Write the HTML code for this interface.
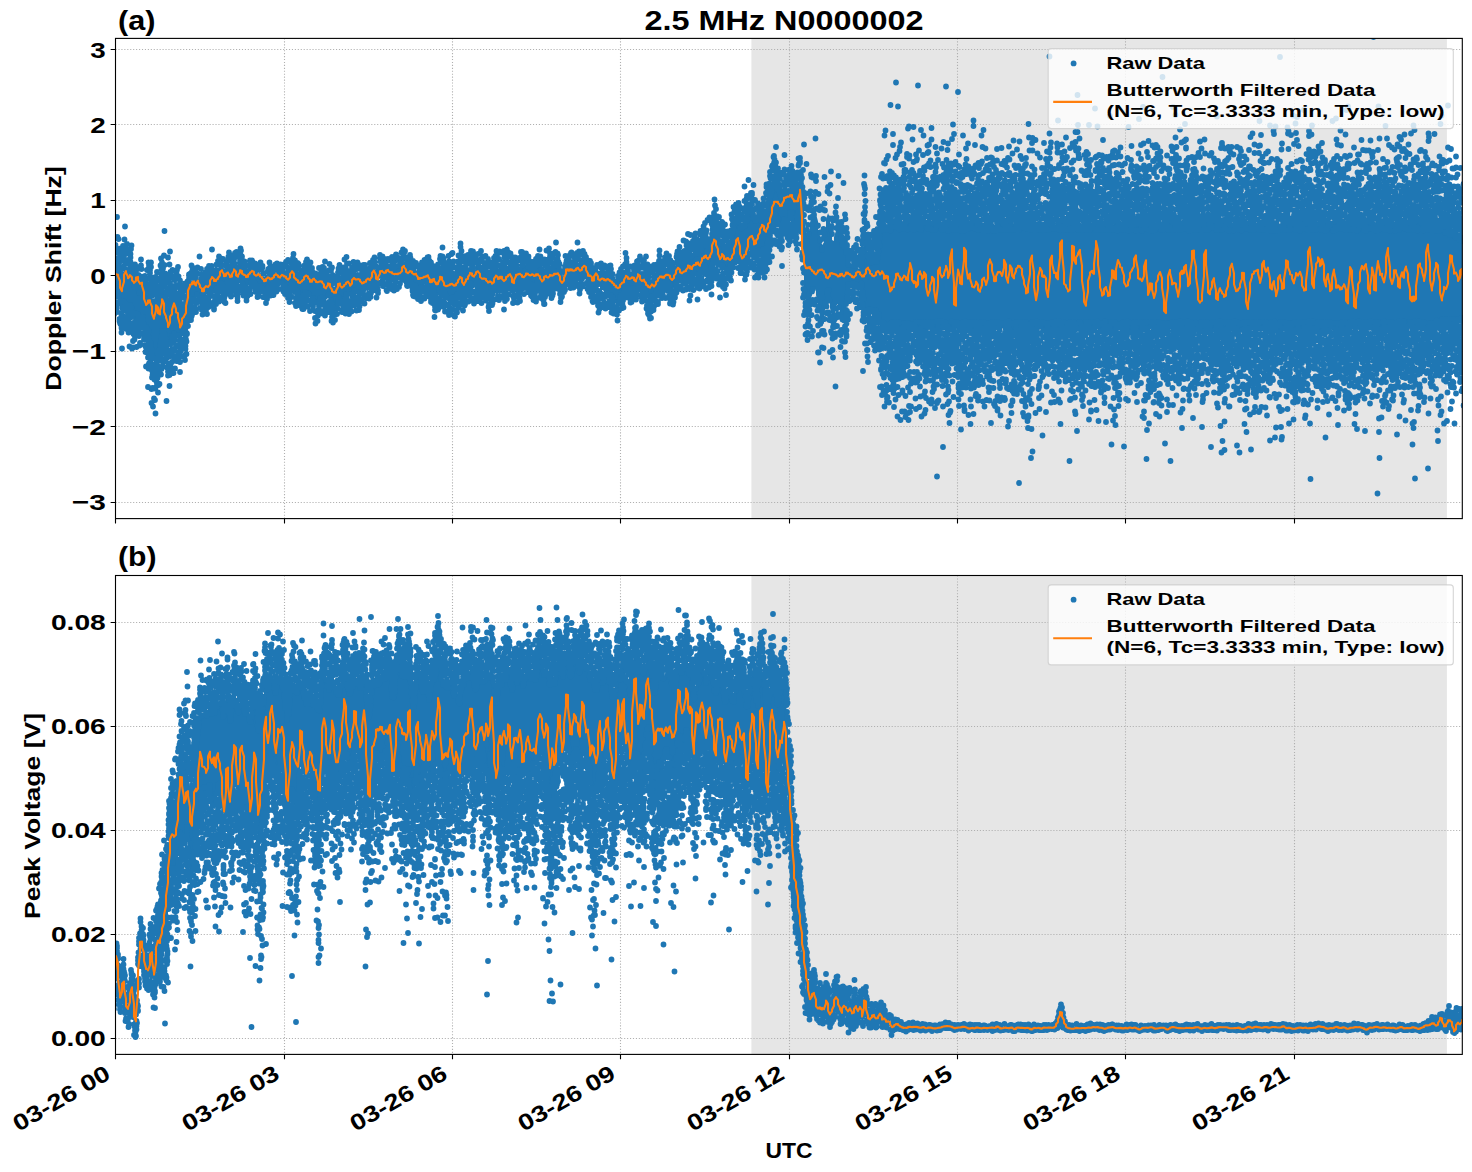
<!DOCTYPE html><html><head><meta charset="utf-8"><style>html,body{margin:0;padding:0;background:#fff;width:1472px;height:1172px;overflow:hidden}svg{display:block}text{font-family:"Liberation Sans",sans-serif;font-weight:bold;fill:#000}</style></head><body><svg width="1472" height="1172" viewBox="0 0 1472 1172"><defs><clipPath id="ca"><rect x="115.5" y="38.4" width="1346.8" height="480.20000000000005"/></clipPath><clipPath id="cb"><rect x="115.5" y="575.5" width="1346.8" height="478.9000000000001"/></clipPath></defs><rect x="751.4" y="38.4" width="695.5000000000001" height="480.20000000000005" fill="#e6e6e6"/><path d="M284.5 38.4V518.6M452.5 38.4V518.6M620.5 38.4V518.6M789.5 38.4V518.6M957.5 38.4V518.6M1125.5 38.4V518.6M1294.5 38.4V518.6M115.5 49.5H1462.3M115.5 124.5H1462.3M115.5 200.5H1462.3M115.5 275.5H1462.3M115.5 351.5H1462.3M115.5 426.5H1462.3M115.5 502.5H1462.3" stroke="#b0b0b0" stroke-width="1.11" stroke-dasharray="1.11 1.83" fill="none"/><g clip-path="url(#ca)"><path d="M112 275.8 114 269.3 114 262.1 116 258.5 116 258.1 118 258.3 118 260.7 120 268.1 120 278.0 122 282.2 122 277.4 124 270.3 124 266.0 126 264.6 126 267.8 128 272.8 128 272.5 130 268.1 130 267.1 132 272.2 132 279.2 134 285.1 134 287.5 136 285.2 136 281.7 138 282.1 138 286.9 140 291.0 140 289.8 142 286.2 142 285.7 144 288.5 144 290.3 146 290.3 146 289.4 148 288.7 148 289.1 150 291.6 150 295.5 152 299.8 152 304.9 154 308.3 154 307.6 156 304.1 156 301.1 158 301.7 158 302.7 160 300.3 160 295.3 162 289.2 162 285.4 164 286.3 164 290.7 166 294.2 166 296.3 168 301.4 168 305.5 170 303.8 170 300.9 172 299.8 172 297.4 174 294.7 174 296.1 176 299.3 176 299.1 178 296.5 178 295.9 180 298.3 180 301.3 182 302.8 182 301.9 184 302.2 184 304.1 186 304.3 186 300.5 188 293.7 188 287.2 190 283.7 190 283.2 192 283.5 192 282.0 194 280.9 194 283.1 196 284.1 196 280.5 198 277.0 198 278.4 200 282.2 200 284.1 202 286.2 202 288.6 204 287.6 204 284.1 206 281.5 206 280.1 208 279.9 208 280.9 210 280.9 210 278.8 212 277.0 212 277.9 214 279.9 214 279.9 216 277.3 216 274.3 218 271.9 218 270.4 220 269.7 220 269.1 222 269.3 222 271.3 224 273.8 224 274.5 226 272.6 226 269.4 228 267.1 228 266.8 230 268.1 230 269.4 232 268.7 232 266.4 234 264.1 234 263.8 236 266.5 236 269.8 238 270.4 238 268.2 240 265.4 240 263.8 242 264.9 242 268.7 244 272.2 244 273.7 246 275.3 246 276.6 248 276.2 248 275.2 250 274.0 250 272.4 252 270.1 252 267.8 254 267.9 254 270.0 256 273.1 256 275.1 258 275.1 258 274.9 260 275.3 260 276.0 262 276.2 262 277.1 264 279.3 264 280.7 266 280.4 266 279.6 268 279.1 268 277.9 270 276.4 270 275.8 272 275.3 272 274.3 274 273.0 274 272.5 276 272.8 276 272.5 278 272.7 278 273.8 280 274.0 280 273.6 282 273.4 282 273.8 284 273.7 284 272.8 286 272.7 286 274.5 288 276.9 288 278.0 290 276.4 290 272.7 292 269.4 292 268.6 294 270.4 294 272.9 296 273.8 296 273.7 298 275.3 298 279.4 300 282.5 300 282.3 302 280.4 302 279.3 304 277.2 304 273.8 306 273.0 306 274.3 308 274.8 308 275.5 310 277.3 310 280.6 312 283.6 312 282.6 314 280.3 314 281.5 316 284.7 316 287.5 318 289.0 318 288.4 320 286.2 320 284.3 322 282.3 322 280.6 324 281.3 324 283.6 326 285.1 326 285.0 328 282.8 328 280.3 330 279.7 330 282.0 332 286.4 332 290.4 334 293.2 334 294.4 336 293.5 336 290.0 338 285.3 338 282.4 340 282.0 340 283.2 342 284.2 342 283.5 344 281.4 344 279.9 346 278.6 346 277.6 348 277.3 348 279.5 350 283.1 350 282.7 352 279.3 352 276.6 354 276.0 354 277.7 356 279.3 356 279.9 358 279.6 358 278.1 360 277.1 360 277.8 362 279.4 362 279.1 364 277.0 364 275.0 366 274.3 366 273.7 368 273.2 368 273.9 370 274.5 370 273.3 372 270.6 372 267.4 374 265.5 374 266.4 376 270.4 376 274.4 378 275.1 378 272.3 380 268.0 380 264.6 382 263.1 382 263.6 384 265.4 384 267.3 386 268.0 386 266.6 388 265.3 388 266.2 390 267.9 390 267.9 392 267.2 392 267.7 394 268.4 394 267.5 396 266.7 396 266.9 398 266.8 398 266.9 400 268.2 400 268.3 402 265.5 402 261.6 404 259.8 404 261.0 406 262.7 406 264.2 408 265.5 408 265.7 410 266.2 410 267.4 412 268.3 412 269.7 414 271.6 414 272.6 416 272.1 416 273.6 418 277.1 418 278.6 420 277.4 420 275.9 422 275.0 422 274.7 424 273.6 424 272.0 426 272.0 426 272.0 428 271.4 428 271.7 430 273.5 430 275.4 432 275.6 432 274.5 434 274.1 434 276.8 436 280.7 436 281.9 438 280.3 438 276.8 440 271.5 440 267.6 442 266.9 442 268.2 444 270.5 444 273.7 446 276.5 446 278.1 448 279.7 448 280.3 450 279.1 450 277.0 452 276.1 452 277.4 454 279.4 454 280.0 456 278.5 456 276.4 458 274.7 458 272.2 460 268.8 460 267.0 462 268.2 462 271.3 464 274.4 464 275.3 466 273.9 466 272.6 468 272.3 468 270.6 470 267.0 470 265.0 472 266.1 472 269.5 474 272.3 474 272.0 476 269.0 476 265.3 478 262.8 478 262.6 480 265.5 480 269.8 482 272.5 482 272.5 484 271.2 484 270.5 486 271.6 486 273.6 488 275.5 488 276.7 490 276.4 490 275.4 492 274.7 492 273.8 494 272.1 494 269.3 496 266.3 496 266.0 498 268.0 498 268.5 500 267.1 500 265.8 502 265.7 502 267.7 504 270.6 504 271.4 506 269.7 506 267.1 508 265.3 508 264.1 510 262.4 510 263.0 512 267.4 512 272.9 514 275.9 514 275.0 516 272.7 516 272.0 518 271.9 518 271.1 520 269.4 520 267.2 522 266.0 522 265.6 524 265.3 524 264.8 526 263.9 526 263.0 528 263.7 528 265.2 530 267.2 530 270.2 532 272.1 532 272.1 534 271.8 534 271.3 536 268.7 536 266.0 538 265.0 538 265.3 540 267.3 540 271.3 542 275.4 542 277.2 544 276.4 544 274.6 546 273.7 546 272.3 548 270.2 548 269.1 550 268.7 550 269.4 552 270.5 552 269.7 554 267.2 554 265.3 556 264.8 556 265.4 558 266.8 558 269.6 560 273.8 560 278.8 562 280.8 562 278.6 564 276.1 564 274.0 566 269.0 566 264.2 568 264.4 568 265.7 570 264.9 570 263.6 572 264.1 572 265.4 574 265.5 574 264.9 576 264.1 576 261.8 578 261.0 578 263.5 580 266.0 580 266.6 582 265.8 582 263.9 584 262.2 584 261.7 586 262.5 586 264.6 588 267.2 588 268.9 590 269.2 590 269.3 592 272.2 592 277.4 594 279.6 594 277.8 596 276.4 596 277.8 598 282.4 598 287.6 600 288.5 600 284.9 602 280.4 602 277.8 604 277.6 604 278.6 606 279.3 606 278.3 608 278.1 608 279.6 610 280.3 610 279.9 612 280.6 612 282.8 614 285.5 614 287.7 616 288.6 616 288.4 618 287.7 618 287.1 620 285.6 620 282.9 622 281.0 622 280.4 624 279.4 624 276.5 626 273.0 626 271.8 628 274.2 628 277.2 630 279.4 630 280.0 632 278.6 632 276.7 634 275.9 634 277.4 636 278.5 636 276.6 638 272.6 638 269.6 640 268.9 640 270.5 642 273.2 642 274.6 644 273.6 644 273.4 646 276.1 646 279.6 648 283.4 648 286.0 650 286.8 650 285.4 652 281.9 652 280.4 654 281.7 654 280.6 656 276.7 656 274.5 658 273.7 658 271.1 660 268.5 660 267.4 662 267.0 662 267.4 664 267.5 664 266.0 666 265.6 666 267.2 668 268.4 668 268.5 670 269.7 670 273.0 672 276.0 672 276.5 674 276.1 674 275.3 676 273.4 676 269.3 678 263.5 678 259.5 680 259.4 680 261.6 682 263.1 682 263.2 684 261.7 684 259.1 686 257.6 686 257.4 688 256.9 688 256.2 690 256.3 690 256.7 692 256.6 692 254.9 694 253.3 694 254.2 696 256.0 696 255.5 698 253.6 698 253.5 700 253.1 700 249.2 702 244.8 702 243.3 704 243.7 704 243.4 706 243.7 706 247.1 708 250.6 708 250.5 710 248.6 710 246.1 712 241.2 712 235.3 714 231.9 714 230.9 716 231.8 716 234.4 718 237.4 718 239.8 720 242.2 720 243.8 722 243.1 722 243.3 724 247.0 724 250.3 726 251.0 726 250.9 728 250.2 728 249.0 730 246.7 730 242.2 732 236.5 732 230.9 734 225.8 734 221.3 736 218.0 736 216.2 738 215.8 738 217.7 740 222.2 740 227.2 742 229.8 742 228.6 744 225.3 744 224.5 746 225.6 746 223.7 748 217.8 748 211.7 750 209.1 750 209.6 752 210.5 752 212.1 754 216.8 754 221.4 756 221.6 756 220.1 758 219.9 758 219.8 760 218.9 760 217.6 762 216.3 762 214.5 764 213.4 764 213.7 766 213.8 766 212.1 768 208.2 768 204.1 770 200.7 770 196.5 772 190.4 772 185.3 774 182.6 774 181.3 776 182.3 776 185.1 778 187.9 778 191.2 780 193.6 780 194.8 782 196.2 782 196.3 784 194.0 784 192.1 786 192.1 786 191.6 788 190.2 788 189.4 790 187.9 790 185.5 792 184.6 792 187.5 794 192.4 794 195.3 796 195.7 796 194.3 798 191.2 798 185.6 800 179.5 800 177.0 802 188.1 802 199.9 804 208.0 804 219.7 806 230.6 806 234.9 808 236.3 808 234.0 810 228.6 810 222.6 812 216.5 812 211.8 814 209.9 814 209.6 816 210.3 816 213.9 818 221.2 818 229.5 820 236.1 820 240.5 822 244.0 822 245.2 824 242.2 824 235.6 826 227.1 826 218.7 828 213.2 828 213.1 830 217.9 830 225.5 832 233.9 832 240.1 834 241.1 834 236.9 836 230.4 836 226.2 838 225.3 838 226.7 840 230.3 840 236.7 842 243.2 842 245.7 844 244.8 844 244.1 846 247.4 846 253.8 848 260.3 848 263.9 850 264.0 850 264.4 852 264.2 852 263.0 854 262.8 854 264.2 856 265.7 856 266.6 858 267.4 858 268.4 860 267.9 860 266.4 862 265.7 862 257.0 864 239.8 864 224.0 866 224.9 866 239.6 868 253.2 868 260.0 870 260.0 870 259.7 872 259.9 872 260.3 874 259.6 874 259.3 876 259.7 876 259.8 878 259.3 878 253.7 880 242.7 880 231.4 882 225.1 882 223.7 884 222.0 884 221.5 886 222.8 886 224.4 888 224.3 888 222.9 890 222.5 890 223.0 892 222.7 892 221.9 894 221.4 894 220.6 896 219.7 896 219.5 898 220.7 898 222.0 900 221.5 900 220.1 902 219.1 902 220.3 904 222.7 904 223.5 906 223.1 906 222.8 908 222.9 908 222.5 910 221.3 910 221.0 912 221.2 912 221.2 914 221.3 914 221.5 916 221.3 916 221.7 918 221.9 918 222.0 920 221.9 920 221.2 922 221.0 922 222.0 924 223.1 924 223.0 926 221.8 926 221.4 928 221.9 928 221.9 930 222.6 930 223.0 932 221.6 932 220.5 934 221.0 934 221.8 936 222.1 936 222.5 938 223.1 938 222.9 940 222.1 940 222.1 942 222.1 942 221.4 944 221.1 944 221.4 946 222.0 946 222.3 948 222.4 948 221.9 950 221.5 950 221.8 952 222.1 952 222.0 954 222.0 954 222.1 956 222.0 956 221.8 958 222.5 958 223.1 960 222.7 960 222.3 962 222.1 962 222.6 964 223.2 964 222.3 966 221.2 966 221.9 968 223.0 968 222.7 970 222.0 970 222.1 972 222.2 972 221.3 974 221.1 974 221.4 976 221.6 976 221.4 978 221.0 978 220.8 980 221.3 980 222.3 982 222.7 982 222.5 984 223.0 984 223.8 986 223.6 986 222.6 988 221.8 988 221.7 990 222.0 990 222.3 992 222.2 992 223.0 994 224.3 994 225.0 996 224.8 996 224.5 998 224.2 998 222.7 1000 221.9 1000 223.0 1002 223.4 1002 222.4 1004 221.5 1004 221.8 1006 222.8 1006 222.9 1008 222.7 1008 222.9 1010 223.0 1010 222.9 1012 222.9 1012 223.2 1014 223.5 1014 222.7 1016 222.8 1016 223.5 1018 223.4 1018 222.6 1020 221.8 1020 221.4 1022 221.7 1022 222.0 1024 221.8 1024 221.6 1026 222.5 1026 223.5 1028 223.9 1028 223.5 1030 222.0 1030 220.7 1032 220.9 1032 221.9 1034 222.3 1034 221.7 1036 221.3 1036 221.7 1038 222.4 1038 222.6 1040 222.5 1040 223.0 1042 223.0 1042 222.3 1044 221.5 1044 221.2 1046 220.9 1046 220.3 1048 220.5 1048 222.1 1050 223.2 1050 222.2 1052 221.4 1052 221.8 1054 222.4 1054 223.6 1056 224.4 1056 223.9 1058 222.8 1058 222.2 1060 222.7 1060 222.6 1062 221.2 1062 220.6 1064 221.8 1064 222.6 1066 222.5 1066 222.3 1068 222.6 1068 222.8 1070 222.1 1070 221.6 1072 221.5 1072 222.0 1074 222.0 1074 221.0 1076 219.7 1076 219.7 1078 220.3 1078 220.5 1080 221.2 1080 222.7 1082 223.7 1082 223.4 1084 222.5 1084 222.1 1086 222.1 1086 221.3 1088 221.1 1088 222.5 1090 223.7 1090 223.5 1092 222.2 1092 221.3 1094 221.0 1094 221.7 1096 222.6 1096 222.2 1098 221.3 1098 220.9 1100 221.5 1100 222.1 1102 221.8 1102 221.2 1104 221.4 1104 222.2 1106 222.4 1106 222.8 1108 223.6 1108 223.4 1110 222.5 1110 222.6 1112 222.8 1112 223.3 1114 224.2 1114 223.8 1116 222.8 1116 222.4 1118 223.1 1118 223.7 1120 223.1 1120 222.3 1122 222.0 1122 221.8 1124 222.4 1124 222.9 1126 222.9 1126 222.7 1128 223.6 1128 224.6 1130 224.4 1130 223.5 1132 223.0 1132 223.1 1134 222.8 1134 222.6 1136 222.3 1136 222.1 1138 222.6 1138 222.7 1140 222.4 1140 222.0 1142 222.0 1142 222.6 1144 222.9 1144 222.1 1146 221.9 1146 221.8 1148 221.3 1148 221.7 1150 222.8 1150 223.5 1152 224.2 1152 225.0 1154 224.5 1154 222.8 1156 221.7 1156 221.7 1158 222.1 1158 221.8 1160 221.0 1160 220.9 1162 221.6 1162 221.8 1164 222.0 1164 223.0 1166 223.5 1166 223.0 1168 222.7 1168 222.5 1170 222.3 1170 222.7 1172 222.8 1172 222.0 1174 221.5 1174 221.4 1176 221.8 1176 221.8 1178 221.0 1178 220.9 1180 222.0 1180 222.5 1182 222.8 1182 222.9 1184 222.8 1184 222.9 1186 223.4 1186 223.4 1188 222.6 1188 221.1 1190 220.3 1190 221.5 1192 222.9 1192 222.5 1194 222.2 1194 222.6 1196 222.5 1196 222.2 1198 222.0 1198 222.5 1200 222.6 1200 222.1 1202 221.9 1202 222.4 1204 223.0 1204 222.9 1206 222.3 1206 221.5 1208 221.2 1208 221.4 1210 221.8 1210 222.2 1212 222.1 1212 222.0 1214 221.8 1214 222.1 1216 223.2 1216 223.6 1218 223.2 1218 223.5 1220 224.1 1220 223.6 1222 223.0 1222 223.0 1224 222.7 1224 221.8 1226 221.4 1226 221.5 1228 222.3 1228 223.4 1230 224.6 1230 224.7 1232 223.6 1232 223.4 1234 224.9 1234 225.8 1236 224.2 1236 223.0 1238 222.9 1238 222.5 1240 222.0 1240 221.7 1242 221.7 1242 221.6 1244 221.5 1244 222.0 1246 222.6 1246 222.8 1248 222.1 1248 221.2 1250 220.9 1250 221.1 1252 221.8 1252 222.5 1254 222.7 1254 222.0 1256 222.0 1256 222.9 1258 222.9 1258 221.9 1260 221.3 1260 221.6 1262 221.4 1262 220.7 1264 220.9 1264 221.7 1266 221.9 1266 221.4 1268 221.7 1268 222.8 1270 223.3 1270 222.3 1272 221.4 1272 221.6 1274 222.6 1274 223.6 1276 224.0 1276 223.4 1278 222.9 1278 223.6 1280 224.3 1280 223.8 1282 223.0 1282 222.3 1284 222.4 1284 222.8 1286 222.7 1286 222.7 1288 223.5 1288 224.5 1290 224.0 1290 222.9 1292 223.2 1292 223.7 1294 223.1 1294 222.5 1296 221.9 1296 221.4 1298 222.3 1298 223.1 1300 222.5 1300 221.8 1302 221.0 1302 220.3 1304 220.0 1304 220.4 1306 221.2 1306 221.6 1308 221.4 1308 221.3 1310 221.9 1310 223.0 1312 223.9 1312 223.3 1314 222.3 1314 222.2 1316 222.1 1316 221.6 1318 221.8 1318 222.2 1320 223.1 1320 224.1 1322 223.7 1322 222.6 1324 222.3 1324 222.9 1326 222.7 1326 221.4 1328 220.5 1328 220.4 1330 220.8 1330 221.7 1332 222.6 1332 223.3 1334 223.7 1334 223.1 1336 222.0 1336 221.7 1338 222.0 1338 222.4 1340 222.7 1340 223.5 1342 224.2 1342 224.3 1344 223.8 1344 222.8 1346 222.8 1346 223.2 1348 223.2 1348 222.4 1350 221.6 1350 221.6 1352 221.8 1352 222.3 1354 222.4 1354 221.4 1356 220.9 1356 221.8 1358 222.7 1358 223.4 1360 223.9 1360 224.3 1362 224.3 1362 223.7 1364 223.4 1364 223.4 1366 222.8 1366 222.3 1368 222.5 1368 222.4 1370 222.0 1370 222.0 1372 222.5 1372 222.6 1374 223.0 1374 223.1 1376 222.3 1376 222.3 1378 222.7 1378 221.7 1380 220.9 1380 221.6 1382 222.6 1382 222.4 1384 221.7 1384 222.2 1386 223.7 1386 224.4 1388 224.5 1388 224.7 1390 224.1 1390 222.9 1392 223.0 1392 222.9 1394 223.5 1394 224.7 1396 224.6 1396 223.3 1398 221.7 1398 221.1 1400 221.8 1400 222.1 1402 222.0 1402 221.7 1404 221.8 1404 221.9 1406 221.4 1406 221.4 1408 221.6 1408 222.3 1410 222.7 1410 222.6 1412 222.3 1412 222.5 1414 223.0 1414 223.2 1416 222.9 1416 222.8 1418 223.0 1418 222.9 1420 223.0 1420 223.4 1422 223.1 1422 222.6 1424 222.5 1424 222.7 1426 222.6 1426 222.4 1428 222.4 1428 223.2 1430 224.2 1430 224.5 1432 224.3 1432 224.2 1434 223.9 1434 224.1 1436 224.3 1436 223.8 1438 223.3 1438 224.0 1440 225.7 1440 226.7 1442 226.5 1442 226.0 1444 225.8 1444 225.5 1446 225.1 1446 224.9 1448 224.9 1448 225.3 1450 226.2 1450 227.6 1452 228.4 1452 228.6 1454 229.0 1454 229.9 1456 230.6 1456 230.8 1458 231.2 1458 232.7 1460 234.1 1460 234.3 1462 234.2 1462 235.0 1464 235.7 1464 235.5 1464 325.7 1464 325.0 1462 323.9 1462 323.4 1460 323.1 1460 323.3 1458 323.4 1458 324.0 1456 324.8 1456 324.3 1454 324.0 1454 324.4 1452 324.5 1452 324.5 1450 325.5 1450 326.2 1448 325.8 1448 326.0 1446 326.2 1446 325.7 1444 325.5 1444 326.0 1442 327.1 1442 328.0 1440 328.1 1440 328.2 1438 329.0 1438 329.7 1436 329.9 1436 329.2 1434 329.1 1434 329.9 1432 330.1 1432 329.7 1430 329.0 1430 328.1 1428 328.0 1428 328.2 1426 328.9 1426 330.1 1424 330.8 1424 331.2 1422 330.9 1422 329.8 1420 329.4 1420 330.2 1418 330.9 1418 331.2 1416 330.4 1416 328.8 1414 329.1 1414 329.7 1412 329.9 1412 330.7 1410 330.4 1410 328.6 1408 327.3 1408 327.2 1406 328.4 1406 329.7 1404 330.8 1404 331.2 1402 331.0 1402 330.7 1400 330.4 1400 330.5 1398 330.0 1398 329.7 1396 330.1 1396 330.3 1394 330.5 1394 330.6 1392 330.7 1392 330.8 1390 331.2 1390 331.1 1388 331.0 1388 331.0 1386 330.7 1386 331.1 1384 331.3 1384 330.5 1382 329.4 1382 329.0 1380 329.8 1380 330.5 1378 330.0 1378 329.9 1376 330.3 1376 330.4 1374 330.0 1374 329.3 1372 328.4 1372 328.8 1370 329.7 1370 330.2 1368 330.1 1368 329.5 1366 329.1 1366 329.4 1364 330.0 1364 330.4 1362 331.0 1362 331.8 1360 331.7 1360 330.4 1358 329.7 1358 329.8 1356 330.3 1356 330.4 1354 330.1 1354 329.4 1352 328.8 1352 328.8 1350 328.8 1350 327.9 1348 327.7 1348 328.3 1346 329.2 1346 329.5 1344 329.0 1344 329.2 1342 329.6 1342 329.2 1340 328.6 1340 328.8 1338 329.6 1338 329.5 1336 328.4 1336 328.6 1334 330.2 1334 330.6 1332 330.2 1332 329.7 1330 329.7 1330 330.5 1328 330.8 1328 329.9 1326 329.4 1326 329.0 1324 329.1 1324 330.3 1322 331.4 1322 330.8 1320 330.6 1320 331.5 1318 331.3 1318 331.0 1316 331.3 1316 331.4 1314 331.1 1314 330.8 1312 330.2 1312 329.4 1310 329.2 1310 330.0 1308 331.0 1308 330.8 1306 329.7 1306 329.8 1304 331.2 1304 331.8 1302 330.9 1302 329.8 1300 329.1 1300 328.6 1298 329.1 1298 329.7 1296 330.2 1296 330.4 1294 329.8 1294 329.4 1292 329.4 1292 329.5 1290 329.9 1290 330.3 1288 329.7 1288 329.0 1286 328.6 1286 329.1 1284 330.0 1284 330.1 1282 329.3 1282 328.9 1280 329.4 1280 330.8 1278 332.0 1278 331.7 1276 330.7 1276 330.3 1274 329.4 1274 327.9 1272 327.5 1272 328.5 1270 329.9 1270 331.0 1268 331.3 1268 331.3 1266 331.3 1266 330.8 1264 330.3 1264 330.7 1262 331.0 1262 331.5 1260 331.7 1260 331.2 1258 331.0 1258 330.6 1256 330.9 1256 331.3 1254 330.8 1254 330.3 1252 330.4 1252 330.4 1250 330.1 1250 330.3 1248 330.3 1248 330.4 1246 331.2 1246 331.4 1244 330.5 1244 330.0 1242 330.4 1242 330.9 1240 331.2 1240 331.2 1238 331.1 1238 331.2 1236 331.0 1236 330.0 1234 329.2 1234 329.2 1232 330.2 1232 331.2 1230 332.0 1230 332.3 1228 331.1 1228 330.1 1226 329.8 1226 329.4 1224 330.2 1224 331.9 1222 332.2 1222 331.2 1220 330.9 1220 331.7 1218 331.6 1218 330.8 1216 331.0 1216 331.3 1214 330.8 1214 330.4 1212 330.1 1212 330.1 1210 330.5 1210 330.4 1208 330.6 1208 330.4 1206 330.0 1206 330.0 1204 330.1 1204 330.0 1202 330.4 1202 331.2 1200 331.3 1200 330.5 1198 330.1 1198 329.9 1196 329.0 1196 327.8 1194 327.3 1194 328.0 1192 328.6 1192 329.2 1190 329.8 1190 329.4 1188 328.5 1188 328.2 1186 328.9 1186 330.9 1184 332.3 1184 331.4 1182 329.8 1182 329.2 1180 329.5 1180 329.9 1178 329.9 1178 330.2 1176 331.3 1176 331.5 1174 330.6 1174 329.9 1172 329.4 1172 329.3 1170 329.2 1170 329.3 1168 329.6 1168 329.9 1166 330.3 1166 330.0 1164 329.1 1164 329.2 1162 329.7 1162 329.6 1160 329.4 1160 328.9 1158 328.5 1158 328.4 1156 329.1 1156 330.3 1154 331.0 1154 330.9 1152 329.7 1152 328.8 1150 329.0 1150 329.2 1148 330.0 1148 332.0 1146 333.3 1146 333.3 1144 332.1 1144 329.9 1142 329.8 1142 331.8 1140 332.2 1140 331.3 1138 330.7 1138 330.0 1136 330.0 1136 330.8 1134 331.2 1134 331.3 1132 331.2 1132 331.1 1130 330.9 1130 330.4 1128 329.6 1128 328.8 1126 329.2 1126 330.0 1124 329.8 1124 328.8 1122 328.2 1122 328.2 1120 328.8 1120 329.9 1118 330.0 1118 329.8 1116 330.6 1116 330.9 1114 330.9 1114 331.6 1112 332.0 1112 331.8 1110 330.7 1110 329.5 1108 329.1 1108 329.0 1106 329.5 1106 330.3 1104 330.5 1104 329.9 1102 329.2 1102 329.3 1100 330.1 1100 330.5 1098 330.1 1098 329.5 1096 329.2 1096 329.9 1094 330.7 1094 330.4 1092 329.8 1092 329.9 1090 329.9 1090 329.4 1088 329.5 1088 329.7 1086 329.4 1086 329.4 1084 329.3 1084 329.4 1082 329.3 1082 329.0 1080 328.9 1080 329.9 1078 331.1 1078 330.7 1076 330.0 1076 329.7 1074 329.1 1074 329.1 1072 329.7 1072 329.9 1070 329.9 1070 330.5 1068 331.3 1068 331.8 1066 331.4 1066 331.0 1064 331.4 1064 330.6 1062 329.4 1062 329.9 1060 331.0 1060 331.3 1058 331.2 1058 331.2 1056 330.3 1056 328.8 1054 328.9 1054 330.5 1052 331.1 1052 330.6 1050 330.4 1050 329.9 1048 329.1 1048 328.2 1046 328.2 1046 329.6 1044 330.5 1044 329.8 1042 329.2 1042 329.0 1040 328.5 1040 328.7 1038 329.1 1038 329.0 1036 329.5 1036 330.8 1034 330.8 1034 330.2 1032 330.3 1032 329.8 1030 329.0 1030 328.8 1028 328.6 1028 328.8 1026 328.8 1026 328.9 1024 329.3 1024 329.7 1022 329.6 1022 329.1 1020 328.8 1020 329.8 1018 330.9 1018 330.8 1016 329.8 1016 329.4 1014 330.4 1014 331.7 1012 332.1 1012 331.5 1010 331.0 1010 331.2 1008 331.1 1008 330.2 1006 329.2 1006 328.5 1004 328.1 1004 327.9 1002 328.5 1002 329.2 1000 329.8 1000 329.5 998 328.7 998 329.2 996 330.0 996 329.5 994 329.4 994 330.5 992 331.3 992 330.4 990 329.5 990 329.9 988 330.2 988 330.6 986 330.7 986 330.1 984 329.8 984 329.9 982 329.7 982 329.9 980 331.1 980 331.9 978 331.6 978 330.4 976 329.3 976 328.7 974 328.4 974 329.5 972 330.5 972 330.6 970 330.1 970 329.5 968 329.8 968 330.0 966 329.6 966 329.8 964 329.5 964 328.1 962 328.1 962 329.3 960 330.7 960 331.0 958 330.6 958 329.7 956 328.7 956 327.9 954 328.9 954 330.1 952 329.8 952 328.9 950 329.0 950 330.1 948 331.1 948 331.0 946 330.3 946 329.9 944 330.2 944 329.7 942 328.8 942 329.2 940 330.4 940 330.9 938 330.0 938 328.5 936 328.3 936 329.3 934 329.9 934 329.9 932 329.8 932 329.8 930 329.7 930 329.7 928 330.1 928 331.1 926 331.5 926 330.7 924 329.9 924 329.9 922 330.6 922 330.5 920 329.8 920 329.7 918 330.0 918 330.3 916 330.3 916 330.8 914 330.5 914 329.2 912 328.9 912 329.3 910 330.2 910 330.5 908 329.8 908 330.3 906 330.6 906 329.7 904 329.9 904 331.0 902 331.9 902 332.3 900 332.1 900 331.9 898 331.4 898 331.6 896 332.3 896 332.6 894 332.1 894 330.7 892 329.9 892 330.5 890 330.5 890 330.5 888 331.2 888 331.2 886 329.9 886 328.6 884 328.3 884 328.8 882 329.1 882 329.4 880 327.5 880 323.4 878 318.6 878 315.7 876 314.9 876 313.9 874 313.7 874 313.8 872 313.7 872 314.1 870 314.1 870 313.5 868 313.3 868 314.0 866 316.0 866 317.6 864 312.3 864 300.9 862 290.1 862 284.9 860 284.7 860 283.9 858 283.4 858 283.6 856 283.8 856 283.8 854 283.9 854 283.4 852 282.3 852 282.7 850 284.2 850 284.7 848 284.4 848 289.6 846 301.6 846 314.8 844 322.0 844 322.9 842 322.8 842 320.0 840 315.2 840 309.7 838 305.2 838 304.0 836 305.8 836 310.0 834 315.9 834 320.9 832 321.8 832 317.0 830 308.1 830 299.6 828 295.4 828 295.2 826 298.5 826 305.3 824 314.7 824 322.9 822 326.4 822 325.1 820 321.3 820 315.5 818 308.9 818 302.1 816 295.2 816 289.9 814 287.6 814 288.9 812 292.3 812 295.6 810 300.3 810 306.8 808 311.8 808 312.8 806 310.4 806 305.7 804 290.9 804 270.3 802 251.6 802 224.0 800 202.4 800 205.4 798 212.7 798 218.3 796 221.3 796 223.9 794 225.0 794 222.3 792 216.8 792 212.6 790 212.4 790 215.3 788 217.8 788 219.2 786 221.0 786 221.2 784 219.2 784 219.3 782 222.2 782 224.9 780 225.7 780 224.2 778 221.2 778 218.7 776 217.7 776 216.0 774 214.5 774 215.5 772 219.7 772 226.0 770 231.2 770 234.6 768 238.6 768 243.9 766 248.4 766 250.3 764 250.4 764 250.3 762 251.4 762 253.1 760 254.1 760 253.5 758 253.2 758 252.5 756 250.7 756 250.9 754 251.7 754 247.9 752 242.7 752 242.1 750 242.3 750 240.5 748 242.2 748 249.0 746 254.3 746 254.2 744 252.6 744 253.2 742 255.2 742 256.4 740 255.0 740 250.3 738 245.0 738 242.6 736 242.3 736 242.9 734 246.1 734 250.9 732 255.0 732 258.9 730 263.7 730 268.2 728 270.7 728 271.6 726 272.4 726 272.5 724 270.6 724 267.7 722 265.8 722 267.2 720 269.1 720 267.5 718 264.1 718 261.5 716 258.5 716 255.5 714 254.4 714 256.6 712 262.0 712 269.2 710 272.9 710 273.0 708 274.0 708 274.0 706 269.9 706 265.2 704 263.9 704 264.3 702 264.7 702 267.1 700 271.5 700 274.5 698 274.7 698 274.1 696 274.5 696 275.0 694 274.5 694 273.7 692 274.7 692 276.5 690 276.9 690 276.0 688 276.0 688 277.8 686 279.0 686 279.3 684 279.6 684 280.0 682 280.1 682 279.5 680 277.9 680 275.9 678 275.9 678 278.4 676 281.4 676 283.9 674 285.7 674 287.6 672 290.0 672 290.4 670 287.8 670 285.0 668 283.7 668 282.7 666 281.2 666 280.6 664 281.9 664 283.8 662 284.0 662 283.0 660 282.4 660 283.9 658 286.8 658 289.1 656 291.0 656 294.0 654 297.6 654 298.1 652 296.9 652 298.3 650 301.7 650 303.3 648 301.8 648 298.5 646 294.5 646 290.8 644 288.4 644 288.9 642 291.2 642 291.0 640 287.0 640 282.4 638 280.5 638 282.1 636 286.1 636 288.7 634 288.1 634 286.8 632 288.0 632 290.1 630 291.2 630 291.2 628 289.3 628 285.7 626 282.8 626 283.9 624 288.6 624 292.6 622 294.3 622 295.7 620 297.1 620 298.0 618 299.1 618 300.3 616 301.3 616 302.1 614 301.0 614 298.0 612 295.5 612 294.4 610 293.9 610 293.4 608 292.8 608 292.7 606 293.9 606 294.9 604 293.5 604 291.0 602 290.0 602 291.7 600 295.4 600 298.1 598 297.0 598 293.1 596 289.7 596 289.1 594 291.6 594 293.7 592 291.6 592 285.7 590 281.7 590 281.6 588 281.5 588 279.9 586 277.9 586 276.1 584 275.1 584 275.4 582 276.8 582 278.5 580 279.6 580 278.6 578 276.1 578 275.9 576 277.4 576 277.6 574 276.7 574 276.2 572 276.5 572 277.0 570 277.2 570 277.0 568 275.3 568 273.4 566 274.6 566 279.0 564 283.8 564 286.9 562 288.2 562 288.8 560 287.1 560 283.5 558 280.1 558 277.9 556 277.7 556 278.2 554 278.7 554 279.6 552 280.5 552 281.4 550 282.2 550 283.1 548 283.4 548 283.8 546 285.4 546 288.1 544 290.6 544 291.3 542 290.2 542 288.0 540 285.5 540 283.5 538 281.6 538 280.4 536 281.1 536 282.9 534 284.6 534 284.8 532 284.2 532 284.5 530 284.9 530 283.3 528 279.6 528 275.6 526 272.7 526 273.1 524 276.1 524 278.7 522 280.3 522 281.2 520 282.3 520 283.7 518 285.4 518 286.2 516 285.8 516 286.1 514 288.0 514 289.1 512 286.8 512 282.6 510 279.5 510 279.0 508 280.3 508 281.4 506 282.7 506 286.1 504 289.2 504 288.6 502 285.1 502 283.0 500 284.3 500 286.1 498 285.9 498 283.4 496 281.3 496 281.9 494 285.0 494 289.0 492 291.2 492 291.4 490 291.7 490 293.2 488 294.2 488 292.1 486 288.4 486 286.0 484 285.5 484 286.8 482 287.6 482 286.7 480 284.2 480 280.5 478 278.8 478 280.0 476 282.7 476 285.1 474 287.2 474 288.4 472 287.3 472 285.3 470 284.2 470 284.6 468 287.0 468 289.2 466 290.0 466 291.2 464 293.6 464 293.7 462 290.7 462 287.3 460 285.8 460 287.2 458 291.6 458 294.9 456 297.1 456 300.0 454 301.4 454 300.0 452 298.1 452 297.3 450 298.1 450 299.7 448 301.0 448 301.1 446 299.4 446 297.0 444 294.3 444 290.1 442 285.5 442 283.2 440 285.0 440 289.5 438 294.3 438 297.1 436 297.4 436 296.1 434 293.2 434 290.7 432 290.5 432 291.1 430 290.5 430 287.9 428 284.7 428 283.3 426 284.1 426 284.7 424 284.6 424 284.8 422 285.8 422 287.1 420 287.4 420 287.6 418 288.4 418 287.4 416 285.3 416 284.7 414 285.5 414 284.9 412 282.0 412 278.9 410 277.4 410 277.3 408 277.5 408 277.0 406 275.3 406 272.7 404 270.3 404 269.0 402 270.1 402 272.9 400 274.9 400 275.5 398 275.5 398 276.0 396 276.0 396 275.5 394 275.7 394 277.1 392 277.6 392 277.5 390 278.2 390 278.4 388 277.7 388 276.6 386 276.5 386 277.4 384 276.9 384 274.8 382 272.8 382 272.1 380 273.8 380 277.2 378 281.5 378 284.4 376 283.7 376 279.1 374 274.6 374 274.3 372 277.1 372 281.3 370 285.2 370 286.3 368 285.0 368 284.4 366 285.4 366 286.4 364 287.4 364 288.8 362 290.4 362 291.5 360 291.8 360 292.1 358 293.4 358 294.1 356 294.0 356 292.2 354 289.1 354 289.1 352 292.7 352 297.3 350 299.2 350 296.7 348 293.8 348 293.8 346 294.9 346 296.3 344 297.5 344 298.8 342 300.2 342 300.4 340 299.0 340 297.8 338 299.8 338 304.3 336 308.7 336 311.5 334 312.0 334 310.8 332 309.5 332 305.9 330 300.9 330 297.4 328 296.1 328 297.3 326 300.3 326 302.1 324 301.8 324 300.4 322 299.5 322 299.3 320 299.8 320 301.1 318 302.2 318 303.0 316 302.8 316 301.7 314 299.4 314 297.8 312 298.4 312 299.5 310 299.2 310 297.5 308 295.5 308 294.3 306 294.0 306 293.9 304 294.4 304 295.6 302 296.2 302 296.9 300 297.3 300 296.5 298 295.2 298 292.3 296 289.3 296 287.8 294 285.6 294 282.2 292 280.5 292 281.4 290 284.0 290 287.0 288 288.6 288 287.9 286 285.3 286 284.0 284 285.1 284 285.8 282 284.2 282 282.7 280 282.7 280 282.1 278 280.8 278 280.3 276 280.2 276 280.2 274 281.3 274 282.6 272 284.0 272 285.2 270 285.8 270 286.7 268 287.9 268 288.7 266 289.9 266 290.8 264 289.6 264 287.4 262 286.5 262 287.4 260 288.4 260 287.9 258 286.7 258 286.5 256 286.6 256 285.5 254 283.2 254 280.6 252 279.2 252 280.3 250 282.4 250 284.2 248 286.1 248 288.5 246 289.7 246 288.3 244 286.4 244 284.9 242 281.5 242 277.8 240 277.1 240 279.8 238 283.6 238 285.5 236 284.0 236 279.6 234 277.4 234 278.6 232 280.5 232 282.7 230 283.7 230 282.1 228 279.7 228 279.9 226 282.5 226 285.8 224 288.1 224 287.3 222 284.6 222 282.4 220 282.9 220 284.3 218 284.6 218 285.5 216 288.4 216 292.2 214 294.2 214 293.9 212 291.7 212 289.9 210 291.1 210 294.1 208 295.7 208 295.1 206 294.7 206 295.7 204 298.3 204 302.0 202 303.1 202 301.6 200 300.8 200 299.7 198 296.3 198 295.0 196 298.6 196 301.7 194 299.6 194 297.5 192 300.1 192 303.5 190 304.2 190 304.5 188 308.1 188 315.3 186 323.3 186 329.6 184 332.7 184 332.9 182 334.2 182 337.2 180 338.3 180 337.2 178 336.1 178 337.3 176 339.9 176 339.3 174 335.2 174 333.9 172 337.6 172 341.4 170 343.5 170 346.3 168 348.8 168 346.5 166 342.2 166 339.4 164 336.0 164 332.9 162 333.0 162 337.8 160 346.1 160 353.0 158 355.5 158 355.2 156 356.4 156 359.4 154 361.5 154 361.0 152 356.9 152 351.1 150 345.2 150 338.8 148 334.6 148 333.2 146 332.0 146 329.3 144 324.7 144 319.0 142 314.5 142 316.0 140 321.6 140 323.4 138 319.7 138 315.4 136 315.7 136 319.7 134 322.5 134 320.7 132 314.7 132 307.6 130 304.0 130 307.6 128 313.3 128 313.5 126 308.8 126 303.7 124 302.6 124 306.5 122 311.3 122 313.3 120 309.8 120 301.1 118 293.3 118 289.3 116 287.1 116 286.9 114 291.0 114 296.9 112 301.6Z" fill="#1f77b4"/><path d="M0 0m112 327.5h0m0-60.5h0m0 4h0m0 3h0m0-21h0m0 15h0m0.5 46h0m0-11.5h0m0 4.5h0m0-47.5h0m0 13.5h0m0.5 52.5h0m0-64h0m0 7h0m0-17.5h0m0.5 4h0m0 61.5h0m0.5-3.5h0m0-43h0m0 29h0m0-3.5h0m0.5-4.5h0m0 22.5h0m0.5-49h0m0 23h0m0.5-42.5h0m0 1h0m0.5 3h0m1 54h0m0-86h0m0 95h0m0-4h0m0.5-71h0m0.5 51.5h0m0-30.5h0m0.5 36h0m0-41.5h0m0-13.5h0m0.5 58h0m0-31.5h0m0.5-3.5h0m0 57h0m0-15.5h0m0 17.5h0m0.5-66h0m0 46h0m0-32.5h0m0 54.5h0m0.5 1h0m0-75.5h0m0.5 28h0m0-4h0m0 40.5h0m0.5 2.5h0m0 17h0m0-52.5h0m0 48h0m0.5 20.5h0m0.5-88.5h0m0 8.5h0m0 8.5h0m0-2.5h0m0.5-28.5h0m0 70.5h0m0.5 9h0m0-18h0m0-56h0m0 59.5h0m0.5-54.5h0m0 10h0m0 35h0m0.5-62h0m0 83.5h0m0-4h0m0.5-56.5h0m0-36h0m0.5 77h0m0-43.5h0m0.5-14.5h0m0.5 83.5h0m0-80h0m0.5 4h0m0 55h0m0-64h0m0.5 26h0m0 3.5h0m0.5 40h0m0 10h0m0.5-49.5h0m0 52.5h0m0-7.5h0m0-3h0m0 16.5h0m0.5-2.5h0m0.5-65.5h0m0 82h0m0.5-88.5h0m0 47h0m0.5-47.5h0m0-3.5h0m0 8h0m0.5-13h0m0.5 17.5h0m0 41h0m0-62h0m0 71.5h0m0-5h0m0.5 36.5h0m0.5-75.5h0m0.5 55h0m0-5h0m0-52.5h0m0 10h0m0 67h0m0-6.5h0m0.5-7h0m0-56h0m0 54.5h0m0.5-57.5h0m0.5 60h0m0 4.5h0m0-52.5h0m0.5 35h0m0-57.5h0m0.5 18h0m0 43h0m0.5-54.5h0m0-4.5h0m0 47h0m0.5 33.5h0m0.5-69.5h0m0.5 36.5h0m0.5 16.5h0m0-13h0m0-48.5h0m0 19h0m0.5-13h0m0.5 9h0m0 42.5h0m0 9.5h0m0.5-43h0m0 52.5h0m0-23.5h0m0 10h0m0.5 11h0m0-61.5h0m0 10.5h0m1-26.5h0m0 11h0m0-17h0m0 68h0m0.5-58.5h0m0.5 48.5h0m0.5-36.5h0m0.5 3h0m0 3.5h0m0 29.5h0m0 2.5h0m0.5 4h0m0.5-35h0m0 46h0m0 5h0m1-8h0m0-55.5h0m0 69.5h0m0.5 6.5h0m0-72h0m0 13h0m0.5 73.5h0m0-39.5h0m0 20.5h0m1-19h0m0-58.5h0m0 14.5h0m0.5 50h0m0.5 23h0m0 29.5h0m0.5-97.5h0m0 79h0m0-26h0m0-80h0m0 68.5h0m0.5 22.5h0m0-86.5h0m0 71h0m0 1.5h0m0 24h0m0-98.5h0m0.5 20.5h0m0.5-7h0m0-8h0m0 2.5h0m0 26.5h0m0-2h0m0.5 51.5h0m0 11.5h0m0-18h0m0-48h0m0-17.5h0m0 68h0m0.5-78h0m0 14h0m0-18.5h0m0 86h0m0.5-45.5h0m0 51.5h0m0 34.5h0m0 14h0m0.5-38.5h0m0 1h0m0-15.5h0m0 20.5h0m0 7h0m0-82h0m0.5 79.5h0m0-70h0m0 53h0m0 30h0m0-96.5h0m0.5-5h0m0 120h0m0.5-96h0m0.5 88h0m0-10h0m0-23h0m0.5 14h0m0-72.5h0m0.5-6h0m0-20.5h0m0 119.5h0m0-29.5h0m0.5 43h0m0-136.5h0m0 110.5h0m0.5-103h0m0 5h0m0.5 3h0m0 69h0m0 8h0m0 12h0m0.5-17.5h0m0 10h0m0-78h0m0-24h0m0 80h0m0 31.5h0m0.5-5.5h0m0-24.5h0m0 4.5h0m0.5 34.5h0m0.5-106h0m0 16.5h0m0 82h0m0-12h0m0.5-92.5h0m0.5 69.5h0m0 34h0m0-83.5h0m0-3.5h0m0.5 70.5h0m0-23h0m0-50h0m0 65.5h0m0.5-94.5h0m0 89h0m0.5-80.5h0m0 100.5h0m0-97h0m0-19h0m0.5 23.5h0m0 87h0m0-27.5h0m0-73h0m0 21.5h0m0 48h0m0-1.5h0m0.5 12.5h0m0-86.5h0m0 68.5h0m0.5-44.5h0m0 72.5h0m0 7.5h0m0-22h0m0-3.5h0m0.5-59.5h0m0 81h0m0-94h0m1-13h0m0 18h0m0 57.5h0m0.5-46.5h0m0-53.5h0m0 34h0m0.5 8.5h0m0 61h0m0 18.5h0m0.5 1h0m0 7.5h0m0-69h0m0 4h0m0.5 42.5h0m0-43h0m0 51.5h0m0.5 5h0m0-74.5h0m0 123h0m0.5-113h0m0 70h0m0 9.5h0m0-64h0m0 40.5h0m1-86.5h0m0 43.5h0m0 70.5h0m0-65.5h0m0 69.5h0m0-94.5h0m0.5 9h0m0 74h0m0.5-57h0m0-3h0m0 52.5h0m0.5-56h0m0-26.5h0m0 76.5h0m0-72h0m0 107.5h0m0-11h0m0-81h0m0-29.5h0m0.5 104.5h0m0-117.5h0m0 32h0m0.5 81h0m0-92.5h0m0 72h0m1-2.5h0m0 10.5h0m0-54h0m0-3.5h0m0.5 67.5h0m0-74.5h0m0 61.5h0m0-13h0m0.5 1h0m0-67h0m0 85h0m0.5-79h0m0.5 16.5h0m0 80.5h0m0.5-39.5h0m0 24.5h0m0.5-72h0m0-6h0m0.5 88.5h0m0-28.5h0m0-51.5h0m0 61.5h0m0-49.5h0m1-5h0m0 50h0m0.5 15.5h0m0-59h0m0-29h0m0.5 84.5h0m0-87.5h0m0.5 15h0m0 50h0m0.5-68h0m0 26.5h0m0 52.5h0m0 7.5h0m0.5-77h0m0.5 20h0m0.5 44h0m0-39.5h0m0.5 61h0m0-81.5h0m0 91.5h0m0.5-33h0m0 17.5h0m0-68h0m0 62.5h0m1-47h0m0 36.5h0m0 4.5h0m0.5-59h0m0 47h0m0 15.5h0m0.5-56h0m0.5 5h0m0 34h0m0-44h0m1.5 17.5h0m0.5-21.5h0m0 76.5h0m0-5h0m0.5-9h0m0 3h0m0-11.5h0m0-6.5h0m0.5-28h0m0-1h0m0 23.5h0m0 14h0m0-12.5h0m0.5-3h0m0 17.5h0m0-51h0m0 63.5h0m0.5-20.5h0m0 0.5h0m0-37.5h0m0 25.5h0m0.5-40.5h0m0.5 36.5h0m0-31.5h0m0 39.5h0m0-36h0m0 2h0m0.5 24h0m0-6h0m0 1.5h0m0.5-33h0m0-3h0m0-1h0m0.5 33h0m1-34h0m0.5 37h0m0-5.5h0m0 15h0m0.5-37h0m0 33.5h0m0-51h0m0.5 49.5h0m0-43.5h0m0 27.5h0m0-22h0m0 24.5h0m0.5-34h0m1 31.5h0m1 8.5h0m0.5-37h0m0 14h0m0.5-4.5h0m0.5-4.5h0m0 36.5h0m0.5-9h0m0.5-8.5h0m0-21h0m0.5-6h0m1.5 31.5h0m0.5-42.5h0m0.5 41.5h0m0 10h0m0.5-25h0m0.5-14h0m0 10h0m0.5-4.5h0m0 35h0m0.5-24.5h0m0 18.5h0m0.5 11h0m0-27h0m0.5 22.5h0m1-22.5h0m0 17h0m0.5-3.5h0m0-16h0m1-8h0m0-4.5h0m0 8.5h0m0 17h0m0-15h0m0.5 27h0m1-41h0m0 45h0m0.5-42.5h0m0.5 30.5h0m0.5 5h0m0-10h0m0-15.5h0m0 17.5h0m0.5-33h0m0 39.5h0m0.5-26.5h0m0.5-4.5h0m0 18h0m1-1h0m0.5-1h0m0-21h0m0-3.5h0m0.5-16.5h0m1 46.5h0m0-21.5h0m0.5 28h0m0.5 6h0m0-4h0m0 5h0m0.5-30h0m0.5 19.5h0m0.5-22h0m0.5-5h0m0-2h0m0 34h0m0.5-15.5h0m0-24h0m0 8.5h0m0.5 16.5h0m0.5 4.5h0m0-23.5h0m0.5-9.5h0m1-4.5h0m0 29.5h0m0 15.5h0m1-43.5h0m0 33h0m0 6h0m1-28.5h0m0-4h0m0.5-4h0m0 23h0m1.5 3h0m0-27.5h0m0.5 33.5h0m0-2.5h0m0.5 9.5h0m0-27h0m0.5 29.5h0m0-5h0m0.5-23.5h0m0.5 29.5h0m0-32h0m0.5-5.5h0m0 21.5h0m0.5-26h0m0 3h0m0 30h0m0.5-12.5h0m1.5-0.5h0m0-24.5h0m0 35h0m0.5-39h0m0.5 32.5h0m0.5-16.5h0m1 28h0m0-5h0m0-3.5h0m0-21.5h0m0-6h0m1 8h0m0-4h0m0.5 18.5h0m0.5-27.5h0m0 23.5h0m1 4h0m0 4h0m0-27.5h0m0.5 4h0m0.5-10.5h0m0 25.5h0m0.5 12.5h0m0.5 3.5h0m0.5 0h0m0-42.5h0m0.5 33.5h0m0-29h0m0 14.5h0m0.5 18h0m0 8.5h0m0 3.5h0m0.5-33.5h0m0 26h0m1-13.5h0m1-17h0m0-2h0m0.5-12.5h0m0 6h0m0 23.5h0m0.5-27.5h0m0 35.5h0m1-29.5h0m0 23h0m0 10h0m0.5-6h0m0-23h0m0.5 24h0m0.5 7.5h0m0 3.5h0m0-26.5h0m0 3h0m1-5.5h0m0-5h0m0.5 13h0m1 13.5h0m0.5 12.5h0m1-24h0m0 19.5h0m0-5.5h0m1.5-15.5h0m0-10h0m0 5.5h0m1 17.5h0m0-27.5h0m0 28.5h0m0-22h0m0.5 27h0m0-23h0m0.5 12h0m0.5-14.5h0m0.5-8h0m0 20h0m0.5-1h0m0.5-13.5h0m0.5 20.5h0m1-3.5h0m0.5-19.5h0m0 9.5h0m0.5 18.5h0m0.5-6h0m0 6.5h0m0-24h0m1 23h0m0.5 6h0m0.5-0.5h0m0.5-31h0m0 29.5h0m1-25h0m0.5 16h0m0-10h0m0.5-13.5h0m0.5 14h0m0.5 14.5h0m0.5-2.5h0m0.5-21h0m0-1.5h0m0.5 31h0m1-17h0m0-7h0m1.5 21h0m0.5-13.5h0m0 22.5h0m1-4h0m0-21.5h0m0 12.5h0m1-19.5h0m0 17h0m0.5-18.5h0m0 18h0m0.5 3.5h0m0.5-28h0m0 10.5h0m0.5-5.5h0m0 7.5h0m0.5 20.5h0m0.5-10h0m1 5h0m0-16.5h0m0-7.5h0m0.5 5h0m0.5 1.5h0m0 10h0m0.5 12h0m1-25.5h0m0 16.5h0m1-5h0m0-16.5h0m1 27h0m0.5-28h0m0 2.5h0m0.5 16.5h0m0.5 1h0m1-14h0m0 19.5h0m0-16.5h0m0.5 0.5h0m1-8.5h0m1 18.5h0m1-14.5h0m0.5 4.5h0m0.5 13h0m0 5.5h0m0-3h0m0.5-24h0m1 29.5h0m0-8.5h0m0.5-12.5h0m0.5-11h0m0.5 5h0m1.5-7h0m0 29.5h0m0-21h0m0 8h0m0 21.5h0m1-21.5h0m0.5 25.5h0m0-29h0m0.5 18.5h0m0 4h0m1-32.5h0m0 19.5h0m0 4h0m0.5-18.5h0m0 29h0m1.5-15.5h0m0-23.5h0m0 27h0m0.5-31h0m0.5 34.5h0m1-28h0m0 26.5h0m0 5h0m0-28.5h0m0 39.5h0m0.5-33.5h0m0.5 4h0m0-7h0m0 32h0m0 7.5h0m0.5-31.5h0m0 15.5h0m0.5 4.5h0m0.5-31.5h0m0 29h0m0.5-14h0m0.5-14h0m0 41h0m0-39h0m0.5 15h0m0.5 21h0m0.5-3.5h0m1-17.5h0m0-10.5h0m0 5h0m1 25h0m0 7.5h0m0.5 1h0m0.5-31h0m0 17.5h0m0.5-22h0m0 35.5h0m0.5-5h0m0-38h0m0.5-0.5h0m0.5 5h0m0 21.5h0m1 8.5h0m0-38.5h0m0.5 34.5h0m0.5-37h0m0.5 12.5h0m0 34.5h0m0.5-38h0m0 25h0m0.5 7h0m0.5-6h0m0.5-18h0m0-11h0m0.5 14.5h0m0 31h0m0-36h0m0.5-12.5h0m0.5 38.5h0m0.5 4h0m0-23h0m0.5-11.5h0m0-2.5h0m1 38.5h0m0-8.5h0m0.5-22.5h0m1.5 35.5h0m0 7h0m0-33h0m0-3.5h0m0.5 42h0m0-50h0m0.5 29h0m0.5-23.5h0m1 7.5h0m0 34.5h0m0.5-5.5h0m0-5h0m1-4h0m0-21h0m0-9h0m0-8.5h0m0.5 14.5h0m0.5 16h0m0.5 6.5h0m0-3.5h0m0.5-21.5h0m0-7.5h0m0.5 25h0m0 13.5h0m1-44h0m0 46.5h0m0-33h0m0-7h0m0 24.5h0m0.5 2.5h0m1-32.5h0m0 10.5h0m0 24h0m0.5-31h0m0.5 34.5h0m0 7h0m0-51.5h0m0 54h0m0.5-31h0m1 25h0m0-27.5h0m0.5-7h0m1 3.5h0m0 17h0m0.5-1h0m0.5 7.5h0m0 10h0m0.5-48h0m0 6h0m0 25.5h0m1 10h0m0.5-5h0m0-30h0m0 17h0m0.5 33.5h0m0-13h0m0.5-4h0m0-25h0m0-11.5h0m0 22.5h0m0-6.5h0m0 28.5h0m0 5h0m0.5-42h0m0.5 47.5h0m1.5-28.5h0m0.5-4.5h0m0 30.5h0m0.5-6h0m0.5-6h0m0.5-17.5h0m0.5 0.5h0m0-6.5h0m0 29.5h0m0-36h0m0 2.5h0m0.5 6h0m0-10.5h0m0 32.5h0m0.5-5.5h0m0-30.5h0m0 28.5h0m0.5-1.5h0m0-31h0m0.5 29h0m0.5-32.5h0m0.5 13h0m1 5h0m0 20.5h0m0.5-2.5h0m0.5 9.5h0m0 1.5h0m0-39.5h0m1 33.5h0m0.5-38.5h0m0.5 13.5h0m0-5.5h0m0.5 4h0m0-20h0m0.5 39.5h0m0.5 14.5h0m0.5-19h0m0-25.5h0m0 34.5h0m0.5-46.5h0m0 17h0m0.5-10.5h0m0 35h0m0.5 10.5h0m0-15h0m0.5 14.5h0m0.5-32.5h0m0 18h0m0.5-30.5h0m0 50.5h0m0.5-33h0m1-10h0m0 35.5h0m0-23.5h0m0.5 18.5h0m0-20.5h0m0.5 30.5h0m0.5-43.5h0m0.5 8h0m0.5 22.5h0m0.5-36.5h0m0 9.5h0m0 22.5h0m0.5-27h0m0 38.5h0m0-15h0m1 14.5h0m1-4.5h0m0.5 10h0m0-33.5h0m0.5-8h0m0.5-6.5h0m0 12.5h0m0.5 1h0m0 26h0m0-4.5h0m0.5-5.5h0m0.5 18h0m0-45h0m0.5 41.5h0m0.5-38h0m0.5 32.5h0m0.5-7.5h0m0-14.5h0m0.5 20.5h0m0.5-26.5h0m1 5h0m0 13.5h0m0.5-26.5h0m0.5 5h0m0 17.5h0m0 1.5h0m0.5 14.5h0m0 0h0m0-8.5h0m0.5-30h0m1.5 9h0m0 13.5h0m0 10.5h0m0.5-29h0m0 16.5h0m2 13h0m0-5.5h0m1-18.5h0m0-11.5h0m0.5 34h0m0.5-4h0m0-5h0m0-14.5h0m0 8.5h0m0-12h0m0-4h0m1 20h0m0.5-8h0m0.5-18h0m1.5-2.5h0m0 4h0m0.5 15.5h0m0-14.5h0m0 18h0m0.5-14.5h0m0 18h0m0.5 6.5h0m0-1h0m0.5 8h0m1-24h0m0 14.5h0m0.5 5h0m0-2.5h0m0-20.5h0m1 0h0m0.5-3h0m0.5 15.5h0m0 0.5h0m0-24.5h0m0-3.5h0m0.5 6.5h0m0.5 14.5h0m0.5-1.5h0m1-18h0m0.5 23h0m0-3.5h0m0 10h0m0.5-21.5h0m1.5-5.5h0m0.5 25h0m0-16.5h0m0.5-2h0m0.5 24.5h0m0-28.5h0m0.5 29.5h0m0.5-13.5h0m0.5-18.5h0m0.5 23h0m0.5 5.5h0m0.5-7h0m0.5-13.5h0m0.5-6.5h0m0.5 5.5h0m1-9h0m0 28.5h0m0.5-6h0m0-1.5h0m0 11.5h0m0.5-24.5h0m1 25.5h0m0-22.5h0m1-7.5h0m0 26.5h0m0.5-9h0m0.5-23.5h0m0 27h0m0.5-15.5h0m0.5 23h0m0.5-31.5h0m1 19.5h0m0.5 10h0m0.5-21h0m0.5 17.5h0m0-21.5h0m0.5-3.5h0m1-6h0m0.5 11.5h0m0 16h0m0-20h0m0 14h0m1-16.5h0m0-8h0m1 20.5h0m0-16.5h0m1-2.5h0m0.5 26h0m0-3.5h0m1 8.5h0m0.5 3.5h0m0-27.5h0m0.5 7h0m0-3h0m0 24h0m0.5-9.5h0m1.5 1h0m0.5-22.5h0m0.5 10h0m0-7h0m0.5 21h0m0 2h0m0 3h0m0.5-16.5h0m1 21.5h0m0 2h0m0.5-30h0m0 34h0m0-22.5h0m0.5 23.5h0m0-26h0m0.5 15h0m0.5-12h0m0-6.5h0m0.5 30h0m0-6h0m0.5 3h0m0-8h0m0.5-22.5h0m1.5 12.5h0m0.5 23.5h0m1-3h0m0-6.5h0m0.5-19h0m0-2h0m0 6h0m0.5 19.5h0m0-28.5h0m0.5 22h0m0.5 13.5h0m1-38.5h0m1 4h0m0 24h0m0.5-3.5h0m0-14h0m0.5-3h0m0 27.5h0m0 1h0m0.5-38.5h0m0 38.5h0m1-6h0m0.5-22.5h0m0.5-5.5h0m0 24h0m1-31h0m0 26h0m1-26.5h0m0 39h0m1-35h0m0 26h0m0.5-15h0m0-5.5h0m0.5 26h0m0-18h0m0.5 25.5h0m0-37.5h0m0 39.5h0m0.5-5.5h0m0-21h0m0.5 15.5h0m0.5 12h0m0.5-37h0m0 7h0m0.5 19h0m0.5-24h0m0 31h0m0.5 18h0m0-39.5h0m0 17h0m0.5 15.5h0m0-3.5h0m0.5 4h0m0.5-29h0m1-10h0m0 9h0m1-16h0m0 11.5h0m0 33.5h0m0-7h0m1 5h0m0-9.5h0m0-24h0m0 3.5h0m0-1.5h0m0.5 24h0m0-31.5h0m0 36.5h0m0-15h0m0.5 2.5h0m0-6h0m0-27.5h0m0.5 3h0m0-5h0m0-1h0m0.5 37.5h0m0-9.5h0m1.5-36.5h0m0 9h0m0.5 30.5h0m0.5-20h0m0 28.5h0m0-37h0m0.5 30.5h0m0-18h0m0 36h0m0-5h0m0.5-29.5h0m0 20h0m0 10.5h0m0.5 8.5h0m0-13.5h0m0.5-35h0m0.5 13.5h0m0 19.5h0m0.5-30.5h0m1 10h0m0 5.5h0m0.5 23.5h0m0.5-48.5h0m0 14.5h0m0.5-9h0m0 53.5h0m0-9h0m0.5-26.5h0m0 30.5h0m0-32h0m0.5 21.5h0m0.5 14.5h0m0-43h0m0.5-5.5h0m0.5-11.5h0m0 44h0m0.5-25h0m0.5 36h0m0-7h0m0-49h0m0.5 44.5h0m0-31.5h0m0.5 10h0m0-14.5h0m0.5 54h0m0.5-36.5h0m0 25h0m0.5-25.5h0m0-11h0m0 49h0m0.5-6h0m0-34.5h0m0.5 24.5h0m1-27.5h0m0 39.5h0m0-15h0m0.5-28h0m0 24.5h0m0-20.5h0m0.5 34.5h0m0-46.5h0m0.5-6h0m0.5 9h0m0 25h0m0.5-2h0m0 18h0m0.5-2.5h0m0-40h0m0.5-19.5h0m0 3.5h0m0 12h0m0 26h0m0.5-30h0m0.5 43h0m0-47h0m0 36h0m0-19.5h0m0.5 27h0m0-33.5h0m0.5 30.5h0m0.5 19h0m0-38.5h0m0.5 2h0m1-14.5h0m0 46h0m0-32h0m0.5 28h0m0 3h0m0.5-38h0m0.5 29.5h0m0-32h0m0-8h0m1 36.5h0m0.5 3h0m0-7h0m0-18h0m0-0.5h0m0.5-15h0m0.5 46.5h0m0-38h0m0.5-5h0m1 24.5h0m0 2.5h0m0 2h0m1-36.5h0m0 6h0m0 29h0m0 12h0m1-5.5h0m0-26h0m1-2h0m0-4h0m0 31h0m0-20h0m0-20h0m0.5 16.5h0m0 31.5h0m0.5 4h0m1-46.5h0m0.5 28h0m0.5 11.5h0m0-34h0m0.5 20.5h0m0.5 8h0m0-11h0m0.5 21h0m0-12.5h0m0.5-34.5h0m0.5 28h0m0.5-2.5h0m0-13.5h0m0-6h0m1 9.5h0m0.5 16.5h0m0 9h0m0 3h0m0.5-47h0m0 10h0m0.5 42h0m0-31.5h0m0.5-12h0m0 30.5h0m0.5-33.5h0m1 11h0m0 19h0m1 6h0m0-29.5h0m0.5 34.5h0m0.5-41.5h0m0 31h0m0.5-16.5h0m0 19.5h0m0 10.5h0m0.5-33h0m1 5h0m0.5-9h0m0 29.5h0m0-17h0m0-17h0m0.5 48h0m0-10.5h0m0-20h0m0.5 28.5h0m0 6h0m0.5-38h0m1 19h0m0.5-25.5h0m0 33h0m0.5-37h0m0 13h0m0.5 29.5h0m0-36h0m0.5 34.5h0m0-9.5h0m0.5-19.5h0m0 16h0m0.5-19h0m0.5-13.5h0m0 29h0m0.5 12.5h0m0.5-30.5h0m0 14.5h0m0.5-18.5h0m0-9h0m0.5 5h0m0.5 29.5h0m0-39.5h0m0.5 31.5h0m0-27h0m0.5 29.5h0m0.5 11h0m0.5-31h0m0.5 35h0m0-41h0m0.5-7.5h0m0.5 14.5h0m0 24.5h0m0.5-5.5h0m0-2h0m0.5-30.5h0m1 30h0m0.5 13.5h0m0.5-26h0m0-8h0m0.5 35.5h0m0.5-10h0m0 22h0m0-58.5h0m0 19h0m0.5-13h0m0 34.5h0m0-26h0m0.5 35.5h0m0.5-45h0m0 12.5h0m1 20.5h0m0-28h0m0 32.5h0m0.5-7.5h0m0-29h0m0-7.5h0m0 49.5h0m0.5-15.5h0m1 11h0m0-42h0m0.5 10h0m0.5 17.5h0m1-26.5h0m0.5 26.5h0m0 9h0m0-33h0m0.5 27.5h0m0.5-23.5h0m0 3.5h0m0 23.5h0m0-20h0m0 5h0m0-2.5h0m1 33.5h0m0-12.5h0m0 5.5h0m0.5-27h0m0.5 29.5h0m0-23.5h0m1-17.5h0m0 37.5h0m1-6h0m0-29.5h0m0.5 27.5h0m0-22.5h0m0.5 8h0m0.5 30h0m0.5-42h0m0 9h0m1-11.5h0m0 35.5h0m0-8.5h0m0.5 13h0m0.5-29h0m0 32h0m0-19h0m0.5 7.5h0m0.5-37.5h0m0.5 4.5h0m0.5 9h0m0-13.5h0m0.5 12.5h0m0 14.5h0m0 3h0m0.5 4.5h0m0-26h0m1 27.5h0m0 6h0m0.5-35h0m1 17.5h0m0.5-23h0m0 8h0m0.5 14h0m1 4.5h0m0 4h0m0-6.5h0m0.5 14.5h0m0-25.5h0m0 22h0m0.5-32h0m0.5 4h0m0 3.5h0m1 20h0m0-13.5h0m1 25h0m0.5-5.5h0m0-18.5h0m0.5 25h0m0.5-34.5h0m0.5 6h0m0 19.5h0m0.5-15.5h0m0 28h0m0.5-36h0m1 29.5h0m0-8.5h0m0.5 6.5h0m0-21h0m0.5 16.5h0m0-21h0m0-7h0m0 42.5h0m1-3.5h0m0-16.5h0m1-25.5h0m0.5 7.5h0m1-14h0m0 33h0m0-18h0m1 26.5h0m0-34.5h0m0 28h0m0 3h0m0.5-26.5h0m0 34.5h0m0-2.5h0m0 5h0m0.5-28h0m0.5 4h0m0 2.5h0m0-7.5h0m1.5 8h0m0 23.5h0m0.5 3.5h0m0-14.5h0m0.5-30h0m0 44.5h0m0.5-30h0m0-9h0m0 32h0m0.5-9h0m1 6h0m0-43.5h0m0 35.5h0m0.5-15.5h0m0-10.5h0m0.5 30.5h0m0.5-7.5h0m0.5-15h0m0.5-7.5h0m0-12h0m0 14.5h0m0.5 30.5h0m0.5-40h0m0 29h0m0-26h0m0 29.5h0m1.5-23.5h0m0 35.5h0m0.5-29.5h0m0.5 27h0m0-7h0m0-31.5h0m0 27.5h0m0.5 9h0m0.5-27h0m0.5 12.5h0m0.5-26h0m0 28h0m1 7.5h0m0-36.5h0m0 12.5h0m0.5-22h0m0.5 36.5h0m0-19h0m1-6.5h0m0 5.5h0m0.5-4h0m0 29.5h0m0.5-22.5h0m0 19.5h0m0.5-13h0m0.5-4.5h0m0 20.5h0m0-13h0m0-7h0m0 25h0m0.5 4.5h0m0-23h0m0 4.5h0m0.5 26.5h0m0.5-4h0m1-1.5h0m0.5-17.5h0m1.5 13h0m0-7.5h0m0.5 3h0m0.5 2.5h0m0-17.5h0m0 7.5h0m0-13.5h0m0 2.5h0m0.5-13h0m0.5 20h0m0-12.5h0m0.5-2.5h0m1-2.5h0m0 25.5h0m0.5-4h0m0.5-16h0m0-4h0m1.5-5h0m0.5 20h0m0 13h0m0-26h0m0.5-9h0m0.5 26h0m0-26.5h0m0 22.5h0m0.5 8.5h0m0.5-27.5h0m0.5 8h0m0.5 23.5h0m1.5-28h0m0.5 22.5h0m0-18h0m1 14h0m0.5-25h0m0 22.5h0m0.5-33h0m0 43.5h0m0.5-29h0m0.5-2h0m0 4.5h0m0.5-8h0m0 26.5h0m0-2h0m0.5 17.5h0m0.5-4h0m1-24h0m0 17.5h0m0-18.5h0m1 14.5h0m0.5 7.5h0m0.5-35.5h0m0 11h0m0-7h0m0.5 21.5h0m0.5-17.5h0m0.5-5h0m1 22h0m0.5-19h0m0.5 4.5h0m0 22h0m0.5-23.5h0m0.5 7h0m0 22h0m0.5-23.5h0m0 15.5h0m1-12.5h0m0 23.5h0m1-24.5h0m0-6.5h0m0.5 24h0m0.5-20h0m0 18.5h0m0 4h0m0 9.5h0m0-34h0m0.5 8.5h0m1 5h0m0 1.5h0m0 14h0m0 9h0m0.5 1h0m1-22h0m0-5.5h0m1 22h0m0.5-28.5h0m0 2.5h0m0.5 18.5h0m1 1.5h0m0-25.5h0m0 36h0m0.5-22.5h0m0-12h0m0.5 39h0m0-11h0m0-11.5h0m0.5 29.5h0m0-13h0m0.5-15.5h0m0.5 20.5h0m0 4.5h0m0.5-35.5h0m0 4h0m0.5 4.5h0m0.5-18.5h0m0.5 4.5h0m0 26h0m0.5 4h0m0.5-25.5h0m0.5 22h0m0.5 12.5h0m0.5-4.5h0m0.5-37h0m0 10h0m0.5-8h0m0 29.5h0m0-17h0m0.5 28.5h0m1.5-3h0m0-12.5h0m1-21.5h0m0 7h0m0-12h0m0.5 28.5h0m0.5-20.5h0m0 32.5h0m0.5-6h0m1-35.5h0m0 14.5h0m0 15h0m0.5-26h0m0 38.5h0m0.5-4.5h0m0 9.5h0m1-34h0m0-4.5h0m0 23h0m0.5 2h0m0.5-14.5h0m0 17h0m0 12h0m1.5-2.5h0m0-26h0m1 22h0m0-25.5h0m1 33h0m0-6.5h0m0.5 12.5h0m0.5-44.5h0m0 12h0m0.5 14h0m0.5 8.5h0m0.5-7h0m0-31h0m0 13h0m0.5-4.5h0m0 16.5h0m0-0.5h0m1-2h0m0-26h0m1 7h0m0.5 3h0m0 25.5h0m0 3.5h0m0.5-41.5h0m0 34h0m0.5-5h0m0 12h0m0.5-29h0m0 12h0m1-26h0m0 8h0m0 15.5h0m0.5-35h0m1 32.5h0m0-23.5h0m0 2h0m0-6h0m0.5 9.5h0m0 25h0m0.5 5h0m0.5-24.5h0m0 14.5h0m0-16.5h0m0 4.5h0m1 2h0m1.5-11h0m0 36h0m0-5.5h0m0.5-4.5h0m0.5 9.5h0m0.5-24.5h0m1 11h0m0.5-15h0m0.5-3.5h0m0.5 24h0m0-28.5h0m0.5 33.5h0m0.5-23h0m0 1h0m0.5 22.5h0m0.5-7.5h0m0.5 3h0m0-33.5h0m0.5 9h0m0.5 16.5h0m0-22h0m0 18.5h0m0.5 1h0m0-1.5h0m0-22.5h0m1 24h0m0.5-16.5h0m0-11.5h0m0.5 33h0m1 8h0m0-23h0m0.5 20h0m0-20.5h0m0 27.5h0m0.5-4.5h0m1-33.5h0m0.5 25.5h0m0-29h0m0 8h0m1.5 23.5h0m0.5-19.5h0m0 6.5h0m0-22h0m0 44h0m0.5 8h0m0-31.5h0m0.5 18.5h0m0 10h0m0.5-41h0m0 18h0m0.5 28.5h0m0 2.5h0m0.5-28h0m0-17h0m0 8.5h0m0.5 27.5h0m0 10.5h0m0.5-28.5h0m0-14h0m0.5 36.5h0m0 9.5h0m0.5-16h0m0.5 9h0m0-26h0m0 32.5h0m0.5-51.5h0m0 15.5h0m0 16.5h0m0.5-2h0m1-23.5h0m0-4.5h0m0.5 41.5h0m0.5-3.5h0m0-29h0m0 3h0m0-15.5h0m1 3.5h0m0 29h0m0 3.5h0m0.5-6.5h0m0-16.5h0m0.5 13.5h0m1-16h0m0 16h0m0-27h0m1 39.5h0m0-2h0m0-12.5h0m0.5-20.5h0m0 17.5h0m0-15.5h0m0.5-10h0m0.5-10.5h0m0 10h0m0-5h0m0.5 27h0m0 13.5h0m1-34.5h0m1 5.5h0m0 31h0m0-14h0m0.5 9h0m0.5 2.5h0m0-6.5h0m0.5-20h0m0.5-4h0m1 20.5h0m0-28h0m0.5 23.5h0m0 17h0m0.5-37.5h0m0.5-7h0m1 29h0m0.5 4.5h0m0 4h0m0.5-26.5h0m0.5-8.5h0m0 40h0m0-26.5h0m0.5 20h0m0.5 14h0m0-19h0m0.5-11.5h0m0-12.5h0m0 40h0m1-5h0m0-25h0m0 20.5h0m0-15h0m0.5-9.5h0m0 10h0m1 28h0m0.5-29.5h0m0-12h0m0 39h0m1.5-4.5h0m0.5-25.5h0m0 21.5h0m0.5-5h0m0-2h0m0-18h0m0.5 16h0m0-1.5h0m0-26h0m0 35.5h0m0.5-38.5h0m0.5 4.5h0m0-7h0m0 27.5h0m0.5-14.5h0m0-2.5h0m0.5 15h0m0.5 12h0m0-38h0m0.5 9h0m0-13h0m0.5 33.5h0m0.5-25h0m0.5 31h0m1.5-23.5h0m0.5 18.5h0m0 9h0m0.5-37.5h0m0-12.5h0m0.5 21h0m0.5-3.5h0m0-7h0m0.5 32h0m0-5.5h0m1-18h0m0-18h0m0 48h0m0.5-44h0m0.5 41.5h0m0.5-5.5h0m0.5-23h0m0-24.5h0m0.5 42h0m0-26.5h0m0 5h0m0.5-9.5h0m0-1.5h0m0.5 57h0m0-11.5h0m0.5-38.5h0m0.5-15.5h0m0 60.5h0m0.5-40h0m0 24.5h0m0.5 5.5h0m0-29h0m1 17h0m0.5-32.5h0m0 34h0m0-31.5h0m0.5 4.5h0m0 42h0m0.5-7.5h0m0-10h0m1 7h0m0-41.5h0m0.5 14h0m0-18.5h0m0.5 20.5h0m0-6.5h0m0.5-8.5h0m0.5 46.5h0m0.5-42h0m0 30.5h0m0 13.5h0m0 12h0m1.5-45.5h0m0 30h0m0.5-4h0m0 8.5h0m0-45.5h0m0 34.5h0m0.5-4h0m0.5-39h0m0-3.5h0m0 17.5h0m0.5-2h0m0 4h0m0-0.5h0m0 22h0m0.5-5.5h0m0-26.5h0m0 38h0m1-40h0m0 27h0m0.5-24h0m0-11h0m0.5 39h0m0-42.5h0m0.5 60h0m0-3.5h0m1-17.5h0m0-42.5h0m0.5 51h0m0-7.5h0m0-31h0m0 46h0m0.5-36h0m0 43.5h0m0-56h0m0 12.5h0m0.5-15h0m0 40h0m0-31h0m1-19.5h0m0 31h0m0-9h0m0 38h0m1-3h0m0.5-26.5h0m0 37h0m0.5-70h0m0.5 68h0m0-46.5h0m0 35.5h0m0.5-26.5h0m0-1h0m1 47.5h0m0-13h0m0-3h0m0-55h0m0-1.5h0m0 49h0m0-4h0m0 19h0m0.5-52h0m0 9.5h0m0-4h0m0.5 24h0m0-30h0m0-4h0m0-4h0m0.5 48h0m0.5-13.5h0m0-31h0m0 34.5h0m0.5-50.5h0m0 64h0m0-59h0m0-2.5h0m0.5-16h0m0 55.5h0m0.5 2h0m0-51.5h0m1 63.5h0m0-60h0m0.5 13h0m0 56.5h0m0.5-44.5h0m0 42h0m0.5-51h0m0 36h0m0-31h0m0-13.5h0m0 55h0m0.5-33h0m0.5 26h0m0.5-47.5h0m0 67.5h0m0.5-5h0m0-37h0m0.5 55h0m1-54h0m0-14h0m0.5 4h0m0.5 42.5h0m0-8h0m0-46h0m0 43h0m0.5 1h0m0.5 7.5h0m0-47h0m0 41h0m0-32h0m0 51.5h0m0.5-46.5h0m0.5 42h0m0-34.5h0m0-1.5h0m0.5 42h0m0-1h0m0-9.5h0m0.5-53.5h0m0 26h0m0-19h0m0.5 14.5h0m0-6.5h0m0.5 45h0m0 10.5h0m1-54.5h0m0 31.5h0m0 6.5h0m1-29.5h0m0-14h0m0-3.5h0m0 37.5h0m0.5 6.5h0m0.5-29.5h0m1 30.5h0m0-11.5h0m0-23h0m1 38.5h0m0-50h0m0 41.5h0m0.5-57.5h0m0 58h0m0-36h0m0.5 24.5h0m0-5.5h0m0-36.5h0m0.5 40h0m0-27h0m0-7h0m0.5-3.5h0m0 46h0m0-39h0m0.5-5.5h0m0 4.5h0m0-20.5h0m0 43h0m0 13.5h0m0-10.5h0m1-41.5h0m0.5 51h0m0-4.5h0m0.5-13.5h0m0 11h0m0.5-48.5h0m0 6h0m0 29.5h0m0 5h0m0-29h0m0-14h0m2 39h0m0 24.5h0m0-57h0m0.5-8h0m0 50.5h0m0-2h0m0.5-6h0m0 16h0m0-12.5h0m0-27h0m0.5-15.5h0m0.5 9h0m0 12.5h0m0.5 30.5h0m0 14.5h0m0.5-7h0m0-48.5h0m0.5 38h0m0 17.5h0m0-47.5h0m0 3h0m0 40h0m0-54.5h0m1.5 39h0m0-44.5h0m0.5 54h0m1-45h0m0 3h0m0-19.5h0m0-14.5h0m0.5 73h0m0 20h0m0-53.5h0m0.5 49h0m0.5-63.5h0m0 45h0m0 12h0m0-4h0m0.5 10h0m0-75.5h0m0 7h0m0.5 15h0m0 28h0m0-53h0m0 8h0m0 12h0m0 55.5h0m0.5-52h0m0 39h0m1-62.5h0m0 50h0m0-66h0m0.5 31h0m0 51h0m0.5-20.5h0m0 12h0m0.5-13.5h0m0.5 7.5h0m0-40h0m0.5-14.5h0m0 68.5h0m0 6h0m0.5-27h0m0.5 2h0m0 12.5h0m0-60.5h0m0 6h0m0 3.5h0m0-11h0m0.5 6.5h0m0.5 51h0m0-37h0m0 34.5h0m0-30.5h0m0.5-32.5h0m0.5 79.5h0m0-7.5h0m0-47.5h0m0.5 60h0m0.5-69.5h0m0 51.5h0m0 26h0m0.5-56.5h0m1 48h0m0-61h0m0.5 48.5h0m0 19h0m0-15h0m0.5-9h0m0-34.5h0m0.5-13.5h0m0 71h0m0.5 3h0m0-27h0m0.5-38h0m0.5 53h0m1 5.5h0m0-56h0m0-7.5h0m0 56h0m0.5-43h0m0 34.5h0m0.5-36.5h0m0 42h0m1-54h0m0 62.5h0m0.5-16.5h0m0 20.5h0m0.5-61.5h0m0-8h0m0 45.5h0m0-50.5h0m1 79h0m0-21h0m1 15h0m0-55.5h0m0 49.5h0m0.5-72.5h0m0 68.5h0m0.5-77h0m0 2.5h0m0.5 26.5h0m0 56h0m0-22h0m0-42h0m0-11h0m0.5 48.5h0m0.5-34.5h0m0 49.5h0m0-68h0m0 51h0m0-2h0m0 14h0m0.5-51h0m0.5-2.5h0m0.5 50.5h0m0-50.5h0m0-16h0m0 78.5h0m0-28.5h0m0.5-61.5h0m0 57.5h0m0 6h0m0-3.5h0m0-56h0m0.5 2h0m0.5 17.5h0m0 49.5h0m0.5-5h0m0-14.5h0m0-2h0m0-35.5h0m0.5 41h0m0-37h0m0-25.5h0m0 90h0m0-38h0m0 2h0m0-35.5h0m0.5 35.5h0m0-55h0m1-8.5h0m0.5 74.5h0m0-15h0m0-46h0m0-14.5h0m0 7h0m0 62.5h0m0-49h0m0.5 64h0m0-60h0m0-21h0m0 54.5h0m1 0.5h0m0.5-42.5h0m0 7.5h0m0-12h0m0-20.5h0m0 15.5h0m0 81.5h0m0.5-59.5h0m0 46h0m0.5-10h0m0 13.5h0m0-45.5h0m0.5 29.5h0m0.5-49.5h0m0 67h0m0.5-51.5h0m0 40.5h0m0.5-49h0m0.5 16.5h0m0 54.5h0m0.5-15.5h0m0 7h0m0-52h0m0-7h0m0 15.5h0m0 45.5h0m0.5-49.5h0m0 52h0m0.5-69.5h0m0 65h0m0.5-40h0m0 51.5h0m0-23h0m0.5 14.5h0m0 6.5h0m0 18.5h0m0-37.5h0m1 5.5h0m0.5-40.5h0m0 28.5h0m0.5-39h0m0 36.5h0m0-45h0m0.5-19.5h0m0 14.5h0m0.5 12.5h0m0 8h0m0-4h0m0.5 7.5h0m0.5 39h0m0-5.5h0m0-49h0m1 49h0m0-50.5h0m0.5 61h0m0.5-17.5h0m0 3h0m0.5-53h0m0 21h0m0 54h0m0.5-63.5h0m0 58h0m1-54.5h0m0 56.5h0m0-26h0m0-2.5h0m0-39.5h0m0.5 57h0m0.5 5h0m0.5-69.5h0m0 46h0m0.5 0.5h0m0-34.5h0m0 49h0m0-9h0m0.5-47h0m0.5 14.5h0m0 45h0m0-41h0m0.5 4h0m0 29.5h0m0-41h0m0.5 55h0m0-41.5h0m0.5 0.5h0m0.5-20.5h0m0.5 19.5h0m0 30h0m0-45h0m0 61.5h0m0.5-7h0m0.5 9.5h0m0-15h0m0 9h0m0-45h0m0.5 38h0m0-40.5h0m0 26h0m0 33h0m0.5-77h0m0 48.5h0m0-32h0m0.5-12.5h0m0 36h0m0-28h0m0.5-19h0m0-7h0m0.5 5.5h0m0 41.5h0m0.5 6.5h0m0 13h0m0.5-62h0m0-5h0m0 50.5h0m0 12h0m0-59h0m0.5 56h0m0-14h0m0.5-28.5h0m0-3h0m0 8.5h0m0 3h0m0.5 48.5h0m0 12h0m0-17h0m0.5-49h0m0 78h0m0-31h0m0 6.5h0m0-35h0m0.5 56h0m0-65.5h0m0 72.5h0m0.5 9h0m0-77h0m0-21.5h0m0 113h0m0 14.5h0m0.5-98.5h0m0 90h0m0-21h0m0-64.5h0m0.5 69h0m0 42.5h0m0-100h0m0 79.5h0m0-150h0m0 77h0m0.5 69h0m0-93h0m0.5 114h0m0.5 15h0m0-20h0m0 28h0m0-126h0m0 94.5h0m0.5-96h0m0-13.5h0m0.5-29.5h0m0 169.5h0m0.5-103.5h0m0 84.5h0m0-73.5h0m0.5 99h0m0-7h0m0.5 1h0m0-10.5h0m0-98.5h0m0.5-15h0m0 24h0m0 86h0m1-18h0m0 8h0m0.5 16.5h0m0.5-109h0m0-26h0m0 113h0m0.5-130h0m0 22h0m0 8.5h0m0.5-3h0m0 113h0m0-138h0m0.5 114.5h0m0-90.5h0m0 9.5h0m0 126h0m0.5-120h0m0-39h0m0 122.5h0m0.5-11h0m0 42h0m0.5-134h0m0.5 5h0m0 12.5h0m1 90h0m0.5-112.5h0m0-53.5h0m0 70.5h0m0.5-28h0m0-5h0m0.5 123.5h0m0.5-91h0m0 92h0m0 16.5h0m0.5-91h0m0 84.5h0m0.5 15h0m0-100h0m0 93h0m0 34h0m0.5-17h0m0 17h0m0-45.5h0m0-113h0m0.5 141h0m0.5-125h0m0.5 114h0m0 38.5h0m0-130h0m0 8h0m0.5 82h0m0-116h0m1.5 124.5h0m0-82.5h0m0 99h0m0-108.5h0m0 10.5h0m1.5-20.5h0m0-10h0m0 129h0m0-17h0m0.5-121h0m0 21h0m0.5 4h0m0 99.5h0m0-15.5h0m0-142h0m0 26.5h0m0.5 31h0m0 68.5h0m0-92.5h0m1 102.5h0m0.5-6.5h0m1-115h0m0 102.5h0m0-3.5h0m0 10.5h0m0.5-114h0m0.5 103h0m0 8.5h0m0 14h0m1 7.5h0m0-19.5h0m0-82h0m0-25h0m0.5 158.5h0m0-36h0m0.5-131h0m0.5 44.5h0m0-58h0m0 160h0m0.5-105.5h0m0 107h0m0.5-99h0m0.5-15.5h0m0 120h0m0 11.5h0m0.5-129.5h0m0 106.5h0m0 8h0m0 22.5h0m0.5-34.5h0m0.5 4h0m0.5-7.5h0m0.5 17.5h0m0.5-21.5h0m0-103h0m0 121h0m0 53h0m0.5-180h0m0.5 10.5h0m0 11h0m0 89.5h0m0-9h0m0.5 17.5h0m1-128h0m0 24h0m0 92h0m0.5-88.5h0m0-49.5h0m0.5 131.5h0m1 24.5h0m0.5 3h0m0-18h0m0 30h0m0.5-108h0m0.5 91h0m0-93h0m0-6.5h0m0-8.5h0m0 10h0m0.5-5h0m0 16.5h0m0 88.5h0m0 9h0m0-96.5h0m0.5 75h0m1-136.5h0m0 158.5h0m0-110h0m0.5 15h0m1 80h0m0 26h0m0-111.5h0m0-26.5h0m0 127h0m0.5 15.5h0m0-138h0m0.5 97h0m0-78h0m0 83.5h0m0-11.5h0m0-6h0m0-51.5h0m0 59h0m0.5-83.5h0m0 102.5h0m0-7h0m0 13h0m0-1.5h0m0.5-35.5h0m0 11.5h0m0-66h0m0-12h0m0 13h0m0.5 51h0m0-59.5h0m0 55h0m0-42.5h0m0.5 11h0m0 58.5h0m0-30h0m0-26h0m0-8.5h0m0 2.5h0m0 27h0m0 2.5h0m0.5-22h0m0.5 19h0m0.5 8.5h0m0 8.5h0m0.5 13h0m0.5-63h0m0.5 7.5h0m0.5-4.5h0m1 45h0m0-13.5h0m0.5 5.5h0m0-7.5h0m0 11.5h0m0.5-29.5h0m0.5-12h0m0 8.5h0m0-14.5h0m0.5 7.5h0m1 29h0m0 18h0m0-36.5h0m0.5 34h0m0 1.5h0m0-56h0m0 16h0m0-1.5h0m0.5 25h0m0.5 2.5h0m0 21.5h0m0.5-15.5h0m0-44h0m0-10h0m1.5 55h0m0-43h0m0 36.5h0m0.5 16.5h0m0-39h0m0.5-8.5h0m0.5 50.5h0m0.5-8.5h0m0.5-15h0m0-22.5h0m0 25.5h0m0.5-21h0m0-24.5h0m0 8.5h0m0 52h0m0.5 19h0m0-63.5h0m0-13h0m0 48h0m0 15h0m0-77h0m0 22.5h0m0.5 43h0m0 9h0m0-68.5h0m0 135h0m0.5-55.5h0m0-82.5h0m0-19h0m0 85h0m0 13.5h0m0 5.5h0m0.5-89h0m0 92.5h0m0-137.5h0m0 126h0m0.5-124h0m0 8h0m0 28h0m0-2h0m0-44.5h0m0 39h0m0.5-7.5h0m0 136.5h0m0-131.5h0m0 16.5h0m0-40h0m0.5 12.5h0m0.5 36h0m0.5 93.5h0m0.5 13h0m0-120h0m0 107.5h0m0 19h0m0-22.5h0m0.5 22.5h0m0-108h0m0 13.5h0m0 64.5h0m0 16.5h0m0-110.5h0m0 130.5h0m0.5 5.5h0m0-114.5h0m0-13h0m0 10h0m0.5-6.5h0m0 76h0m0-4.5h0m0.5-50h0m0-5h0m0 7.5h0m0 56h0m0.5-68.5h0m0 73h0m0.5-13h0m0.5-63h0m0 85h0m0 10.5h0m1-3.5h0m0-8h0m0-11.5h0m0-66.5h0m0 10h0m0.5-28h0m0 91h0m0.5-83.5h0m0.5-6h0m0 19h0m0.5-7h0m0 62h0m0 18h0m0 11h0m0.5-14.5h0m0-12.5h0m0 10h0m0-63h0m0-28h0m0 104.5h0m0 10h0m0.5-30.5h0m0-76.5h0m0.5 112h0m0-4h0m0.5-92.5h0m0.5 78h0m0-21.5h0m0-93.5h0m0 28h0m0-10.5h0m0.5 103.5h0m0-20h0m0-56h0m0.5-20h0m0.5-13h0m0 20h0m0.5 94h0m0-85.5h0m0 71h0m0-73.5h0m0 80.5h0m0.5-94h0m0 10h0m0 67h0m0.5 42h0m0-117h0m0 71h0m0 8.5h0m0-99.5h0m0 8h0m0.5-43h0m0 161h0m0.5-112h0m0 8h0m0-31h0m0 5h0m0-19.5h0m0 36h0m0-35h0m0 186h0m0-175.5h0m0.5 130h0m0-147h0m0 10h0m0 131.5h0m0 10h0m0.5-140h0m0 163h0m0-38h0m0 39h0m0-193h0m0.5 209.5h0m0-178h0m0 147.5h0m0-129h0m0 121.5h0m0-138.5h0m0.5-36h0m0 221h0m0-29.5h0m0-166h0m0.5 162.5h0m0 12h0m0.5-152.5h0m0 8.5h0m0-16.5h0m0-35h0m0 149h0m0 15h0m0-20h0m0.5-132.5h0m0 200.5h0m0-68h0m0.5 15h0m0-112h0m0-62.5h0m0 52.5h0m0 162h0m0.5-242h0m0 60.5h0m0 144.5h0m0 6.5h0m0 59.5h0m0.5-16h0m0-227h0m0 28h0m0 202.5h0m0-35h0m0-140.5h0m0.5-16h0m0-72h0m0 84h0m0 133.5h0m0-170h0m0 189.5h0m0.5-179.5h0m0 20h0m0 124h0m0.5 58.5h0m0-192.5h0m0 175h0m0 12h0m0-225.5h0m0 201.5h0m0-31.5h0m0 36h0m0.5-40h0m0 12h0m0-107.5h0m0 172h0m0-46h0m0 42.5h0m0.5-1.5h0m0-221h0m0 182h0m0-141.5h0m0 181h0m0.5-241.5h0m0.5 175.5h0m0 12h0m0-132h0m0 9.5h0m0.5 133h0m0-164.5h0m0 37.5h0m0 175.5h0m0.5-208.5h0m0 181h0m0-25.5h0m0-168h0m0 18h0m0 5h0m0.5 18.5h0m0-51.5h0m0 216.5h0m0 1h0m0-50.5h0m0-7.5h0m0.5 16.5h0m0-24h0m0 45.5h0m0 9h0m0-147.5h0m0-125.5h0m0 86.5h0m0.5 20h0m0-25.5h0m0 165.5h0m0.5-135.5h0m0-39h0m0 31h0m0 19.5h0m0.5 116.5h0m0-16h0m0 25h0m0 12.5h0m0-192.5h0m0 28.5h0m0 121h0m0 13h0m0.5 27h0m0-4.5h0m0 22h0m0-159h0m0-25h0m0.5-51h0m0 39h0m0-50h0m0 251.5h0m0.5 7.5h0m0-37.5h0m0 28.5h0m0-37.5h0m0-142.5h0m0.5 169.5h0m0 33.5h0m0-231.5h0m0 193.5h0m0.5-180h0m0 137.5h0m0 4h0m0 58h0m0-8.5h0m0.5-17.5h0m0-184h0m0 13h0m0 11h0m0.5 138h0m0 35h0m0-53h0m0-164.5h0m0 241.5h0m0-202.5h0m0 14.5h0m0.5 3h0m0-6.5h0m0 17h0m0-3.5h0m0 5.5h0m0 117.5h0m0 0.5h0m0-262.5h0m0 95h0m0.5 194.5h0m0-45h0m0.5 31h0m0-20.5h0m0-149h0m0 162h0m0 15.5h0m0-211.5h0m0 224.5h0m0-47h0m0-114.5h0m0-36h0m0 11.5h0m0.5 223.5h0m0-29.5h0m0.5-280.5h0m0.5 79h0m0 167.5h0m0-171h0m0 213h0m0-196.5h0m0 13.5h0m0.5 166.5h0m0-8.5h0m0-154h0m0 5h0m0 101.5h0m0.5 17.5h0m0 17.5h0m0-206.5h0m0 78.5h0m0 132.5h0m0-16.5h0m0.5-141h0m0-3.5h0m0-54h0m0.5 187.5h0m0 39h0m0 46.5h0m0-225h0m0 12.5h0m0.5 143h0m0-171h0m0 149.5h0m0-186.5h0m0 223.5h0m0.5-141h0m0-60.5h0m0.5 188h0m0-162.5h0m0 221.5h0m0.5-21h0m0-31h0m0 17.5h0m0 15.5h0m0.5-175h0m0-6.5h0m0 145h0m0-19h0m0.5-6.5h0m0-153.5h0m0 166.5h0m0-159.5h0m0 156h0m0-176h0m0 208.5h0m0.5-184.5h0m0 188h0m0-178h0m0 159.5h0m0-34h0m0-138.5h0m0 182.5h0m0-138.5h0m0.5-14h0m0 110.5h0m0-118.5h0m0-34.5h0m0 163h0m0-155.5h0m0-10h0m0 241.5h0m0-48.5h0m0.5-136.5h0m0 121h0m0.5 14.5h0m0 34h0m0-173.5h0m0 194.5h0m0-247h0m0.5 32.5h0m0 149.5h0m0-159h0m0.5 144.5h0m0 38h0m0.5-156h0m0-62.5h0m0-3h0m0 58h0m0.5-4.5h0m0 158.5h0m0-26.5h0m0-110h0m0 119h0m0.5-21.5h0m0 5.5h0m0-9.5h0m0 22h0m0 42.5h0m0-259h0m0 284.5h0m0.5-217h0m0 224h0m0-63h0m0.5-5.5h0m0-174.5h0m0-50.5h0m0 279.5h0m0-247.5h0m0 40h0m0.5-43h0m0 61.5h0m0-32h0m0 35.5h0m0.5-38.5h0m0 210h0m0-219.5h0m0 162.5h0m0 22h0m0-33h0m0 54h0m0 34h0m0-40h0m0-11.5h0m0.5-156.5h0m0 125.5h0m0.5-142h0m0 219h0m0-180h0m0 157h0m0-154.5h0m0.5-20h0m0.5 8h0m0-24.5h0m0-22.5h0m0 156h0m0 26.5h0m0-13.5h0m0.5-199.5h0m0 72h0m0 135.5h0m0-167h0m0 42h0m0 159.5h0m0.5-192h0m0.5 153h0m0-180.5h0m0 189.5h0m0-178.5h0m0 28.5h0m0-27.5h0m0-47h0m0 71h0m0.5 31.5h0m0 142.5h0m0.5-170h0m0-3.5h0m0 22h0m0 158h0m0-197h0m0 153.5h0m0.5-117h0m0 106.5h0m0 17h0m0-163.5h0m0.5 154h0m0 66.5h0m0-68.5h0m0-124h0m0 176.5h0m0.5-21h0m0-149h0m0-58h0m0 167.5h0m0 87h0m0-184h0m0.5 130h0m0-143.5h0m0 110.5h0m0-161.5h0m0 217.5h0m0-193h0m0.5 144.5h0m0-134h0m0 176.5h0m0-213h0m0.5 200.5h0m0 21.5h0m0-34.5h0m0-12h0m0 29h0m0.5-13.5h0m0-264.5h0m0.5 253h0m0 4h0m0-121h0m0-32.5h0m0 185.5h0m0.5-159.5h0m0-64.5h0m0 24.5h0m0.5 7h0m0 196.5h0m0-176.5h0m0 8.5h0m0-25.5h0m0 222h0m0-178h0m0.5 157.5h0m0-187.5h0m0 155.5h0m0 7.5h0m0-191h0m0 34h0m0-11.5h0m0 24h0m0.5 139h0m0 40h0m0-187.5h0m0 113h0m0.5-192h0m0 198h0m0 14h0m0 5.5h0m0-121h0m0 3.5h0m0.5 102h0m0-151h0m0 12h0m0 141h0m0 82.5h0m0.5-71.5h0m0-156.5h0m0.5 34h0m0.5-67.5h0m0 47.5h0m0 17h0m0 103h0m0-110h0m0 154h0m0-184h0m0 169h0m0-153h0m0-22.5h0m0 163h0m0.5 18.5h0m0-222h0m0 196h0m0.5 42.5h0m0 21h0m0-227.5h0m0.5 246h0m0-243h0m0 35.5h0m0.5 119h0m0 35.5h0m0 6h0m0-153.5h0m0 178.5h0m0-20h0m0.5-16.5h0m0-4.5h0m0 31h0m0-187.5h0m0 22h0m0-10h0m0 204h0m0.5-33.5h0m0-154h0m0-12h0m0 135.5h0m0-10.5h0m0 62.5h0m0-35h0m0.5-20.5h0m0-10h0m0-152.5h0m0.5-14h0m0 18h0m0 12.5h0m0.5 32h0m0 93.5h0m0 4.5h0m0-181h0m0 7.5h0m0.5 73.5h0m0 144.5h0m0-170h0m0 121h0m0.5-170h0m0.5 214h0m0 35.5h0m0-207.5h0m0 144.5h0m0 3h0m0 18h0m0-215h0m0 19h0m0 200.5h0m0.5-175.5h0m0 28h0m0 1.5h0m0.5 133h0m0 29.5h0m0-184.5h0m0 159.5h0m0-132.5h0m0.5-17h0m0-45.5h0m0 68.5h0m0 116.5h0m0-162h0m0-16.5h0m0 207h0m0.5-41h0m0-134h0m0 204.5h0m0-195h0m0-7h0m0 11h0m0.5-73h0m0-11.5h0m0 271.5h0m0-194h0m0.5 120.5h0m0 2h0m0 7.5h0m0-118.5h0m0 185h0m0-80h0m0.5-109h0m0 17h0m0 162h0m0-210h0m0.5-5h0m0 203h0m0-27h0m0.5 5.5h0m0-18h0m0-140h0m0 169.5h0m0 16.5h0m0-195h0m0-2h0m0 155h0m0.5-168h0m0 185.5h0m0-139.5h0m0 146.5h0m0 20h0m0-201.5h0m0.5 160h0m0 37h0m0-9h0m0-10.5h0m0-148h0m0.5-9h0m0 200h0m0-70.5h0m0 26.5h0m0-134.5h0m0 102h0m0.5-159.5h0m0-25h0m0 17.5h0m0.5 31.5h0m0-28.5h0m0 49.5h0m0 113h0m0-103.5h0m0-18.5h0m0 150.5h0m0.5-37h0m0 49.5h0m0 5.5h0m0-191h0m0 28.5h0m0.5-34.5h0m0 205h0m0-181.5h0m0 273.5h0m0-294h0m0 187h0m0 33.5h0m0-249.5h0m0 31h0m0.5 158.5h0m0 58.5h0m0-79h0m0-129.5h0m0.5-33h0m0 39.5h0m0 127h0m0.5-149h0m0 223h0m0-180h0m0 134h0m0-33h0m0.5 38.5h0m0-21.5h0m0-3h0m0-143h0m0.5 152.5h0m0-133h0m0.5-32.5h0m0 15.5h0m0 5h0m0 147h0m0 16.5h0m0-139h0m0 107h0m0.5 40h0m0-166h0m0.5 171h0m0-200h0m0.5-28h0m0 202.5h0m0-29.5h0m0 45.5h0m0-137.5h0m0-22h0m0 9h0m0.5 10h0m0 153.5h0m0.5-17.5h0m0-198.5h0m0 66h0m0 110h0m0 46h0m0-174.5h0m0 121.5h0m0.5 114h0m0-102h0m0-11h0m0-135.5h0m0 208h0m0-32.5h0m0-155h0m0.5 108h0m0 30h0m0-35h0m0-180h0m0 56.5h0m0-23.5h0m0 181h0m0-151h0m0-23.5h0m0 7.5h0m0.5-21.5h0m0 20.5h0m0-9h0m0.5 48h0m0-13.5h0m0 132.5h0m0.5-123.5h0m0-38h0m0 174h0m0 18.5h0m0.5-54.5h0m0 45h0m0-152h0m0-7h0m0.5 186h0m0-44h0m0-264h0m0 295h0m0-46h0m0-162.5h0m0 21h0m0.5 179h0m0-213h0m0 42.5h0m0-26h0m0.5 165.5h0m0 25.5h0m0-14h0m0-169h0m0 178h0m0-182.5h0m0.5-10h0m0 156.5h0m0-176.5h0m0 254h0m0-206.5h0m0 134h0m0 42h0m0-35h0m0-116h0m0-22h0m0.5 24h0m0 162h0m0 6h0m0-162h0m0 103h0m0-190h0m0.5 225.5h0m0 46h0m0-250.5h0m0 191.5h0m0 34h0m0-183.5h0m0.5 12.5h0m0 182.5h0m0-53.5h0m0-158.5h0m0 18h0m0.5 168h0m0-162.5h0m0 210h0m0-93.5h0m0.5-157.5h0m0 172.5h0m0-170h0m0 238h0m0.5-1.5h0m0-242.5h0m0 190h0m0.5-6.5h0m0-158.5h0m0-30h0m0 177h0m0.5 13.5h0m0-167h0m0 16.5h0m0 118h0m0.5 42h0m0-182.5h0m0 46.5h0m0-10h0m0-41h0m0-37.5h0m0.5 84.5h0m0 111.5h0m0-138.5h0m0 33h0m0 152h0m0.5-172.5h0m0-10h0m0-74.5h0m0 213h0m0 10h0m0.5-171h0m0 220.5h0m0-34h0m0.5-229h0m0 72h0m0 153h0m0-28.5h0m0-5h0m0-161h0m0.5 210.5h0m0-185.5h0m0.5 23.5h0m0-10.5h0m0 27.5h0m0 112.5h0m0-148.5h0m0.5 27.5h0m0-50h0m0 54.5h0m0-64h0m0 193h0m0.5-21.5h0m0-151.5h0m0 16.5h0m0.5 18h0m0 135h0m0 17h0m0-46.5h0m0-139h0m0 164h0m0.5-164.5h0m0.5 180h0m0-23h0m0-128.5h0m0.5-119h0m0 285h0m0-40.5h0m0-140h0m0.5 203h0m0-233.5h0m0 200h0m0 19h0m0-12.5h0m0-196.5h0m0 212h0m0.5-233.5h0m0 171h0m0 80.5h0m0-13.5h0m0-186h0m0 23.5h0m0 121.5h0m0-8h0m0.5-20.5h0m0 7.5h0m0-112.5h0m0-51h0m0 191.5h0m0-166.5h0m0 191.5h0m0.5-29.5h0m0-130.5h0m0-8.5h0m0-12h0m0.5 157.5h0m0-176.5h0m0.5 46.5h0m0 199h0m0-59.5h0m0-192h0m0 216h0m0-193.5h0m0-14h0m0-13.5h0m0 35.5h0m0.5 17.5h0m0 140h0m0.5-167.5h0m0 189h0m0-13h0m0-161.5h0m0 154.5h0m0.5-33.5h0m0 14h0m0 30.5h0m0-22h0m0-179.5h0m0 147h0m0 15.5h0m0.5-154h0m0 143h0m0-121h0m0 13.5h0m0-85.5h0m0 187h0m0.5-107h0m0-23.5h0m0.5 173.5h0m0-175h0m0 215h0m0-72.5h0m0-135h0m0 181.5h0m0.5-149h0m0 152h0m0 27h0m0 1.5h0m0-241.5h0m0.5 173.5h0m0-133h0m0 148h0m0-6h0m0-147.5h0m0.5 157.5h0m0 12h0m0-209.5h0m0 49h0m0 108h0m0.5 24h0m0-120h0m0 162h0m0-239h0m0.5 25.5h0m0 13.5h0m0-28.5h0m0 177h0m0 9h0m0-126h0m0 3.5h0m0.5 147h0m0-45h0m0-124h0m0.5-15.5h0m0 12h0m0 153h0m0-20h0m0-122.5h0m0.5-64h0m0 85.5h0m0.5-62.5h0m0 211.5h0m0 37h0m0-56h0m0-6h0m0-160h0m0 148.5h0m0.5 41.5h0m0-183.5h0m0.5 130h0m0-117h0m0 113.5h0m0-140h0m0 9h0m0-25h0m0.5 152.5h0m0.5 35.5h0m0 66h0m0-57h0m0 32.5h0m0-26.5h0m0.5-157.5h0m0-12.5h0m0 136.5h0m0 67h0m0-231h0m0 168h0m0-119h0m0 164h0m0-55.5h0m0-126.5h0m0.5 21h0m0-38.5h0m0 195.5h0m0.5-37.5h0m0-128.5h0m0-40h0m0 176h0m0-133.5h0m0 142.5h0m0-153.5h0m0.5 142h0m0.5-164.5h0m0 175.5h0m0 12.5h0m0.5 38.5h0m0-92h0m0-125h0m0-71h0m0 42.5h0m0-48h0m0 93h0m0-11.5h0m0 132h0m0.5 53.5h0m0-214.5h0m0 172.5h0m0 22h0m0-36.5h0m0.5-137h0m0 34.5h0m0-54.5h0m0 207.5h0m0-56.5h0m0.5-180h0m0 194.5h0m0 30.5h0m0 7.5h0m0-27h0m0.5 45.5h0m0-230.5h0m0.5 34h0m0-6.5h0m0 9.5h0m0 158h0m0-38h0m0 33h0m0-149h0m0 187.5h0m0.5-176.5h0m0-7h0m0 8.5h0m0.5 165h0m0-200.5h0m0 145.5h0m0 15.5h0m0-120.5h0m0.5 148h0m0.5-193h0m0 221.5h0m0-64h0m0 41.5h0m0-11.5h0m0-177.5h0m0.5 41h0m0-35.5h0m0 140h0m0 24.5h0m0 26h0m0 11.5h0m0-233.5h0m0 189.5h0m0 9.5h0m0.5-194h0m0 202.5h0m0 12h0m0-35.5h0m0.5-172h0m0 164.5h0m0-130.5h0m0.5 120h0m0-108h0m0-21.5h0m0-15h0m0 30h0m0 110.5h0m0.5 52h0m0-150.5h0m0.5 129.5h0m0 7h0m0-159.5h0m0-39.5h0m0.5 48.5h0m0-18h0m0 35.5h0m0 92h0m0-133.5h0m0-53h0m0.5 46h0m0 157.5h0m0-177.5h0m0.5 203.5h0m0-172.5h0m0 166h0m0 22h0m0-233.5h0m0.5 196h0m0 41h0m0 17.5h0m0-55.5h0m0-14.5h0m0-158.5h0m0.5 192h0m0-43h0m0 48h0m0-240h0m0 89h0m0 0.5h0m0 131.5h0m0.5-121h0m0 104.5h0m0-127.5h0m0 142.5h0m0.5 57h0m0-78h0m0-125.5h0m0-6h0m0 158h0m0.5-143.5h0m0-1.5h0m0 161.5h0m0-12.5h0m0-133h0m0.5-55.5h0m0-22h0m0 186h0m0-165h0m0 14.5h0m0 31.5h0m0.5-28h0m0 136.5h0m0 41h0m0.5 6h0m0-31.5h0m0-109.5h0m0-38h0m0 25h0m0 6.5h0m0 176.5h0m0-56h0m0.5-178h0m0-8h0m0 218.5h0m0-194h0m0 33h0m0.5-30.5h0m0 36.5h0m0 108h0m0 22h0m0.5 7h0m0-157.5h0m0 29.5h0m0-22h0m0.5 179h0m0-62.5h0m0.5 29h0m0-6h0m0-24.5h0m0-128.5h0m0 197h0m0-57.5h0m0-164h0m0 203.5h0m0 18h0m0-52h0m0-162h0m0.5 183h0m0 16.5h0m0-186.5h0m0 34h0m0-19h0m0 194.5h0m0-21h0m0.5-33.5h0m0-181.5h0m0 35.5h0m0.5-12h0m0 200h0m0-208h0m0.5 187h0m0-37h0m0-112.5h0m0 7h0m0-67h0m0 200h0m0 65.5h0m0-220h0m0.5 9h0m0 168.5h0m0.5-10.5h0m0-212h0m0.5 70.5h0m0 93.5h0m0 4h0m0-95.5h0m0-22.5h0m0 12h0m0-45.5h0m0 22h0m0.5 155h0m0-15h0m0 7h0m0-152.5h0m0-28.5h0m0.5 21h0m0 197.5h0m0 7h0m0-208.5h0m0.5 224.5h0m0-190h0m0 135h0m0-16.5h0m0-4.5h0m0-161h0m0.5 189h0m0-144h0m0 6h0m0.5 145h0m0 43h0m0-205.5h0m0.5 30h0m0 138h0m0-7h0m0-168.5h0m0 208h0m0.5-58h0m0 9.5h0m0-148.5h0m0-34h0m0 152h0m0-134.5h0m0 154h0m0.5-159.5h0m0 172.5h0m0-17.5h0m0-146.5h0m0.5 33h0m0-74.5h0m0 24h0m0-12.5h0m0 46.5h0m0-20h0m0.5 40h0m0 95h0m0-124.5h0m0 199h0m0 14h0m0-209h0m0 28.5h0m0 179h0m0-61.5h0m0.5-5.5h0m0 22.5h0m0-31h0m0.5 40h0m0-152.5h0m0 116h0m0-160h0m0.5 1.5h0m0 34h0m0-28.5h0m0 142.5h0m0-110.5h0m0.5 130.5h0m0 2.5h0m0 33h0m0-13h0m0-39h0m0.5 71h0m0-13h0m0-3.5h0m0-207h0m0 157.5h0m0-105.5h0m0 143.5h0m0-18h0m0.5-147h0m0 207.5h0m0.5-55.5h0m0 0.5h0m0.5-165.5h0m0 15.5h0m0 9h0m0-55.5h0m0 233.5h0m0-249.5h0m0.5 218.5h0m0-193.5h0m0 150h0m0-123h0m0.5 4.5h0m0 158.5h0m0-175.5h0m0 28.5h0m0 126h0m0 37h0m0-40.5h0m0-108.5h0m0.5-6h0m0-32.5h0m0.5 157.5h0m0 8h0m0.5-174.5h0m0.5 217.5h0m0-48h0m0 18h0m0 28h0m0-237h0m0 4h0m0.5 15.5h0m0 26.5h0m0 125.5h0m0-111.5h0m0 124.5h0m0 54h0m0.5-224.5h0m0 147.5h0m0-160h0m0 165.5h0m0 6.5h0m0 37h0m0-149h0m0 161h0m0.5-4h0m0-39.5h0m0 21h0m0-166.5h0m0 32h0m0 136.5h0m0 18.5h0m0-169h0m0.5-10.5h0m0-11.5h0m0 39.5h0m0.5 128h0m0-161.5h0m0 191.5h0m0-220.5h0m0 169h0m0-150.5h0m1 14.5h0m0-42.5h0m0 58h0m0 133.5h0m0 77h0m0.5-253h0m0 215.5h0m0-214h0m0 179h0m0.5 67h0m0-87h0m0-130h0m0 15.5h0m0 123h0m0-196h0m0 63h0m0 112h0m0 25h0m0-135h0m0.5 118h0m0 34.5h0m0-191h0m0-13.5h0m0 70h0m0 95h0m0.5-98.5h0m0-44.5h0m0 206h0m0-21h0m0.5-9h0m0-173.5h0m0.5 221.5h0m0-184h0m0 149.5h0m0-183h0m0 149.5h0m0 22.5h0m0.5 13h0m0 40h0m0-237h0m0 54h0m0-12h0m0-20h0m0 134.5h0m0 52h0m0.5-192h0m0 2.5h0m0 11h0m0-3.5h0m0 7h0m0.5 192h0m0-10.5h0m0 9.5h0m0-77.5h0m0 45h0m0-214.5h0m0 61h0m0.5 126.5h0m0 2h0m0 8h0m0.5-210.5h0m0 89h0m0.5 133h0m0-147h0m0 155h0m0-22.5h0m0 33h0m0 12.5h0m0-35h0m0-154.5h0m0.5-38.5h0m0 188h0m0-18.5h0m0 40h0m0 10.5h0m0-207.5h0m0.5 23.5h0m0 181.5h0m0-51h0m0-150.5h0m0 171h0m0.5-177.5h0m0 190h0m0.5-140h0m0-32h0m0 134h0m0-159h0m0.5 18.5h0m0 43.5h0m0 92h0m0-125.5h0m0 147.5h0m0-125h0m0-9.5h0m0 12h0m0 153h0m0.5 14.5h0m0-178.5h0m0-61h0m0 244.5h0m0.5-205h0m0 149.5h0m0.5 33.5h0m0 15.5h0m0-202.5h0m0 177h0m0-26.5h0m0.5-121.5h0m0-48h0m0 164.5h0m0-136h0m0 145.5h0m0.5-112.5h0m0 255.5h0m0-253h0m0 116.5h0m0 9h0m0.5-149.5h0m0 144.5h0m0-146.5h0m0-62.5h0m0 236.5h0m0-176.5h0m0 143h0m0 32h0m0.5-165h0m0 148h0m0-139h0m0.5-41h0m0-23.5h0m0 45h0m0 137.5h0m0-163.5h0m0.5 209h0m0-168h0m0 143.5h0m0-173h0m0-15.5h0m0 21.5h0m0 129.5h0m0.5-124h0m0 192h0m0-166.5h0m0 102.5h0m0 38.5h0m0.5-205.5h0m0 242h0m0-31.5h0m0.5 13h0m0-33h0m0-17h0m0-148h0m0.5-16h0m0 244.5h0m0-69h0m0-165h0m0 18.5h0m0 137.5h0m0 18h0m0.5-144h0m0 118.5h0m0-132h0m0 10h0m0 188.5h0m0.5-220.5h0m0 46.5h0m0-29.5h0m0 226h0m0-39h0m0-163.5h0m0 125.5h0m0-112.5h0m0.5-24h0m0 169h0m0-144h0m0 116.5h0m0 11.5h0m0 46h0m0.5-236h0m0-1h0m0 166h0m0.5 19h0m0-28h0m0 36.5h0m0-175.5h0m0 223.5h0m0.5-248.5h0m0 240h0m0-31h0m0-203h0m0 39h0m0.5 19.5h0m0-14.5h0m0-17h0m0 27h0m0-31h0m0.5 186h0m0 26h0m0-37h0m0-21.5h0m0-147.5h0m0.5 142h0m0-134.5h0m0 156.5h0m0-183.5h0m0 150.5h0m0-95h0m0 192h0m0.5-207h0m0 129h0m0-118.5h0m0 203.5h0m0-44h0m0.5 33h0m0-1.5h0m0-63.5h0m0-228h0m0 245.5h0m0.5-184h0m0-48h0m0 58h0m0 132.5h0m0 19.5h0m0.5-15.5h0m0 68h0m0-249.5h0m0 68.5h0m0 146h0m0 14.5h0m0-6h0m0 2h0m0.5 16.5h0m0-211.5h0m0 213.5h0m0-59.5h0m0-120.5h0m0-39h0m0.5 174h0m0 12h0m0-174h0m0 40h0m0.5-21h0m0 16.5h0m0 104.5h0m0-117.5h0m0-31h0m0 51h0m0 228.5h0m0.5-29h0m0-70h0m0 45h0m0-219h0m0 153.5h0m0.5-160.5h0m0 198.5h0m0-233.5h0m0 23.5h0m0 222.5h0m0.5-35h0m0-150.5h0m0 118.5h0m0-184h0m0 313.5h0m0-301h0m0 49h0m0.5 143.5h0m0.5-149.5h0m0 141h0m0-104.5h0m0-16.5h0m0.5 5h0m0 150.5h0m0-30h0m0-142.5h0m0 133h0m0 16.5h0m0-125.5h0m0-38h0m0 8h0m0 132.5h0m0.5-153.5h0m0 206.5h0m0-16.5h0m0-157h0m0-8h0m0-20h0m0.5 175h0m0 16h0m0-140h0m0-36h0m0 167h0m0.5 12.5h0m0-229h0m0 273h0m0.5-194.5h0m0 11.5h0m0-22h0m0.5 113.5h0m0.5-92.5h0m0 135.5h0m0-179.5h0m0 140h0m0-113h0m0 148h0m0-31h0m0 9h0m0.5 28h0m0-23h0m0 9h0m0-19.5h0m0-117.5h0m0-61.5h0m0.5 45.5h0m0-17.5h0m0.5 207.5h0m0-194h0m0 161h0m0-13h0m0.5 55h0m0-11h0m0-1.5h0m0.5 23.5h0m0-223.5h0m0 38h0m0 98.5h0m0 26h0m0.5-167.5h0m0-23h0m0 46.5h0m0 177.5h0m0.5-151.5h0m0-52h0m0 155.5h0m0 7.5h0m0.5 22h0m0-144h0m0-30h0m0 163.5h0m0-161.5h0m0 135h0m0.5-133h0m0 202.5h0m0-24.5h0m0-146h0m0-17.5h0m0.5-39.5h0m0 45.5h0m0-3h0m0 111.5h0m0.5 55h0m0-18.5h0m0 77h0m0.5-105h0m0 6.5h0m0 10h0m0.5-131h0m0 106.5h0m0 52.5h0m0.5-201h0m0 175.5h0m0-166h0m0-40.5h0m0 223.5h0m0-136.5h0m0.5-54h0m0.5 180.5h0m0-12.5h0m0-155h0m0-9.5h0m0 180h0m0-191.5h0m0.5 26h0m0 24.5h0m0-15.5h0m0-20h0m0 171.5h0m0-146h0m0 156h0m0.5-139.5h0m0 187h0m0-253h0m0.5 227.5h0m0-164.5h0m0 121.5h0m0-8.5h0m0-147.5h0m0 151h0m0-145.5h0m0-33.5h0m0 12h0m0.5 196.5h0m0-216.5h0m0.5 194.5h0m0-130.5h0m0-52h0m0 207h0m0-45h0m0 3h0m0.5-116.5h0m0 121.5h0m0.5-10.5h0m0 27h0m0 18h0m0-13.5h0m0-124.5h0m0-23h0m0 14h0m0.5 145.5h0m0 7.5h0m0-177.5h0m0.5-44h0m0 206h0m0-225h0m0-77h0m0.5 127h0m0-9h0m0-16h0m0 52.5h0m0.5-44h0m0 49h0m0 126.5h0m0-195h0m0 205.5h0m0.5 49.5h0m0-260h0m0 195h0m0-158.5h0m0 24h0m0-30h0m0.5 156h0m0 4.5h0m0 24.5h0m0-133.5h0m0 120.5h0m0.5-153.5h0m0 174.5h0m0 25.5h0m0-69h0m0.5-133h0m0 18.5h0m0-23h0m0 44h0m0-27h0m0 158.5h0m0-162.5h0m0.5 125.5h0m0-99h0m0-5h0m0.5 147h0m0-187h0m0 27.5h0m0.5 165.5h0m0-30.5h0m0 36h0m0-182.5h0m0 199.5h0m0-45.5h0m0.5-180.5h0m0 183.5h0m0 49.5h0m0-188.5h0m0 120.5h0m0.5 21h0m0-126.5h0m0-45h0m0 183.5h0m0-39h0m0.5 30.5h0m0-170h0m0 133h0m0 10h0m1 5h0m0-120h0m0-18.5h0m0.5-54.5h0m0 202.5h0m0 31h0m0-4h0m0-153h0m0-17h0m0 119h0m0 2h0m0.5-139h0m0 25h0m0 164.5h0m0-227h0m0 192.5h0m0-135.5h0m0-12h0m0-40h0m0.5 27.5h0m0-59.5h0m0.5 47.5h0m0 199.5h0m0 32h0m0-177h0m0 138h0m0.5-131h0m0 126h0m0-190.5h0m0 169.5h0m0-145.5h0m0 192.5h0m0.5-39h0m0 9.5h0m0-30.5h0m0-120.5h0m0 25.5h0m0.5-13h0m0 136.5h0m0-20h0m0 34h0m0 38.5h0m0-182h0m0.5 203.5h0m0-225.5h0m0.5 123.5h0m0-169h0m0 42.5h0m0 12.5h0m0 129h0m0.5 53.5h0m0-65.5h0m0-99h0m0-63.5h0m0.5 28h0m0 181h0m0-38h0m0-154.5h0m0 189h0m0-152.5h0m0-71h0m0 85h0m0.5 119h0m0-191h0m0 217.5h0m0-171h0m0 4.5h0m0.5 165h0m0-15h0m0-138.5h0m0 124.5h0m0-159h0m0 167.5h0m0.5-31h0m0-146h0m0-7h0m0.5 23.5h0m0 171.5h0m0-35.5h0m0.5 32h0m0-209h0m0 55.5h0m0-35h0m0.5 17.5h0m0 14h0m0 8.5h0m0 13.5h0m0 116h0m0 25.5h0m0-167h0m0.5 151h0m0-191h0m0 69.5h0m0-47.5h0m0 176h0m0 22h0m0 1.5h0m0.5-163h0m0-20h0m0-61h0m0 202h0m0 6h0m0 30.5h0m0.5-39.5h0m0-5h0m0-4h0m0-132.5h0m0.5 5h0m0-43h0m0 11.5h0m0.5 54h0m0 112h0m0 16.5h0m0-9.5h0m0-18.5h0m0.5-135.5h0m0.5 167.5h0m0 17.5h0m0-201.5h0m0 58.5h0m0 132h0m0.5 18.5h0m0-165.5h0m0 8.5h0m0-38.5h0m0 180h0m0.5-156h0m0 9h0m0 243.5h0m0.5-313h0m0 209h0m0-128.5h0m0 116.5h0m0 55h0m0-225h0m0 17h0m0.5 139.5h0m0 17.5h0m0-27h0m0-123.5h0m0.5 126.5h0m0-122h0m0 187h0m0 9h0m0.5-187.5h0m0 9.5h0m0-58.5h0m0 202h0m0.5-170h0m0 35.5h0m0 109h0m0-131h0m0 167.5h0m0-39h0m0-8.5h0m0.5-138.5h0m0-3.5h0m0-16.5h0m0-26h0m0 241h0m0.5-32h0m0 25.5h0m0-9.5h0m0 23h0m0.5-231h0m0 161.5h0m0-98.5h0m0-45h0m0 2h0m0 180h0m0.5-30h0m0 16.5h0m0.5-3h0m0-119h0m0-26h0m0 30h0m0-11.5h0m0-70.5h0m0 68h0m0 138.5h0m0-162h0m0.5 206h0m0-61h0m0-154h0m0 229h0m0-40h0m0.5-229.5h0m0-10h0m0 45h0m0 237h0m0-79h0m0-10.5h0m0 42h0m0-159.5h0m0.5 5.5h0m0 149h0m0 21h0m0-232h0m0 59h0m0 140.5h0m0-146.5h0m0.5 125.5h0m0-127.5h0m0 19.5h0m0 154.5h0m0-183h0m0.5 238.5h0m0-89.5h0m0-144h0m0.5-65.5h0m0-37h0m0.5 240h0m0 25h0m0 17.5h0m0-252.5h0m0 90.5h0m0.5-57.5h0m0 72h0m0-76h0m0-5.5h0m0 34.5h0m0 206.5h0m0-164.5h0m0.5 139.5h0m0-11h0m0.5-142h0m0-73h0m0 235.5h0m0-52h0m0 20h0m0-184h0m0.5 188h0m0-7.5h0m0-143.5h0m0 189h0m0-196.5h0m0.5-3.5h0m0 185h0m0-39.5h0m0 23h0m0.5-133h0m0-6h0m0 134h0m0 9.5h0m0-153.5h0m0.5-33h0m0 155.5h0m0-127h0m0 135h0m0.5 27h0m0 33.5h0m0-8h0m0-180.5h0m0 194h0m0-209.5h0m0-19.5h0m0.5 169.5h0m0.5-11h0m0 67h0m0 9.5h0m0-206.5h0m0 26.5h0m0 138h0m0 11.5h0m0-145.5h0m0.5-33h0m0 24h0m0 159h0m0-44h0m0.5-111.5h0m0 101.5h0m0-110h0m0 165.5h0m0-27.5h0m0-9h0m0.5-141h0m0-49h0m0 38.5h0m0 172.5h0m0-180.5h0m0 185h0m0-195.5h0m0.5 34h0m0.5 181.5h0m0-39.5h0m0-18h0m0 2.5h0m0-151h0m0.5 137.5h0m0-163h0m0 198.5h0m0-127.5h0m0-17h0m0.5 4h0m0 3.5h0m0 155.5h0m0-224h0m0 19h0m0.5 4h0m0 19.5h0m0-30h0m0.5 37.5h0m0-12.5h0m0 172.5h0m0-12.5h0m0-144.5h0m0 162h0m0.5-26h0m0-114h0m0 102h0m0-175h0m0.5 170.5h0m0-126h0m0 154.5h0m0-130h0m0 117h0m0 8h0m0-177.5h0m0.5 249h0m0-294.5h0m0 259h0m0-20h0m0.5-153.5h0m0 192h0m0-59.5h0m0-176.5h0m0-5h0m0.5 57h0m0 11.5h0m0 92h0m0.5-114.5h0m0 162.5h0m0 12.5h0m0-187.5h0m0-20h0m0 12h0m0 171.5h0m0.5-25h0m0-143h0m0-30.5h0m0 25.5h0m0 226h0m0-83.5h0m0 82.5h0m0-32h0m0.5-197.5h0m0 163.5h0m0-130.5h0m0-5.5h0m0 129.5h0m0 48h0m0-10.5h0m0-173.5h0m0 165h0m0.5-25.5h0m0.5 15h0m0.5-129.5h0m0-30h0m0 157.5h0m0-4.5h0m0.5-135h0m0-3.5h0m0 125.5h0m0-15h0m0.5-118.5h0m0-11.5h0m0 29h0m0 141h0m0.5-138.5h0m0 107h0m0 69.5h0m0-72.5h0m0 38h0m0 18h0m0.5-164.5h0m0 154h0m0 4h0m0-37h0m0-231.5h0m0 278.5h0m0.5-216h0m0 30.5h0m0 20.5h0m0-64.5h0m0 12.5h0m0.5 60h0m0-49h0m0 178.5h0m0 12.5h0m0-179h0m0 16h0m0.5 201h0m0-64h0m0-189.5h0m0.5 49h0m0-41.5h0m0 194h0m0.5-128.5h0m0-51.5h0m0 143.5h0m0 22h0m0-217h0m0 57.5h0m0 4h0m0 144.5h0m0 19h0m0-135.5h0m0.5 142.5h0m0-22.5h0m0-10h0m0-159.5h0m0 32.5h0m0 155h0m0-175h0m0 196h0m0.5 46h0m0-196h0m0 111.5h0m0-124h0m0 169.5h0m0-185h0m0.5 3.5h0m0 165h0m0-159.5h0m0-51h0m0.5 185h0m0-164.5h0m0 210.5h0m0.5-23h0m0-172h0m0-19h0m0 176.5h0m0.5-118.5h0m0 93.5h0m0-134.5h0m0 176h0m0-143h0m0.5-4h0m0-36h0m0 149h0m0 61.5h0m0-7.5h0m0-223.5h0m0 230h0m0.5-37.5h0m0-191.5h0m0 185.5h0m0.5-123h0m0-51.5h0m0 38h0m0 131h0m0-187h0m0 183.5h0m0.5 41.5h0m0-25h0m0-150h0m0-6h0m0.5-59.5h0m0 28h0m0 203h0m0.5-157h0m0-37.5h0m0 18h0m0-4h0m0 184h0m0.5-47h0m0 62h0m0-186h0m0 131h0m0 30.5h0m0-158h0m0-48.5h0m0 65.5h0m0.5 134h0m0-6.5h0m0-4h0m0 55.5h0m0-232.5h0m0 59.5h0m0 167.5h0m0.5-76h0m0 64.5h0m0-57h0m0-144h0m0 176h0m0-145.5h0m0.5-4h0m0 133.5h0m0-165.5h0m0.5 242.5h0m0-96h0m0-105h0m0-22h0m0.5-11.5h0m0 23h0m0-53.5h0m0 48h0m0 134h0m0.5-162.5h0m0 156.5h0m0.5 20h0m0-12.5h0m0 18h0m0-163.5h0m0 174h0m0.5 9.5h0m0-23.5h0m0 6.5h0m0-14.5h0m0 41h0m0-16.5h0m0-25.5h0m0.5-116h0m0-69.5h0m0 61h0m0 5h0m0.5-57h0m0 195h0m0-196.5h0m0 7h0m0 164h0m0-145h0m0 185h0m0-163h0m0-9h0m0.5 119.5h0m0-154h0m0 23.5h0m0-13.5h0m0.5 5h0m0-31h0m0-40.5h0m0.5 62h0m0 152.5h0m0 76h0m0.5-55h0m0-143h0m0 5.5h0m0 12h0m0 96h0m0-121h0m0 141h0m0.5 102.5h0m0-110.5h0m0 41.5h0m0-158.5h0m0.5-28h0m0 170.5h0m0-165h0m0-37h0m0.5 8h0m0 41.5h0m0-52.5h0m0 32h0m0.5 181h0m0-6h0m0-14h0m0-196h0m0 171.5h0m0 97.5h0m0-80.5h0m0-118.5h0m0.5 176.5h0m0-20h0m0-171h0m0 23h0m0-18.5h0m0 142.5h0m0-172.5h0m0.5 228h0m0-26.5h0m0.5-61h0m0-171.5h0m0 193.5h0m0-179h0m0.5 34.5h0m0-10h0m0 226.5h0m0-188h0m0 160h0m0-35h0m0-149.5h0m0.5 163h0m0-26h0m0-122.5h0m0 207h0m0.5-70h0m0-24h0m0 6h0m0-179.5h0m0 37.5h0m0 139h0m0-147.5h0m0-8h0m0 204.5h0m0-55.5h0m0.5 50h0m0-176h0m0-28.5h0m0 41.5h0m0.5-33h0m0 166.5h0m0.5-117.5h0m0-37h0m0 10h0m0.5 10h0m0 7.5h0m0 171.5h0m0-168h0m0-5.5h0m0 119h0m0 57.5h0m0-243.5h0m0 199.5h0m0-142.5h0m0.5-34.5h0m0 231.5h0m0.5-44h0m0 24h0m0-221.5h0m0 43h0m0 116.5h0m0-146.5h0m0 48.5h0m0.5 173.5h0m0-215h0m0 192h0m0-17.5h0m0-12.5h0m0 46.5h0m0.5-163.5h0m0 138h0m0-171.5h0m0 16h0m0 129.5h0m0 11.5h0m0.5 20h0m0-157h0m0-59.5h0m0-9h0m0.5 42h0m0 144h0m0-9h0m0 3.5h0m0 21h0m0.5-148h0m0 157h0m0-153.5h0m0.5-6.5h0m0 169h0m0-29.5h0m0 2.5h0m0-174.5h0m0.5 6.5h0m0.5 35h0m0 16.5h0m0 99h0m0 40.5h0m0-19h0m0-163h0m0 190.5h0m0-157h0m0-23.5h0m0 167h0m0.5-162.5h0m0 23.5h0m0.5 10.5h0m0-1h0m0 218h0m0.5-73.5h0m0.5-42.5h0m0-144.5h0m0 167.5h0m0-190h0m0.5 206h0m0-36h0m0 4h0m0-126h0m0 166.5h0m0-176.5h0m0 142h0m0.5 36h0m0-31.5h0m0-130.5h0m0-27.5h0m0 209h0m0.5-72.5h0m0-121h0m0 19.5h0m0-43h0m0.5 154h0m0 46.5h0m0.5-185.5h0m0 124.5h0m0-163.5h0m0 50h0m0 118.5h0m0 5h0m0-138.5h0m0-13.5h0m0.5 194.5h0m0-12.5h0m0-140.5h0m0 179.5h0m0-59.5h0m0.5-130.5h0m0 148.5h0m0-128.5h0m0-103.5h0m0 61h0m0.5 134.5h0m0 33h0m0 15h0m0-183.5h0m0 156.5h0m0-129h0m0-21.5h0m1 9h0m0-6.5h0m0 183.5h0m0-27h0m0-153h0m0 26h0m0 157.5h0m0.5-165.5h0m0 115.5h0m0 15h0m0.5-142.5h0m0 25h0m0-70h0m0 8h0m0 198h0m0-196.5h0m0.5 191.5h0m0-195.5h0m0-19.5h0m0 83h0m0 113.5h0m0.5-171.5h0m0 40h0m0.5-27h0m0 139h0m0-101h0m0 150.5h0m0-155h0m0-3.5h0m0-2.5h0m0.5 116.5h0m0 48.5h0m0-39.5h0m0-132.5h0m0.5 150h0m0.5-32h0m0-131.5h0m0 154h0m0-169h0m0 155.5h0m0.5 32h0m0-169.5h0m0 199h0m0-186h0m0-29h0m0.5 189.5h0m0-143h0m0 132h0m0-158h0m0.5 124h0m0 14.5h0m0 12h0m0-118.5h0m0.5 97.5h0m0 12.5h0m0-116.5h0m0 137.5h0m0 17.5h0m0-194.5h0m0.5 17.5h0m0-35.5h0m0 7h0m0 46h0m0.5 157h0m0-19h0m0 44.5h0m0-214h0m0.5 158h0m0 18.5h0m0 21h0m0-192h0m0-23.5h0m0 40h0m0 112h0m0 51h0m0.5-41h0m0-102h0m0-14h0m0 136h0m0 18.5h0m0.5-217h0m0 192h0m0-175.5h0m0.5-2h0m0 40h0m0-25.5h0m0-63.5h0m0.5 57h0m0 22h0m0 6h0m0 144.5h0m0-169.5h0m0 155h0m0-142.5h0m0.5 150h0m0-19.5h0m0.5 40.5h0m0-138h0m0 111.5h0m0-115h0m0-4h0m0.5 142.5h0m0-214.5h0m0 14h0m0 224h0m0.5-44h0m0 12.5h0m0.5-121h0m0-19.5h0m0 130.5h0m0-15.5h0m0-146h0m0 175.5h0m0-26h0m0 40h0m0.5 47h0m0-220h0m0 17h0m0-25h0m0.5-81.5h0m0 118h0m0-32h0m0.5 142h0m0-133.5h0m0 4h0m0-62h0m0 221.5h0m0-18h0m0.5 64.5h0m0-38.5h0m0 27.5h0m0-38h0m0-197h0m0 4.5h0m0 197h0m0 51h0m0.5-76h0m0 31.5h0m0-145h0m0.5 109.5h0m0-156.5h0m0 146.5h0m0-152.5h0m0 225h0m0-187h0m0 14.5h0m0-9h0m0.5 133h0m0-137h0m0 130h0m0-23h0m0 33h0m0 40h0m0.5-193.5h0m0 156.5h0m0-186.5h0m0 50.5h0m0.5 150h0m0-183h0m0-12.5h0m0 19h0m0 263.5h0m0.5-277.5h0m0-13h0m0 55h0m0-15.5h0m0-56h0m0 208h0m0 70h0m0.5-81h0m0-27h0m0 10h0m0 3.5h0m0-120h0m0.5 150.5h0m0 31h0m0-199h0m0 130h0m0-171h0m0 33.5h0m0.5 195.5h0m0-245h0m0 247.5h0m0.5-167.5h0m0 159.5h0m0-177.5h0m0 135.5h0m0-108.5h0m0 113h0m0-166h0m0 246.5h0m0.5-213.5h0m0 158.5h0m0-202.5h0m0 50.5h0m0 141.5h0m0 15.5h0m0.5-19.5h0m0-9h0m0.5-12h0m0-11h0m0 70h0m0-192.5h0m0-30.5h0m0.5 198h0m0-139.5h0m0 133.5h0m0-10h0m0.5-13.5h0m0 39h0m0.5-146h0m0-37.5h0m0 132.5h0m0-113.5h0m0.5-5h0m0-19h0m0 197h0m0-168h0m0-34h0m0-37.5h0m0 237.5h0m0-158.5h0m0.5 121h0m0-23h0m0-127h0m0 147h0m0-181.5h0m0 60h0m0.5 131.5h0m0 50h0m0-71.5h0m0.5-8.5h0m0-152.5h0m0 219h0m0-228h0m0 45h0m0 150h0m0 46h0m0-229h0m0.5 203h0m0-2.5h0m0-226h0m0 218.5h0m0.5-164.5h0m0 178h0m0-149.5h0m0 105.5h0m0.5-145h0m0 7.5h0m0 27.5h0m0.5-67h0m0 28h0m0-19.5h0m0 27h0m0 133.5h0m0 86.5h0m0-269h0m0 203h0m0 13h0m0-27.5h0m0.5 2.5h0m0 32.5h0m0 27h0m0.5-181h0m0-5h0m0-32.5h0m0 163h0m0.5-156h0m0 144h0m0-108.5h0m0-66h0m0 231.5h0m0-238h0m0.5 79h0m0 116.5h0m0.5 17h0m0-194.5h0m0 185.5h0m0-28.5h0m0-101h0m0-31.5h0m0 14.5h0m0.5-10h0m0 209h0m0-57.5h0m0 48h0m0-40.5h0m0-140.5h0m0.5 186.5h0m0-65.5h0m0-132h0m0 140h0m0-14h0m0 28h0m0 11h0m0 50h0m0-52.5h0m0.5-212h0m0 243.5h0m0-234h0m0 222.5h0m0-32h0m0-144h0m0-24h0m0.5-26.5h0m0 60h0m0-66h0m0.5 46h0m0 32h0m0 140.5h0m0.5-199h0m0 234.5h0m0-70h0m0 62.5h0m0.5-39.5h0m0-35.5h0m0-123.5h0m0 130.5h0m0.5-253h0m0 136.5h0m0-22h0m0.5 184h0m0-36.5h0m0-114.5h0m0 121h0m0.5 10h0m0-147.5h0m0 21.5h0m0-61.5h0m0 209.5h0m0-12.5h0m0-199.5h0m0 29.5h0m0.5 153.5h0m0-21h0m0-138h0m0 27h0m0-29.5h0m0 152.5h0m0.5 2h0m0-137h0m0 15.5h0m0-41.5h0m0.5 155h0m0-9.5h0m0-141h0m0 260.5h0m0.5-241h0m0 168h0m0 3h0m0.5-8h0m0-14h0m0-150h0m0.5-14h0m0 9.5h0m0 128.5h0m0 54.5h0m0-170h0m0.5-17h0m0 153.5h0m0-123h0m0 176h0m0-185h0m0 197.5h0m0-256.5h0m0.5 23.5h0m0 197.5h0m0-160h0m0 114h0m0-102.5h0m0.5-58.5h0m0 214.5h0m0-24h0m0-36.5h0m0-155h0m0 189.5h0m0-17.5h0m0 26.5h0m0.5-137h0m0 149h0m0.5-158.5h0m0 124h0m0-7.5h0m0-152h0m0 220h0m0.5-236h0m0 5h0m0 53h0m0.5 98h0m0 10h0m0-129.5h0m0-15.5h0m0 11.5h0m0 160h0m0.5-10h0m0 109.5h0m0.5-114.5h0m0-150h0m0 17.5h0m0-5h0m0 162.5h0m0.5-212.5h0m0-12.5h0m0 191.5h0m0 40h0m0.5-6h0m0-155h0m0 105.5h0m0-114.5h0m0.5-19.5h0m0-37.5h0m0 237h0m0.5-158h0m0-67h0m0 168h0m0-182h0m0 73.5h0m0-38.5h0m0 18h0m0 140h0m0-235h0m0 298h0m0-45.5h0m0 8h0m0.5 9h0m0-49h0m0.5 21.5h0m0-134.5h0m0.5 155h0m0-13h0m0-1.5h0m0-8h0m0-188.5h0m0 71h0m0 107h0m0-141.5h0m0.5-16.5h0m0 43h0m0 141.5h0m0-165h0m0 162.5h0m0.5-184.5h0m0 49.5h0m0-110.5h0m0 223h0m0-200.5h0m0 25.5h0m0 46.5h0m0.5 171h0m0-25h0m0 23h0m0-223.5h0m0 12.5h0m0.5 154.5h0m0 73.5h0m0-248.5h0m0 187h0m0-145h0m0 153.5h0m0-125h0m0-38.5h0m0.5-8.5h0m0 197h0m0-164h0m0 134h0m0-7h0m0-5h0m0.5-140.5h0m0.5 13h0m0.5 8h0m0-34.5h0m0 202h0m0-17h0m0-127h0m0.5-36h0m0 28h0m0-3h0m0 165h0m0-225h0m0.5 189.5h0m0 15.5h0m0-19.5h0m0-136.5h0m0-20.5h0m0 192.5h0m0-153.5h0m0.5-13h0m0-35.5h0m0-48h0m0 69h0m0 134.5h0m0-167.5h0m0 204h0m0-48h0m0.5 30.5h0m0-122h0m0-47.5h0m0-10h0m0 180.5h0m0 59.5h0m0-211h0m0.5-27.5h0m0 166.5h0m0 18.5h0m0 10h0m0 8h0m0-31.5h0m0-134h0m0.5 116.5h0m0 43.5h0m0-46.5h0m0-182.5h0m0.5 39.5h0m0 9h0m0 237h0m0.5-90.5h0m0 71.5h0m0-180h0m0.5-12h0m0-11.5h0m0 195h0m0-190.5h0m0.5 179h0m0-192h0m0-12.5h0m0.5 137.5h0m0-156.5h0m0 167h0m0 46.5h0m0-156.5h0m0 166h0m0-27.5h0m0-147.5h0m0.5 136.5h0m0 8h0m0-176h0m0 172.5h0m0-213.5h0m0 225h0m0-189.5h0m0 158h0m0 10h0m0.5-142.5h0m0-10h0m0 36.5h0m0-1h0m0-103.5h0m0.5 75h0m0 172h0m0-206.5h0m0 47h0m0-27h0m0 4.5h0m0.5 32h0m0 130h0m0-202.5h0m0-9h0m0 8h0m0 192h0m0.5-16.5h0m0-162.5h0m0 168h0m0-158h0m0.5 19h0m0-21h0m0 163.5h0m0-126h0m0.5-40.5h0m0 31h0m0 140h0m0-114h0m0 124.5h0m0 31.5h0m0.5-57h0m0-105h0m0.5-58.5h0m0 198.5h0m0 18h0m0-147.5h0m0 162.5h0m0-45h0m0.5-114h0m0 94h0m0 70.5h0m0.5 5.5h0m0-37h0m0-153.5h0m0 138.5h0m0 3h0m0.5-159.5h0m0-7.5h0m0 186h0m0-6h0m0 3h0m0-146h0m0 138.5h0m0.5-158.5h0m0 4.5h0m0 133.5h0m0 47.5h0m0-207h0m0.5 32.5h0m0 117h0m0-7.5h0m0 63.5h0m0-34h0m0.5-135h0m0 13.5h0m0 104h0m0.5-146.5h0m0 9h0m0-39.5h0m0 23h0m0 44h0m0-13.5h0m0 141.5h0m0-176.5h0m0.5 168.5h0m0-19h0m0 58.5h0m0.5-190.5h0m0 225h0m0-248.5h0m0 180.5h0m0 24.5h0m0.5-36h0m0-166.5h0m0.5 12.5h0m0 37h0m0-59.5h0m0 171.5h0m0 22.5h0m0.5 25.5h0m0-23.5h0m0-145.5h0m0-8.5h0m0-35h0m0 59h0m0 160.5h0m0.5-172.5h0m0-16h0m0 170.5h0m0.5-29h0m0-152h0m0 174.5h0m0-41.5h0m0 44h0m0-43.5h0m0-114h0m0-15.5h0m0.5 183h0m0-201h0m0 54.5h0m0 99h0m0-157h0m0 173.5h0m0-163.5h0m0 213h0m0.5-208.5h0m0 176h0m0-205.5h0m0 47h0m0.5 15h0m0 163h0m0-158.5h0m0.5-45.5h0m0 205.5h0m0-28.5h0m0-4.5h0m0-138h0m0.5 166h0m0-37.5h0m0.5-188h0m0 49h0m0 172.5h0m0-148h0m0.5 110.5h0m0-138h0m0 136.5h0m0-5h0m0.5-4.5h0m0 40.5h0m0-8.5h0m0-167.5h0m0.5 17.5h0m0-66.5h0m0 74.5h0m0-59h0m0.5 21.5h0m0 51.5h0m0 118h0m0 18h0m0.5-9h0m0 14h0m0-176.5h0m0 28h0m0.5-36.5h0m0 14h0m0 122h0m0-173.5h0m0 42h0m0.5 154.5h0m0-14h0m0 96h0m0-87.5h0m0-134h0m0 167.5h0m0 11h0m0.5-163.5h0m0-23.5h0m0 205h0m0-225.5h0m0.5 223h0m0-3.5h0m0-71h0m0-95h0m0-14.5h0m0-5h0m0 142h0m0.5 12.5h0m0-196.5h0m0 153.5h0m0.5-113h0m0 16h0m0 143.5h0m0.5-229h0m0 219h0m0-178.5h0m0 156h0m0-134h0m0.5-48.5h0m0 195.5h0m0.5-171.5h0m0 7h0m0 170.5h0m0-10.5h0m0.5-157.5h0m0 32.5h0m0 108h0m0.5 53.5h0m0-48.5h0m0 13.5h0m0-6h0m0-144h0m0 197h0m0-200.5h0m0 37.5h0m0.5-11h0m0 103h0m0-143.5h0m0 160h0m0.5-109.5h0m0.5 115h0m0 29h0m0-1h0m0-165h0m0-6h0m0 183.5h0m0-170.5h0m0 145.5h0m0-151h0m0 131.5h0m0.5-110.5h0m0-46h0m0 23.5h0m0-15.5h0m0.5 16.5h0m0 161h0m0-18h0m0.5-25h0m0-102h0m0-68.5h0m0.5 20.5h0m0.5 186.5h0m0-192h0m0 160h0m0 3.5h0m0-145.5h0m0.5 166.5h0m0-159.5h0m0 28h0m0-47.5h0m0 271h0m0-266.5h0m0.5 35h0m0 123h0m0 26.5h0m0-212h0m0 66h0m0-20.5h0m0.5 123.5h0m0-94.5h0m0 131.5h0m0-12h0m0.5-1.5h0m0-144h0m0-28.5h0m0 206.5h0m0-169.5h0m0.5 166.5h0m0-172h0m0 118h0m0 19h0m0.5 40h0m0-11h0m0-188.5h0m0 170h0m0.5-193.5h0m0 234h0m0.5-172h0m0 136h0m0-158.5h0m0-8.5h0m0.5 140.5h0m0 44.5h0m0-172.5h0m0-40h0m0.5 57.5h0m0 115.5h0m0 36h0m0-10.5h0m0-38.5h0m0.5-107.5h0m0 112.5h0m0-117.5h0m0.5 20.5h0m0-44.5h0m0 162.5h0m0 26h0m0 6h0m0-180.5h0m0 165h0m0.5-189.5h0m0 228.5h0m0-65.5h0m0-159h0m0-9.5h0m0 23.5h0m0-76.5h0m0 65.5h0m0 167.5h0m0-180.5h0m0 175h0m0.5 8.5h0m0-145h0m0 131.5h0m0-113.5h0m0-5h0m0.5-50.5h0m0 237.5h0m0-246.5h0m0 161h0m0 40h0m0.5-144.5h0m0.5 119.5h0m0-153h0m0 19.5h0m0 140.5h0m0-118.5h0m0-51.5h0m0 219h0m0-200.5h0m0.5 164.5h0m0-25.5h0m0.5-120h0m0 171h0m0-187.5h0m0 176h0m0-49.5h0m0 66.5h0m0-223.5h0m0.5 227h0m0-211.5h0m0 246h0m0-79.5h0m0-145.5h0m0.5-53h0m0 189h0m0-10.5h0m0-105h0m0.5 8.5h0m0 137h0m0 6h0m0-160h0m0 239.5h0m0-72h0m0-17.5h0m0.5-220h0m0 210h0m0-186.5h0m0-22h0m0 39.5h0m0 164.5h0m0.5 92.5h0m0-262.5h0m0 23h0m0 182.5h0m0-41.5h0m0-135.5h0m0 167.5h0m0.5-202h0m0 186.5h0m0-24.5h0m0-120.5h0m0.5 143h0m0-26.5h0m0-110.5h0m0 150h0m0-176.5h0m0.5 14h0m0 166.5h0m0-52h0m0 30h0m0 37.5h0m0.5 60.5h0m0-224h0m0 176.5h0m0 19h0m0-227.5h0m0 168.5h0m0-175h0m0.5 10h0m0 201.5h0m0-61.5h0m0-154h0m0-35h0m0 13h0m0 216h0m0-212h0m0.5 177.5h0m0 37h0m0-151h0m0-48h0m0 167.5h0m0.5 18.5h0m0-193.5h0m0 37h0m0.5 13h0m0 108.5h0m0-171.5h0m0.5-0.5h0m0 226h0m0-57.5h0m0-6.5h0m0-104h0m0.5-17h0m0.5-31h0m0 45.5h0m0-29.5h0m0 192h0m0-52.5h0m0 17h0m0 18h0m0 10h0m0.5-33.5h0m0 18.5h0m0-151.5h0m0-57h0m0 11h0m0 207h0m0.5-197h0m0 238.5h0m0-176h0m0 101.5h0m0 14h0m0-130.5h0m0.5-64.5h0m0 226h0m0-162.5h0m0 192h0m0-185.5h0m0-47h0m0 32.5h0m0.5 115.5h0m0 30.5h0m0-165h0m0 37.5h0m0-30.5h0m0.5 30h0m0-72h0m0 46.5h0m0.5 9.5h0m0 141h0m0-14h0m0 20.5h0m0-172.5h0m0 185h0m0.5-154.5h0m0-23h0m0 179.5h0m0-223.5h0m0.5 191h0m0-10h0m0.5-136h0m0-25h0m0 228h0m0.5-20.5h0m0-15.5h0m0-15h0m0-2.5h0m0-122.5h0m0.5 144h0m0-11h0m0-25.5h0m0-96h0m0-76h0m0.5 168.5h0m0-120.5h0m0 184h0m0-185.5h0m0-19.5h0m0.5 213h0m0-61.5h0m0-125.5h0m0-10h0m0.5-9.5h0m0 37.5h0m0 96h0m0-111h0m0.5-26.5h0m0 37.5h0m0.5 112.5h0m0 13.5h0m0-151.5h0m0.5 170h0m0-8.5h0m0 20h0m0-191h0m0 204.5h0m0-30.5h0m0.5 6h0m0-12.5h0m0-160.5h0m0 152h0m0-129h0m0-3h0m0 232h0m0-298.5h0m0 58.5h0m0-33h0m0 156.5h0m0.5 52.5h0m0 7h0m0-213h0m0.5 164.5h0m0-115.5h0m0 108.5h0m0-10.5h0m0 28h0m0-148h0m0-28.5h0m0 162h0m0.5-106.5h0m0.5 147h0m0-217.5h0m0 214h0m0.5-164h0m0 184h0m0 59.5h0m0.5-232.5h0m0-41.5h0m0 145.5h0m0 76h0m0-37h0m0-180.5h0m0-26.5h0m0 6.5h0m0 28h0m0-42h0m0 224h0m0.5-18h0m0-158.5h0m0 5h0m0.5-50h0m0 39.5h0m0 167.5h0m0-169.5h0m0-23.5h0m0 181h0m0-9.5h0m0.5-112.5h0m0 120h0m0-130h0m0 16.5h0m0.5 156h0m0-46h0m0 35.5h0m0.5-46h0m0.5 21h0m0-28h0m0-127h0m0 170h0m0-167.5h0m0 18.5h0m0-12.5h0m0 180h0m0.5-212.5h0m0-9h0m0 206.5h0m0-161.5h0m0.5 181h0m0-185h0m0-19h0m0 174.5h0m0.5-35h0m0 33h0m0 66.5h0m0-202.5h0m0 113h0m0 18.5h0m0-31h0m0-165.5h0m0 23.5h0m0.5 229.5h0m0-239.5h0m0 160.5h0m0-134.5h0m0 143.5h0m0-131.5h0m0.5 18.5h0m0 136.5h0m0 13.5h0m0 24.5h0m0-188.5h0m0.5 177h0m0.5-218h0m0 175h0m0-187h0m0 272.5h0m0-23.5h0m0-65.5h0m0.5-114.5h0m0 121.5h0m0-162h0m0 5.5h0m0.5 196.5h0m0-212h0m0 150.5h0m0 65.5h0m0.5-26.5h0m0 17.5h0m0-63h0m0.5-117h0m0-4h0m0 16.5h0m0-5.5h0m0-37h0m0 8h0m0 151.5h0m0 18.5h0m0 25.5h0m0 7.5h0m0.5-55h0m0 7h0m0-137h0m0 160h0m0-211h0m0 16.5h0m0.5 2h0m0 54h0m0 134h0m0-163.5h0m0 169h0m0-40h0m0.5 6h0m0 86.5h0m0-72h0m0-176h0m0 9.5h0m0 207h0m0-187h0m0.5 9h0m0 25h0m0-93h0m0.5 234.5h0m0-173h0m0 14h0m0-29.5h0m0 266.5h0m0.5-258h0m0 160.5h0m0-126.5h0m0.5 120.5h0m0-24h0m0 44h0m0.5-32h0m0-6.5h0m0 46h0m0-155h0m0-11h0m0-74h0m0.5 53.5h0m0 175.5h0m0-140.5h0m0 122.5h0m0.5-174.5h0m0 185.5h0m0 37.5h0m0-9.5h0m0-3.5h0m0-164.5h0m0 173h0m0.5-24h0m0-168h0m0-6h0m0 12.5h0m0 209h0m0-71.5h0m0-110.5h0m0.5-85.5h0m0 81.5h0m0 149.5h0m0-222.5h0m0.5 196.5h0m0-167.5h0m0 175.5h0m0-21h0m0-121.5h0m0 192h0m0-35h0m0-177.5h0m0.5-20.5h0m0 35.5h0m0 121.5h0m0 15h0m0-23.5h0m0-122h0m0 1.5h0m0 4h0m0.5 191h0m0-4h0m0-52h0m0-157h0m0 183h0m0.5 23.5h0m0-214.5h0m0.5 149.5h0m0-129h0m0.5-24h0m0 47.5h0m0.5 161.5h0m0-9.5h0m0-11.5h0m0-135h0m0 126h0m0-17.5h0m0.5-188h0m0 239.5h0m0-30.5h0m0-184h0m0 179h0m0 27.5h0m0.5-191h0m0 43.5h0m0 110h0m0-127h0m0-60h0m0 36.5h0m0 222.5h0m0.5-291h0m0 250h0m0-4.5h0m0-175.5h0m0 220h0m0-204.5h0m0-26h0m0.5 162h0m0-197h0m0 56h0m0 126.5h0m0.5 61.5h0m0-55.5h0m0-122.5h0m0 110.5h0m0-139.5h0m0-21.5h0m0.5-26h0m0 81h0m0 174.5h0m0-179h0m0.5-42.5h0m0 56.5h0m0 181.5h0m0-210h0m0 165.5h0m0-185h0m0 189.5h0m0-32h0m0.5 11h0m0-136.5h0m0 12.5h0m0.5 158.5h0m0-27.5h0m0-196h0m0.5 191.5h0m0 8h0m0 23h0m0-203.5h0m0.5 21h0m0 176h0m0-187h0m0 142.5h0m0-98.5h0m0-67h0m0.5 26.5h0m0 198.5h0m0-31h0m0-166h0m0 15h0m0.5-97h0m0 54h0m0 214.5h0m0.5-38h0m0-17.5h0m0-102.5h0m0 104.5h0m0 19.5h0m0 19.5h0m0-147h0m0.5-34.5h0m0 226h0m0-74.5h0m0 35h0m0-18h0m0.5 8h0m0-156.5h0m0 147h0m0-10.5h0m0-184.5h0m0 168.5h0m0-124.5h0m0.5 193h0m0-213.5h0m0 8.5h0m0 38h0m0-28.5h0m0 144h0m0.5 76.5h0m0-186.5h0m0 131.5h0m0.5-30h0m0-122h0m0.5 167.5h0m0-165h0m0 158.5h0m0-16h0m0-202h0m0 213.5h0m0.5 16.5h0m0-55h0m0.5 18h0m0-7.5h0m0-174.5h0m0 211h0m0.5-153h0m0-4.5h0m0 181h0m0-203.5h0m0-4h0m0 10.5h0m0-19.5h0m0.5 45.5h0m0-100.5h0m0 257.5h0m0 57.5h0m0-235.5h0m0 168h0m0 24.5h0m0-66h0m0 31h0m0.5-132h0m0-47.5h0m0.5 16h0m0-21.5h0m0 163.5h0m0-19h0m0-109.5h0m0.5 138.5h0m0-138h0m0-54h0m0 31h0m0 167h0m0-150.5h0m0.5 12h0m0 129.5h0m0 4.5h0m0.5 26h0m0-44.5h0m0 35h0m0-39.5h0m0-153h0m0.5 3.5h0m0 200h0m0-20h0m0.5-21h0m0-208h0m0 194.5h0m0-114h0m0.5-77.5h0m0 53h0m0 178.5h0m0 4h0m0-139h0m0-28h0m0-25.5h0m0 46h0m0.5 3h0m0 95.5h0m0 72.5h0m0.5-49.5h0m0-149h0m0 242h0m0-97.5h0m0-132h0m0.5 121.5h0m0-158h0m0-45h0m0.5 210.5h0m0 27h0m0-148h0m0-24h0m0 235.5h0m0-78.5h0m0 49h0m0-39h0m0-5.5h0m0.5-29.5h0m0-164h0m0 39.5h0m0 31h0m0-7.5h0m0.5-40.5h0m0-23.5h0m0 58h0m0-3.5h0m0-33.5h0m0 191.5h0m0.5-12h0m0.5-27.5h0m0-144.5h0m0-21h0m0-2h0m0 12h0m0 14.5h0m0.5-6.5h0m0 19.5h0m0 15h0m0 122h0m0.5 53.5h0m0-49h0m0-134.5h0m0 196h0m0.5-81.5h0m0-95.5h0m0 143.5h0m0.5-198.5h0m0-118h0m0 137.5h0m0 188h0m0-221h0m0.5 31h0m0 25h0m0 9h0m0 136h0m0-192h0m0 240.5h0m0-71.5h0m0-17.5h0m0 28h0m0.5-141.5h0m0 218.5h0m0-72.5h0m0-19h0m0.5 104h0m0-224h0m0-15.5h0m0 176.5h0m0 8.5h0m0-175.5h0m0-60h0m0.5 37.5h0m0 141.5h0m0 81.5h0m0-266.5h0m0 198.5h0m0 95h0m0-228.5h0m0.5 160h0m0-34.5h0m0-128.5h0m0 169h0m0.5-15.5h0m0-137.5h0m0.5 106.5h0m0 19.5h0m0.5-155h0m0 178h0m0-145h0m0 109.5h0m0-152.5h0m0.5 12.5h0m0 8.5h0m0 146h0m0.5-27h0m0 36h0m0 18h0m0-146.5h0m0 155.5h0m0-185.5h0m0.5 19h0m0 119.5h0m0.5-160.5h0m0 205h0m0-170.5h0m0 152.5h0m0-10h0m0 25h0m0.5-192h0m0 27.5h0m0 181h0m0-73.5h0m0.5 9.5h0m0-126.5h0m0 16.5h0m0 120.5h0m0 20.5h0m0.5-19h0m0-159.5h0m0 168h0m0-143.5h0m0 199.5h0m0-195h0m0 157.5h0m0-244h0m0.5 6h0m0 34.5h0m0 216h0m0-154h0m0.5-81h0m0-18h0m0 211.5h0m0-168h0m0 153.5h0m0-134h0m0.5-6.5h0m0 202.5h0m0-14h0m0-12.5h0m0 60h0m0-35h0m0.5-207h0m0 153.5h0m0 18h0m0-151.5h0m0 146.5h0m0.5-122.5h0m0 144h0m0 3.5h0m0.5-154.5h0m0 147.5h0m0-28.5h0m0 41h0m0-149h0m0 157.5h0m0-55.5h0m0-133.5h0m0.5-2.5h0m0 163h0m0 4h0m0-39h0m0-100.5h0m0-88h0m0 74.5h0m0-22.5h0m0.5 160.5h0m0-156h0m0-19.5h0m0-8h0m0 15h0m0.5 175.5h0m0 3h0m0-21h0m0-12h0m0-120h0m0.5 187.5h0m0-218h0m0.5 208.5h0m0-267h0m0 214.5h0m0 13h0m0 59h0m0-61h0m0.5-141h0m0 164h0m0 55.5h0m0-233h0m0.5-42.5h0m0 71h0m0-4.5h0m0 192h0m0.5-178.5h0m0 163.5h0m0-168.5h0m0 129h0m0.5 29.5h0m0-55.5h0m0 72.5h0m0-42h0m0-14h0m0.5-163h0m0 221.5h0m0-273.5h0m0 209h0m0-152h0m0-9h0m0 220.5h0m0-198.5h0m0 167.5h0m0.5-156.5h0m0 165h0m0-141h0m0 1.5h0m0-97h0m0.5 189.5h0m0-131h0m0 174h0m0-155.5h0m0 14h0m0-35.5h0m0.5 7h0m0-34h0m0 21.5h0m0-66h0m0 23h0m0 75h0m0.5-12.5h0m0 199h0m0-17h0m0-61h0m0 32.5h0m0-144.5h0m0.5 116h0m0 45h0m0 7.5h0m0-36h0m0 55h0m0-66h0m0 67.5h0m0.5-254.5h0m0 33h0m0.5 194h0m0-153h0m0 145.5h0m0-159.5h0m0 171h0m0 9.5h0m0.5-38h0m0 3.5h0m0-12h0m0 22h0m0-140.5h0m0.5 9h0m0-57h0m0 183h0m0-13.5h0m0 41h0m0.5 5h0m0-52.5h0m0-139h0m0 125h0m0 17h0m0-179.5h0m0 66.5h0m0.5-39.5h0m0 174.5h0m0.5-177.5h0m0-11.5h0m0 218h0m0-11h0m0.5-163.5h0m0-35.5h0m0 150.5h0m0-170h0m0 202h0m0 6h0m0-157h0m0.5 142.5h0m0-2.5h0m0-143h0m0-5h0m0 181h0m0-194h0m0.5-23.5h0m0 61h0m0-51h0m0 23.5h0m0.5 189h0m0 14h0m0-209h0m0.5 205.5h0m0-73.5h0m0 55h0m0-163.5h0m0 103.5h0m0-212h0m0 67h0m0 3h0m0 166h0m0.5 28.5h0m0-15h0m0-25h0m0 36.5h0m0-147h0m0.5-55.5h0m0 175h0m0 33.5h0m0 41h0m0-79.5h0m0 11h0m0.5 53.5h0m0 12.5h0m0.5-194h0m0 107.5h0m0-114h0m0 139h0m0-166h0m0.5-34h0m0 50.5h0m0-25h0m0 6h0m0 14.5h0m0 183.5h0m0-49.5h0m0-141.5h0m0.5 19h0m0.5-57.5h0m0 39.5h0m0 191h0m0-155h0m0 132h0m0-174.5h0m0 31.5h0m0.5 171.5h0m0-50h0m0 35.5h0m0-20h0m0 49h0m0-174.5h0m0-21.5h0m0.5-38h0m0 197h0m0-46h0m0 29h0m0-191h0m0 204h0m0-19h0m0 26h0m0-11h0m0.5-34h0m0-189.5h0m0 59.5h0m0-46h0m0 33.5h0m0-52h0m0.5 99h0m0 106.5h0m0-6.5h0m0-150h0m0 40h0m0-4.5h0m0-12.5h0m0.5 145.5h0m0-143h0m0 20h0m0-57h0m0 255h0m0.5-253.5h0m0 309h0m0-145h0m0 8h0m0-144h0m0.5-13h0m0 27.5h0m0 187h0m0-236.5h0m0 181h0m0.5-187h0m0 32h0m0-54.5h0m0.5 75.5h0m0 156.5h0m0-241h0m0.5 211.5h0m0 42h0m0-186.5h0m0 136h0m0-176.5h0m0 241h0m0.5-71.5h0m0 13h0m0 18h0m0-165.5h0m0 135.5h0m0.5 33h0m0-135h0m0 140h0m0-131h0m0-66.5h0m0.5 205.5h0m0-169.5h0m0 17.5h0m0-65h0m0.5 217h0m0-144h0m0 116.5h0m0.5-115h0m0-31h0m0 11.5h0m0 143h0m0 15.5h0m0-34.5h0m0.5-139h0m0 185h0m0-175h0m0-45h0m0 5.5h0m0 220.5h0m0-163h0m0.5-40h0m0 167h0m0-117h0m0-17h0m0 167h0m0.5-186.5h0m0 162.5h0m0 30.5h0m0.5-61h0m0 3.5h0m0 9.5h0m0-186h0m0 46h0m0 163h0m0.5 8h0m0-189h0m0 220.5h0m0-49.5h0m0-145.5h0m0 180.5h0m0 22h0m0.5-49.5h0m0-205.5h0m0 33h0m0-19.5h0m0 173.5h0m0-131.5h0m0-37h0m0 151h0m0.5-176h0m0 230h0m0-202.5h0m0 158.5h0m0-115h0m0.5 152.5h0m0.5 12.5h0m0-197h0m0 150.5h0m0-147.5h0m0 30.5h0m0.5 5h0m0-10.5h0m0 133h0m0-164.5h0m0 140h0m0-124.5h0m0.5 145.5h0m0-9.5h0m0-182h0m0 202h0m0.5-182h0m0 34.5h0m0-4h0m0 162h0m0-134.5h0m0 157.5h0m0-224h0m0 31h0m0 18h0m0 162.5h0m0-25h0m0-175h0m0.5 151h0m0.5 63.5h0m0-200h0m0-46h0m0.5 199.5h0m0-138.5h0m0-22h0m0 140h0m0 56.5h0m0-24h0m0-15h0m0-182h0m0 174h0m0-107.5h0m0.5-2h0m0 137h0m0-163.5h0m0 164.5h0m0-147.5h0m0 189.5h0m0.5-185h0m0-36.5h0m0 190.5h0m0 20.5h0m0-8h0m0-19.5h0m0.5-189h0m0 192h0m0.5-155h0m0 173h0m0.5-35.5h0m0-187.5h0m0-2h0m0 174h0m0-103.5h0m0 98h0m0.5-129.5h0m0 8h0m0 230.5h0m0-115.5h0m0.5-153.5h0m0 156h0m0 21h0m0-117h0m0 156.5h0m0-5.5h0m0-212.5h0m0 47h0m0 182h0m0.5-195h0m0 172.5h0m0.5-198.5h0m0 178.5h0m0-123.5h0m0.5-10h0m0 119.5h0m0 61.5h0m0-79h0m0-136.5h0m0-1.5h0m0 189.5h0m0.5-31.5h0m0 45h0m0-192.5h0m0-2h0m0 14.5h0m0 150h0m0.5 14h0m0-147.5h0m0 128.5h0m0-168.5h0m0 163.5h0m0-8h0m0 21h0m0.5 4h0m0-34h0m0 84.5h0m0.5-35.5h0m0-189h0m0 194h0m0-166.5h0m0 128h0m0-120h0m0 96.5h0m0 9.5h0m0.5-119.5h0m0 150h0m0 6.5h0m0-166.5h0m0-4h0m0.5-21.5h0m0-11.5h0m0 193h0m0-165h0m0.5 142.5h0m0 35.5h0m0-44.5h0m0-149.5h0m0-3.5h0m0 50h0m0.5-38.5h0m0 169.5h0m0.5-192h0m0 180h0m0-134h0m0 189.5h0m0-49.5h0m0-180h0m0.5 209.5h0m0-8.5h0m0 28h0m0-74.5h0m0-158h0m0 17.5h0m0-61.5h0m0 232h0m0.5-137.5h0m0 148.5h0m0-174h0m0 40.5h0m0-54h0m0.5-14h0m0 34h0m0 189h0m0-44.5h0m0.5-182h0m0 21.5h0m0 8.5h0m0 16h0m0.5 13h0m0 114.5h0m0-131.5h0m0 169.5h0m0.5-9.5h0m0-12.5h0m0-127.5h0m0.5 138h0m0-18.5h0m0 60.5h0m0-188.5h0m0 161.5h0m0-147h0m0 3h0m0-24h0m0 138h0m0.5-7h0m0-218.5h0m0 210.5h0m0 35.5h0m0.5-41.5h0m0 54.5h0m0-193.5h0m0-44.5h0m0 246.5h0m0-16.5h0m0-201.5h0m0.5 188h0m0-180.5h0m0-19.5h0m0 196h0m0 34.5h0m0.5-188.5h0m0 210h0m0-243.5h0m0-20h0m0 230.5h0m0-172.5h0m0.5 222.5h0m0-101.5h0m0-131.5h0m0.5 166.5h0m0 37h0m0-182h0m0-34.5h0m0 214h0m0-183.5h0m0 7h0m0-28.5h0m0-20h0m0.5 165.5h0m0 14.5h0m0-6h0m0-147.5h0m0.5-23h0m0 51h0m0 145.5h0m0.5-149.5h0m0 119h0m0-108.5h0m0 160h0m0.5-12.5h0m0-217.5h0m0 67.5h0m0-96h0m0 208h0m0-128h0m0.5 120h0m0 22h0m0-153h0m0 171.5h0m0-8h0m0-217.5h0m0 215.5h0m0.5-15.5h0m0-18.5h0m0-124.5h0m0.5-11h0m0 165.5h0m0-151h0m0-11h0m0 184h0m0.5-57h0m0-146.5h0m0 46h0m0.5 128.5h0m0-180.5h0m0 56.5h0m0.5-48h0m0-4.5h0m0 15h0m0.5 26.5h0m0 195.5h0m0-226h0m0 149h0m0 49.5h0m0.5-176h0m0 161.5h0m0 9h0m0-36.5h0m0 12.5h0m0.5-139.5h0m0 108h0m0 22h0m0-175h0m0 60.5h0m0-73.5h0m0 235h0m0.5 8.5h0m0-3.5h0m0-14.5h0m0-193.5h0m0-53.5h0m0 236.5h0m0.5-6.5h0m0-141.5h0m0-6h0m0 156.5h0m0-36.5h0m0 24h0m0-32h0m0-159.5h0m0 27h0m0-4h0m0 13h0m0.5-95.5h0m0 257.5h0m0-157.5h0m0-53h0m0.5 205h0m0-14h0m0-5h0m0.5-165h0m0 180h0m0-23h0m0 68h0m0-199h0m0-18.5h0m0-20.5h0m0 165.5h0m0.5 62.5h0m0-54.5h0m0-232h0m0 220h0m0-163h0m0 160h0m0-96.5h0m0.5-58.5h0m0 34h0m0 151.5h0m0-124.5h0m0.5 178.5h0m0-42h0m0-160h0m0 188h0m0 10h0m0.5-25.5h0m0-214.5h0m0 56h0m0 165.5h0m0.5-230h0m0 240h0m0-197h0m0 129.5h0m0 19h0m0 51.5h0m0-72h0m0.5-138h0m0 23h0m0 110.5h0m0-106h0m0-22.5h0m0.5 172h0m0 8.5h0m0-171.5h0m0 169h0m0-12h0m0-136h0m0 128.5h0m0.5-122.5h0m0 154h0m0-40h0m0-4.5h0m0.5-6h0m0 21h0m0-138h0m0.5 105.5h0m0-141.5h0m0 29h0m0-15.5h0m0.5 182.5h0m0-38h0m0-152.5h0m0 18h0m0 20.5h0m0-44.5h0m0.5 49.5h0m0 129.5h0m0-170.5h0m0 31.5h0m0.5 135h0m0 17.5h0m0-224.5h0m0 203.5h0m0.5 17h0m0-25.5h0m0 81.5h0m0-261h0m0 223.5h0m0-47h0m0.5 40.5h0m0-48.5h0m0-8h0m0-105.5h0m0-20h0m0 199.5h0m0.5-193.5h0m0 210h0m0-66h0m0 54.5h0m0-215h0m0 175.5h0m0-180.5h0m0 31.5h0m0-2.5h0m0 116h0m0.5-133.5h0m0 138.5h0m0.5 9.5h0m0 22h0m0-42h0m0 37h0m0.5-139.5h0m0 209.5h0m0-198.5h0m0.5-6h0m0 110h0m0-174h0m0 186.5h0m0 53.5h0m0-228h0m0.5 57.5h0m0 153h0m0-182h0m0-46.5h0m0 54.5h0m0 187.5h0m0.5-43.5h0m0-174h0m0 12.5h0m0-15.5h0m0-83h0m0.5 228.5h0m0-96h0m0 130.5h0m0 40h0m0-211.5h0m0 194.5h0m0-224.5h0m0.5 40.5h0m0 192.5h0m0-48h0m0 29h0m0.5-33h0m0-156.5h0m0 180h0m0-144.5h0m0-11h0m0.5 14.5h0m0 126h0m0 5h0m0-185.5h0m0 162h0m0.5-135h0m0 179.5h0m0-170.5h0m0-27h0m0.5-32.5h0m0 190.5h0m0-166h0m0 14h0m0 43.5h0m0 100h0m0-125.5h0m0.5 148h0m0-136h0m0.5 17.5h0m0 136.5h0m0.5-30.5h0m0 61h0m0-243h0m0 41h0m0 184.5h0m0.5 6.5h0m0-42.5h0m0 7h0m0-131.5h0m0 174.5h0m0-53h0m0.5-106.5h0m0-29h0m0 121h0m0 6h0m0 25.5h0m0.5-133.5h0m0 178.5h0m0-32h0m0 32h0m0-40.5h0m0.5-153.5h0m0 226.5h0m0-242h0m0 37h0m0 124.5h0m0 27.5h0m0.5 6h0m0-14h0m0.5-197h0m0-3h0m0-4h0m0 64.5h0m0-80h0m0 61h0m0.5 121.5h0m0-146h0m0 195.5h0m0-162h0m0-21h0m0 10.5h0m0-15.5h0m0 183.5h0m0-5.5h0m0.5-19h0m0-131.5h0m0 117.5h0m0-175.5h0m0.5 158h0m0 21h0m0-17h0m0 65.5h0m0-33h0m0.5-10h0m0 13.5h0m0-133.5h0m0 99.5h0m0-163h0m0.5 19h0m0 182.5h0m0.5-164.5h0m0-33h0m0 38h0m0 136h0m0-192.5h0m0 65h0m0.5-38h0m0 146h0m0-104.5h0m0-6.5h0m0.5 123.5h0m0 40.5h0m0-184h0m0-9.5h0m0 220.5h0m0-181.5h0m0 118h0m0 29h0m0-12h0m0.5-3h0m0 13h0m0-204.5h0m0 34.5h0m0 137h0m0-145.5h0m0-6h0m0 139h0m0-181h0m0.5 234h0m0-146.5h0m0 114.5h0m0.5-137.5h0m0 146h0m0-151h0m0.5 197h0m0-69h0m0-174h0m0.5 75h0m0-72h0m0 35.5h0m0 204h0m0-1h0m0-216.5h0m0 199h0m0.5-172h0m0 140h0m0-122h0m0-72h0m0.5 34.5h0m0 174.5h0m0-155h0m0 8.5h0m0-177.5h0m0 174.5h0m0 2.5h0m0.5 113.5h0m0 57.5h0m0-166h0m0-21.5h0m0.5 182.5h0m0-48h0m0-10h0m0 16h0m0 28h0m0.5-157.5h0m0-8.5h0m0 170h0m0-192.5h0m0.5 53h0m0-12.5h0m0 142h0m0-4h0m0.5-3.5h0m0-190h0m0 185.5h0m0.5 26h0m0-191.5h0m0 159.5h0m0-155.5h0m0.5 193.5h0m0-187.5h0m0 34h0m0 169.5h0m0.5-191h0m0 119.5h0m0 169h0m0.5-296h0m0 13.5h0m0-61h0m0 172.5h0m0.5-216h0m0 123.5h0m0 104h0m0-112.5h0m0 147.5h0m0-30.5h0m0 25h0m0.5 55h0m0 13.5h0m0-242h0m0 139.5h0m0-103.5h0m0-23.5h0m0.5 5h0m0 148h0m0-171h0m0 205.5h0m0-174h0m0 13.5h0m0 228.5h0m0-264h0m0-55.5h0m0 30.5h0m0 10h0m0.5 172h0m0-176.5h0m0 184h0m0-14h0m0-132.5h0m0-40.5h0m0.5 209.5h0m0.5-24.5h0m0-154h0m0 141.5h0m0.5-147.5h0m0 164.5h0m0-13.5h0m0 70h0m0-35h0m0-161.5h0m0.5 180h0m0-174h0m0.5 139h0m0-179.5h0m0 147h0m0 5h0m0.5-16.5h0m0 48.5h0m0-163.5h0m0 199.5h0m0-247.5h0m0 219.5h0m0.5-178h0m0.5-8.5h0m0 133.5h0m0 3h0m0-147.5h0m0 152h0m0.5-117.5h0m0 185.5h0m0-189h0m0-17.5h0m0 27.5h0m0 130h0m0-30.5h0m0-153.5h0m0 208.5h0m0.5 19.5h0m0-38.5h0m0-181h0m0 53.5h0m0-55.5h0m0 186h0m0.5-161h0m0-73.5h0m0 268.5h0m0-176h0m0.5-31.5h0m0 195h0m0-41.5h0m0-173h0m0.5 235h0m0-37.5h0m0-159.5h0m0.5 142h0m0-143.5h0m0 141h0m0-161.5h0m0-45h0m0.5 197.5h0m0 24.5h0m0-149.5h0m0 116.5h0m0-100h0m0-65.5h0m0 179h0m0.5 15h0m0 34.5h0m0-16.5h0m0-154h0m0-23h0m0.5 27.5h0m0 184.5h0m0-221h0m0 164h0m0-159h0m0.5-48h0m0 177h0m0-132.5h0m0 141h0m0 75.5h0m0-203.5h0m0.5-22.5h0m0 184.5h0m0-192h0m0.5 58h0m0-16h0m0.5 176h0m0-185h0m0 6h0m0.5 137h0m0 23h0m0-27h0m0 23h0m0-41.5h0m0-155h0m0 9h0m0 206.5h0m0.5-47.5h0m0 17.5h0m0 20.5h0m0-55h0m0-105h0m0.5 143h0m0-212.5h0m0 187h0m0 65h0m0-177h0m0.5-55.5h0m0 30.5h0m0 2.5h0m0-8.5h0m0-6h0m0 40h0m0-18.5h0m0 173h0m0.5-26h0m0 46.5h0m0-70.5h0m0.5 65.5h0m0-177h0m0 146.5h0m0.5-17.5h0m0-8h0m0-133.5h0m0.5 129h0m0-185.5h0m0 23.5h0m0 38.5h0m0 3h0m0-33.5h0m0 188h0m0.5 17.5h0m0-48.5h0m0 50h0m0-157.5h0m0 130h0m0 14h0m0.5-196h0m0 144.5h0m0-125h0m0-5.5h0m0 134.5h0m0.5-99.5h0m0 114.5h0m0.5-133.5h0m0 149.5h0m0-199h0m0 218.5h0m0.5-189.5h0m0-26.5h0m0 57.5h0m0-16.5h0m0 21h0m0 128.5h0m0 20h0m0 62.5h0m0-79.5h0m0.5-210.5h0m0 13.5h0m0 9h0m0 47h0m0-51h0m0.5 168h0m0 51h0m0-53h0m0 39h0m0-3.5h0m0.5-18h0m0-25h0m0.5-110h0m0-26h0m0-28.5h0m0 45.5h0m0 27.5h0m0-34h0m0 140.5h0m0.5-199.5h0m0 87.5h0m0-78h0m0 270h0m0-209h0m0 12.5h0m0.5-20.5h0m0-28.5h0m0-6h0m0 208h0m0 14h0m0-52h0m0-119.5h0m0.5 123h0m0 25h0m0-38.5h0m0 27.5h0m0.5 5.5h0m0-130.5h0m0-53h0m0-35h0m0 57.5h0m0 15.5h0m0 148h0m0.5-169h0m0 150.5h0m0.5-191h0m0 199.5h0m0 44h0m0-26h0m0-182.5h0m0 180.5h0m0-18.5h0m0-18h0m0-154h0m0.5 201h0m0-55h0m0-115h0m0.5-16h0m0 9.5h0m0-29h0m0.5 231h0m0.5-197h0m0 116h0m0-172.5h0m0 251h0m0.5-180h0m0 8.5h0m0-6h0m0-88h0m0 226.5h0m0-181h0m0 161.5h0m0-113.5h0m0 157.5h0m0 2h0m0.5-54h0m0-7h0m0 19h0m0-178h0m0 170h0m0-170h0m0.5 210.5h0m0-4.5h0m0-157.5h0m0 204.5h0m0-242h0m0 173h0m0-156h0m0 26h0m0 132h0m0-202h0m0 6.5h0m0 13h0m0.5 29.5h0m0-14.5h0m0 25h0m0 163h0m0-8h0m0.5-150.5h0m0 144h0m0-207h0m0 70h0m0.5 149.5h0m0-203h0m0 35h0m0 124.5h0m0 9h0m0.5-144.5h0m0 175.5h0m0.5-17.5h0m0 2.5h0m0-164.5h0m0 171h0m0.5-26.5h0m0-189h0m0 83.5h0m0 2h0m0 157h0m0.5-191.5h0m0-12.5h0m0 157h0m0-131.5h0m0 13.5h0m0.5-5.5h0m0 108.5h0m0-171h0m0 56.5h0m0 131.5h0m0.5-142.5h0m0 122.5h0m0 41h0m0-16.5h0m0-144h0m0.5-38h0m0 213h0m0-186.5h0m0 190h0m0.5 29h0m0-67.5h0m0 28h0m0-237h0m0 32h0m0.5 48h0m0 141h0m0-165h0m0.5 184.5h0m0-204h0m0.5 36.5h0m0-21h0m0 141.5h0m0-108h0m0 147.5h0m0 78h0m0-113h0m0 92h0m0-200h0m0.5 163.5h0m0-27h0m0-24.5h0m0.5 1.5h0m0 24h0m0 67h0m0-231.5h0m0-37h0m0-34h0m0.5 67h0m0 37.5h0m0-50.5h0m0 214h0m0-167h0m0-43.5h0m0 167.5h0m0-139.5h0m0 211h0m0.5-217h0m0-7.5h0m0 179h0m0-200.5h0m0 203.5h0m0-58h0m0-191.5h0m0.5 224h0m0 14.5h0m0 110h0m0-316.5h0m0.5 221h0m0-167h0m0 123.5h0m0-118h0m0 109h0m0-146h0m0 159h0m0.5 27h0m0-23.5h0m0 10h0m0-156h0m0.5-11.5h0m0 28.5h0m0-10.5h0m0-50h0m0.5 1.5h0m0 34h0m0 191.5h0m0.5-171.5h0m0 121.5h0m0 28h0m0 31h0m0-166h0m0 3h0m0.5-54.5h0m0 151h0m0 9h0m0 74.5h0m0-86h0m0 50h0m0.5-24h0m0-176.5h0m0 232h0m0-241h0m0.5 156.5h0m0 41.5h0m0.5 28.5h0m0-3h0m0-192h0m0 200.5h0m0-191h0m0-18h0m0 165h0m0-143h0m0 174.5h0m0-200.5h0m0.5-33h0m0 189h0m0 33.5h0m0-194h0m0 18.5h0m0 159.5h0m0 30h0m0.5 7h0m0-222h0m0 196h0m0-197.5h0m0 174h0m0 4.5h0m0-16h0m0-140h0m0.5-43.5h0m0 71.5h0m0 1h0m0-38.5h0m0.5 144h0m0-125.5h0m0 12h0m0.5 3h0m0 104.5h0m0-143h0m0.5 49.5h0m0 115h0m0.5-120.5h0m0 104h0m0-163.5h0m0 197.5h0m0.5-130.5h0m0-63h0m0 167.5h0m0-155h0m0 186h0m0-194h0m0.5 29h0m0 201h0m0-49.5h0m0-141h0m0 144h0m0.5 42h0m0-17h0m0-32h0m0-142h0m0 132h0m0-150h0m0 134h0m0-130h0m0.5 24h0m0-64.5h0m0 45h0m0 174.5h0m0-144.5h0m0.5 117.5h0m0-160.5h0m0-7h0m0 41h0m0.5-61h0m0 198.5h0m0-25.5h0m0-125.5h0m0.5 168.5h0m0-171.5h0m0 135h0m0 27h0m0.5-191h0m0 57.5h0m0-21.5h0m0-14.5h0m0.5-34.5h0m0 62.5h0m0 149h0m0.5 97.5h0m0-127.5h0m0 8h0m0-163h0m0 12.5h0m0.5-57.5h0m0 71h0m0 122h0m0-200.5h0m0 35h0m0 13.5h0m0 176.5h0m0 55h0m0.5-70.5h0m0-151h0m0 172.5h0m0-147.5h0m0-6.5h0m0-73.5h0m0.5 189.5h0m0-100h0m0 105h0m0 21h0m0.5 6h0m0-140h0m0 126.5h0m0-21.5h0m0.5 75h0m0-21h0m0-147.5h0m0 142.5h0m0 11h0m0.5-186h0m0-13h0m0-5h0m0.5 207h0m0-212.5h0m0 163h0m0-132h0m0 152h0m0.5-133h0m0-44h0m0 169.5h0m0-147h0m0-27.5h0m0 205.5h0m0-20h0m0-195.5h0m0.5 203h0m0-138h0m0-14h0m0-52.5h0m0 55h0m0.5 108h0m0 3h0m0 56.5h0m0.5-196h0m0 2h0m0 153h0m0-134h0m0-25.5h0m0.5 184h0m0-169.5h0m0 7h0m0 127.5h0m0.5 31h0m0-42.5h0m0 17h0m0-206h0m0.5 198.5h0m0-153h0m0-14h0m0 26h0m0 25.5h0m0 136h0m0.5 22.5h0m0.5-148.5h0m0 162h0m0-65.5h0m0-101.5h0m0 8.5h0m0-55.5h0m0.5 145.5h0m0-136h0m0 13h0m0 177h0m0-11h0m0-35.5h0m0.5-115.5h0m0-7h0m0 4h0m0 134.5h0m0 15.5h0m0.5-11.5h0m0-159.5h0m0 242h0m0-230h0m0 134.5h0m0.5 30h0m0-187h0m0 263h0m0-41.5h0m0-45h0m0.5 15.5h0m0 35.5h0m0-66h0m0-157.5h0m0 9.5h0m0.5-24.5h0m0 64h0m0-7.5h0m0-3h0m0 134.5h0m0-33h0m0-152h0m0.5 15.5h0m0 157.5h0m0-186.5h0m0.5 42h0m0 128h0m0 22.5h0m0-145h0m0 171.5h0m0.5-251.5h0m0 234.5h0m0 56.5h0m0.5-52.5h0m0 34h0m0-66.5h0m0-114.5h0m0-7.5h0m0 21h0m0 145h0m0-162.5h0m0.5 157.5h0m0 42.5h0m0-249.5h0m0-46.5h0m0 69h0m0 38h0m0-32h0m0-12h0m0 152.5h0m0.5 5.5h0m0-17h0m0.5 4h0m0-105.5h0m0 125h0m0-170h0m0-9.5h0m0.5-3.5h0m0 66h0m0-22h0m0.5 149h0m0 18.5h0m0-200h0m0.5 176h0m0 76h0m0-58h0m0-166h0m0 180.5h0m0-219h0m0 178.5h0m0-161h0m0.5 142.5h0m0-107.5h0m0 155.5h0m0-40.5h0m0.5-157h0m0 61h0m0 125h0m0-140h0m0 142h0m0-136h0m0-37.5h0m0.5 177h0m0-174h0m0 19h0m0 18.5h0m0.5 155h0m0-47.5h0m0-134.5h0m0 144h0m0-152.5h0m0.5 13h0m0 115h0m0-124h0m0 25.5h0m0 130h0m0-188.5h0m0.5 164h0m0-93h0m0-53.5h0m0 241.5h0m0-81.5h0m0.5 36.5h0m0-48.5h0m0 65h0m0.5-216.5h0m0-28.5h0m0 38h0m0 193h0m0-273h0m0 247.5h0m0-7h0m0.5-122.5h0m0-7.5h0m0.5 161h0m0-54h0m0 43h0m0-40h0m0 16.5h0m0-6.5h0m0.5 34h0m0-159h0m0-26.5h0m0 45h0m0-69h0m0 158.5h0m0-123.5h0m0 11.5h0m0.5-17h0m0 45h0m0-16.5h0m0.5 154h0m0-32.5h0m0-142.5h0m0 5h0m0 206.5h0m0-78.5h0m0 54h0m0-17h0m0-8h0m0-133h0m0.5-77.5h0m0 238h0m0.5-209.5h0m0 172h0m0-158.5h0m0 40.5h0m0.5 170h0m0-35.5h0m0.5-161.5h0m0-3.5h0m0 180.5h0m0-213h0m0.5 186.5h0m0-36h0m0 27h0m0.5-21.5h0m0-90h0m0 91.5h0m0-124.5h0m0 14h0m0 167h0m0-162.5h0m0 113.5h0m0.5-147h0m0 201h0m0-46.5h0m0-5h0m0-167.5h0m0 54.5h0m0.5-14h0m0 214.5h0m0-212h0m0.5-16h0m0 164h0m0-16.5h0m0 12.5h0m0.5-139h0m0 155h0m0-134h0m0-10.5h0m0.5-70.5h0m0 36.5h0m0-15.5h0m0-10h0m0 162.5h0m0 63.5h0m0.5-163.5h0m0 120h0m0-132h0m0-21h0m0.5 128.5h0m0 43h0m0-46h0m0 52h0m0.5-200h0m0 192h0m0-36h0m0 43.5h0m0-171h0m0.5 134.5h0m0 24h0m0-175h0m0.5 2h0m0 38.5h0m0 132h0m0-25h0m0-15h0m0-111.5h0m0.5 113h0m0 25h0m0-4h0m0-119.5h0m0.5 129.5h0m0-138.5h0m0 27h0m0.5-5h0m0-32h0m0 26h0m0-35.5h0m0 154h0m0 34.5h0m0.5-214h0m0 210.5h0m0-17h0m0-35h0m0 29h0m0.5-157h0m0 170h0m0 12h0m0-39.5h0m0-123h0m0.5-27.5h0m0-1.5h0m0 129h0m0 73h0m0-18.5h0m0.5-21h0m0.5-110.5h0m0 147.5h0m0-57.5h0m0-106h0m0 141h0m0-166.5h0m0.5 143.5h0m0 13.5h0m0-32h0m0 42h0m0-48.5h0m0-85h0m0.5-49h0m0 25.5h0m0 127.5h0m0-3.5h0m0 37.5h0m0 1h0m0 33.5h0m0-165h0m0.5 104.5h0m0-125h0m0 8h0m0 8.5h0m0-8h0m0.5 125.5h0m0-24h0m0-10.5h0m0 17h0m0-103.5h0m0 116h0m0-26.5h0m0.5-110h0m0 107.5h0m0 7.5h0m0-124h0m0 11.5h0" stroke="#1f77b4" stroke-width="5.8" stroke-linecap="round" fill="none"/><path d="M112 283.2 114 280.4 114 276.9 116 274.5 116 274.2 118 274.7 118 276.2 120 281.0 120 287.8 122 291.1 122 288.3 124 281.7 124 274.8 126 271.1 126 272.6 128 276.8 128 278.3 130 276.2 130 275.1 132 277.2 132 280.3 134 282.4 134 282.9 136 280.7 136 277.4 138 276.9 138 280.2 140 283.5 140 283.7 142 282.7 142 285.7 144 292.3 144 298.9 146 303.8 146 304.9 148 302.9 148 300.6 150 300.3 150 302.3 152 306.5 152 313.5 154 318.8 154 317.4 156 310.7 156 305.3 158 307.5 158 313.2 160 314.4 160 310.2 162 302.9 162 299.2 164 303.6 164 312.0 166 316.2 166 317.6 168 323.0 168 327.0 170 322.6 170 316.6 172 314.0 172 309.6 174 303.6 174 303.4 176 308.9 176 312.2 178 313.2 178 317.4 180 324.4 180 327.4 182 323.8 182 318.7 184 316.8 184 316.3 186 312.9 186 305.7 188 297.5 188 290.5 190 286.2 190 284.8 192 284.3 192 282.4 194 281.3 194 283.8 196 285.6 196 283.0 198 280.6 198 282.4 200 285.4 200 286.9 202 288.7 202 291.2 204 291.1 204 288.2 206 286.2 206 286.1 208 287.0 208 286.9 210 284.6 210 280.7 212 277.5 212 277.1 214 279.1 214 281.0 216 280.9 216 279.8 218 278.9 218 277.9 220 275.5 220 272.1 222 270.2 222 271.3 224 274.1 224 276.3 226 275.8 226 273.6 228 272.5 228 273.4 230 275.5 230 277.1 232 276.6 232 274.0 234 270.8 234 269.4 236 271.6 236 275.3 238 276.6 238 275.1 240 272.3 240 270.2 242 271.0 242 273.7 244 274.9 244 274.6 246 275.6 246 277.1 248 276.7 248 274.8 250 273.4 250 272.6 252 271.4 252 270.8 254 272.0 254 274.1 256 275.7 256 275.7 258 274.8 258 274.2 260 275.0 260 276.4 262 277.2 262 278.2 264 279.9 264 281.3 266 280.8 266 279.1 268 277.5 268 277.4 270 278.4 270 279.2 272 279.0 272 278.2 274 277.2 274 275.6 276 274.1 276 274.4 278 275.6 278 276.8 280 277.6 280 276.7 282 275.1 282 274.8 284 275.9 284 276.4 286 276.7 286 277.9 288 279.6 288 279.8 290 277.5 290 274.2 292 271.5 292 271.2 294 273.8 294 277.4 296 279.1 296 279.5 298 280.5 298 282.2 300 282.9 300 282.4 302 281.4 302 280.6 304 279.4 304 277.2 306 275.5 306 275.6 308 276.5 308 277.7 310 279.8 310 281.7 312 281.8 312 280.1 314 278.6 314 279.2 316 281.0 316 282.0 318 282.2 318 281.9 320 281.5 320 281.4 322 281.5 322 282.4 324 284.6 324 287.1 326 288.3 326 287.6 328 285.3 328 283.4 330 284.0 330 286.8 332 289.7 332 291.3 334 292.0 334 292.7 336 292.8 336 290.8 338 287.0 338 283.9 340 283.5 340 285.6 342 287.7 342 287.5 344 286.1 344 285.1 346 284.1 346 282.8 348 281.6 348 281.9 350 284.4 350 285.8 352 283.6 352 279.9 354 277.9 354 278.4 356 279.5 356 279.6 358 279.2 358 279.1 360 279.7 360 281.1 362 282.8 362 283.4 364 282.7 364 282.0 366 281.7 366 280.3 368 278.5 368 278.8 370 280.0 370 279.5 372 276.6 372 272.9 374 270.5 374 271.0 376 274.8 376 278.8 378 279.6 378 277.3 380 273.8 380 271.3 382 270.9 382 271.6 384 272.4 384 273.0 386 272.6 386 270.8 388 269.9 388 270.9 390 272.1 390 272.2 392 272.2 392 273.2 394 274.1 394 274.0 396 273.7 396 274.0 398 274.1 398 273.5 400 273.3 400 273.1 402 271.0 402 267.5 404 265.8 404 267.2 406 269.7 406 271.8 408 273.1 408 272.9 410 271.6 410 271.0 412 271.7 412 273.0 414 274.4 414 274.5 416 273.6 416 274.5 418 277.3 418 279.0 420 278.7 420 278.0 422 278.0 422 277.9 424 277.3 424 276.9 426 276.8 426 276.1 428 275.3 428 276.5 430 279.6 430 282.1 432 281.9 432 279.7 434 278.9 434 280.7 436 283.0 436 284.1 438 284.1 438 282.7 440 279.4 440 276.9 442 277.2 442 279.7 444 282.8 444 285.1 446 286.2 446 286.1 448 285.8 448 285.6 450 285.0 450 284.3 452 283.8 452 284.3 454 285.2 454 285.7 456 285.2 456 283.9 458 282.3 458 280.4 460 278.1 460 276.8 462 278.2 462 282.0 464 284.9 464 283.8 466 280.8 466 279.4 468 278.8 468 276.8 470 274.1 470 272.9 472 273.5 472 275.3 474 276.7 474 276.0 476 273.8 476 272.2 478 271.3 478 271.6 480 273.9 480 277.0 482 278.5 482 278.7 484 278.5 484 278.4 486 278.9 486 280.2 488 281.9 488 282.6 490 281.8 490 281.3 492 282.6 492 283.7 494 282.1 494 278.6 496 276.0 496 275.6 498 277.2 498 278.9 500 278.4 500 276.8 502 276.8 502 278.9 504 281.1 504 281.1 506 279.2 506 277.3 508 276.4 508 275.4 510 274.2 510 274.5 512 277.9 512 282.1 514 283.1 514 280.0 516 276.3 516 274.7 518 274.6 518 274.3 520 273.8 520 274.1 522 275.4 522 276.7 524 277.3 524 276.9 526 275.0 526 273.5 528 273.8 528 274.5 530 275.2 530 275.4 532 274.7 532 274.2 534 275.1 534 276.0 536 275.5 536 274.4 538 274.2 538 275.1 540 276.4 540 278.4 542 280.7 542 281.4 544 279.6 544 277.0 546 275.9 546 276.7 548 277.6 548 277.5 550 276.0 550 274.9 552 275.4 552 275.8 554 274.8 554 273.9 556 273.9 556 273.9 558 273.3 558 273.8 560 276.4 560 280.2 562 283.0 562 282.7 564 280.6 564 277.8 566 273.5 566 269.6 568 269.2 568 270.6 570 270.4 570 269.3 572 269.5 572 270.4 574 270.8 574 270.6 576 270.0 576 268.7 578 267.8 578 268.7 580 270.2 580 270.7 582 269.8 582 267.7 584 266.1 584 265.7 586 267.0 586 269.9 588 273.4 588 275.7 590 275.9 590 275.4 592 277.3 592 280.6 594 280.5 594 276.6 596 273.3 596 273.7 598 276.4 598 279.2 600 280.3 600 279.7 602 278.8 602 278.6 604 279.1 604 279.9 606 280.4 606 279.8 608 279.0 608 279.3 610 280.4 610 281.1 612 281.8 612 282.6 614 283.9 614 285.1 616 285.8 616 286.9 618 288.1 618 288.2 620 287.0 620 285.1 622 283.3 622 282.7 624 282.2 624 279.7 626 276.5 626 275.7 628 277.3 628 278.8 630 279.0 630 278.6 632 278.0 632 277.3 634 277.7 634 279.8 636 281.3 636 279.7 638 276.2 638 274.4 640 275.8 640 279.0 642 281.1 642 280.6 644 279.7 644 280.8 646 283.0 646 284.8 648 285.8 648 286.7 650 287.6 650 286.9 652 284.7 652 284.4 654 286.3 654 286.6 656 284.1 656 281.9 658 280.6 658 278.8 660 277.2 660 276.5 662 276.6 662 277.4 664 277.8 664 276.7 666 275.2 666 274.7 668 274.9 668 275.1 670 275.8 670 277.8 672 279.9 672 279.8 674 278.0 674 275.7 676 273.3 676 270.6 678 268.3 678 267.8 680 269.8 680 272.3 682 273.2 682 272.7 684 271.9 684 271.5 686 271.1 686 269.9 688 267.5 688 265.6 690 266.3 690 268.6 692 269.1 692 266.9 694 264.9 694 265.0 696 264.7 696 263.1 698 262.4 698 263.9 700 265.7 700 264.4 702 260.5 702 258.3 704 258.0 704 256.7 706 255.5 706 257.3 708 259.1 708 258.2 710 257.0 710 255.8 712 251.7 712 245.4 714 240.9 714 239.5 716 241.2 716 245.0 718 249.1 718 253.8 720 258.3 720 259.3 722 256.1 722 254.0 724 256.1 724 258.9 726 259.5 726 258.5 728 258.0 728 258.7 730 259.9 730 259.7 732 258.0 732 256.0 734 253.2 734 248.6 736 244.0 736 240.5 738 238.1 738 239.9 740 246.4 740 253.6 742 257.9 742 258.5 744 256.7 744 255.1 746 254.3 746 251.9 748 246.3 748 239.7 750 237.0 750 236.9 752 235.9 752 236.4 754 240.8 754 244.4 756 243.4 756 240.5 758 238.1 758 235.5 760 232.7 760 229.3 762 226.1 762 224.7 764 226.4 764 229.8 766 231.8 766 230.3 768 226.9 768 224.1 770 222.2 770 219.0 772 213.2 772 207.5 774 203.6 774 201.7 776 201.8 776 202.0 778 201.8 778 203.0 780 205.0 780 205.9 782 205.8 782 204.0 784 200.4 784 197.9 786 197.7 786 197.3 788 196.6 788 196.8 790 196.5 790 195.2 792 195.1 792 197.5 794 200.3 794 201.4 796 200.9 796 200.9 798 201.2 798 198.6 800 192.8 800 189.9 802 216.9 802 248.6 804 256.4 804 263.4 806 267.8 806 268.2 808 268.2 808 267.5 810 267.1 810 268.4 812 270.2 812 271.0 814 271.7 814 273.0 816 274.5 816 274.0 818 271.9 818 270.6 820 270.3 820 269.8 822 269.5 822 270.1 824 271.2 824 272.9 826 275.2 826 277.2 828 278.2 828 277.8 830 275.8 830 273.6 832 273.0 832 273.6 834 273.7 834 273.9 836 274.6 836 275.0 838 275.7 838 276.6 840 276.0 840 274.2 842 273.7 842 275.1 844 276.4 844 276.1 846 274.0 846 272.5 848 272.8 848 273.7 850 274.2 850 274.8 852 275.9 852 276.9 854 277.4 854 276.9 856 275.3 856 273.2 858 271.7 858 271.6 860 272.5 860 274.1 862 275.6 862 276.4 864 276.4 864 275.3 866 273.0 866 269.7 868 267.6 868 268.5 870 271.2 870 273.3 872 274.4 872 275.5 874 276.4 874 276.2 876 274.8 876 272.6 878 271.0 878 271.3 880 273.5 880 274.5 882 272.2 882 271.3 884 275.1 884 278.9 886 278.1 886 275.7 888 276.4 888 281.5 890 288.5 890 291.5 892 289.4 892 287.5 894 286.9 894 283.4 896 277.8 896 274.0 898 273.5 898 275.1 900 277.2 900 279.3 902 280.3 902 278.9 904 276.3 904 275.6 906 277.3 906 279.6 908 280.4 908 275.6 910 266.3 910 263.1 912 270.6 912 280.0 914 283.1 914 281.1 916 282.4 916 287.1 918 284.5 918 275.8 920 271.3 920 272.6 922 275.9 922 279.0 924 277.1 924 272.0 926 274.8 926 286.6 928 295.7 928 294.9 930 289.9 930 285.6 932 280.5 932 276.7 934 279.2 934 290.2 936 302.6 936 301.1 938 285.6 938 270.8 940 267.4 940 273.2 942 277.4 942 276.5 944 275.3 944 273.4 946 267.9 946 265.8 948 272.2 948 277.9 950 272.6 950 258.3 952 249.2 952 258.6 954 283.1 954 304.4 956 305.6 956 288.1 958 271.4 958 269.6 960 277.1 960 283.2 962 284.2 962 276.6 964 260.3 964 247.8 966 251.1 966 266.6 968 278.6 968 277.1 970 273.5 970 278.7 972 285.2 972 286.6 974 287.2 974 287.5 976 284.1 976 281.5 978 284.8 978 289.8 980 291.7 980 290.2 982 285.4 982 279.7 984 277.6 984 279.2 986 282.9 986 285.0 988 278.1 988 265.6 990 259.4 990 260.3 992 264.7 992 270.8 994 277.0 994 281.1 996 281.0 996 276.4 998 272.2 998 272.1 1000 272.0 1000 271.8 1002 275.5 1002 276.0 1004 267.8 1004 259.8 1006 264.4 1006 276.5 1008 282.8 1008 279.0 1010 270.1 1010 265.2 1012 268.7 1012 275.7 1014 278.4 1014 275.3 1016 271.3 1016 269.0 1018 267.1 1018 265.7 1020 266.2 1020 267.1 1022 268.9 1022 274.4 1024 280.4 1024 283.8 1026 288.5 1026 293.4 1028 292.3 1028 285.4 1030 274.1 1030 261.2 1032 255.6 1032 260.6 1034 272.0 1034 287.0 1036 299.7 1036 300.3 1038 289.3 1038 276.8 1040 269.4 1040 267.8 1042 271.2 1042 276.2 1044 277.1 1044 275.2 1046 278.3 1046 288.5 1048 297.1 1048 293.8 1050 277.4 1050 260.2 1052 255.6 1052 263.5 1054 272.0 1054 272.9 1056 272.7 1056 277.0 1058 279.3 1058 272.7 1060 257.8 1060 243.4 1062 240.4 1062 253.0 1064 272.5 1064 283.7 1066 285.4 1066 287.0 1068 290.0 1068 291.4 1070 289.7 1070 281.1 1072 262.9 1072 245.8 1074 246.8 1074 260.2 1076 263.8 1076 257.5 1078 254.6 1078 253.2 1080 249.8 1080 252.7 1082 265.7 1082 280.8 1084 292.8 1084 301.7 1086 305.7 1086 302.1 1088 291.7 1088 280.9 1090 274.9 1090 272.6 1092 270.8 1092 272.3 1094 273.9 1094 263.7 1096 246.6 1096 241.1 1098 250.2 1098 264.7 1100 278.5 1100 287.4 1102 292.6 1102 295.8 1104 294.1 1104 289.2 1106 287.0 1106 288.8 1108 292.7 1108 296.1 1110 295.2 1110 287.4 1112 277.0 1112 270.3 1114 271.3 1114 278.0 1116 279.2 1116 269.2 1118 260.0 1118 260.3 1120 264.7 1120 267.1 1122 267.8 1122 269.7 1124 275.3 1124 282.4 1126 285.8 1126 286.4 1128 285.4 1128 282.2 1130 277.8 1130 273.2 1132 270.4 1132 269.7 1134 266.2 1134 259.1 1136 255.3 1136 259.5 1138 269.7 1138 278.2 1140 279.5 1140 278.6 1142 280.5 1142 281.2 1144 276.1 1144 266.4 1146 260.3 1146 269.2 1148 287.1 1148 295.0 1150 289.5 1150 283.3 1152 283.8 1152 289.8 1154 297.2 1154 298.1 1156 290.7 1156 282.9 1158 279.4 1158 275.9 1160 272.1 1160 272.2 1162 278.0 1162 287.9 1164 299.8 1164 310.9 1166 313.1 1166 302.8 1168 288.2 1168 276.0 1170 269.9 1170 273.0 1172 280.8 1172 284.4 1174 283.3 1174 282.8 1176 283.8 1176 287.1 1178 294.4 1178 296.8 1180 286.3 1180 273.3 1182 270.5 1182 274.1 1184 272.9 1184 267.1 1186 264.9 1186 269.4 1188 278.9 1188 286.2 1190 283.5 1190 273.2 1192 260.7 1192 250.9 1194 250.5 1194 258.1 1196 266.9 1196 277.4 1198 290.2 1198 299.5 1200 302.7 1200 302.0 1202 300.6 1202 294.7 1204 276.0 1204 254.4 1206 250.1 1206 264.7 1208 282.3 1208 292.2 1210 294.3 1210 291.1 1212 286.9 1212 281.9 1214 278.2 1214 281.5 1216 290.5 1216 298.7 1218 300.0 1218 293.9 1220 288.2 1220 289.2 1222 292.2 1222 293.1 1224 294.7 1224 296.9 1226 295.7 1226 291.1 1228 286.2 1228 281.3 1230 274.9 1230 268.1 1232 263.7 1232 265.0 1234 273.5 1234 284.2 1236 290.4 1236 291.3 1238 290.6 1238 289.5 1240 287.3 1240 284.4 1242 278.8 1242 272.7 1244 273.0 1244 279.9 1246 289.6 1246 301.5 1248 309.0 1248 303.8 1250 292.5 1250 283.1 1252 277.0 1252 274.5 1254 273.3 1254 271.5 1256 270.9 1256 270.6 1258 269.8 1258 273.5 1260 281.2 1260 282.9 1262 274.9 1262 264.3 1264 260.9 1264 265.9 1266 271.8 1266 271.8 1268 267.7 1268 269.0 1270 278.5 1270 287.8 1272 289.5 1272 284.9 1274 281.1 1274 284.2 1276 292.9 1276 296.2 1278 288.2 1278 278.1 1280 275.1 1280 277.9 1282 283.6 1282 289.0 1284 288.0 1284 278.9 1286 267.3 1286 260.3 1288 261.5 1288 267.4 1290 272.2 1290 274.3 1292 275.1 1292 278.5 1294 283.3 1294 281.7 1296 275.2 1296 273.0 1298 275.6 1298 275.6 1300 272.0 1300 271.8 1302 277.9 1302 285.4 1304 289.0 1304 290.6 1306 290.1 1306 280.8 1308 264.5 1308 251.7 1310 247.2 1310 252.5 1312 267.9 1312 283.9 1314 288.1 1314 278.7 1316 267.5 1316 263.8 1318 261.3 1318 257.3 1320 260.4 1320 266.2 1322 263.8 1322 259.0 1324 265.2 1324 279.6 1326 286.5 1326 280.4 1328 274.1 1328 277.2 1330 285.3 1330 291.2 1332 289.0 1332 278.1 1334 269.5 1334 272.0 1336 281.2 1336 287.8 1338 287.4 1338 285.3 1340 287.3 1340 289.6 1342 289.1 1342 287.6 1344 285.3 1344 284.2 1346 289.7 1346 300.6 1348 303.4 1348 290.1 1350 273.3 1350 267.0 1352 270.8 1352 280.5 1354 294.3 1354 306.2 1356 308.0 1356 299.2 1358 288.5 1358 284.2 1360 280.9 1360 272.2 1362 265.9 1362 267.1 1364 269.5 1364 267.1 1366 264.2 1366 266.1 1368 275.6 1368 288.5 1370 293.5 1370 286.5 1372 273.5 1372 267.6 1374 276.2 1374 289.7 1376 290.6 1376 274.9 1378 261.0 1378 262.6 1380 271.5 1380 275.0 1382 273.6 1382 276.1 1384 282.2 1384 282.4 1386 272.3 1386 257.2 1388 248.1 1388 253.6 1390 267.0 1390 277.3 1392 283.4 1392 284.0 1394 277.0 1394 270.4 1396 270.3 1396 272.6 1398 277.8 1398 286.5 1400 287.9 1400 278.7 1402 272.2 1402 275.3 1404 277.8 1404 272.4 1406 266.6 1406 267.9 1408 274.0 1408 280.7 1410 289.2 1410 298.8 1412 301.5 1412 297.1 1414 296.5 1414 300.9 1416 299.0 1416 286.0 1418 272.6 1418 265.3 1420 263.4 1420 266.4 1422 269.5 1422 272.0 1424 278.7 1424 281.0 1426 269.5 1426 252.5 1428 244.5 1428 249.2 1430 262.7 1430 280.0 1432 290.5 1432 287.7 1434 279.4 1434 273.0 1436 266.6 1436 262.7 1438 265.3 1438 272.3 1440 281.4 1440 292.8 1442 300.4 1442 298.0 1444 290.4 1444 286.9 1446 288.7 1446 289.1 1448 283.4 1448 273.1 1450 262.1 1450 255.3 1452 255.9 1452 261.8 1454 269.4 1454 273.7 1456 272.5 1456 272.8 1458 277.5 1458 281.0 1460 277.6 1460 270.7 1462 268.8 1462 274.1 1464 280.9 1464 282.2" stroke="#ff7f0e" stroke-width="2.08" fill="none" stroke-linejoin="round"/></g><rect x="1048.2" y="48.6" width="405.1" height="80" rx="3" ry="3" fill="#fff" fill-opacity="0.8" stroke="#ccc" stroke-opacity="0.8" stroke-width="1.11"/><circle cx="1073.6" cy="63.4" r="2.9" fill="#1f77b4"/><path d="M1053.2 101.9H1092" stroke="#ff7f0e" stroke-width="2.08"/><text x="1106.5" y="69.0" font-size="17.0" text-anchor="start" textLength="98.5" lengthAdjust="spacingAndGlyphs">Raw Data</text><text x="1106.5" y="95.9" font-size="17.0" text-anchor="start" textLength="269" lengthAdjust="spacingAndGlyphs">Butterworth Filtered Data</text><text x="1106.5" y="116.9" font-size="17.0" text-anchor="start" textLength="338" lengthAdjust="spacingAndGlyphs">(N=6, Tc=3.3333 min, Type: low)</text><rect x="115.5" y="38.4" width="1346.8" height="480.20000000000005" fill="none" stroke="#000" stroke-width="1.11"/><path d="M115.5 518.6v4.86M284.5 518.6v4.86M452.5 518.6v4.86M620.5 518.6v4.86M789.5 518.6v4.86M957.5 518.6v4.86M1125.5 518.6v4.86M1294.5 518.6v4.86M115.5 49.5h-4.86M115.5 124.5h-4.86M115.5 200.5h-4.86M115.5 275.5h-4.86M115.5 351.5h-4.86M115.5 426.5h-4.86M115.5 502.5h-4.86" stroke="#000" stroke-width="1.11" fill="none"/><text x="105.8" y="57.5" font-size="22.6" text-anchor="end" textLength="15.47" lengthAdjust="spacingAndGlyphs">3</text><text x="105.8" y="133.0" font-size="22.6" text-anchor="end" textLength="15.47" lengthAdjust="spacingAndGlyphs">2</text><text x="105.8" y="208.4" font-size="22.6" text-anchor="end" textLength="15.47" lengthAdjust="spacingAndGlyphs">1</text><text x="105.8" y="283.9" font-size="22.6" text-anchor="end" textLength="15.47" lengthAdjust="spacingAndGlyphs">0</text><text x="105.8" y="359.4" font-size="22.6" text-anchor="end" textLength="34.09" lengthAdjust="spacingAndGlyphs">−1</text><text x="105.8" y="434.8" font-size="22.6" text-anchor="end" textLength="34.09" lengthAdjust="spacingAndGlyphs">−2</text><text x="105.8" y="510.3" font-size="22.6" text-anchor="end" textLength="34.09" lengthAdjust="spacingAndGlyphs">−3</text><text x="118" y="29.6" font-size="27.2" text-anchor="start" textLength="37.5" lengthAdjust="spacingAndGlyphs">(a)</text><text x="784.0" y="29.9" font-size="28.3" text-anchor="middle" textLength="279" lengthAdjust="spacingAndGlyphs">2.5 MHz N0000002</text><text transform="translate(61.0 278.5) rotate(-90)" x="0" y="0" font-size="22.6" text-anchor="middle" textLength="224.5" lengthAdjust="spacingAndGlyphs">Doppler Shift [Hz]</text><rect x="751.4" y="575.5" width="695.5000000000001" height="478.9000000000001" fill="#e6e6e6"/><path d="M284.5 575.5V1054.4M452.5 575.5V1054.4M620.5 575.5V1054.4M789.5 575.5V1054.4M957.5 575.5V1054.4M1125.5 575.5V1054.4M1294.5 575.5V1054.4M115.5 622.5H1462.3M115.5 726.5H1462.3M115.5 830.5H1462.3M115.5 934.5H1462.3M115.5 1038.5H1462.3" stroke="#b0b0b0" stroke-width="1.11" stroke-dasharray="1.11 1.83" fill="none"/><g clip-path="url(#cb)"><path d="M112 999.5 114 988.4 114 974.8 116 959.5 116 950.9 118 957.9 118 975.0 120 988.6 120 992.0 122 986.4 122 978.0 124 975.5 124 982.8 126 994.7 126 1002.4 128 1004.1 128 1002.2 130 996.6 130 987.6 132 980.0 132 983.9 134 998.5 134 1011.0 136 1014.1 136 1005.8 138 986.6 138 964.2 140 944.9 140 933.6 142 933.7 142 939.7 144 945.2 144 952.8 146 960.6 146 962.3 148 961.7 148 961.5 150 954.9 150 943.0 152 939.1 152 946.1 154 957.0 154 959.8 156 947.8 156 931.9 158 924.1 158 922.1 160 918.6 160 911.1 162 903.0 162 898.1 164 893.6 164 888.0 166 882.3 166 874.4 168 862.2 168 847.5 170 831.0 170 818.3 172 815.0 172 815.4 174 816.0 174 817.5 176 815.9 176 810.7 178 801.3 178 785.3 180 769.6 180 762.2 182 760.9 182 762.0 184 763.8 184 760.1 186 750.3 186 744.7 188 750.8 188 766.4 190 788.4 190 807.9 192 808.9 192 790.2 194 768.1 194 753.2 196 746.9 196 744.3 198 737.9 198 725.4 200 714.0 200 711.0 202 713.2 202 713.9 204 712.8 204 712.0 206 712.7 206 713.5 208 710.2 208 704.6 210 703.8 210 708.8 212 712.7 212 710.9 214 708.2 214 710.3 216 710.2 216 704.2 218 700.5 218 701.7 220 702.2 220 701.5 222 703.6 222 709.8 224 715.9 224 713.5 226 702.1 226 692.1 228 694.5 228 707.8 230 718.3 230 718.5 232 711.7 232 703.0 234 695.3 234 690.2 236 690.4 236 697.6 238 706.5 238 709.4 240 703.5 240 695.5 242 694.5 242 697.4 244 701.3 244 708.0 246 713.4 246 712.6 248 708.0 248 708.6 250 716.2 250 720.8 252 715.7 252 705.4 254 696.8 254 692.8 256 696.1 256 707.8 258 722.0 258 728.4 260 725.6 260 720.8 262 718.1 262 712.6 264 698.6 264 681.2 266 673.8 266 680.0 268 687.8 268 688.1 270 681.6 270 673.9 272 670.4 272 672.7 274 678.9 274 685.9 276 690.3 276 688.1 278 680.4 278 675.8 280 678.6 280 681.4 282 680.3 282 680.6 284 686.1 284 695.7 286 706.2 286 714.3 288 716.3 288 710.7 290 701.6 290 693.5 292 687.6 292 685.2 294 686.5 294 689.2 296 690.9 296 690.3 298 691.4 298 691.4 300 684.7 300 678.5 302 681.0 302 686.9 304 690.6 304 695.1 306 700.8 306 703.6 308 702.2 308 700.1 310 699.8 310 699.9 312 700.1 312 701.2 314 702.2 314 701.2 316 699.5 316 700.7 318 705.7 318 709.7 320 708.5 320 699.5 322 685.6 322 674.4 324 668.5 324 667.6 326 672.2 326 679.1 328 684.2 328 686.6 330 687.8 330 684.8 332 676.0 332 669.7 334 673.2 334 682.1 336 688.1 336 689.5 338 691.1 338 692.5 340 690.1 340 686.6 342 683.9 342 677.6 344 668.8 344 664.5 346 668.6 346 677.5 348 684.8 348 689.2 350 690.9 350 688.9 352 687.1 352 686.5 354 682.4 354 676.1 356 676.0 356 681.5 358 683.3 358 681.1 360 683.4 360 688.0 362 686.3 362 678.2 364 669.5 364 670.6 366 683.5 366 697.9 368 708.5 368 715.7 370 714.7 370 703.3 372 690.9 372 684.5 374 683.7 374 683.6 376 681.4 376 679.5 378 680.4 378 681.9 380 681.1 380 678.0 382 675.5 382 675.1 384 676.0 384 675.9 386 674.8 386 676.3 388 677.6 388 674.2 390 671.0 390 676.6 392 688.9 392 696.8 394 696.0 394 689.9 396 679.7 396 669.0 398 663.3 398 661.9 400 663.5 400 666.2 402 669.6 402 673.4 404 674.1 404 672.1 406 672.4 406 674.7 408 671.2 408 662.6 410 663.7 410 677.4 412 691.3 412 700.0 414 705.0 414 703.2 416 693.3 416 680.6 418 674.5 418 676.2 420 678.3 420 679.7 422 684.0 422 689.4 424 691.4 424 688.8 426 685.4 426 685.6 428 691.6 428 697.9 430 697.9 430 691.1 432 682.7 432 677.9 434 677.2 434 676.0 436 671.4 436 664.0 438 654.7 438 649.3 440 654.7 440 668.2 442 678.9 442 681.9 444 682.1 444 682.1 446 683.1 446 686.2 448 687.4 448 684.6 450 679.3 450 675.3 452 677.6 452 685.2 454 692.2 454 693.8 456 691.0 456 689.7 458 694.1 458 699.6 460 700.2 460 694.7 462 688.4 462 685.9 464 682.7 464 677.6 466 675.7 466 676.9 468 677.2 468 674.8 470 670.8 470 667.6 472 665.9 472 668.5 474 676.4 474 683.3 476 686.6 476 687.6 478 685.1 478 680.6 480 677.4 480 674.8 482 672.7 482 674.8 484 680.2 484 680.3 486 673.2 486 669.1 488 672.5 488 676.0 490 671.8 490 662.4 492 658.4 492 665.9 494 679.6 494 690.0 496 696.1 496 699.7 498 694.8 498 684.4 500 680.7 500 683.0 502 683.0 502 678.8 504 675.4 504 675.7 506 677.6 506 677.1 508 671.7 508 665.8 510 669.0 510 680.3 512 687.0 512 683.6 514 677.9 514 675.9 516 676.5 516 678.2 518 680.1 518 678.6 520 673.5 520 672.2 522 678.8 522 685.5 524 684.5 524 679.4 526 675.9 526 673.2 528 670.9 528 672.3 530 676.0 530 677.5 532 678.1 532 678.4 534 676.0 534 675.2 536 677.3 536 674.3 538 665.2 538 657.5 540 654.0 540 654.2 542 657.7 542 663.9 544 670.1 544 672.1 546 668.6 546 665.1 548 666.7 548 673.7 550 680.8 550 680.7 552 674.9 552 673.2 554 678.3 554 682.6 556 680.0 556 672.1 558 662.4 558 655.4 560 655.9 560 662.7 562 671.8 562 676.2 564 672.2 564 664.7 566 658.6 566 656.0 568 658.5 568 665.7 570 672.3 570 674.4 572 671.5 572 666.0 574 661.5 574 659.1 576 659.0 576 658.9 578 659.1 578 663.9 580 669.6 580 668.1 582 661.4 582 656.9 584 657.8 584 661.7 586 664.7 586 665.1 588 663.4 588 665.5 590 673.6 590 679.1 592 677.2 592 675.5 594 678.3 594 682.4 596 687.2 596 689.3 598 683.5 598 672.8 600 666.2 600 670.1 602 680.2 602 684.4 604 679.0 604 673.3 606 671.5 606 670.3 608 671.2 608 675.4 610 680.4 610 684.8 612 689.5 612 694.6 614 697.8 614 695.8 616 686.4 616 671.3 618 659.6 618 659.9 620 670.5 620 678.8 622 674.6 622 662.9 624 658.0 624 666.0 626 675.5 626 676.8 628 673.8 628 677.1 630 687.5 630 692.4 632 683.6 632 668.4 634 656.4 634 649.2 636 647.6 636 654.8 638 665.6 638 669.9 640 665.5 640 660.1 642 661.5 642 667.9 644 672.2 644 670.7 646 664.1 646 656.9 648 652.6 648 653.3 650 660.5 650 668.8 652 673.5 652 679.1 654 687.6 654 691.9 656 686.8 656 678.3 658 674.5 658 675.4 660 676.8 660 676.7 662 676.4 662 677.5 664 678.6 664 675.7 666 672.3 666 673.5 668 675.0 668 673.6 670 672.9 670 676.2 672 681.7 672 684.6 674 684.6 674 685.1 676 683.8 676 676.1 678 665.7 678 659.4 680 660.0 680 664.6 682 668.4 682 668.4 684 665.8 684 662.6 686 657.2 686 653.7 688 658.9 688 668.8 690 673.6 690 671.6 692 674.4 692 688.8 694 700.8 694 697.7 696 688.5 696 682.9 698 682.3 698 683.1 700 678.2 700 669.3 702 663.8 702 663.6 704 667.2 704 673.6 706 681.0 706 682.6 708 677.3 708 671.9 710 670.8 710 673.7 712 676.4 712 677.6 714 681.0 714 687.6 716 692.2 716 688.7 718 681.4 718 678.6 720 678.9 720 678.4 722 679.3 722 684.0 724 690.3 724 696.6 726 701.3 726 700.3 728 693.4 728 688.5 730 688.7 730 691.8 732 696.1 732 699.9 734 699.8 734 695.6 736 688.0 736 679.6 738 675.8 738 676.7 740 679.6 740 682.6 742 685.2 742 686.8 744 687.5 744 690.6 746 697.8 746 704.3 748 704.8 748 697.6 750 687.2 750 679.6 752 673.6 752 670.5 754 673.9 754 682.1 756 692.9 756 703.8 758 706.4 758 695.5 760 678.2 760 666.3 762 664.6 762 670.3 764 678.0 764 685.6 766 695.9 766 707.4 768 712.9 768 707.4 770 693.8 770 680.7 772 675.0 772 677.7 774 683.6 774 688.5 776 693.9 776 700.0 778 702.5 778 698.4 780 690.4 780 685.4 782 685.4 782 683.8 784 678.6 784 677.3 786 682.8 786 702.2 788 728.9 788 753.9 790 774.0 790 786.8 792 801.4 792 820.5 794 839.2 794 849.7 796 853.2 796 856.8 798 864.5 798 875.0 800 884.4 800 893.1 802 904.5 802 918.5 804 931.5 804 945.9 806 959.4 806 967.2 808 973.5 808 981.5 810 989.9 810 990.8 812 988.7 812 987.4 814 985.9 814 986.6 816 991.4 816 997.7 818 1000.4 818 1001.3 820 1001.1 820 1002.8 822 1003.6 822 1001.7 824 1002.1 824 1000.4 826 994.7 826 991.6 828 995.7 828 1003.9 830 1007.8 830 1006.1 832 1003.7 832 1002.7 834 998.9 834 993.9 836 991.6 836 991.5 838 992.7 838 997.1 840 1001.8 840 1004.2 842 1007.8 842 1002.9 844 1000.5 844 1001.8 846 1002.7 846 1003.2 848 1005.5 848 1006.0 850 1003.0 850 1004.4 852 1009.4 852 1011.2 854 1009.9 854 1004.9 856 1001.8 856 1003.7 858 1007.2 858 1006.3 860 1002.1 860 1002.2 862 1006.8 862 1012.6 864 1003.2 864 996.6 866 997.1 866 1004.0 868 1011.0 868 1015.3 870 1017.2 870 1016.3 872 1014.5 872 1013.4 874 1013.7 874 1015.8 876 1017.6 876 1016.4 878 1015.0 878 1013.4 880 1010.7 880 1011.4 882 1013.9 882 1016.2 884 1015.6 884 1015.8 886 1018.0 886 1018.6 888 1017.3 888 1017.4 890 1019.8 890 1021.9 892 1023.3 892 1024.2 894 1024.0 894 1024.1 896 1024.7 896 1024.5 898 1024.2 898 1024.5 900 1025.0 900 1025.7 902 1026.8 902 1028.0 904 1028.5 904 1028.3 906 1028.7 906 1029.7 908 1029.8 908 1027.8 910 1026.0 910 1026.3 912 1027.1 912 1026.8 914 1026.3 914 1026.7 916 1027.4 916 1027.2 918 1026.8 918 1026.3 920 1025.6 920 1025.6 922 1026.4 922 1027.6 924 1027.5 924 1026.9 926 1027.3 926 1027.6 928 1027.3 928 1027.0 930 1027.2 930 1027.3 932 1028.1 932 1029.0 934 1029.7 934 1030.0 936 1030.0 936 1029.5 938 1029.0 938 1028.8 940 1028.3 940 1027.5 942 1027.0 942 1026.7 944 1026.5 944 1026.5 946 1026.0 946 1025.0 948 1024.3 948 1023.9 950 1025.0 950 1026.1 952 1025.8 952 1025.8 954 1027.8 954 1028.8 956 1027.7 956 1026.8 958 1026.7 958 1026.7 960 1026.3 960 1026.0 962 1026.5 962 1026.6 964 1026.5 964 1027.0 966 1027.9 966 1029.0 968 1029.4 968 1029.1 970 1028.5 970 1027.6 972 1027.5 972 1028.2 974 1028.1 974 1027.2 976 1027.2 976 1028.2 978 1029.0 978 1028.3 980 1027.4 980 1028.7 982 1029.9 982 1028.9 984 1027.8 984 1027.6 986 1027.8 986 1028.2 988 1029.2 988 1029.2 990 1028.0 990 1027.4 992 1027.5 992 1027.0 994 1027.0 994 1028.4 996 1028.9 996 1026.7 998 1025.1 998 1026.0 1000 1027.6 1000 1027.5 1002 1026.4 1002 1026.5 1004 1027.4 1004 1027.6 1006 1027.8 1006 1028.5 1008 1030.2 1008 1030.8 1010 1029.9 1010 1029.1 1012 1028.6 1012 1028.8 1014 1029.2 1014 1029.2 1016 1029.2 1016 1028.3 1018 1027.3 1018 1027.4 1020 1028.7 1020 1029.6 1022 1028.9 1022 1028.5 1024 1029.2 1024 1029.6 1026 1030.0 1026 1029.7 1028 1028.6 1028 1027.5 1030 1028.0 1030 1029.2 1032 1029.6 1032 1029.8 1034 1030.1 1034 1029.2 1036 1028.5 1036 1028.4 1038 1028.2 1038 1028.8 1040 1029.7 1040 1030.2 1042 1029.9 1042 1029.2 1044 1029.4 1044 1030.0 1046 1030.3 1046 1030.0 1048 1029.6 1048 1029.4 1050 1028.4 1050 1027.1 1052 1027.3 1052 1027.9 1054 1028.1 1054 1028.2 1056 1027.9 1056 1026.5 1058 1024.2 1058 1019.9 1060 1015.1 1060 1012.0 1062 1013.2 1062 1017.5 1064 1021.2 1064 1024.1 1066 1026.1 1066 1028.1 1068 1030.0 1068 1030.5 1070 1029.8 1070 1029.3 1072 1028.6 1072 1027.8 1074 1027.7 1074 1027.3 1076 1026.4 1076 1026.1 1078 1026.9 1078 1028.0 1080 1028.5 1080 1028.0 1082 1027.1 1082 1026.5 1084 1026.5 1084 1027.0 1086 1027.5 1086 1027.0 1088 1026.3 1088 1026.1 1090 1027.1 1090 1028.2 1092 1028.8 1092 1028.2 1094 1027.8 1094 1028.4 1096 1028.2 1096 1026.9 1098 1025.3 1098 1025.3 1100 1026.9 1100 1027.9 1102 1027.9 1102 1027.7 1104 1028.1 1104 1028.6 1106 1027.9 1106 1026.6 1108 1025.8 1108 1026.2 1110 1027.7 1110 1028.6 1112 1028.1 1112 1027.4 1114 1028.1 1114 1028.8 1116 1029.1 1116 1029.2 1118 1029.1 1118 1030.1 1120 1030.0 1120 1028.1 1122 1026.2 1122 1025.5 1124 1026.5 1124 1027.9 1126 1028.8 1126 1029.5 1128 1029.1 1128 1027.5 1130 1026.2 1130 1026.4 1132 1027.6 1132 1027.8 1134 1026.8 1134 1026.3 1136 1026.9 1136 1028.6 1138 1030.1 1138 1030.2 1140 1029.9 1140 1030.2 1142 1029.8 1142 1028.3 1144 1027.8 1144 1029.1 1146 1030.6 1146 1031.0 1148 1030.0 1148 1028.3 1150 1027.2 1150 1026.7 1152 1026.1 1152 1025.7 1154 1026.3 1154 1027.8 1156 1028.2 1156 1027.5 1158 1027.0 1158 1027.9 1160 1028.5 1160 1027.9 1162 1027.8 1162 1028.7 1164 1028.7 1164 1028.4 1166 1028.6 1166 1028.0 1168 1026.9 1168 1027.3 1170 1028.4 1170 1028.3 1172 1027.1 1172 1026.3 1174 1026.2 1174 1027.1 1176 1029.2 1176 1030.4 1178 1030.3 1178 1029.4 1180 1027.8 1180 1026.9 1182 1027.3 1182 1028.6 1184 1029.3 1184 1028.4 1186 1028.3 1186 1029.0 1188 1029.0 1188 1028.6 1190 1028.5 1190 1028.2 1192 1027.9 1192 1027.8 1194 1027.6 1194 1027.2 1196 1027.1 1196 1027.4 1198 1027.9 1198 1028.2 1200 1028.5 1200 1029.0 1202 1029.5 1202 1029.2 1204 1028.4 1204 1027.7 1206 1027.0 1206 1027.0 1208 1027.2 1208 1027.3 1210 1027.1 1210 1026.8 1212 1027.8 1212 1029.1 1214 1029.2 1214 1028.7 1216 1028.7 1216 1029.4 1218 1029.3 1218 1028.1 1220 1027.1 1220 1027.3 1222 1027.7 1222 1028.4 1224 1028.3 1224 1028.0 1226 1028.1 1226 1027.7 1228 1027.6 1228 1027.7 1230 1027.6 1230 1027.6 1232 1027.6 1232 1028.1 1234 1028.3 1234 1028.0 1236 1027.5 1236 1027.0 1238 1027.5 1238 1028.5 1240 1028.9 1240 1028.9 1242 1029.5 1242 1030.0 1244 1030.0 1244 1029.3 1246 1028.2 1246 1028.2 1248 1028.5 1248 1027.7 1250 1026.5 1250 1026.3 1252 1027.6 1252 1028.6 1254 1028.1 1254 1027.8 1256 1028.3 1256 1028.6 1258 1028.1 1258 1027.4 1260 1027.0 1260 1026.7 1262 1027.5 1262 1028.9 1264 1028.8 1264 1027.8 1266 1027.5 1266 1028.4 1268 1029.4 1268 1028.7 1270 1027.8 1270 1027.8 1272 1027.6 1272 1027.0 1274 1026.0 1274 1025.8 1276 1026.5 1276 1027.2 1278 1027.9 1278 1028.2 1280 1027.3 1280 1026.9 1282 1027.2 1282 1027.5 1284 1027.4 1284 1026.8 1286 1027.3 1286 1028.2 1288 1028.9 1288 1028.9 1290 1027.8 1290 1026.5 1292 1026.0 1292 1026.8 1294 1028.2 1294 1029.0 1296 1028.3 1296 1027.3 1298 1027.1 1298 1027.3 1300 1027.1 1300 1027.1 1302 1027.5 1302 1027.7 1304 1028.4 1304 1028.8 1306 1028.2 1306 1027.7 1308 1028.2 1308 1028.8 1310 1028.3 1310 1026.6 1312 1025.8 1312 1026.2 1314 1026.8 1314 1027.8 1316 1028.7 1316 1028.6 1318 1027.7 1318 1026.7 1320 1026.1 1320 1025.6 1322 1025.8 1322 1026.8 1324 1027.2 1324 1026.9 1326 1027.3 1326 1028.7 1328 1029.5 1328 1028.9 1330 1028.4 1330 1028.6 1332 1028.8 1332 1028.4 1334 1027.8 1334 1026.9 1336 1026.1 1336 1025.7 1338 1026.3 1338 1027.3 1340 1027.4 1340 1027.5 1342 1027.3 1342 1026.4 1344 1025.8 1344 1027.0 1346 1028.4 1346 1029.1 1348 1030.1 1348 1030.3 1350 1029.0 1350 1027.4 1352 1026.7 1352 1026.9 1354 1026.9 1354 1027.1 1356 1028.1 1356 1028.8 1358 1029.0 1358 1028.4 1360 1027.2 1360 1026.8 1362 1027.6 1362 1028.7 1364 1029.5 1364 1030.0 1366 1030.3 1366 1030.3 1368 1029.8 1368 1028.5 1370 1026.7 1370 1026.6 1372 1027.8 1372 1028.0 1374 1027.4 1374 1027.1 1376 1026.9 1376 1027.3 1378 1027.5 1378 1027.6 1380 1028.1 1380 1028.3 1382 1027.9 1382 1027.3 1384 1027.1 1384 1028.2 1386 1029.0 1386 1029.2 1388 1029.7 1388 1029.2 1390 1027.9 1390 1028.0 1392 1028.3 1392 1027.6 1394 1027.1 1394 1027.8 1396 1028.3 1396 1027.6 1398 1027.5 1398 1028.2 1400 1028.2 1400 1027.6 1402 1027.5 1402 1027.7 1404 1027.6 1404 1027.9 1406 1028.1 1406 1027.4 1408 1026.7 1408 1026.1 1410 1026.2 1410 1026.5 1412 1027.0 1412 1027.4 1414 1028.3 1414 1029.2 1416 1029.2 1416 1029.3 1418 1029.9 1418 1030.2 1420 1030.8 1420 1031.1 1422 1030.5 1422 1029.7 1424 1028.6 1424 1027.0 1426 1025.3 1426 1024.2 1428 1024.5 1428 1025.2 1430 1024.9 1430 1024.3 1432 1024.2 1432 1025.1 1434 1025.8 1434 1024.9 1436 1023.7 1436 1023.5 1438 1022.5 1438 1021.1 1440 1019.9 1440 1019.1 1442 1019.6 1442 1021.9 1444 1023.9 1444 1023.9 1446 1022.8 1446 1022.3 1448 1021.3 1448 1019.0 1450 1017.6 1450 1017.4 1452 1018.4 1452 1020.5 1454 1022.9 1454 1024.2 1456 1023.3 1456 1021.5 1458 1020.1 1458 1019.6 1460 1020.0 1460 1020.3 1462 1019.6 1462 1018.2 1464 1017.2 1464 1017.2 1464 1025.6 1464 1024.5 1462 1024.5 1462 1024.8 1460 1024.7 1460 1024.7 1458 1024.6 1458 1024.2 1456 1026.0 1456 1030.0 1454 1031.7 1454 1030.2 1452 1027.5 1452 1024.9 1450 1024.0 1450 1024.6 1448 1024.4 1448 1024.3 1446 1026.1 1446 1027.3 1444 1026.4 1444 1024.9 1442 1023.4 1442 1022.0 1440 1021.9 1440 1023.8 1438 1025.6 1438 1026.3 1436 1026.9 1436 1026.2 1434 1024.8 1434 1023.7 1432 1023.1 1432 1023.2 1430 1024.3 1430 1025.7 1428 1026.6 1428 1026.9 1426 1026.8 1426 1026.6 1424 1027.3 1424 1028.0 1422 1027.5 1422 1026.4 1420 1025.9 1420 1027.1 1418 1028.7 1418 1029.2 1416 1028.9 1416 1029.1 1414 1029.4 1414 1028.8 1412 1027.8 1412 1027.5 1410 1028.0 1410 1028.1 1408 1027.2 1408 1026.0 1406 1025.7 1406 1026.2 1404 1026.8 1404 1027.8 1402 1027.7 1402 1026.6 1400 1026.6 1400 1026.9 1398 1026.4 1398 1026.2 1396 1026.6 1396 1027.0 1394 1027.3 1394 1027.5 1392 1027.4 1392 1027.3 1390 1028.1 1390 1028.5 1388 1027.6 1388 1026.6 1386 1026.3 1386 1026.3 1384 1025.5 1384 1024.4 1382 1024.1 1382 1025.8 1380 1027.8 1380 1027.8 1378 1026.8 1378 1026.5 1376 1026.5 1376 1026.3 1374 1026.7 1374 1027.3 1372 1027.1 1372 1026.8 1370 1027.1 1370 1027.6 1368 1027.6 1368 1028.0 1366 1028.7 1366 1029.2 1364 1028.5 1364 1027.6 1362 1027.5 1362 1027.5 1360 1026.8 1360 1026.2 1358 1025.4 1358 1024.8 1356 1024.7 1356 1025.5 1354 1027.1 1354 1027.8 1352 1027.7 1352 1028.0 1350 1028.0 1350 1026.8 1348 1026.0 1348 1026.1 1346 1026.5 1346 1026.5 1344 1025.9 1344 1025.8 1342 1026.6 1342 1027.4 1340 1027.7 1340 1027.0 1338 1025.7 1338 1025.5 1336 1025.7 1336 1025.5 1334 1026.1 1334 1027.3 1332 1027.3 1332 1026.6 1330 1026.5 1330 1026.5 1328 1026.3 1328 1026.4 1326 1027.1 1326 1027.9 1324 1028.0 1324 1027.3 1322 1025.9 1322 1024.8 1320 1024.4 1320 1025.1 1318 1025.9 1318 1025.7 1316 1025.9 1316 1026.6 1314 1026.9 1314 1026.9 1312 1027.0 1312 1027.0 1310 1026.8 1310 1026.4 1308 1026.3 1308 1027.2 1306 1028.2 1306 1028.0 1304 1028.0 1304 1028.0 1302 1027.0 1302 1025.6 1300 1025.3 1300 1026.3 1298 1026.9 1298 1026.3 1296 1027.0 1296 1027.7 1294 1027.2 1294 1026.1 1292 1025.9 1292 1026.5 1290 1026.6 1290 1027.5 1288 1029.0 1288 1029.4 1286 1028.5 1286 1027.3 1284 1026.6 1284 1025.8 1282 1025.3 1282 1025.9 1280 1025.7 1280 1025.4 1278 1025.4 1278 1025.1 1276 1024.6 1276 1024.1 1274 1024.0 1274 1025.1 1272 1026.3 1272 1026.5 1270 1027.3 1270 1028.7 1268 1028.8 1268 1027.6 1266 1026.3 1266 1025.6 1264 1025.6 1264 1025.6 1262 1025.4 1262 1026.5 1260 1027.4 1260 1026.8 1258 1025.6 1258 1025.1 1256 1024.8 1256 1025.3 1254 1026.8 1254 1027.4 1252 1026.9 1252 1026.1 1250 1025.5 1250 1024.8 1248 1023.9 1248 1023.7 1246 1024.8 1246 1026.1 1244 1027.2 1244 1028.5 1242 1028.7 1242 1027.6 1240 1026.0 1240 1024.8 1238 1025.2 1238 1027.3 1236 1027.8 1236 1026.7 1234 1026.1 1234 1026.5 1232 1026.9 1232 1027.4 1230 1028.8 1230 1028.9 1228 1027.7 1228 1026.5 1226 1025.7 1226 1024.4 1224 1023.5 1224 1024.2 1222 1025.8 1222 1027.1 1220 1027.7 1220 1027.8 1218 1028.1 1218 1027.9 1216 1027.4 1216 1027.7 1214 1028.0 1214 1027.1 1212 1025.6 1212 1025.3 1210 1026.1 1210 1026.5 1208 1026.4 1208 1026.5 1206 1026.9 1206 1027.2 1204 1027.2 1204 1025.9 1202 1025.0 1202 1026.6 1200 1027.8 1200 1026.5 1198 1025.4 1198 1026.4 1196 1027.8 1196 1027.6 1194 1026.3 1194 1025.7 1192 1026.8 1192 1028.3 1190 1028.8 1190 1028.5 1188 1027.4 1188 1026.5 1186 1026.4 1186 1026.8 1184 1027.4 1184 1027.5 1182 1026.7 1182 1025.4 1180 1025.3 1180 1026.8 1178 1027.8 1178 1028.0 1176 1027.3 1176 1026.4 1174 1026.3 1174 1025.8 1172 1024.9 1172 1025.2 1170 1026.2 1170 1026.7 1168 1027.9 1168 1028.5 1166 1027.6 1166 1027.5 1164 1027.6 1164 1026.8 1162 1026.2 1162 1026.4 1160 1026.7 1160 1027.1 1158 1027.8 1158 1028.5 1156 1028.8 1156 1028.5 1154 1027.3 1154 1026.3 1152 1025.9 1152 1025.9 1150 1026.8 1150 1027.8 1148 1027.8 1148 1027.0 1146 1027.0 1146 1027.4 1144 1027.0 1144 1026.3 1142 1026.5 1142 1027.2 1140 1028.0 1140 1028.8 1138 1029.5 1138 1028.5 1136 1026.8 1136 1026.0 1134 1026.3 1134 1027.6 1132 1029.2 1132 1029.2 1130 1027.7 1130 1026.6 1128 1027.4 1128 1028.1 1126 1027.3 1126 1026.5 1124 1027.6 1124 1029.2 1122 1029.5 1122 1029.1 1120 1027.6 1120 1026.0 1118 1026.1 1118 1027.1 1116 1027.2 1116 1027.3 1114 1027.3 1114 1026.6 1112 1025.9 1112 1026.0 1110 1026.3 1110 1025.7 1108 1025.1 1108 1026.0 1106 1026.9 1106 1027.1 1104 1027.4 1104 1027.8 1102 1027.8 1102 1027.0 1100 1027.0 1100 1027.5 1098 1027.4 1098 1026.5 1096 1025.3 1096 1024.2 1094 1024.2 1094 1025.5 1092 1027.1 1092 1027.5 1090 1026.5 1090 1025.8 1088 1026.2 1088 1026.9 1086 1026.9 1086 1027.0 1084 1027.1 1084 1026.9 1082 1027.1 1082 1026.9 1080 1026.4 1080 1026.2 1078 1025.9 1078 1025.4 1076 1025.5 1076 1026.7 1074 1027.6 1074 1027.9 1072 1028.8 1072 1029.1 1070 1028.7 1070 1028.4 1068 1028.1 1068 1027.6 1066 1026.5 1066 1025.3 1064 1024.8 1064 1023.0 1062 1018.8 1062 1014.1 1060 1013.8 1060 1017.3 1058 1021.3 1058 1024.4 1056 1024.9 1056 1025.2 1054 1026.5 1054 1027.6 1052 1027.5 1052 1026.4 1050 1025.3 1050 1024.7 1048 1025.6 1048 1027.1 1046 1027.4 1046 1027.6 1044 1027.8 1044 1027.4 1042 1026.9 1042 1027.2 1040 1027.7 1040 1028.0 1038 1027.9 1038 1027.0 1036 1027.0 1036 1027.4 1034 1026.6 1034 1026.3 1032 1026.9 1032 1027.1 1030 1026.8 1030 1026.6 1028 1026.9 1028 1027.0 1026 1027.2 1026 1027.5 1024 1028.0 1024 1028.5 1022 1028.2 1022 1028.0 1020 1028.0 1020 1028.2 1018 1027.9 1018 1027.2 1016 1027.3 1016 1028.7 1014 1029.6 1014 1027.8 1012 1025.8 1012 1026.2 1010 1028.2 1010 1028.9 1008 1028.4 1008 1028.1 1006 1028.2 1006 1028.2 1004 1027.9 1004 1028.2 1002 1028.5 1002 1027.9 1000 1027.5 1000 1027.0 998 1026.6 998 1026.4 996 1027.1 996 1028.1 994 1028.0 994 1027.1 992 1027.3 992 1027.6 990 1026.7 990 1026.5 988 1027.4 988 1028.3 986 1028.3 986 1027.4 984 1026.7 984 1027.0 982 1027.8 982 1027.5 980 1026.6 980 1026.3 978 1025.9 978 1026.0 976 1026.8 976 1027.5 974 1027.4 974 1026.6 972 1026.2 972 1026.9 970 1027.5 970 1026.8 968 1026.3 968 1026.6 966 1027.3 966 1027.1 964 1026.4 964 1026.4 962 1026.3 962 1026.2 960 1026.4 960 1026.6 958 1027.2 958 1027.6 956 1026.7 956 1025.8 954 1025.7 954 1026.1 952 1026.1 952 1026.4 950 1026.9 950 1027.6 948 1028.1 948 1027.9 946 1026.6 946 1025.0 944 1024.9 944 1025.9 942 1027.5 942 1028.5 940 1028.5 940 1028.1 938 1027.8 938 1027.3 936 1026.7 936 1026.6 934 1027.0 934 1026.8 932 1025.9 932 1025.7 930 1026.4 930 1026.3 928 1026.5 928 1027.4 926 1027.0 926 1025.9 924 1026.4 924 1027.7 922 1027.9 922 1027.7 920 1028.2 920 1028.8 918 1028.0 918 1026.2 916 1025.5 916 1026.6 914 1027.2 914 1026.6 912 1026.5 912 1026.9 910 1026.4 910 1026.1 908 1026.3 908 1026.8 906 1027.1 906 1027.2 904 1027.5 904 1027.4 902 1026.8 902 1026.8 900 1027.3 900 1027.8 898 1027.1 898 1025.2 896 1024.0 896 1024.0 894 1024.8 894 1026.5 892 1029.1 892 1029.3 890 1026.2 890 1022.7 888 1020.6 888 1020.8 886 1022.3 886 1022.2 884 1020.5 884 1021.1 882 1021.9 882 1018.7 880 1015.8 880 1016.3 878 1019.5 878 1020.4 876 1021.3 876 1022.8 874 1021.3 874 1019.3 872 1019.8 872 1022.1 870 1023.3 870 1022.3 868 1021.3 868 1019.8 866 1013.1 866 1004.1 864 1002.1 864 1010.1 862 1020.5 862 1014.5 860 1011.2 860 1012.5 858 1016.9 858 1017.3 856 1013.6 856 1012.1 854 1015.1 854 1019.0 852 1019.7 852 1018.3 850 1014.7 850 1013.3 848 1015.4 848 1014.8 846 1012.6 846 1011.1 844 1009.6 844 1010.3 842 1014.1 842 1018.4 840 1013.6 840 1010.7 838 1007.2 838 1003.5 836 1001.5 836 1000.9 834 1004.0 834 1010.3 832 1015.3 832 1017.3 830 1019.5 830 1019.9 828 1015.2 828 1006.8 826 1001.8 826 1004.7 824 1010.8 824 1012.3 822 1011.9 822 1014.8 820 1016.0 820 1015.0 818 1014.3 818 1012.7 816 1009.9 816 1003.6 814 999.4 814 999.8 812 1002.6 812 1006.2 810 1009.8 810 1008.5 808 1000.6 808 995.5 806 992.5 806 987.5 804 976.8 804 965.4 802 955.4 802 944.6 800 934.8 800 926.5 798 918.6 798 911.2 796 905.8 796 903.4 794 900.8 794 889.3 792 869.3 792 849.9 790 835.1 790 822.0 788 808.6 788 796.4 786 781.3 786 766.8 784 760.1 784 760.2 782 764.3 782 765.4 780 764.9 780 769.9 778 778.3 778 782.7 776 781.2 776 776.5 774 770.5 774 763.1 772 754.0 772 749.4 770 754.8 770 766.2 768 777.5 768 782.2 766 778.3 766 769.7 764 760.9 764 754.9 762 750.7 762 748.8 760 753.6 760 767.2 758 783.0 758 790.3 756 785.9 756 774.5 754 761.8 754 751.2 752 745.7 752 747.6 750 753.6 750 762.0 748 773.1 748 782.2 746 783.4 746 776.7 744 767.7 744 763.3 742 764.9 742 766.1 740 763.8 740 759.2 738 754.3 738 752.9 736 755.9 736 761.1 734 766.6 734 770.2 732 769.8 732 767.2 730 766.2 730 766.6 728 768.8 728 774.8 726 781.5 726 781.8 724 774.8 724 765.0 722 755.1 722 749.2 720 749.9 720 752.6 718 753.6 718 757.8 716 767.3 716 774.1 714 772.7 714 765.9 712 759.1 712 754.3 710 748.9 710 743.6 708 741.7 708 745.2 706 751.0 706 751.2 704 744.7 704 737.9 702 733.3 702 732.3 700 736.2 700 743.6 698 750.3 698 754.5 696 759.7 696 768.3 694 779.9 694 785.1 692 773.7 692 757.3 690 752.0 690 753.3 688 749.9 688 742.0 686 739.2 686 744.2 684 749.6 684 753.4 682 757.3 682 756.1 680 749.7 680 744.0 678 743.3 678 750.3 676 762.9 676 774.2 674 779.2 674 779.2 672 776.7 672 771.6 670 765.3 670 760.5 668 759.0 668 760.5 666 759.8 666 758.7 664 763.1 664 769.1 662 770.9 662 771.1 660 772.6 660 774.5 658 774.8 658 776.0 656 783.7 656 796.2 654 802.7 654 795.0 652 778.2 652 764.4 650 754.7 650 743.3 648 735.3 648 735.3 646 742.2 646 753.9 644 765.3 644 772.4 642 773.3 642 768.9 640 766.5 640 769.4 638 771.3 638 766.0 636 755.9 636 750.7 634 753.1 634 757.9 632 764.3 632 773.7 630 779.2 630 773.0 628 762.5 628 759.3 626 760.6 626 756.3 624 744.7 624 736.7 622 742.2 622 754.8 620 759.2 620 752.7 618 745.3 618 748.4 616 763.5 616 780.8 614 793.0 614 798.0 612 795.1 612 786.0 610 774.5 610 763.3 608 753.9 608 750.8 606 756.5 606 765.1 604 772.8 604 781.3 602 785.4 602 778.7 600 767.3 600 762.9 598 769.8 598 782.1 596 792.8 596 799.9 594 804.9 594 807.7 592 805.7 592 800.2 590 791.4 590 776.3 588 761.1 588 754.4 586 754.4 586 753.6 584 750.9 584 749.5 582 752.0 582 759.3 580 768.3 580 772.6 578 768.9 578 763.8 576 762.2 576 761.8 574 763.0 574 768.2 572 775.2 572 779.5 570 777.5 570 769.2 568 756.9 568 745.0 566 739.4 566 741.2 564 748.4 564 758.6 562 767.6 562 769.2 560 764.9 560 762.3 558 763.7 558 768.9 556 777.7 556 786.2 554 790.0 554 790.6 552 795.3 552 808.0 550 820.1 550 818.5 548 802.8 548 784.4 546 772.9 546 770.3 544 769.2 544 763.1 542 752.8 542 741.7 540 733.5 540 730.8 538 733.5 538 742.2 536 755.3 536 764.8 534 767.6 534 771.1 532 775.5 532 776.1 530 775.8 530 774.7 528 772.2 528 772.6 526 775.7 526 775.8 524 773.2 524 773.1 522 772.3 522 767.1 520 765.1 520 772.3 518 781.8 518 784.6 516 781.3 516 777.5 514 774.5 514 772.6 512 773.0 512 771.9 510 762.9 510 752.5 508 753.3 508 765.4 506 777.5 506 782.7 504 782.8 504 783.8 502 788.0 502 790.3 500 784.8 500 775.7 498 772.8 498 776.2 496 775.9 496 770.1 494 764.3 494 757.1 492 748.3 492 747.2 490 760.2 490 779.0 488 789.5 488 787.4 486 780.4 486 776.9 484 774.0 484 765.0 482 753.0 482 745.5 480 742.5 480 741.4 478 744.4 478 752.3 476 760.8 476 766.9 474 769.0 474 763.5 472 756.2 472 752.9 470 751.3 470 750.1 468 749.6 468 750.7 466 753.1 466 755.9 464 762.1 464 770.8 462 775.0 462 774.7 460 776.4 460 778.2 458 774.3 458 767.2 456 764.7 456 769.8 454 776.8 454 778.5 452 773.9 452 769.7 450 770.3 450 776.2 448 784.3 448 790.0 446 791.4 446 789.6 444 787.3 444 786.4 442 786.3 442 782.4 440 772.0 440 759.4 438 754.1 438 758.7 436 767.5 436 774.4 434 778.3 434 778.4 432 777.2 432 779.1 430 784.9 430 789.9 428 786.9 428 774.6 426 763.3 426 762.1 424 768.7 424 777.6 422 785.7 422 790.8 420 792.5 420 790.4 418 782.2 418 773.7 416 775.1 416 785.6 414 797.5 414 805.7 412 809.7 412 809.6 410 802.0 410 790.1 408 785.3 408 787.1 406 784.9 406 779.9 404 779.7 404 784.2 402 787.9 402 785.7 400 777.9 400 767.7 398 757.8 398 751.7 396 752.4 396 759.2 394 766.0 394 769.7 392 769.4 392 760.5 390 748.0 390 742.7 388 745.0 388 748.6 386 751.7 386 756.1 384 761.5 384 765.0 382 764.8 382 764.7 380 766.9 380 768.5 378 766.5 378 762.6 376 761.4 376 766.0 374 772.8 374 777.2 372 780.0 372 785.1 370 794.7 370 804.5 368 807.9 368 804.8 366 797.8 366 786.3 364 774.1 364 769.1 362 770.6 362 770.8 360 766.4 360 756.9 358 750.9 358 751.4 356 751.4 356 750.3 354 754.4 354 762.1 352 767.5 352 768.8 350 769.8 350 770.9 348 770.0 348 766.9 346 760.5 346 751.7 344 747.2 344 752.1 342 761.6 342 767.8 340 771.7 340 776.7 338 779.5 338 778.2 336 778.0 336 777.5 334 770.7 334 760.6 332 756.1 332 761.5 330 769.6 330 772.1 328 770.7 328 768.9 326 764.2 326 757.2 324 754.3 324 758.7 322 769.7 322 787.6 320 808.6 320 823.8 318 828.7 318 824.7 316 815.1 316 803.9 314 793.4 314 783.5 312 773.6 312 766.0 310 763.7 310 765.4 308 769.3 308 773.8 306 776.8 306 776.8 304 773.3 304 769.2 302 765.2 302 761.8 300 766.6 300 784.0 298 801.9 298 808.2 296 808.7 296 808.5 294 805.4 294 799.9 292 796.7 292 798.8 290 804.2 290 811.2 288 818.0 288 819.5 286 812.0 286 798.5 284 784.3 284 770.8 282 761.7 282 759.6 280 759.8 280 759.0 278 760.3 278 767.6 276 778.5 276 784.2 274 779.5 274 767.7 272 754.5 272 744.7 270 742.8 270 749.1 268 758.5 268 765.4 266 768.5 266 773.7 264 790.1 264 814.6 262 833.2 262 840.8 260 844.2 260 847.6 258 847.7 258 838.6 256 821.3 256 806.5 254 801.1 254 803.0 252 808.8 252 817.8 250 824.4 250 821.1 248 814.3 248 814.0 246 816.7 246 814.7 244 807.1 244 799.6 242 794.8 242 790.0 240 788.2 240 792.9 238 795.9 238 790.5 236 781.3 236 775.8 234 777.9 234 784.7 232 793.9 232 804.6 230 812.4 230 811.7 228 800.0 228 785.7 226 783.0 226 792.5 224 802.5 224 804.6 222 799.2 222 794.0 220 793.1 220 794.8 218 795.1 218 794.3 216 799.2 216 807.2 214 809.5 214 808.6 212 809.3 212 806.5 210 797.9 210 791.0 208 791.5 208 796.7 206 799.9 206 798.3 204 795.3 204 795.3 202 797.9 202 798.1 200 796.4 200 799.4 198 810.2 198 824.1 196 832.7 196 837.8 194 846.8 194 862.9 192 885.1 192 901.7 190 897.0 190 876.0 188 853.7 188 837.3 186 830.4 186 834.5 184 842.8 184 845.7 182 841.5 182 837.1 180 836.1 180 842.4 178 856.9 178 871.3 176 878.8 176 881.9 174 881.6 174 877.9 172 873.9 172 871.0 170 875.6 170 891.5 168 910.4 168 925.9 166 939.2 166 948.8 164 952.6 164 952.6 162 951.3 162 951.6 160 955.4 160 958.3 158 956.1 158 954.2 156 960.1 156 974.5 154 986.3 154 983.6 152 971.7 152 963.2 150 964.5 150 972.8 148 977.5 148 977.4 146 977.6 146 975.0 144 967.0 144 959.6 142 954.2 142 948.1 140 947.8 140 958.2 138 976.5 138 999.6 136 1020.1 136 1028.1 134 1023.3 134 1010.9 132 998.4 132 994.8 130 1000.3 130 1008.1 128 1012.9 128 1013.7 126 1010.9 126 1003.4 124 992.5 124 985.9 122 988.0 122 996.0 120 1002.0 120 999.6 118 987.3 118 971.4 116 964.6 116 971.6 114 986.0 114 1000.1 112 1011.4Z" fill="#1f77b4"/><path d="M0 0m112 998h0m0-2.5h0m0-1.5h0m0 23h0m0.5-26h0m0 29.5h0m0-4.5h0m0-4h0m0 8.5h0m0-23h0m0 18.5h0m0.5 2.5h0m0-6h0m0-25.5h0m0 16h0m0-19h0m0.5 3.5h0m0.5 12.5h0m0 5.5h0m0 3.5h0m0-38.5h0m0.5-15.5h0m0 33.5h0m0-23h0m0 28.5h0m0.5-20.5h0m0 12h0m0-27h0m0 17.5h0m0.5 2.5h0m0.5-33h0m0 2.5h0m0.5 2h0m0-6.5h0m0 19.5h0m0.5-15h0m0-2h0m0 5h0m0.5 24.5h0m0.5-19h0m0 2h0m0-4h0m0 45.5h0m0-5.5h0m0-29h0m0.5 2h0m0 4.5h0m0.5 19.5h0m0 12.5h0m0.5-21.5h0m0 5h0m0 16.5h0m0.5 2.5h0m0 3h0m0.5 2.5h0m1-12.5h0m0.5 2h0m0-18h0m0-5.5h0m0.5 17h0m0.5-20h0m0.5-16h0m0 5.5h0m0 4.5h0m0 21.5h0m0 5.5h0m0.5-24.5h0m0.5 8h0m0-6h0m0.5 7.5h0m0-5.5h0m0 37.5h0m0.5 8h0m0-10h0m0-5.5h0m0 2h0m0.5-20.5h0m0 31.5h0m0-18h0m0.5-5.5h0m1.5 24h0m0.5 8h0m0.5-27h0m0 24h0m0.5-33h0m0 18.5h0m0.5 5h0m0-19h0m0-12.5h0m0.5 23.5h0m0-22h0m0 2.5h0m0.5-17h0m0.5 8.5h0m0-4.5h0m0-1h0m0.5 30.5h0m0-20h0m0.5 15h0m0.5-23h0m0 4h0m0 37.5h0m0.5-23h0m0.5-7.5h0m0 4h0m0 21h0m0 23.5h0m0-10.5h0m0-19h0m0.5-9h0m0 30h0m0-17h0m0.5 21h0m0.5 1.5h0m0 5h0m0.5-1h0m0-21.5h0m0 7h0m0.5 8h0m0-8.5h0m0 5h0m0.5-25.5h0m0 22.5h0m0.5-15.5h0m0-24.5h0m0 21.5h0m0.5 1.5h0m0 5h0m0-0.5h0m0-46.5h0m0-3.5h0m0-3h0m0.5-5h0m0 34h0m0-6.5h0m0 2h0m0.5 5.5h0m0-4h0m0-4.5h0m0-13.5h0m0-21h0m0-6.5h0m0 3.5h0m1 24.5h0m0-4.5h0m0-28h0m0.5 15.5h0m0-30.5h0m0 3.5h0m0.5 33.5h0m0.5-25h0m0-4h0m1 31.5h0m0.5-30h0m0 6h0m0.5 32.5h0m0-22.5h0m0 1.5h0m0-10h0m0 4.5h0m0.5 21.5h0m0 8h0m0 2h0m0 3.5h0m1-24.5h0m0 28h0m0 3h0m0.5 4h0m0.5-30.5h0m0-9.5h0m0.5 31h0m0.5 12h0m0.5-29h0m0 1.5h0m0.5 24h0m0.5-39h0m0 44h0m0-9h0m0.5-32h0m0.5-6.5h0m0-8h0m0.5 20.5h0m0 19h0m0-37.5h0m0 32h0m0.5-29.5h0m0 42.5h0m0-52.5h0m0-5h0m0.5 41.5h0m0.5 3.5h0m0.5-7h0m0 14h0m0-45h0m0 6h0m0.5 10h0m0 26h0m0.5-46h0m0 60h0m0 7.5h0m0-37.5h0m0.5-39h0m0 75h0m0 14.5h0m0-24h0m0 5.5h0m0.5-37h0m0.5 45.5h0m0-64h0m0 54h0m0.5 5h0m0-1.5h0m0 17h0m0-48h0m0-20.5h0m0.5 6h0m0.5 34.5h0m0-36.5h0m0 40.5h0m0-7h0m0-66.5h0m0 10.5h0m0.5 6.5h0m0.5 36h0m0-32.5h0m0-6.5h0m0 41h0m0 4.5h0m0-61.5h0m0.5-2h0m0 10.5h0m0.5 36.5h0m0-39h0m0-10h0m0.5 54h0m0 16.5h0m0.5-86.5h0m0 34.5h0m0-4h0m0-2.5h0m0.5 4.5h0m0 59h0m0-74h0m0 63h0m0.5 12.5h0m0-97.5h0m0.5 89h0m0-64h0m0.5-26.5h0m0 18h0m0 12.5h0m0 52h0m0-62.5h0m0-9.5h0m0.5-20h0m0 21h0m0 56.5h0m0-74h0m0 78h0m0 32h0m0.5-107.5h0m0 81h0m0-105.5h0m0 106.5h0m0-64.5h0m0.5-26.5h0m0-6h0m0.5 34h0m0 78.5h0m0-16.5h0m0.5-68h0m0-3h0m0 98h0m0.5-91.5h0m0-55h0m0.5 18.5h0m0 112h0m0-105.5h0m0 102h0m0 23.5h0m0.5-13h0m0 45.5h0m0-152h0m0 14h0m0.5-3h0m0 64.5h0m0.5 28.5h0m0-126.5h0m0.5 91h0m0 37.5h0m0-109h0m0 112h0m0-34.5h0m0-81.5h0m0 83h0m0.5-70h0m0 79.5h0m0-81.5h0m0 88.5h0m0-5.5h0m0-9.5h0m0-8h0m0-90.5h0m0 5.5h0m0-10h0m0.5 83h0m0-84h0m0 109h0m0 7h0m0-26.5h0m0-70h0m0 87h0m0.5-92h0m0 123h0m0-65h0m0.5-86h0m0 4.5h0m0-16h0m0 89h0m0-84.5h0m0.5 99h0m0-85.5h0m0-30h0m0-7h0m0 50h0m0-37.5h0m0 76h0m0 38h0m0-99h0m0-14h0m0 78h0m0.5-65.5h0m0-17.5h0m0 9h0m0-15h0m0 29.5h0m0-3h0m0 70.5h0m0 5h0m0.5-9.5h0m0 6h0m0.5-12h0m0-8.5h0m0.5 4.5h0m0-72.5h0m0 66.5h0m0 58h0m0-44h0m0 4.5h0m0-100.5h0m0-19h0m0 9h0m0 117h0m0.5 12.5h0m0-43.5h0m0-2h0m0-78h0m0.5 74h0m0.5-84.5h0m0-13h0m0 18.5h0m0.5 86.5h0m0-5h0m0 12h0m0-110h0m0 130h0m0-119.5h0m0 137.5h0m0.5-126.5h0m0.5 80.5h0m0-67.5h0m0 3.5h0m0.5 81h0m0 19.5h0m0-109h0m0 18h0m0.5 129.5h0m0-190h0m0.5 139h0m0-140h0m0 29h0m0 27.5h0m0-4.5h0m0 106.5h0m0-28h0m0-72h0m0 62.5h0m0 38h0m0.5-12h0m0-109h0m0.5 98h0m0 16.5h0m0 31h0m0-161h0m0.5 34.5h0m0 84h0m0-88h0m0 73h0m0 37.5h0m0.5-54h0m0-68h0m0 92h0m0 38h0m0-125h0m0-7h0m0.5-6h0m0 111.5h0m0-120.5h0m0 77.5h0m0-109h0m0.5 112.5h0m0 5h0m0 24h0m0-118.5h0m0-10.5h0m0-16h0m0.5 39h0m0 119h0m0-129.5h0m0 109.5h0m0-5h0m0-8.5h0m0.5-128h0m0 107.5h0m0-8.5h0m0-82h0m0-52h0m0 144h0m0 23h0m0-107.5h0m0-54h0m0 21.5h0m0 102.5h0m0.5-6.5h0m0 2h0m0 25h0m0-117h0m0.5-29.5h0m0 148h0m0-7h0m0-102h0m0.5 5h0m0 90.5h0m0-102.5h0m0 12.5h0m0-33.5h0m0.5 18h0m0 93h0m0-114h0m0 10h0m0 32.5h0m0.5 107.5h0m0-5h0m0-115.5h0m0 143.5h0m0 4.5h0m0.5-151h0m0-8.5h0m0.5 100h0m0 11h0m0.5 8.5h0m0-91h0m0 92h0m0-101h0m0 118.5h0m0.5-150h0m0 154h0m0-144.5h0m0-33h0m0 196.5h0m0.5-45h0m0 53h0m0-17h0m0-136.5h0m0.5 10.5h0m0 78.5h0m0 28h0m0-29.5h0m0.5-127.5h0m0 41h0m0-45.5h0m0 25.5h0m0-35h0m0.5 206.5h0m0-44h0m0-147h0m0.5 141h0m0-114h0m0-1.5h0m0 150.5h0m0.5-62.5h0m0-2.5h0m0-96h0m0-59h0m0 163h0m0-3h0m0-86h0m0.5 102h0m0-161.5h0m0 62.5h0m0 124.5h0m0-34h0m0 26.5h0m0.5-165.5h0m0 41h0m0 129h0m0-21h0m0 3.5h0m0-110h0m0 9h0m0-26.5h0m0.5 130.5h0m0-120h0m0 22.5h0m0 10.5h0m0 93h0m0.5 29h0m0-13h0m0-114.5h0m0 27h0m0 103h0m0.5 8.5h0m0-29.5h0m0-141.5h0m0 41.5h0m0 108h0m0 50.5h0m0-22h0m0.5 3h0m0-133.5h0m0 124h0m0-170h0m0 60.5h0m0-71h0m0 165h0m0 31h0m0-122h0m0 7.5h0m0.5 163h0m0-158h0m0-61.5h0m0.5 148.5h0m0-116h0m0 8.5h0m0 148.5h0m0-15h0m0-23.5h0m0 35.5h0m0-14.5h0m0-117.5h0m0.5-6.5h0m0 19.5h0m0-4.5h0m0-35.5h0m0.5 23h0m0-12.5h0m0 127h0m0-120.5h0m0-36h0m0 169.5h0m0.5-22h0m0 38h0m0-225h0m0 179h0m0.5-138h0m0 15h0m0-22.5h0m0 40h0m0 117h0m0-121h0m0-32.5h0m0 104h0m0 12.5h0m0-102.5h0m0.5 7h0m0 101.5h0m0-110.5h0m0 117h0m0-120.5h0m0 99h0m0.5-117.5h0m0-7.5h0m0 163.5h0m0-37h0m0-10h0m0-126.5h0m0 28.5h0m0-41h0m0 24.5h0m0.5-31.5h0m0 133.5h0m0 45.5h0m0-19h0m0-144h0m0 36h0m0-17.5h0m0.5 106h0m0-13.5h0m0-103.5h0m0 186.5h0m0-212.5h0m0.5 205.5h0m0-178h0m0 19h0m0-32h0m0 126.5h0m0 86.5h0m0.5-93.5h0m0 41h0m0-8.5h0m0-124.5h0m0.5 117.5h0m0-28.5h0m0-91.5h0m0 85h0m0.5-3h0m0 24.5h0m0-112h0m0 79h0m0-75.5h0m0.5 125h0m0-135.5h0m0 153.5h0m0 8h0m0-70h0m0 32.5h0m0.5-9h0m0-136.5h0m0 25h0m0-22h0m0 95.5h0m0-107.5h0m0 170h0m0.5 0.5h0m0 21h0m0-185h0m0 97.5h0m0.5 36h0m0-117h0m0-5h0m0 8.5h0m0.5 86h0m0-111.5h0m0 92h0m0 4h0m0 18h0m0.5-127.5h0m0 166h0m0-160h0m0 139h0m0-143h0m0.5 6.5h0m0 93.5h0m0-0.5h0m0-128.5h0m0 221.5h0m0.5-49.5h0m0-25.5h0m0-131.5h0m0 126.5h0m0-12h0m0.5 31h0m0 4h0m0-115.5h0m0 102.5h0m0 7h0m0.5 29h0m0-144h0m0 138h0m0 16h0m0-142.5h0m0 113h0m0.5 10h0m0 14h0m0-172.5h0m0.5 114h0m0 55.5h0m0-149.5h0m0.5 143.5h0m0 35.5h0m0-54.5h0m0-15.5h0m1-10h0m0 74h0m0-185h0m0 118h0m0-19h0m0.5-95h0m0 124.5h0m0 53.5h0m0.5-163.5h0m0 122.5h0m0 38h0m0-20.5h0m0-149h0m0.5 96h0m0 41h0m0-122.5h0m0 188.5h0m0.5-197h0m0-23h0m0 122h0m0 53h0m0-48.5h0m0 55.5h0m0.5-10.5h0m0-136.5h0m0-36h0m0 149h0m0-15.5h0m0 94.5h0m0.5-86.5h0m0 13.5h0m0-135h0m0.5 142.5h0m0-136h0m0 156.5h0m0-71.5h0m0 116.5h0m0.5-225h0m0.5 7.5h0m0 150.5h0m0-46h0m0 29.5h0m0-9.5h0m0 19h0m0-164h0m0 116h0m0.5-88h0m0-11.5h0m0 106.5h0m0 74.5h0m0-189h0m0 112h0m0.5-130h0m0 33.5h0m0 104.5h0m0-12.5h0m0 61.5h0m0-46h0m0 8h0m0.5 60h0m0-15h0m0 1h0m0-167.5h0m0.5 17h0m0 105.5h0m0.5-101.5h0m0 5.5h0m0 108h0m0 15.5h0m0.5 7.5h0m0 28.5h0m0-55.5h0m0-122h0m0 128h0m0 5.5h0m0.5 25h0m0-142.5h0m0 163h0m0-193h0m0 19h0m0 104h0m0.5 80.5h0m0.5-2.5h0m0-47.5h0m0 24h0m0-153h0m0.5 142.5h0m0 48.5h0m0-223.5h0m0 194.5h0m0-38.5h0m0 11.5h0m0.5-149.5h0m0 190h0m0-69.5h0m0 50h0m0-176.5h0m0 112h0m0.5 108.5h0m0-194h0m0-2h0m0 139.5h0m0-34.5h0m0-113.5h0m0.5-23h0m0 142h0m0 24.5h0m0 81h0m0-101.5h0m0 65h0m0.5-96h0m0 80h0m0-173.5h0m0.5 101.5h0m0-106h0m0-22h0m0 142.5h0m0-155h0m0 201.5h0m0.5-23h0m0-133.5h0m0 149h0m0.5-34h0m0 57h0m0-194.5h0m0 151h0m0 50h0m0-93.5h0m0.5 68.5h0m0-168h0m0-50.5h0m0 192.5h0m0-136.5h0m0 87.5h0m0 23.5h0m0-20h0m0 17.5h0m0-126h0m0.5 235h0m0-103h0m0-108h0m0-35.5h0m0 4.5h0m0 178h0m0-161.5h0m0 125.5h0m0 43h0m0.5 73.5h0m0-36.5h0m0-95.5h0m0.5-16h0m0-96h0m0 141.5h0m0.5-38.5h0m0.5 4h0m0 118h0m0-245h0m0 146h0m0-27h0m0 51.5h0m0.5-160.5h0m0-3h0m0 177h0m0-8h0m0-160.5h0m0.5 136h0m0-19h0m0 107.5h0m0.5-52h0m0-10h0m0-22.5h0m0-21h0m0-148.5h0m0 172h0m0-124.5h0m0 195h0m0-102h0m0.5-84.5h0m0 96.5h0m0 31.5h0m0-142h0m0-7h0m0 5h0m0.5 5.5h0m0 183.5h0m0-49.5h0m0-118.5h0m0-10.5h0m0 13h0m0.5 149.5h0m0-1.5h0m0 19.5h0m0-10.5h0m0-172h0m0-18h0m0 185.5h0m0-153h0m0.5 93.5h0m0-104h0m0 146.5h0m0.5-23h0m0-13.5h0m0 80.5h0m0-214.5h0m0 29h0m0.5 140h0m0-47h0m0-115h0m0 199.5h0m0-14.5h0m0.5-205h0m0 118.5h0m0 115.5h0m0-61.5h0m0-58h0m0.5 74h0m0-67.5h0m0 46h0m0-159.5h0m0 120.5h0m0.5-24h0m0 56h0m0-155h0m0 107h0m0 40h0m0-152h0m0.5 114.5h0m0 27.5h0m0 16h0m0-20h0m0.5 7.5h0m0-157h0m0 39.5h0m0 149h0m0-178.5h0m0-8h0m0 116h0m0 47h0m0-142.5h0m0 121.5h0m0.5-108.5h0m0-11h0m0 98.5h0m0 12h0m0-85h0m0.5-2.5h0m0 84h0m0-93h0m0 145.5h0m0-156.5h0m0.5-10h0m0 161h0m0-146.5h0m0.5 24h0m0-2.5h0m0-11h0m0 131h0m0.5-114h0m0 102h0m0-98.5h0m0 150.5h0m0-41h0m0-26h0m0.5 103.5h0m0-93h0m0-94.5h0m0.5-6.5h0m0 5h0m0 91.5h0m0 53h0m0.5-25h0m0 24.5h0m0-41.5h0m0 22h0m0-132.5h0m0 86h0m0 50h0m0 19h0m0-57.5h0m0.5 44.5h0m0-20h0m0-126.5h0m0 164h0m0-68.5h0m0.5-16.5h0m0-106.5h0m0 163h0m0-48h0m0-90.5h0m0-31h0m0 153.5h0m0 57h0m0.5-196.5h0m0 11h0m0 92.5h0m0 69.5h0m0.5-178h0m0 96h0m0 20h0m0 59.5h0m0-77h0m0-88h0m0.5 83h0m0 38.5h0m0-147.5h0m0 117h0m0 95h0m0-225.5h0m0.5 167.5h0m0-151.5h0m0 103.5h0m0 32h0m0-150h0m0.5 9h0m0 15h0m0 92h0m0.5 61h0m0-146h0m0 115h0m0.5 16h0m0 37h0m0-44h0m0-134.5h0m0.5 166h0m0-139h0m0-33.5h0m0 159h0m0.5-53.5h0m0 6h0m0 44h0m0-115.5h0m0 77h0m0-96.5h0m0.5 123h0m0-117.5h0m0 88h0m0.5-72.5h0m0 85h0m0 61.5h0m0-18.5h0m0-45.5h0m0-86.5h0m0-35h0m0.5 117h0m0-74.5h0m0 130.5h0m0-162h0m0 122h0m0-4.5h0m0 81h0m0.5-193h0m0 156h0m0.5-136.5h0m0 112.5h0m0-8h0m0-112.5h0m0 172h0m0-7.5h0m0-40h0m0 17.5h0m0.5-34h0m0 24.5h0m0.5-138h0m0-17.5h0m0 159.5h0m0.5-8h0m0 37.5h0m0-17.5h0m0-167.5h0m0 173.5h0m0-184.5h0m0.5 169.5h0m0-166h0m0 112h0m0 48.5h0m0.5-29.5h0m0-111.5h0m0 103h0m0 25h0m0-30.5h0m0 75h0m0-50h0m0-113h0m0 95h0m0.5-110.5h0m0.5 101.5h0m0 145.5h0m0-79.5h0m0-175h0m0.5 170.5h0m0-152h0m0 7h0m0 90.5h0m0 78h0m0.5 14.5h0m0-52.5h0m0-34h0m0-135.5h0m0 44.5h0m0 114.5h0m0-15h0m0 53h0m0-174.5h0m0 218h0m0-62h0m0.5 69.5h0m0-230h0m0.5 144h0m0-28.5h0m0-91h0m0-12.5h0m0 15.5h0m0 4.5h0m0 158.5h0m0.5 17.5h0m0-76h0m0 22h0m0 30h0m0-49h0m0.5-118.5h0m0 217h0m0-3.5h0m0-222h0m0 213h0m0.5-73h0m0-159h0m0.5 136.5h0m0 14.5h0m0-137.5h0m0 117.5h0m0.5 44h0m0-5.5h0m0-131h0m0.5 155h0m0-9.5h0m0-151.5h0m0-18h0m0 139h0m0.5 26h0m0 38h0m0-194h0m0.5 214h0m0-211h0m0 135.5h0m0-26h0m0 50.5h0m0-138.5h0m0.5 96h0m0 45h0m0 9h0m0 15h0m0-74h0m0-93.5h0m0.5 241.5h0m0-249h0m0 167.5h0m0-156.5h0m0 99.5h0m0 17h0m0 46.5h0m0.5-161h0m0 150h0m0 42h0m0-34h0m0-34.5h0m0.5 11h0m0-14.5h0m0 26.5h0m0-41h0m0-137h0m0.5 176.5h0m0 32h0m0-78.5h0m0-103.5h0m0-8.5h0m0-24h0m0 127.5h0m0 20.5h0m0 194.5h0m0.5-201.5h0m0-124.5h0m0 12h0m0-20h0m0 104.5h0m0.5 4h0m0-103h0m0-13h0m0 19.5h0m0 133h0m0.5 7.5h0m0-26.5h0m0-148h0m0 9.5h0m0-16h0m0 165h0m0.5-24.5h0m0-141h0m0 130h0m0.5-3.5h0m0 100h0m0-104h0m0 1h0m0 22h0m0 52h0m0.5-189h0m0 19.5h0m0 184h0m0 3.5h0m0 5.5h0m0.5-207h0m0 137.5h0m0-144h0m0 16h0m0.5 203.5h0m0-222.5h0m0 297.5h0m0-161h0m0-151h0m0 201.5h0m0-174h0m0 166h0m0 4h0m0-19h0m0.5-33h0m0-105h0m0 166h0m0-57.5h0m0 34h0m0-17h0m0.5 2.5h0m0-139h0m0 19h0m0 4h0m0 121h0m0-130h0m0 114.5h0m0.5 89.5h0m0-35.5h0m0 51.5h0m0-73h0m0.5 7.5h0m0 73.5h0m0-200h0m0 143h0m0-150.5h0m0 211.5h0m0-253.5h0m0 37.5h0m0.5 6.5h0m0-9.5h0m0 161.5h0m0-142.5h0m0 128h0m0 76.5h0m0.5-92.5h0m0-119.5h0m0-6.5h0m0 158h0m0-4.5h0m0 10h0m0.5 4.5h0m0-153h0m0-2h0m0 199h0m0.5-79h0m0 27.5h0m0-5.5h0m0 110h0m0-51.5h0m0.5-238h0m0 34.5h0m0 175.5h0m0 19h0m0-61h0m0.5 5h0m0 30.5h0m0 3h0m0 17h0m0-40h0m0 93.5h0m0-262h0m0.5-10.5h0m0 5.5h0m0 254.5h0m0-118h0m0 121.5h0m0-23h0m0-107h0m0.5-108.5h0m0-1h0m0 237.5h0m0-123.5h0m0 74.5h0m0-27h0m0-168h0m0 111.5h0m0.5 84h0m0 30.5h0m0-223.5h0m0-29.5h0m0 14h0m0-15h0m0 168h0m0-163h0m0.5 255.5h0m0-56.5h0m0 3.5h0m0-73.5h0m0 100.5h0m0-69h0m0 37h0m0.5-178.5h0m0 172h0m0-24.5h0m0 7.5h0m0 24h0m0-208h0m0 237.5h0m0-34h0m0 8.5h0m0-91h0m0-119h0m0.5-3.5h0m0 136.5h0m0-112h0m0 110h0m0 32.5h0m0 59h0m0 8h0m0-51.5h0m0-199h0m0 39h0m0 185h0m0.5-17.5h0m0-27h0m0-144.5h0m0 106.5h0m0-118.5h0m0.5 110.5h0m0-5.5h0m0 58.5h0m0-197.5h0m0 134h0m0 40.5h0m0.5-178h0m0 19.5h0m0-23.5h0m0 164h0m0-131.5h0m0-5.5h0m0 165.5h0m0.5-162h0m0-23h0m0 122.5h0m0-120.5h0m0.5 128h0m0 163h0m0-167h0m0 45.5h0m0-13.5h0m0-41.5h0m0 1h0m0.5 2h0m0 60.5h0m0 4h0m0-171.5h0m0 128h0m0.5-111h0m0 136.5h0m0 26.5h0m0-81h0m0-103.5h0m0 9h0m0 162.5h0m0-43.5h0m0 28h0m0-21.5h0m0 13.5h0m0.5-7.5h0m0-110h0m0 91h0m0.5-9h0m0-138.5h0m0 126h0m0 44h0m0.5-45.5h0m0-68.5h0m0 109h0m0-32h0m0-2.5h0m0-78.5h0m0.5 58h0m0-85.5h0m0 24h0m0.5 68.5h0m0 60h0m0-133.5h0m0 69.5h0m0.5 8h0m0 20h0m0-121.5h0m0 124.5h0m0.5-108h0m0-6h0m0-17.5h0m0 191.5h0m0.5-174.5h0m0 79.5h0m0-70h0m0 68.5h0m0 15.5h0m0 28h0m0-137h0m0 91.5h0m0 9.5h0m0.5-103.5h0m0 101h0m0 5.5h0m0.5 9.5h0m0 29h0m0-130.5h0m0-6h0m0 179.5h0m0 11.5h0m0-62h0m0.5-130h0m0 158h0m0-40.5h0m0.5 21.5h0m0-37.5h0m0-82h0m0 112.5h0m0 12.5h0m0.5 24h0m0 9.5h0m0-192h0m0 134h0m0-6.5h0m0-84.5h0m0 79.5h0m0 43h0m0-1.5h0m0.5-3.5h0m0-133.5h0m0 141.5h0m0-12h0m0 63h0m0-170h0m0.5-4.5h0m0 115h0m0 42h0m0 4.5h0m0-16.5h0m0-52h0m0.5 48.5h0m0-159h0m0 169.5h0m0.5-142h0m0-11h0m0 130.5h0m0-8.5h0m0-128h0m0.5-20h0m0 125.5h0m0-129.5h0m0 156h0m0-118.5h0m0.5 175h0m0-48.5h0m0-28h0m0-100.5h0m0-27.5h0m0.5 175h0m0 24.5h0m0-191h0m0.5-18.5h0m0 170h0m0.5-24h0m0-22.5h0m0-141h0m0 6h0m0 129.5h0m0-88.5h0m0 134.5h0m0.5-23.5h0m0-119h0m0 159h0m0 23.5h0m0.5-201.5h0m0 126h0m0 14.5h0m0-145h0m0 133.5h0m0 56.5h0m0-85.5h0m0.5 33h0m0 16h0m0-138h0m0 90.5h0m0 20.5h0m0 52h0m0-69h0m0.5 4.5h0m0 3h0m0 38h0m0-11.5h0m0-157h0m0.5 38h0m0 10.5h0m0 135h0m0-140.5h0m0.5 155h0m0-162h0m0-13h0m0 162.5h0m0-51h0m0.5-16h0m0 59h0m0.5-146h0m0 132h0m0 44h0m0-188.5h0m0 7h0m0.5 245.5h0m0-138.5h0m0-10.5h0m0.5 74.5h0m0-30.5h0m0-41h0m0-87h0m0-31.5h0m0 142.5h0m0 29.5h0m0-24.5h0m0-118.5h0m0 107h0m0 45.5h0m0 49.5h0m0.5-209.5h0m0 112h0m0-86.5h0m0 74h0m0 18.5h0m0-16h0m0.5-115h0m0 120h0m0-75.5h0m0.5 1.5h0m0-17h0m0 18.5h0m0-11.5h0m0 118.5h0m0-136.5h0m0 119.5h0m0 40h0m0.5-135h0m0 143.5h0m0-40h0m0-90h0m0-3.5h0m0 91h0m0 64h0m0-149.5h0m0.5 119h0m0-19h0m0.5-10h0m0-115.5h0m0 14h0m0-22h0m0.5 144h0m0 25h0m0-4.5h0m0-9h0m0-17.5h0m0.5-10h0m0 13h0m0 59h0m0-19h0m0 51.5h0m0-56h0m0-131h0m0 144h0m0-146.5h0m0.5-4.5h0m0 147h0m1-38h0m0 71h0m0-58.5h0m0-26.5h0m0-120.5h0m0 220h0m0.5-196h0m0 2.5h0m0-6.5h0m0 148.5h0m0 5.5h0m0.5-31h0m0 61.5h0m0-17.5h0m0-196h0m0 21h0m0 120.5h0m0.5 7h0m0-123.5h0m0 180h0m0-193.5h0m0 181h0m0-48.5h0m0-128h0m0.5 186h0m0-38h0m0-169.5h0m0 220.5h0m0-42h0m0 17h0m0.5-48h0m0 32h0m0-60h0m0 118.5h0m0-227.5h0m0.5-22.5h0m0 154h0m0-144.5h0m0 173h0m0-32.5h0m0-6h0m0-16h0m0.5 49h0m0 60h0m0-100h0m0-143h0m0 166.5h0m0 51h0m0-73h0m0 176.5h0m0.5-309h0m0-9h0m0 192h0m0-164.5h0m0.5 175.5h0m0-69.5h0m0-148.5h0m0 262h0m0.5-72h0m0-181.5h0m0 28h0m0.5-5.5h0m0 233h0m0-106.5h0m0-155h0m0.5 290h0m0-89.5h0m0 64.5h0m0-219.5h0m0 213h0m0-75.5h0m0 70.5h0m0-74.5h0m0-8.5h0m0 41h0m0-46h0m0.5 40h0m0-164.5h0m0 183.5h0m0-62h0m0-146.5h0m0.5 2h0m0-16.5h0m0 147.5h0m0 111h0m0-228h0m0.5 219h0m0 125.5h0m0-341.5h0m0 187h0m0-25.5h0m0-24.5h0m0.5-150h0m0 2h0m0 130h0m0 72h0m0-7.5h0m0 20.5h0m0.5-49.5h0m0 55h0m0 24.5h0m0-34.5h0m0-48h0m0-139.5h0m0 147h0m0.5-18h0m0-18.5h0m0 43.5h0m0 76h0m0-116h0m0 73h0m0.5-66.5h0m0-131.5h0m0 174h0m0.5-58.5h0m0-109h0m0 136.5h0m0-139.5h0m0 217h0m0-50h0m0.5-22h0m0 46.5h0m0-88h0m0 35h0m0-32.5h0m0-7.5h0m0 26h0m0.5-27.5h0m0-4h0m0 81.5h0m0-206.5h0m0 11h0m0 185h0m0-75h0m0-101.5h0m0.5 141h0m0 3.5h0m0-45.5h0m0-8.5h0m0-94h0m0.5 130h0m0-5h0m0-136h0m0-6h0m0 24.5h0m0.5 150h0m0-166.5h0m0.5 104.5h0m0-6.5h0m0-3.5h0m0-100.5h0m0.5 182.5h0m0-168.5h0m0-5h0m0 108.5h0m0 18.5h0m0-149.5h0m0.5 43h0m0 160.5h0m0-38h0m0-28.5h0m0.5-107h0m0 17h0m0 171h0m0-55.5h0m0.5-41h0m0 58.5h0m0-132h0m0 109.5h0m0-17.5h0m0-87.5h0m0-35.5h0m0 109.5h0m0 18h0m0.5 49h0m0-39.5h0m0-115.5h0m0 131h0m0.5-114h0m0 2h0m0 90.5h0m0-114h0m0.5 90h0m0-73h0m0 132h0m0-8.5h0m0.5 2.5h0m0-145.5h0m0 166h0m0.5-42.5h0m0-10.5h0m0-89.5h0m0-34h0m0 111.5h0m0-70.5h0m0 107h0m0.5 15.5h0m0 9h0m0-36h0m0-118h0m0 100h0m0-76h0m0 103.5h0m0.5-122h0m0 137.5h0m0-51.5h0m0 59h0m0 9h0m0.5-173.5h0m0 27h0m0 99.5h0m0 8h0m0.5-25h0m0-71.5h0m0-28h0m0 7h0m0 121.5h0m0.5-36.5h0m0 51h0m0.5 8h0m0-140h0m0 75.5h0m0.5-62.5h0m0.5-35.5h0m0 7.5h0m0 141h0m0-25h0m0 14.5h0m0.5-151h0m0 130.5h0m0.5-24h0m0-62.5h0m0-25h0m0 10h0m0 180h0m0-169.5h0m0.5 101.5h0m0 22.5h0m0-48h0m0-67h0m0 85h0m0-99.5h0m0 122h0m0.5-45h0m0 17h0m0 17.5h0m0.5 15h0m0 8.5h0m0-50h0m0 63.5h0m0-60h0m0.5 66.5h0m0-165.5h0m0 152h0m0 1h0m0.5-50h0m0 72h0m0-60.5h0m0 8h0m0-92.5h0m0 75h0m0-94h0m0.5-25h0m0 223.5h0m0.5-100h0m0 35h0m0-142.5h0m0 190.5h0m0-39.5h0m0-21.5h0m0-116h0m0.5 111h0m0-129h0m0 165h0m0-43h0m0 59h0m0 2.5h0m0-195h0m0 21.5h0m0.5-18h0m0 198.5h0m0-3h0m0-163.5h0m0.5 4h0m0 126.5h0m0-132.5h0m0 154.5h0m0.5 71.5h0m0-245.5h0m0 11h0m0 122.5h0m0-129h0m0 123.5h0m0 42h0m0.5-31h0m0 1.5h0m0 75.5h0m0-183.5h0m0 120.5h0m0.5 6.5h0m0 18.5h0m0 56.5h0m0-86.5h0m0 18.5h0m0.5 51.5h0m0-46.5h0m0 38h0m0 37h0m0.5-232.5h0m0 172.5h0m0 66.5h0m0-62h0m0 77h0m0-233h0m0 247h0m0 6h0m0-23h0m0-46.5h0m0.5-186h0m0 227h0m0-97.5h0m0 50h0m0-47h0m0-7h0m0 92h0m0-220h0m0.5 113.5h0m0 137h0m0-98h0m0.5 8h0m0-155h0m0 187.5h0m0.5-101.5h0m0-123.5h0m0 135h0m0 74h0m0-58.5h0m0-127.5h0m0-7h0m0 110.5h0m0-105h0m0 8.5h0m0.5-9.5h0m0 6h0m0-10h0m0 155h0m0 16h0m0-67.5h0m0-109h0m0 105.5h0m0-113h0m0 272h0m0-266.5h0m0 96h0m0 40.5h0m0.5-132.5h0m0 165h0m0-17h0m0-52.5h0m0 22h0m0.5-133h0m0-5h0m0 147h0m0-42h0m0-114h0m0 118h0m0 54h0m0-57h0m0-113h0m0 117.5h0m0-99h0m0.5 91.5h0m0 103h0m0-209h0m0.5 13.5h0m0 90.5h0m0-15h0m0.5 32h0m0-160h0m0 263.5h0m0-86h0m0-165.5h0m0 168.5h0m0.5 22h0m0-82h0m0-90.5h0m0 101.5h0m0.5 1h0m0-108h0m0.5 14h0m0-15.5h0m0 160h0m0-146h0m0 8h0m0 168.5h0m0-48h0m0-34h0m0 4h0m0.5-93.5h0m0 97.5h0m0 33h0m0-2.5h0m0 15.5h0m0 46h0m0-210h0m0 106h0m0 33h0m0.5 32.5h0m0-68h0m0 15h0m0 75h0m0.5-59h0m0-99.5h0m0 154.5h0m0-187.5h0m0 9.5h0m0 16h0m0 114h0m0.5-134h0m0 119.5h0m0 82h0m0-168h0m0 128.5h0m0 13h0m0.5-6h0m0-0.5h0m0.5-45.5h0m0-7h0m0.5 32h0m0-126h0m0-21h0m0.5 150h0m0-13h0m0 17h0m0-117.5h0m0.5 106.5h0m0-14h0m0-127.5h0m0.5 126h0m0-99.5h0m0 94.5h0m0-6h0m0-92.5h0m0-14h0m0 99h0m0.5 66h0m0-170h0m0 134h0m0.5-106.5h0m0-7h0m0-12h0m0 1.5h0m0 86.5h0m0.5-110.5h0m0 26.5h0m0 112.5h0m0 60h0m0-84.5h0m0-111h0m0 155.5h0m0 6h0m0.5-183.5h0m0 14h0m0 221h0m0-74h0m0-21.5h0m0-121.5h0m0.5 187h0m0 18.5h0m0-77.5h0m0 26h0m0-126.5h0m0.5 75.5h0m0 2h0m0 10h0m0.5 18.5h0m0 45h0m0-67h0m0.5-99h0m0 168h0m0-20h0m0-35h0m0 42.5h0m0-137h0m0.5 7.5h0m0 110h0m0-10h0m0.5-18h0m0 32.5h0m0 13h0m0-158h0m0 36h0m0 99.5h0m0-126h0m0 5.5h0m0 179.5h0m0-26h0m0 37.5h0m0.5 15h0m0.5-198.5h0m0 126.5h0m0-109h0m0-35h0m0 6h0m0 172.5h0m0-58h0m0.5-9h0m0 97.5h0m0.5-82h0m0-96h0m0 116.5h0m0-30.5h0m0 44.5h0m0.5-138h0m0 108h0m0 89h0m0-70.5h0m0.5-154h0m0 7.5h0m0 162.5h0m0-24.5h0m0-104h0m0-23.5h0m0 168h0m0-25h0m0 6.5h0m0 11h0m0.5-37h0m0-99.5h0m0.5-22.5h0m0 197h0m0.5-62.5h0m0-30.5h0m0 78.5h0m0-170h0m0 187h0m0-54.5h0m0-37.5h0m0-87.5h0m0-3h0m0.5 98h0m0 114.5h0m0-86h0m0-20.5h0m0-128.5h0m0.5 149.5h0m0-24h0m0 51h0m0-31h0m0-133.5h0m0.5 85.5h0m0 36.5h0m0-41h0m0.5-74h0m0 87h0m0-4h0m0-92.5h0m0 122.5h0m0-25h0m0 75.5h0m0.5-57.5h0m0 19.5h0m0 23h0m0.5-170h0m0 92.5h0m0-112h0m0 28.5h0m0 108.5h0m0 23h0m0-50h0m0.5-74h0m0 79.5h0m0-107h0m0 119h0m0-4h0m0-118.5h0m0.5 96.5h0m0-76h0m0-15.5h0m0-12.5h0m0 19h0m0.5 128h0m0-149.5h0m0 102.5h0m0-1h0m0 61h0m0-51.5h0m0-93h0m0.5-19h0m0 185h0m0 1h0m0.5-85h0m0 2h0m0 36h0m0 29h0m0-21h0m0.5-117h0m0 126h0m0-146h0m0 159.5h0m0-64.5h0m0 4.5h0m0.5 28h0m0-12.5h0m0 49.5h0m0-23.5h0m0-116h0m0.5 108.5h0m0-105.5h0m0-35h0m0 155h0m0-139.5h0m0.5-2h0m0 98.5h0m0-88h0m0 18.5h0m0 73h0m0.5-104h0m0-8.5h0m0 191h0m0-150h0m0 144h0m0-59.5h0m0.5 30.5h0m0-32.5h0m0.5-79.5h0m0 107h0m0 7h0m0-127h0m0 3.5h0m0.5 145h0m0-50h0m0-113h0m0.5 151.5h0m0-119h0m0 69h0m0 47h0m0-22h0m0-8h0m0.5 1.5h0m0 49h0m0.5-24.5h0m0-136h0m0 129h0m0.5-108h0m0 158.5h0m0-56.5h0m0-108h0m0 99h0m0-15.5h0m0 48h0m0.5-128.5h0m0 87h0m0-108.5h0m0 10.5h0m0.5 149h0m0 12.5h0m0-37h0m0-43h0m0-77h0m0-22.5h0m0.5 12.5h0m0-24h0m0 164.5h0m0-8h0m0.5-148h0m0 30.5h0m0 78h0m0 56h0m0-187.5h0m0 176.5h0m0-21.5h0m0.5 8h0m0-24h0m0-92.5h0m0 75.5h0m0.5-92h0m0 88.5h0m0 91h0m0-8.5h0m0.5-192.5h0m0 166h0m0-29.5h0m0-8h0m0.5 28.5h0m0-52h0m0 15.5h0m0-94.5h0m0.5-13.5h0m0-6.5h0m0 10.5h0m0 132.5h0m0-144.5h0m0.5 179h0m0-37.5h0m0-6.5h0m0-37.5h0m0-69h0m0 82h0m0-84.5h0m0 11.5h0m0.5 145h0m0-45h0m1-16.5h0m0-1.5h0m0 7.5h0m0-92.5h0m0 100.5h0m0-113.5h0m0.5 16.5h0m0 108h0m0.5 11.5h0m0-142.5h0m0-2.5h0m0 7h0m0.5-12.5h0m0 96.5h0m0 47.5h0m0 25h0m0-66h0m0.5-2.5h0m0 50.5h0m0-50.5h0m0 22.5h0m0 38h0m0-195h0m0.5 141h0m0 35.5h0m0 13h0m0-131h0m0 10.5h0m0.5-4.5h0m0 103.5h0m0.5-99h0m0-16h0m0 129h0m0-37.5h0m0-77.5h0m0 132h0m0-34h0m0.5-4.5h0m0 13.5h0m0.5-20.5h0m0-94h0m0 183h0m0-186h0m0 173.5h0m0-78.5h0m0 56h0m0-14.5h0m0-45h0m0 9.5h0m0.5 24h0m0 34.5h0m0-3.5h0m0-30h0m0-133.5h0m0 96.5h0m0.5 89.5h0m0-200h0m0-5.5h0m0 198.5h0m0-191.5h0m0 159.5h0m0-149.5h0m0.5-6.5h0m0 98h0m0-96.5h0m0 160.5h0m0-53.5h0m0.5-6h0m0-119h0m0.5 163.5h0m0-156.5h0m0 7h0m0 114h0m0 22.5h0m0-162.5h0m0.5 153.5h0m0 4h0m0 37h0m0.5 57.5h0m0-220.5h0m0 228h0m0 76.5h0m0-284.5h0m0 104h0m0-116.5h0m0 141h0m0.5-35.5h0m0 2.5h0m0-113.5h0m0 265.5h0m0-149h0m0 20h0m0 5.5h0m0-114h0m0 105h0m0-107h0m0 9h0m0.5 120.5h0m0 12.5h0m0-42h0m0-111h0m0 17.5h0m0 183h0m0.5-83h0m0 40.5h0m0-162.5h0m0 177h0m0 6h0m0 79.5h0m0.5-255.5h0m0 223h0m0-83h0m0-112h0m0-3.5h0m0-4h0m0 107.5h0m0-124h0m0 162h0m0.5-3.5h0m0 89.5h0m0-218.5h0m0 2.5h0m0.5 113.5h0m0-117.5h0m0 4h0m0.5 145h0m0-37h0m0 8h0m0-18h0m0-1.5h0m0 45.5h0m0-19h0m0.5-21h0m0-105h0m0-4h0m0.5 192h0m0-55.5h0m0-150.5h0m0 107.5h0m0-5.5h0m0.5 83.5h0m0-95.5h0m0 5.5h0m0 58.5h0m0-144.5h0m0.5-5.5h0m0-40h0m0 212.5h0m0-184.5h0m0-71.5h0m0.5 76h0m0 119h0m0-121h0m0 122.5h0m0 3.5h0m0 14h0m0-148h0m0.5-18h0m0 8.5h0m0 197.5h0m0-202h0m0 7h0m0 106h0m0-9.5h0m0-105h0m0 3h0m0 154.5h0m0.5-37.5h0m0-7.5h0m0-11h0m0-105.5h0m0 198h0m0-210.5h0m0 187h0m0-43h0m0.5-114.5h0m0 126.5h0m0 15h0m0-171h0m0.5 202h0m0-63h0m0-14.5h0m0-103.5h0m0.5-15.5h0m0 145h0m0 2h0m0.5-36h0m0 16h0m0-11.5h0m0-86.5h0m0.5 122h0m0 16h0m0-62h0m0 72.5h0m0.5-57.5h0m0 104h0m0-121h0m0 101.5h0m0-194h0m0-6h0m0.5 92.5h0m0-101.5h0m0 103.5h0m0 26h0m0.5 61.5h0m0-183.5h0m0.5 185h0m0-23h0m0-24h0m0-44.5h0m0-72.5h0m0.5 131h0m0-19h0m0 23h0m0-136.5h0m0-4h0m0.5 113h0m0 41.5h0m0 11.5h0m0 21h0m0-45.5h0m0.5-46h0m0-108h0m0 103h0m0-81h0m0 197h0m0.5-77.5h0m0-6.5h0m0-142.5h0m0 151.5h0m0-134.5h0m0 101.5h0m0 62.5h0m0.5-158.5h0m0 142.5h0m0-12h0m0.5-15.5h0m0-110.5h0m0 95.5h0m0-6h0m0 78h0m0.5-181h0m0-9h0m0 186.5h0m0-61h0m0.5-24.5h0m0 50h0m0-145h0m0 157h0m0-41h0m0-26h0m0 82h0m0.5 14.5h0m0-198.5h0m0 101.5h0m0 10.5h0m0-124h0m0 236h0m0.5-45h0m0.5-47h0m0 2.5h0m0 5.5h0m0.5-134.5h0m0 173h0m0-33.5h0m0-134.5h0m0 155h0m0.5-143.5h0m0 141.5h0m0-172.5h0m0.5 180.5h0m0-146h0m0 146.5h0m0-153h0m0-20h0m0.5 128h0m0-5.5h0m0-4.5h0m0-104h0m0.5-28.5h0m0 230h0m0-99h0m0-6h0m0-6h0m0 47.5h0m0-14.5h0m0.5-39h0m0-72.5h0m0 129h0m0.5-2.5h0m0-144h0m0 117h0m0-102h0m0-19h0m0 160.5h0m0.5-167h0m0 19h0m0 130h0m0 10.5h0m0.5-11.5h0m0-133.5h0m0 99.5h0m0-5.5h0m0-89.5h0m0 114h0m0.5-29h0m0 79h0m0-46.5h0m0-44h0m0 6.5h0m0.5 46.5h0m0.5-140.5h0m0 155.5h0m0-37.5h0m0-33.5h0m0.5 25.5h0m0 5h0m0-125.5h0m0 167.5h0m0-33.5h0m0-107h0m0.5-12.5h0m0-30.5h0m0 18h0m0 0.5h0m0.5 97h0m0-7.5h0m0 54h0m0-31.5h0m0-9.5h0m0.5-8.5h0m0-64h0m0 79.5h0m0-95h0m0.5 86.5h0m0 57.5h0m0-28.5h0m0 55.5h0m0-144h0m0.5-35.5h0m0 142h0m0-41.5h0m0-78h0m0 10.5h0m0.5-19h0m0 16h0m0-2h0m0 82h0m0-67h0m0-4h0m0 90.5h0m0 61.5h0m0-150.5h0m0 165h0m0.5-30h0m0-42h0m0-91.5h0m0.5 74.5h0m0 31.5h0m0.5-104h0m0 67.5h0m0 8.5h0m0 29h0m0 60h0m0.5-73h0m0-9h0m0 31.5h0m0-140h0m0 126.5h0m0.5-134h0m0 129.5h0m0-132h0m0 163h0m0-135h0m0.5-5h0m0 3h0m0 4h0m0 90.5h0m0 33.5h0m0-135.5h0m0 118.5h0m0 7.5h0m0-132.5h0m0 122h0m0-114.5h0m0.5 178.5h0m0-109h0m0 36.5h0m0-110.5h0m0 132.5h0m0 19h0m0 22.5h0m0-91.5h0m0.5 97h0m0.5-40.5h0m0-160h0m0 110.5h0m0-137.5h0m0 41.5h0m0 121h0m0-132.5h0m0.5 104h0m0-114.5h0m0 19h0m0-5.5h0m0 116h0m0-35h0m0 8h0m0.5-107.5h0m0 131h0m0-18h0m0-98.5h0m0-3h0m0.5-36h0m0 135h0m0 38.5h0m0-46h0m0.5 24h0m0 41.5h0m0-171h0m0 162h0m0-43h0m0.5-112h0m0 176.5h0m0-189h0m0 222h0m0-100h0m0-121h0m0 25h0m0.5-11h0m0-16h0m0 256.5h0m0-106h0m0-10.5h0m0.5-2.5h0m0 100h0m0-74.5h0m0 37.5h0m0-70h0m0.5 95.5h0m0-70.5h0m0-161h0m0 151.5h0m0.5 34.5h0m0-166h0m0 135.5h0m0 21h0m0-19h0m0-144h0m0.5 24.5h0m0 142h0m0 30.5h0m0 22h0m0.5-61h0m0 28h0m0 16h0m0-181.5h0m0 177.5h0m0-167.5h0m0-1.5h0m0-1.5h0m0 5.5h0m0 99.5h0m0.5 34.5h0m0-151.5h0m0 211h0m0-31.5h0m0-14h0m0-169.5h0m0.5-14h0m0 155h0m0.5-118.5h0m0 176.5h0m0 90h0m0-129.5h0m0.5 28h0m0-191.5h0m0 122.5h0m0.5 17.5h0m0-21.5h0m0-100h0m0 158.5h0m0-164h0m0 154.5h0m0 27.5h0m0-13.5h0m0.5-53h0m0 27.5h0m0 17h0m0-149.5h0m0-28.5h0m0.5-1h0m0 230.5h0m0-76h0m0-140.5h0m0.5 246.5h0m0-67h0m0-56h0m0 76h0m0-42.5h0m0-38h0m0.5 86.5h0m0-60h0m0-19h0m0-114h0m0 6h0m0.5 242h0m0-265.5h0m0.5 140.5h0m0 33h0m0-53h0m0 83h0m0-5h0m0-29h0m0-15h0m0.5-173h0m0-7.5h0m0 258.5h0m0 47.5h0m0.5-124h0m0-26h0m0 16h0m0 18h0m0-178h0m0 176h0m0-167.5h0m0.5 132.5h0m0-10.5h0m0 72h0m0-200h0m0 24.5h0m0 164.5h0m0.5 5h0m0-191h0m0 143h0m0 99h0m0-31.5h0m0-195.5h0m0.5 3h0m0 197.5h0m0-70h0m0-116h0m0-9h0m0.5-9h0m0-22.5h0m0 18.5h0m0 29h0m0-32h0m0 22.5h0m0.5 132h0m0-125.5h0m0.5 150h0m0-134.5h0m0-10h0m0 160.5h0m0-5.5h0m0-28.5h0m0-122.5h0m0.5 174.5h0m0-194h0m0 183h0m0-150h0m0-9.5h0m0-2h0m0.5 145h0m0 42.5h0m0-31.5h0m0-168h0m0.5 130h0m0-11h0m0 25.5h0m0-124.5h0m0 127h0m0-122h0m0.5 116.5h0m0 32.5h0m0 23.5h0m0-60h0m0-108h0m0.5 130h0m0-37h0m0-7h0m0.5 75h0m0-2.5h0m0-163.5h0m0-4.5h0m0.5 134h0m0-20.5h0m0-111.5h0m0 98.5h0m0 57h0m0-75h0m0-87h0m0.5-4.5h0m0 94h0m0-105.5h0m0 112.5h0m0 74h0m0-23h0m0-166h0m0 11.5h0m0.5 90h0m0-112h0m0-17h0m0 160h0m0-33h0m0-4h0m0 133h0m0.5-221h0m0 186.5h0m0-97.5h0m0-115h0m0 109.5h0m0 29.5h0m0.5 32h0m0-156.5h0m0-10h0m0 233.5h0m0-112h0m0-114h0m0 134.5h0m0.5 87.5h0m0-98.5h0m0 28.5h0m0 25h0m0 6.5h0m0-181h0m0.5 206.5h0m0-91.5h0m0 72.5h0m0-40h0m0-4h0m0.5-164.5h0m0 128h0m0-103h0m0 95.5h0m0-108.5h0m0 215.5h0m0.5-13h0m0-34.5h0m0 31.5h0m0-12h0m0-198h0m0 292.5h0m0-62h0m0.5-55h0m0 6.5h0m0-26h0m0.5 41h0m0-11.5h0m0.5-47.5h0m0 67.5h0m0-204h0m0 159.5h0m0 105h0m0-118h0m0.5-143h0m0 11h0m0 128h0m0 10h0m0-122h0m0 185h0m0-188.5h0m0-19.5h0m0.5 179.5h0m0 25h0m0-38h0m0.5-47.5h0m0-106h0m0 236h0m0-223.5h0m0 163.5h0m0-159.5h0m0.5 133.5h0m0 13h0m0-60h0m0 43.5h0m0-34.5h0m0-106.5h0m0.5-16h0m0 126.5h0m0-7h0m0-14h0m0.5 30h0m0 77h0m0-185.5h0m0-18.5h0m0 132h0m0-31h0m0-80h0m0.5 115h0m0 9h0m0-161h0m0 110.5h0m0 76h0m0-10h0m0.5-39h0m0-106.5h0m0 160h0m0.5-34.5h0m0 14h0m0-53h0m0 32h0m0-129h0m0.5-8h0m0 16h0m0 70h0m0 80h0m0.5-173h0m0 96h0m0 30h0m0.5-11h0m0-102.5h0m0-8h0m0 17h0m0.5 135.5h0m0-156h0m0 16.5h0m0 82h0m0-105.5h0m0-13h0m0.5 160h0m0-18.5h0m0 9h0m0 4h0m0-27.5h0m0.5 10h0m0-14.5h0m0 122h0m0-64h0m0-12.5h0m0-115.5h0m0 122h0m0.5 11h0m0-181h0m0 42.5h0m0 97h0m0.5-85.5h0m0 147.5h0m0 48h0m0-223.5h0m0.5 22.5h0m0 2.5h0m0.5 128h0m0 21.5h0m0-179.5h0m0 131.5h0m0.5-18h0m0-95h0m0.5 2h0m0 2.5h0m0 175h0m0-91h0m0 37.5h0m0.5-4.5h0m0-133h0m0 9h0m0 104h0m0 59.5h0m0-17h0m0-25h0m0 31.5h0m0.5-175.5h0m0 176h0m0 45.5h0m0-202.5h0m0 152.5h0m0-41.5h0m0-140.5h0m0.5 27h0m0 161h0m0-174h0m0 137h0m0-149.5h0m0 144h0m0.5-28h0m0 9h0m0 43.5h0m0-178h0m0 29h0m0.5 122h0m0 115.5h0m0-85h0m0-8h0m0 88h0m0-134.5h0m0.5 30.5h0m0 13.5h0m0-133.5h0m0.5 147h0m0-50h0m0 107.5h0m0-99.5h0m0-107.5h0m0.5 182.5h0m0-191.5h0m0 114.5h0m0-127.5h0m0 204h0m0 59h0m0-271h0m0 191.5h0m0-198.5h0m0-4.5h0m0 231.5h0m0-234h0m0.5 188.5h0m0-12.5h0m0-45h0m0-89.5h0m0 221h0m0-117.5h0m0.5-107.5h0m0 205h0m0-104.5h0m0-114h0m0 130.5h0m0-127.5h0m0.5 155.5h0m0 12h0m0-176.5h0m0.5 146h0m0-132h0m0 86.5h0m0.5 146.5h0m0 19.5h0m0-290.5h0m0 195h0m0-73.5h0m0.5 100.5h0m0-93.5h0m0 48.5h0m0-178h0m0-10h0m0 125h0m0.5 64.5h0m0-45.5h0m0 80h0m0-210.5h0m0 10.5h0m0-17h0m0 209.5h0m0-188.5h0m0 157h0m0.5-9h0m0-49h0m0 5h0m0-94h0m0 92h0m0 89.5h0m0.5-48.5h0m0-155.5h0m0 122.5h0m0 19h0m0-138h0m0 122h0m0-5h0m0 10.5h0m0 19.5h0m0.5-14.5h0m0 42h0m0 34.5h0m0-83h0m0 15h0m0.5-7h0m0-105.5h0m0 138.5h0m0 80h0m0-7.5h0m0-216h0m0 263.5h0m0-271h0m0.5 199.5h0m0-202h0m0-9.5h0m0 40h0m0-11.5h0m0.5 8h0m0 151h0m0-40h0m0 35h0m0-40.5h0m0.5 31.5h0m0-141h0m0 160.5h0m0 37h0m0 5.5h0m0-80h0m0.5 97h0m0.5-92.5h0m0-155.5h0m0 38.5h0m0 233.5h0m0-231h0m0 139.5h0m0-32.5h0m0.5 50h0m0-13.5h0m0 4.5h0m0-170h0m0.5 195.5h0m0-42.5h0m0 22h0m0-193.5h0m0 177.5h0m0.5-167.5h0m0 152h0m0-32h0m0.5-106h0m0 114h0m0 113.5h0m0 20h0m0-54.5h0m0-200.5h0m0 15h0m0-18.5h0m0 198h0m0.5-65.5h0m0-143h0m0 205.5h0m0-14h0m0-29h0m0-31.5h0m0.5 63h0m0-175h0m0 197h0m0 30h0m0-206h0m0 98.5h0m0.5-135.5h0m0 153.5h0m0 92h0m0-221.5h0m0 172.5h0m0 52.5h0m0.5-102.5h0m0-116.5h0m0 181.5h0m0-61.5h0m0 3h0m0.5 52h0m0 52.5h0m0.5-54h0m0-38.5h0m0-161h0m0 140.5h0m0-106h0m0 131.5h0m0 101.5h0m0-148h0m0.5 23h0m0 55.5h0m0-168h0m0 124h0m0 17h0m0 7.5h0m0.5-162h0m0-6.5h0m0 145.5h0m0 26h0m0.5-67.5h0m0 14h0m0 31.5h0m0 32h0m0-56h0m0.5-140.5h0m0 175h0m0.5 48h0m0-88h0m0-129.5h0m0.5 5.5h0m0 16h0m0 86h0m0 112.5h0m0-108h0m0.5-93h0m0 121.5h0m0-129h0m0-3.5h0m0 116h0m0-126h0m0 154h0m0.5-6h0m0-29.5h0m0 45.5h0m0-157h0m0.5 162h0m0-139.5h0m0-6h0m0.5 162.5h0m0-57h0m0.5 10h0m0-102.5h0m0 165h0m0-48.5h0m0-30h0m0 36.5h0m0-118.5h0m0.5 92h0m0-117.5h0m0 18h0m0 172h0m0-26.5h0m0-135.5h0m0 98h0m0.5-113h0m0.5 105.5h0m0-102h0m0 113.5h0m0-21h0m0-103.5h0m0 133h0m0-39.5h0m0.5-100h0m0-2h0m0 153h0m0.5-53h0m0-6h0m0-68.5h0m0.5 90.5h0m0-120.5h0m0 183h0m0.5-40h0m0-45h0m0-79h0m0-2h0m0 94.5h0m0-97h0m0 13.5h0m0 74.5h0m0 62.5h0m0-173.5h0m0 19.5h0m0.5 149.5h0m0 34h0m0-27h0m0.5-38.5h0m0 53h0m0-83h0m0-58.5h0m0.5 119.5h0m0-121h0m0 83h0m0 31h0m0-46h0m0.5-67h0m0 110h0m0-19h0m0 10h0m0-119.5h0m0 189.5h0m0.5-167.5h0m0-5.5h0m0 96.5h0m0 37h0m0-56.5h0m0.5 39h0m0-120h0m0.5 179h0m0-77h0m0-127h0m0-3.5h0m0.5 175.5h0m0 13.5h0m0-74.5h0m0 6h0m0-102h0m0 6.5h0m0.5 132.5h0m0-48.5h0m0-102h0m0 133h0m0.5-117.5h0m0 128h0m0-20.5h0m0-134h0m0-7h0m0 200.5h0m0-85.5h0m0.5 47h0m0-134h0m0-55h0m0.5 51.5h0m0-2.5h0m0 133.5h0m0 17.5h0m0-62h0m0-115.5h0m0.5 35h0m0 128.5h0m0 3h0m0 22.5h0m0-78h0m0.5 79.5h0m0 3h0m0-40h0m0-49.5h0m0-84h0m0 128.5h0m0.5 32h0m0-71.5h0m0-85h0m0 116.5h0m0-132.5h0m0.5 114.5h0m0 39h0m0-21.5h0m0-3.5h0m0 40.5h0m0-44.5h0m0-33h0m0.5-3h0m0-81h0m0 142.5h0m0-129h0m0-17h0m0 117h0m0.5-133.5h0m0.5 178.5h0m0-60.5h0m0 17.5h0m0 10.5h0m0.5 1.5h0m0-138.5h0m0 96h0m0.5-77.5h0m0-23.5h0m0 9h0m0 110h0m0-24.5h0m0.5 31.5h0m0-20.5h0m0.5 4.5h0m0 72h0m0-163.5h0m0 9.5h0m0.5 64.5h0m0.5 30h0m0-8h0m0 38.5h0m0-6h0m0.5-131.5h0m0-22h0m0.5 182.5h0m0-178h0m0.5-16.5h0m0 175h0m0-143.5h0m0-35.5h0m0 129.5h0m0.5-6.5h0m0 73.5h0m0-78.5h0m0.5 10h0m0-9h0m0-92.5h0m0 4.5h0m0 122h0m0 6.5h0m0 1.5h0m0-3.5h0m0.5-2h0m0-145h0m0 131h0m0-18h0m0 48h0m0 48h0m0-195h0m0.5 20h0m0-44h0m0 27.5h0m0 181.5h0m0-183.5h0m0 177h0m0 11h0m0-165h0m0 116h0m0-28.5h0m0-85h0m0.5 83h0m0-92.5h0m0 106h0m0 115h0m0-76.5h0m0 59.5h0m0-210.5h0m0.5 23h0m0 135h0m0-138h0m0.5 88h0m0 44.5h0m0-175.5h0m0 171h0m0.5-23h0m0-128h0m0 142h0m0-42h0m0.5-70h0m0-22h0m0 10h0m0 96.5h0m0 40.5h0m0.5-9.5h0m0-10h0m0-11h0m0.5-19h0m0-92h0m0-3.5h0m0.5 83.5h0m0 25h0m0-29.5h0m0-62h0m0.5-55.5h0m0 124h0m0 40h0m0.5-134.5h0m0 139.5h0m0-21h0m0-37.5h0m0 30h0m0-117.5h0m0.5 91h0m0 46h0m0-109h0m0-16.5h0m0 119.5h0m0.5-3h0m0 16h0m0-40h0m0 7h0m0 38.5h0m0-154h0m0.5 89h0m0 24h0m0-85h0m0.5 97.5h0m0 37h0m0-43.5h0m0.5-17h0m0 18.5h0m0-13.5h0m0 6.5h0m0.5-123h0m0 33h0m0 71.5h0m0-97h0m0 154h0m0-145h0m0-3.5h0m0.5 165.5h0m0 30.5h0m0-64.5h0m0-122.5h0m0 6.5h0m0 73.5h0m0 47.5h0m0.5-50.5h0m0-66h0m0 140h0m0.5-167h0m0 190.5h0m0-87.5h0m0 1.5h0m0.5-110.5h0m0 138h0m0 4.5h0m0-100.5h0m0.5 72.5h0m0 88.5h0m0-82.5h0m0-3h0m0.5-82h0m0.5 116.5h0m0 83.5h0m0-90h0m0-19.5h0m0-85h0m0-15.5h0m0.5 159h0m0-4h0m0-23h0m0 10.5h0m0 63h0m0-103.5h0m0 6h0m0.5-119.5h0m0 116h0m0 43h0m0-11.5h0m0.5-143.5h0m0-19h0m0 221.5h0m0-27.5h0m0-183.5h0m0.5 137.5h0m0-167h0m0 253h0m0-204h0m0.5 325.5h0m0-181.5h0m0 42.5h0m0-223h0m0 38.5h0m0.5 193h0m0-203h0m0 163.5h0m0-180h0m0.5 244.5h0m0 72h0m0-130.5h0m0 38h0m0.5-50h0m0-18h0m0-20h0m0 26h0m0-12h0m0 90.5h0m0-207.5h0m0 218h0m0-99.5h0m0.5 16.5h0m0 34h0m0-10.5h0m0-161h0m0 162.5h0m0.5-54.5h0m0 122h0m0-134.5h0m0 38.5h0m0-158h0m0 228.5h0m0-75.5h0m0-14h0m0-14.5h0m0.5 46h0m0-42.5h0m0-25h0m0-89h0m0 122.5h0m0 18.5h0m0.5-145.5h0m0-27.5h0m0 126h0m0-108h0m0 176.5h0m0-180h0m0 213h0m0-98h0m0 3h0m0.5-110h0m0-28h0m0.5 120.5h0m0-7h0m0-98h0m0 128.5h0m0-137.5h0m0.5 7.5h0m0 103h0m0 6h0m0-96.5h0m0 84.5h0m0-70.5h0m0.5-29.5h0m0 0.5h0m0 136.5h0m0-147.5h0m0 113.5h0m0 71h0m0-167.5h0m0.5-5h0m0 108.5h0m0-70h0m0 120.5h0m0-117.5h0m0 101.5h0m0.5-117.5h0m0 88.5h0m0-77h0m0 89h0m0-7.5h0m0 34.5h0m0-7.5h0m0-35.5h0m0.5-79h0m0 14h0m0 6.5h0m0 114h0m0.5-35.5h0m0.5 9.5h0m0 11h0m0 9.5h0m0-142h0m0.5 174.5h0m0-170.5h0m0 166.5h0m0-130h0m0 111h0m0-47h0m0.5-75.5h0m0 15.5h0m0 83.5h0m0-11.5h0m0.5-79.5h0m0 119.5h0m0.5-116.5h0m0 3.5h0m0-12h0m0.5 105h0m0-143.5h0m0 175.5h0m0-44h0m0-91h0m0 157h0m0-172h0m0 18h0m0 96h0m0.5-10h0m0-125.5h0m0.5 14h0m0 151h0m0 20h0m0-154.5h0m0 114h0m0 4h0m0-142h0m0 19.5h0m0-29h0m0.5 186h0m0-30h0m0-136h0m0 169.5h0m0-77h0m0 101h0m0-31h0m0-23h0m0-145h0m0 129.5h0m0 60h0m0-84h0m0.5 88h0m0-58h0m0.5-34.5h0m0 9.5h0m0 10.5h0m0-139h0m0 177h0m0.5-162h0m0 168h0m0 11h0m0-15h0m0 25.5h0m0-37h0m0.5-136.5h0m0 1.5h0m0.5 123.5h0m0-129h0m0 9.5h0m0.5 113h0m0 107h0m0-21h0m0-59.5h0m0-140h0m0 171h0m0 13.5h0m0-22.5h0m0.5-189.5h0m0 136h0m0 29h0m0 22.5h0m0-175h0m0.5 118.5h0m0 66h0m0-5.5h0m0-65.5h0m0 55.5h0m0 59h0m0-83h0m0.5-42h0m0 99h0m0-92.5h0m0-140h0m0 200h0m0-180h0m0.5-4.5h0m0 162h0m0-6.5h0m0-27.5h0m0.5-120h0m0-9.5h0m0 177h0m0-188.5h0m0 25.5h0m0 198.5h0m0.5-63h0m0 98.5h0m0-229h0m0 97.5h0m0-121.5h0m0.5 152h0m0 34.5h0m0-37h0m0 9h0m0.5 24.5h0m0-154.5h0m0 171.5h0m0-204.5h0m0 180.5h0m0-151h0m0 105.5h0m0-98.5h0m0-42.5h0m0.5 21h0m0 154.5h0m0 4.5h0m0 29.5h0m0 36.5h0m0-93.5h0m0.5-125h0m0 97.5h0m0.5 64h0m0-38.5h0m0 3.5h0m0 27.5h0m0-53.5h0m0.5-9h0m0 2.5h0m0 11h0m0-106.5h0m0 6h0m0 84h0m0-115h0m0.5 13.5h0m0 164h0m0-167h0m0 134.5h0m0 25h0m0-35.5h0m0.5 23h0m0 42h0m0-177h0m0 128h0m0.5-143h0m0-4.5h0m0-13h0m0 121h0m0 29.5h0m0-20.5h0m0-13.5h0m0.5-89h0m0 173h0m0-145h0m0.5 119.5h0m0-4.5h0m0-44h0m0 76.5h0m0-160h0m0 10.5h0m0.5 74h0m0 62.5h0m0-38.5h0m0-94.5h0m0.5 138h0m0-19.5h0m0-38h0m0-81h0m0 79h0m0.5-90h0m0 16h0m0 121.5h0m0-134h0m0 155h0m0.5-24h0m0-16.5h0m0-17.5h0m0 79.5h0m0.5-187h0m0 20.5h0m0-8.5h0m0-16.5h0m0 182.5h0m0.5-74.5h0m0 16.5h0m0 7h0m0.5 9h0m0-150h0m0 126h0m0 36.5h0m0-39h0m0 104h0m0.5-42.5h0m0-189h0m0 135.5h0m0 84h0m0-201.5h0m0 160h0m0-168.5h0m0.5 162.5h0m0-59h0m0 9.5h0m0-1.5h0m0-5h0m0-95.5h0m0.5-13.5h0m0 175h0m0-156.5h0m0 124h0m0.5 17.5h0m0-167.5h0m0 210.5h0m0-181h0m0 127h0m0.5-152.5h0m0 223h0m0 47h0m0-37.5h0m0-75h0m0 33h0m0 3h0m0-55.5h0m0.5 17.5h0m0-146.5h0m0 21.5h0m0 177h0m0.5-191.5h0m0 11.5h0m0 122h0m0 35.5h0m0 53h0m0.5 27h0m0-123h0m0-125h0m0 161h0m0 23.5h0m0-71h0m0.5 2.5h0m0 65h0m0-51.5h0m0 27h0m0-48.5h0m0-7h0m0.5-127h0m0 20h0m0 204.5h0m0-41.5h0m0.5 8h0m0-160h0m0 100.5h0m0.5-118.5h0m0 164h0m0 30h0m0-34.5h0m0-52h0m0-4.5h0m0.5-108h0m0 159.5h0m0 6.5h0m0-151.5h0m0 114.5h0m0.5-121h0m0-10h0m0 210h0m0-1.5h0m0-61.5h0m0-13h0m0-26h0m0 35.5h0m0.5 14h0m0-135h0m0 117.5h0m0.5-21.5h0m0 35.5h0m0-125h0m0-32.5h0m0.5 129h0m0-120h0m0.5 31h0m0 84h0m0 53.5h0m0-34.5h0m0 34h0m0-11h0m0.5-127.5h0m0 122h0m0-147h0m0 23h0m0.5 159.5h0m0-13.5h0m0-29.5h0m0-37h0m0 90h0m0 20h0m0.5-209h0m0 13.5h0m0 173h0m0-8.5h0m0-189h0m0.5 210h0m0-183h0m0 188.5h0m0-103h0m0 45h0m0-166h0m0 25.5h0m0.5 141.5h0m0-19h0m0-166h0m0 222.5h0m0.5-62.5h0m0-5.5h0m0 1h0m0-115h0m0.5 105.5h0m0 89h0m0-21.5h0m0-43.5h0m0 92.5h0m0.5-47.5h0m0-12.5h0m0-156h0m0-28h0m0 160.5h0m0.5-42h0m0-105h0m0 161h0m0-155.5h0m0 191h0m0-54.5h0m0.5-158h0m0 133.5h0m0-7.5h0m0 57h0m0.5-157h0m0 191h0m0-27.5h0m0-179.5h0m0 3h0m0 132.5h0m0-27.5h0m0.5 74.5h0m0-173h0m0 148h0m0-174.5h0m0 180h0m0-156.5h0m0.5 18.5h0m0-28.5h0m0 142.5h0m0-119h0m0.5-21.5h0m0 130.5h0m0 14h0m0-16h0m0.5-4.5h0m0 46h0m0-13.5h0m0.5 19.5h0m0-42.5h0m0 2.5h0m0-21h0m0 107.5h0m0-193.5h0m0 184.5h0m0-65.5h0m0 41h0m0-71h0m0.5 60h0m0-24.5h0m0.5-143.5h0m0 152.5h0m0-146.5h0m0 123.5h0m0-15h0m0 100.5h0m0-32.5h0m0.5-170h0m0.5 158h0m0-177.5h0m0-8.5h0m0 125h0m0-93.5h0m0.5 118h0m0 49.5h0m0-185.5h0m0 109h0m0 34h0m0.5 20.5h0m0-156.5h0m0 152h0m0.5 70.5h0m0-78.5h0m0 24h0m0 17.5h0m0 4.5h0m0-68h0m0-4.5h0m0.5-19.5h0m0 100.5h0m0-89.5h0m0.5 40h0m0-134h0m0 110.5h0m0-122h0m0-28h0m0 155.5h0m0.5 41h0m0-58.5h0m0 80.5h0m0-38.5h0m0-14.5h0m0-8.5h0m0.5-48.5h0m0 8.5h0m0 43h0m0-25.5h0m0 65h0m0-183h0m0.5 18.5h0m0 148.5h0m0-152h0m0-10h0m0-11.5h0m0 10h0m0 191h0m0-98h0m0.5 17h0m0-32h0m0 4h0m0 63.5h0m0-138.5h0m0 118.5h0m0.5-119.5h0m0 123h0m0-142h0m0 111.5h0m0-14h0m0-110.5h0m0.5 19.5h0m0 93.5h0m0-107.5h0m0.5 4.5h0m0 91.5h0m0 31h0m0-38h0m0 35.5h0m0-7h0m0.5 20.5h0m0-170h0m0 178h0m0.5-60.5h0m0 91h0m0-184.5h0m0 148.5h0m0-48h0m0 60h0m0.5-172.5h0m0 110.5h0m0.5-80h0m0 5.5h0m0 96h0m0.5 21h0m0-126h0m0 170h0m0-72.5h0m0 42.5h0m0 9.5h0m0 12.5h0m0-71.5h0m0 3.5h0m0.5 86h0m0-68h0m0-118h0m0 25.5h0m0 138.5h0m0.5-56.5h0m0-86.5h0m0 102.5h0m0-126.5h0m0.5 130h0m0 130.5h0m0-263h0m0 206.5h0m0 56h0m0.5-81h0m0-146h0m0 127.5h0m0.5-15.5h0m0-26.5h0m0 20h0m0-103h0m0 1.5h0m0 120h0m0.5 64.5h0m0-8.5h0m0-31h0m0-169.5h0m0 120.5h0m0-134h0m0 5.5h0m0 11h0m0 270h0m0.5-266.5h0m0 130.5h0m0 19h0m0 29h0m0-78h0m0 32h0m0 83.5h0m0.5-21.5h0m0-21.5h0m0-51.5h0m0 22.5h0m0.5-136.5h0m0 7.5h0m0 151h0m0-59.5h0m0 95.5h0m0 47.5h0m0-139h0m0.5-121h0m0 165.5h0m0-14.5h0m0 40.5h0m0-76.5h0m0 67h0m0-9h0m0.5 28h0m0-71.5h0m0 6h0m0.5-151h0m0 271h0m0-131h0m0 31.5h0m0-142.5h0m0 172h0m0-165h0m0 147h0m0 30h0m0.5-36.5h0m0-34h0m0-123.5h0m0.5 244.5h0m0-46h0m0-195h0m0-11.5h0m0 297.5h0m0-94h0m0-50.5h0m0-2.5h0m0.5 7h0m0-12.5h0m0-122.5h0m0 19h0m0.5-37h0m0 212h0m0 10h0m0 132.5h0m0-323h0m0-2.5h0m0 275.5h0m0-117.5h0m0 2.5h0m0 15.5h0m0.5-9h0m0-2h0m0 37.5h0m0-72h0m0-125.5h0m0 193.5h0m0-189.5h0m0.5 180h0m0 116h0m0-163.5h0m0 46h0m0.5-190.5h0m0 153h0m0-14h0m0 9h0m0 33.5h0m0 33h0m0-18.5h0m0 26h0m0-237.5h0m0.5 223.5h0m0-23h0m0 25.5h0m0-225h0m0 10.5h0m0.5-21.5h0m0 160h0m0 186.5h0m0-203h0m0.5 57.5h0m0-198h0m0 257h0m0-81h0m0-171h0m0 178.5h0m0-31.5h0m0.5-14.5h0m0 214h0m0-185h0m0 11.5h0m0-165.5h0m0.5 116.5h0m0 3.5h0m0 81.5h0m0-45.5h0m0-146h0m0-5h0m0-17.5h0m0.5 203h0m0-192h0m0 136.5h0m0-123.5h0m0.5 120.5h0m0-110.5h0m0 126h0m0-159h0m0 225.5h0m0 36h0m0-76.5h0m0-46.5h0m0.5 49h0m0-156h0m0-43h0m0 188.5h0m0 16h0m0 17.5h0m0-86h0m0.5 25h0m0-167.5h0m0 140h0m0 94h0m0-53.5h0m0-8h0m0-127h0m0.5 153h0m0-65h0m0 3.5h0m0-125h0m0 202.5h0m0-189h0m0.5 128h0m0 85.5h0m0 16h0m0-214.5h0m0-9h0m0-57h0m0 268h0m0.5-68h0m0-138.5h0m0 181.5h0m0-57h0m0 60h0m0-37h0m0-32h0m0-26h0m0 47.5h0m0.5 56.5h0m0-38.5h0m0-26.5h0m0-177.5h0m0 156h0m0 1.5h0m0-122.5h0m0.5 101h0m0 66h0m0-40.5h0m0 90.5h0m0 2h0m0-93h0m0 47.5h0m0-191.5h0m0 205.5h0m0.5-89.5h0m0 101h0m0.5-51.5h0m0 16h0m0-187h0m0 9h0m0 8h0m0 101h0m0.5-116h0m0 10h0m0 118.5h0m0.5 73.5h0m0-184.5h0m0 204.5h0m0-194h0m0 150h0m0.5-19.5h0m0-146h0m0 123.5h0m0-113.5h0m0 328.5h0m0-115.5h0m0-117h0m0.5 12h0m0 76.5h0m0 2h0m0-205.5h0m0 29.5h0m0 106h0m0 104h0m0.5-45.5h0m0-192h0m0 30h0m0 4.5h0m0 153.5h0m0-69.5h0m0.5 41h0m0 17.5h0m0.5-10.5h0m0 41.5h0m0-50.5h0m0-122.5h0m0.5 2.5h0m0-5h0m0 171h0m0-43.5h0m0 80h0m0-72.5h0m0 13.5h0m0.5-44h0m0 13.5h0m0-129h0m0 8h0m0 91h0m0.5-95.5h0m0-16.5h0m0 210.5h0m0-88h0m0.5 35h0m0-62h0m0 23h0m0.5-17.5h0m0 63h0m0-17.5h0m0-140.5h0m0 101.5h0m0-113h0m0 147h0m0.5-14h0m0-35h0m0 78h0m0.5-160.5h0m0 122h0m0-30.5h0m0-117.5h0m0 99h0m0-94h0m0.5-17.5h0m0 6.5h0m0.5 144h0m0-33h0m0-6h0m0 71.5h0m0-168h0m0-5h0m0 133h0m0-144h0m0 164.5h0m0 1.5h0m0.5 2h0m0-42.5h0m0 53.5h0m0-151h0m0 93.5h0m0-86.5h0m0.5 83.5h0m0 21.5h0m0-7.5h0m0.5 42h0m0-129.5h0m0 146.5h0m0-161h0m0-7h0m0 106.5h0m0.5 12.5h0m0 60h0m0-71h0m0 140.5h0m0-116.5h0m0.5 23.5h0m0-130h0m0 151.5h0m0-61h0m0-99h0m0 132.5h0m0-117.5h0m0.5 147h0m0-39.5h0m0 48h0m0-58.5h0m0-100h0m0.5 200h0m0-194h0m0 101h0m0.5-12h0m0 64.5h0m0-4h0m0-40h0m0 52h0m0-23h0m0.5-15h0m0 17.5h0m0-12.5h0m0-141.5h0m0 148h0m0-40h0m0-118.5h0m0-30h0m0 220h0m0-213h0m0.5 44.5h0m0 171h0m0-186h0m0 122.5h0m0.5 151h0m0-84h0m0-72h0m0 91.5h0m0-36h0m0.5-40h0m0 51h0m0-174.5h0m0-23.5h0m0 183.5h0m0-15h0m0-156.5h0m0.5 129.5h0m0-26h0m0 47.5h0m0-53h0m0-114.5h0m0.5 7.5h0m0 118.5h0m0 80h0m0.5-94.5h0m0 125h0m0-86h0m0 5h0m0-18h0m0.5 108.5h0m0-252h0m0-4h0m0.5 192h0m0-186.5h0m0 208.5h0m0-58.5h0m0-126.5h0m0.5 167h0m0-78h0m0 25h0m0-121h0m0 8.5h0m0.5-6h0m0 110h0m0-6.5h0m0 54.5h0m0.5-41.5h0m0 32.5h0m0-23.5h0m0.5-135.5h0m0 106h0m0 81.5h0m0-45.5h0m0 21.5h0m0 23h0m0-13h0m0.5-178.5h0m0 174.5h0m0-149h0m0 135h0m0.5-45h0m0 22h0m0-18h0m0 35h0m0.5 53.5h0m0-26h0m0 66.5h0m0-23h0m0-217h0m0 186.5h0m0.5-63h0m0-100h0m0.5 139.5h0m0-141h0m0-7h0m0 120.5h0m0-153.5h0m0 137h0m0 58h0m0.5-59.5h0m0 82h0m0-57h0m0-34.5h0m0-112h0m0 184.5h0m0-194h0m0 215h0m0.5-183h0m0 129h0m0 41h0m0-185h0m0 166.5h0m0-49h0m0-111h0m0-1.5h0m0.5-26.5h0m0.5 176h0m0-64h0m0-115.5h0m0 114h0m0.5-100h0m0-27h0m0 161h0m0 8.5h0m0-21.5h0m0 18h0m0.5-133h0m0 140.5h0m0-38.5h0m0 54.5h0m0-37.5h0m0.5-20h0m0 46h0m0-153h0m0.5-10h0m0 169.5h0m0 16h0m0-179h0m0 26.5h0m0 90.5h0m0 21h0m0.5 23h0m0-152.5h0m0.5 97.5h0m0-120h0m0 200h0m0-157h0m0 124h0m0.5 37h0m0-170.5h0m0-18.5h0m0 136.5h0m0-13.5h0m0.5 17.5h0m0 31h0m0-157h0m0 160.5h0m0.5-55h0m0-88h0m0 94.5h0m0-138h0m0 192h0m0-157h0m0.5 166.5h0m0-40h0m0 56.5h0m0.5-75.5h0m0-133h0m0 127h0m0 20h0m0-36h0m0-115h0m0 161.5h0m0.5-42.5h0m0 86h0m0.5-189.5h0m0 221h0m0-39h0m0-32h0m0 17h0m0-56.5h0m0-3.5h0m0.5 1.5h0m0-113.5h0m0 123.5h0m0 46.5h0m0.5 39.5h0m0-79.5h0m0 35.5h0m0 25.5h0m0-156h0m0 106h0m0 17h0m0-25h0m0-7h0m0.5 11h0m0 42h0m0-162h0m0 8.5h0m0 135.5h0m0 105h0m0-234.5h0m0 6.5h0m0.5 162.5h0m0-16h0m0 20.5h0m0-64h0m0-126.5h0m0.5-3.5h0m0 136h0m0-108.5h0m0-31h0m0 167h0m0-153h0m0 254.5h0m0.5-27.5h0m0-96h0m0-147h0m0 11h0m0.5 179h0m0 13.5h0m0 85h0m0-16h0m0.5-98.5h0m0-7h0m0 42h0m0 6.5h0m0.5 64h0m0-26.5h0m0-55h0m0 12h0m0-212h0m0.5 161.5h0m0 4h0m0 16.5h0m0-34h0m0 45.5h0m0.5-3.5h0m0 31h0m0 49h0m0-45.5h0m0 14h0m0-213.5h0m0-2h0m0 17.5h0m0 213.5h0m0-216.5h0m0-8h0m0.5 155h0m0-28h0m0 109h0m0-41.5h0m0-72h0m0-143.5h0m0.5 261.5h0m0-235.5h0m0 191h0m0-181h0m0 154.5h0m0.5-56.5h0m0-145h0m0 217h0m0-29h0m0-168.5h0m0 190h0m0 96.5h0m0.5-126.5h0m0-15.5h0m0 98.5h0m0-41.5h0m0-9h0m0-37h0m0.5 28h0m0 39h0m0-49h0m0-162.5h0m0-16.5h0m0.5 218.5h0m0-209h0m0 22.5h0m0 1.5h0m0 101.5h0m0-107h0m0-49.5h0m0 350.5h0m0.5-309h0m0 148.5h0m0-21h0m0-19.5h0m0 30.5h0m0 47h0m0-176h0m0.5 88.5h0m0-95h0m0 173h0m0-29.5h0m0-44.5h0m0 62.5h0m0.5-79.5h0m0 63h0m0-43h0m0-136.5h0m0 199h0m0.5-33h0m0-23h0m0-22.5h0m0-116.5h0m0-5h0m0 229.5h0m0.5-121h0m0 18h0m0 26.5h0m0-138.5h0m0 3h0m0.5 91h0m0-103.5h0m0 218h0m0-198.5h0m0 131h0m0-146.5h0m0 105h0m0 47h0m0.5-27.5h0m0 53.5h0m0-1h0m0 28.5h0m0-193.5h0m0 185.5h0m0.5-85.5h0m0 2.5h0m0 68.5h0m0-205.5h0m0 45h0m0 98h0m0.5 7.5h0m0 30.5h0m0-23.5h0m0-116h0m0 98h0m0-99.5h0m0 187.5h0m0-56.5h0m0.5 46.5h0m0-13.5h0m0.5-42h0m0-109.5h0m0-41.5h0m0 209.5h0m0-66.5h0m0 32h0m0.5 7.5h0m0-9h0m0.5 98h0m0-252h0m0 17h0m0 128.5h0m0-161.5h0m0.5 35.5h0m0 141h0m0-37.5h0m0-23.5h0m0.5 35.5h0m0-140.5h0m0 205h0m0-198h0m0.5 215.5h0m0-204.5h0m0 169h0m0-12.5h0m0-55h0m0 56h0m0-11h0m0-25.5h0m0.5-129h0m0-15h0m0 121h0m0 5.5h0m0 59h0m0-20.5h0m0 31h0m0-196.5h0m0 191.5h0m0.5 36.5h0m0-73h0m0-49h0m0-3h0m0 55.5h0m0-29.5h0m0 33h0m0-16h0m0-126h0m0 176.5h0m0-81h0m0.5-121.5h0m0 145.5h0m0 16h0m0.5-22h0m0-149h0m0 134.5h0m0-23.5h0m0 54h0m0.5-157.5h0m0 106h0m0.5-90.5h0m0 17.5h0m0-4h0m0 81.5h0m0.5-99h0m0 102.5h0m0-104.5h0m0.5 139.5h0m0 3h0m0-151.5h0m0 157.5h0m0-139h0m0 158h0m0.5-61h0m0 4.5h0m0 90h0m0-65h0m0-105.5h0m0-15.5h0m0 147.5h0m0-167.5h0m0 31.5h0m0.5 186h0m0-7.5h0m0-89.5h0m0.5 58h0m0-152h0m0 178h0m0-22h0m0-172h0m0 24.5h0m0.5 89h0m0 35h0m0-29.5h0m0 24.5h0m0 8h0m0-120.5h0m0 160h0m0 32.5h0m0.5-107.5h0m0 6h0m0 4h0m0-98h0m0 274.5h0m0-268.5h0m0.5-14.5h0m0 139h0m0 47h0m0-166h0m0 150.5h0m0 35.5h0m0-217.5h0m0 174.5h0m0-144.5h0m0.5 158h0m0-10.5h0m0-52h0m0 20.5h0m0-14.5h0m0 103.5h0m0.5-232h0m0 191.5h0m0-9h0m0.5-22.5h0m0-127.5h0m0 107h0m0 35.5h0m0.5-24h0m0-33.5h0m0 48.5h0m0-141.5h0m0 130h0m0.5-10h0m0 109h0m0-77h0m0-6h0m0-45h0m0-134h0m0.5 36.5h0m0-15h0m0 172h0m0.5-175h0m0 124.5h0m0 15.5h0m0.5 79h0m0-29.5h0m0-68.5h0m0-109h0m0-5.5h0m0-11h0m0 180h0m0-202.5h0m0.5 170.5h0m0-156h0m0 99h0m0-93.5h0m0 85.5h0m0 17.5h0m0 32h0m0-22.5h0m0.5 49h0m0-6.5h0m0-64h0m0-106.5h0m0 123h0m0-138h0m0-3h0m0 10h0m0 14.5h0m0.5 85.5h0m0 41.5h0m0 25.5h0m0-75.5h0m0 28h0m0 3h0m0.5 4.5h0m0-22.5h0m0 43h0m0-36.5h0m0-19h0m0-105h0m0 123h0m0.5-99h0m0-11h0m0.5-17h0m0 119h0m0-4h0m0 18.5h0m0-123h0m0.5 168.5h0m0.5 8h0m0-164.5h0m0.5 130.5h0m0 5h0m0-15.5h0m0 6h0m0-99.5h0m0 117.5h0m0.5-125.5h0m0 121.5h0m0-127h0m0 135h0m0.5 7h0m0.5 18h0m0-57h0m0-94h0m0 77h0m0-114h0m0 94.5h0m0 4.5h0m0 25h0m0.5-138.5h0m0 22h0m0 125h0m0 7h0m0-35h0m0.5 15h0m0-95h0m0-13.5h0m0 81.5h0m0-73h0m0-23.5h0m0-6.5h0m0.5 121h0m0-21h0m0-96.5h0m0.5-11.5h0m0 176h0m0-62h0m0 94h0m0-161.5h0m0 134.5h0m0-13h0m0.5-144.5h0m0 162.5h0m0-41h0m0-21.5h0m0-88h0m0.5 83.5h0m0 2.5h0m0 39h0m0 35h0m0-18h0m0-118.5h0m0.5 106h0m0 33h0m0-43.5h0m0 16.5h0m0-146h0m0.5 132.5h0m0-107h0m0 78h0m0 65.5h0m0-174.5h0m0.5 131h0m0 39h0m0-127.5h0m0 173.5h0m0.5-59.5h0m0-124.5h0m0 87h0m0-3h0m0.5-116h0m0 183h0m0-71.5h0m0-91.5h0m0 103h0m0.5-87.5h0m0-9.5h0m0-3h0m0 139h0m0 23.5h0m0-173h0m0.5 133.5h0m0-128.5h0m0-7.5h0m0 171h0m0.5 66h0m0-45.5h0m0.5 13.5h0m0-44h0m0-19h0m0-101h0m0 0.5h0m0-6.5h0m0.5 146.5h0m0-24.5h0m0-39h0m0 13.5h0m0-8h0m0 14h0m0 32h0m0-150.5h0m0 19.5h0m0.5 127h0m0 18h0m0-3.5h0m0-33h0m0-101h0m0-4.5h0m0.5 86h0m0-117h0m0 247h0m0-218h0m0 6h0m0-1.5h0m0 162h0m0.5-172h0m0-6.5h0m0 2h0m0-7h0m0 127.5h0m0-114.5h0m0.5-32h0m0 190h0m0-18h0m0-189h0m0 167h0m0-162.5h0m0.5 22.5h0m0 3.5h0m0 92h0m0-113.5h0m0 25.5h0m0.5 99.5h0m0 45.5h0m0-51.5h0m0 44h0m0-63h0m0 83h0m0-181h0m0.5 138h0m0 10h0m0-139h0m0.5 227h0m0-135.5h0m0 8h0m0 35.5h0m0.5-169.5h0m0 165h0m0.5-158h0m0 207.5h0m0-185h0m0 102.5h0m0-12.5h0m0-108.5h0m0 7h0m0 129.5h0m0 5h0m0.5-15h0m0 72.5h0m0-54h0m0 35.5h0m0.5-201h0m0 15.5h0m0 113.5h0m0 81.5h0m0-11.5h0m0-6h0m0-189.5h0m0.5 184.5h0m0-13.5h0m0-151h0m0 146h0m0.5-129.5h0m0-19.5h0m0 9.5h0m0 5h0m0-34.5h0m0 212.5h0m0-27h0m0.5-141h0m0 7.5h0m0 153.5h0m0-51h0m0-5.5h0m0-102.5h0m0 95.5h0m0 37.5h0m0-123.5h0m0.5-6.5h0m0 185h0m0-174.5h0m0.5 135.5h0m0-48.5h0m0 23.5h0m0-8h0m0.5 15.5h0m0 50h0m0 20.5h0m0.5-59.5h0m0-164h0m0 187.5h0m0-29h0m0 21h0m0-52h0m0-99h0m0.5 167h0m0-61h0m0 40.5h0m0.5-34.5h0m0 60.5h0m0-19h0m0 87h0m0-251.5h0m0.5 143h0m0-12h0m0-151.5h0m0.5 5.5h0m0 3.5h0m0 8.5h0m0.5-4.5h0m0-17h0m0 176.5h0m0-40.5h0m0 60.5h0m0-69.5h0m0-106h0m0 131h0m0-121.5h0m0.5 125h0m0-116.5h0m0.5 143h0m0-166.5h0m0 116.5h0m0 30h0m0.5-2h0m0 12.5h0m0-129h0m0 169h0m0-34h0m0-2h0m0.5 23h0m0 37.5h0m0 21h0m0-65h0m0-188h0m0 22.5h0m0 117.5h0m0.5 60h0m0-55h0m0 61h0m0-24h0m0-63h0m0-88h0m0 133h0m0.5-130h0m0-29h0m0 20.5h0m0 99.5h0m0.5 9h0m0-24h0m0 2h0m0 87h0m0-52h0m0.5 38h0m0-153.5h0m0 83.5h0m0-121.5h0m0 143.5h0m0-140.5h0m0 103h0m0.5-79.5h0m0-14h0m0 102h0m0 103.5h0m0.5-31.5h0m0 21h0m0-187.5h0m0 123h0m0 42h0m0 5h0m0.5-89.5h0m0 61.5h0m0-138.5h0m0 112.5h0m0.5 22.5h0m0-48h0m0 39.5h0m0.5-151h0m0 17h0m0-5.5h0m0.5 88h0m0-103.5h0m0 13h0m0 99.5h0m0 8h0m0-116h0m0 127.5h0m0 22h0m0.5 30h0m0-55.5h0m0-94.5h0m0 144.5h0m0.5-170.5h0m0 163h0m0-60h0m0-71h0m0 104.5h0m0-22h0m0.5 4h0m0 8.5h0m0 4h0m0 37.5h0m0.5-148.5h0m0 132.5h0m0-115.5h0m0-14.5h0m0.5 184h0m0-56.5h0m0-119.5h0m0 113h0m0-103.5h0m0-7h0m0.5 183.5h0m0-41h0m0-30h0m0-11h0m0 22.5h0m0 33h0m0-51h0m0-113h0m0 153h0m0-169h0m0 150h0m0 51.5h0m0.5-167h0m0-28.5h0m0 154h0m0 11h0m0.5 11h0m0 26h0m0 72.5h0m0-239.5h0m0.5-1.5h0m0 6h0m0 121.5h0m0-120.5h0m0 153.5h0m0.5 11.5h0m0-28.5h0m0 8h0m0 2h0m0-12h0m0.5-26h0m0 64h0m0-6.5h0m0.5-49h0m0-142h0m0 29.5h0m0 190h0m0-239h0m0 174.5h0m0-145.5h0m0.5 181.5h0m0 10.5h0m0-196.5h0m0 19.5h0m0-38.5h0m0 199h0m0-17h0m0.5 95h0m0-25h0m0-65.5h0m0 53.5h0m0-205h0m0 99.5h0m0 84h0m0-213.5h0m0 131.5h0m0-144h0m0 158h0m0.5-22.5h0m0 63h0m0-161h0m0 96.5h0m0-132.5h0m0 15h0m0 177.5h0m0.5-64.5h0m0-4.5h0m0.5 124h0m0-98h0m0-155h0m0 27h0m0 138h0m0.5-163.5h0m0 212.5h0m0-23h0m0-168.5h0m0 129h0m0 26.5h0m0-140.5h0m0.5 168.5h0m0 34h0m0-80h0m0.5 16.5h0m0-144.5h0m0 110.5h0m0 24h0m0-41.5h0m0 3.5h0m0 55h0m0-174.5h0m0.5 164h0m0-1.5h0m0-34.5h0m0-122h0m0 170.5h0m0-145h0m0.5-7.5h0m0 195h0m0.5-25.5h0m0-184.5h0m0 129h0m0.5 5.5h0m0-126.5h0m0-16h0m0 215h0m0-233h0m0.5 146h0m0 68.5h0m0 7.5h0m0-32h0m0-153.5h0m0.5 97h0m0 73.5h0m0-25.5h0m0-45h0m0-92h0m0 120.5h0m0.5 44.5h0m0-40.5h0m0 35h0m0-53h0m0.5 10h0m0 6.5h0m0 18h0m0-156h0m0-18.5h0m0 166.5h0m0-35h0m0.5 97h0m0-190.5h0m0 147h0m0 119h0m0-295h0m0 109.5h0m0.5 43.5h0m0 55.5h0m0-72h0m0-117h0m0-30.5h0m0 196h0m0.5-41h0m0-13h0m0-24h0m0 17h0m0-126h0m0 175h0m0-170h0m0.5 99h0m0 26h0m0.5 34.5h0m0-154.5h0m0 5h0m0-10h0m0.5 134h0m0 16.5h0m0 28h0m0-161h0m0.5 148.5h0m0-69.5h0m0 57.5h0m0-38.5h0m0-124h0m0.5 110.5h0m0-3h0m0.5 12h0m0 21.5h0m0-147h0m0 135.5h0m0 3h0m0-110h0m0.5 8h0m0.5 140h0m0 11h0m0-156.5h0m0-22.5h0m0 151h0m0-147h0m0 129h0m0.5-122h0m0 133h0m0 18h0m0.5 11.5h0m0-62.5h0m0-96.5h0m0 164.5h0m0-167h0m0.5 165h0m0 19h0m0-79h0m0 5h0m0-91.5h0m0 124h0m0.5-158h0m0.5 170.5h0m0-40.5h0m0-125h0m0 158h0m0 97h0m0.5-119.5h0m0-112h0m0 11.5h0m0 105.5h0m0 10h0m0-145h0m0 9h0m0.5 100.5h0m0 27h0m0-108.5h0m0 3.5h0m0 85h0m0.5 38.5h0m0 9h0m0.5-23h0m0-18h0m0-110.5h0m0.5 219.5h0m0-65h0m0 3.5h0m0 15h0m0 68h0m0.5-124.5h0m0-92.5h0m0-12h0m0-4h0m0 163.5h0m0-44.5h0m0.5 33.5h0m0 145h0m0-170h0m0-16h0m0-127.5h0m0 153h0m0.5-40h0m0-80.5h0m0-25h0m0 112.5h0m0.5 20.5h0m0-118h0m0 158.5h0m0-152.5h0m0-3.5h0m0.5 126.5h0m0-160h0m0 192.5h0m0 49.5h0m0-220h0m0 93.5h0m0-6h0m0 54h0m0.5-8h0m0-152h0m0 162h0m0 49.5h0m0-107.5h0m0.5 15.5h0m0 70.5h0m0-165.5h0m0 149h0m0.5-60h0m0-103h0m0 6.5h0m0-21.5h0m0 147.5h0m0 27.5h0m0-81.5h0m0 2.5h0m0-86h0m0 102h0m0.5 29.5h0m0-135h0m0 133h0m0-53.5h0m0-96h0m0 114h0m0-12h0m0 10.5h0m0-15h0m0.5 47h0m0-173h0m0.5 192h0m0-5h0m0-20h0m0-11h0m0.5 55h0m0-78.5h0m0-94.5h0m0-5.5h0m0.5 97.5h0m0 11.5h0m0-91.5h0m0 76h0m0 37h0m0-3h0m0.5-9h0m0-14h0m0-80h0m0-31.5h0m0.5 146.5h0m0 11h0m0-5h0m0 20h0m0.5 28.5h0m0-185.5h0m0 118h0m0-12.5h0m0-83.5h0m0.5 155.5h0m0-184h0m0 171h0m0-11.5h0m0.5 0.5h0m0 19.5h0m0-16h0m0 27.5h0m0.5-174.5h0m0 8h0m0 76.5h0m0 117h0m0-85.5h0m0.5-27h0m0 57.5h0m0-26.5h0m0-125.5h0m0 107.5h0m0 6.5h0m0-103.5h0m0.5-26h0m0 132h0m0 24h0m0-8.5h0m0.5-5h0m0-152.5h0m0 21h0m0.5 12h0m0 76h0m0-123.5h0m0 208.5h0m0-167h0m0.5-9h0m0 115.5h0m0-4h0m0-22.5h0m0.5-101h0m0 116.5h0m0-137h0m0 155.5h0m0.5-37h0m0 58h0m0-153h0m0 91h0m0.5 26h0m0-131h0m0 18h0m0-20.5h0m0 114h0m0-3h0m0.5 32h0m0-23.5h0m0-110.5h0m0 101h0m0 18h0m0-98.5h0m0.5 94.5h0m0-111h0m0 103h0m0 35.5h0m0 4h0m0 5h0m0 46.5h0m0-37.5h0m0.5 28h0m0-150h0m0.5 88h0m0 26.5h0m0-126.5h0m0.5 162h0m0-145.5h0m0 114h0m0-141h0m0.5 108.5h0m0-96.5h0m0 6h0m0-12h0m0 115h0m0.5 44h0m0.5-67h0m0 28h0m0-27.5h0m0-93.5h0m0 144h0m0 11.5h0m0-46.5h0m0 37.5h0m0-147.5h0m0 22.5h0m0.5-34.5h0m0 31h0m0 108.5h0m0 33h0m0-137h0m0-11h0m0.5 88.5h0m0 39.5h0m0-109.5h0m0 106.5h0m0-105.5h0m0 81h0m0 5h0m0-81h0m0 126.5h0m0 7.5h0m0.5-136.5h0m0 131.5h0m0.5 6.5h0m0-144.5h0m0-20h0m0 183.5h0m0-159.5h0m0 118h0m0.5-108.5h0m0-25h0m0 131h0m0-99.5h0m0-4h0m0 107.5h0m0.5-19h0m0 65h0m0.5-72h0m0 2h0m0.5-82h0m0 136h0m0-25h0m0.5 70.5h0m0-91.5h0m0 24.5h0m0-150h0m0 8h0m0 92h0m0 85h0m0-198h0m0.5 207.5h0m0-63.5h0m0 26h0m0-130h0m0 69h0m0 15.5h0m0.5 64.5h0m0-35.5h0m0-24.5h0m0-11h0m0-10h0m0-83h0m0.5 78h0m0-75h0m0-10h0m0-10.5h0m0 148h0m0.5-8.5h0m0-25h0m0.5-25h0m0-88h0m0 90.5h0m0-67.5h0m0.5 82.5h0m0-79.5h0m0-12.5h0m0 88.5h0m0 64.5h0m0.5-43h0m0-144.5h0m0 132.5h0m0 48.5h0m0.5-141h0m0 113h0m0-6h0m0-44.5h0m0 36h0m0-94.5h0m0.5 61.5h0m0-72.5h0m0-7h0m0-9.5h0m0-9h0m0 129.5h0m0-43h0m0 23.5h0m0.5-17.5h0m0-92h0m0 4.5h0m0.5-9.5h0m0 146h0m0-119h0m0.5 58h0m0-87h0m0 122.5h0m0-33h0m0.5-105h0m0 36h0m0 74.5h0m0 18h0m0.5-108h0m0.5 103.5h0m0-10.5h0m0-81h0m0 75h0m0 48.5h0m0-13h0m0.5-113.5h0m0 15h0m0 176h0m0-181.5h0m0 73.5h0m0 6h0m0.5-93.5h0m0 85h0m0 38.5h0m0.5-97.5h0m0 110.5h0m0-109.5h0m0.5 83.5h0m0.5 44h0m0-27.5h0m0-21h0m0.5 55.5h0m0-30.5h0m0-99.5h0m0-14.5h0m0 146h0m0-129.5h0m0 2.5h0m0 65h0m0.5-89.5h0m0 129h0m0-26.5h0m0 34.5h0m0.5-148h0m0-3h0m0 26.5h0m0 133h0m0 13h0m0.5-72.5h0m0 22h0m0-94.5h0m0.5 109h0m0-103h0m0-24.5h0m0.5 84.5h0m0-87h0m0 90.5h0m0-73.5h0m0 68h0m0 59h0m0-24.5h0m0 22h0m0 42.5h0m0-70.5h0m0.5-125.5h0m0-20.5h0m0.5 17h0m0 126h0m0-6h0m0 19h0m0-35.5h0m0 14h0m0.5-132h0m0 27.5h0m0.5 143h0m0-135.5h0m0 86.5h0m0 16h0m0.5 51h0m0-10h0m0-139h0m0 157h0m0-38h0m0 8h0m0-109.5h0m0 157h0m0-85.5h0m0 153h0m0-237h0m0.5 91h0m0-129.5h0m0 45.5h0m0-35h0m0 114h0m0.5 3.5h0m0 53.5h0m0-143h0m0 81.5h0m0-79h0m0-18.5h0m0 134h0m0-17h0m0 46.5h0m0.5 15.5h0m0-203.5h0m0 28h0m0 7h0m0-2.5h0m0.5-14.5h0m0 128h0m0 33h0m0 15h0m0-189.5h0m0 211h0m0.5-195h0m0 250h0m0-134h0m0 38.5h0m0-141h0m0 24h0m0 142.5h0m0.5-141.5h0m0 6.5h0m0 152h0m0-165.5h0m0.5 110.5h0m0 4.5h0m0-16h0m0.5 66.5h0m0-171h0m0 139h0m0-128h0m0.5 148h0m0-47.5h0m0-11h0m0-6h0m0.5-73h0m0 120.5h0m0.5-126h0m0-20h0m0 140.5h0m0.5-16.5h0m0-140.5h0m0 36.5h0m0 3h0m0 103.5h0m0 8h0m0-21h0m0-117h0m0 92h0m0-102.5h0m0.5 3.5h0m0 161.5h0m0-135.5h0m0.5-20.5h0m0 86.5h0m0 60.5h0m0-166h0m0 126.5h0m0-123h0m0.5 30.5h0m0 83.5h0m0 41h0m0-128.5h0m0 81h0m0.5 18h0m0 58.5h0m0-203h0m0 116h0m0.5 12.5h0m0-88.5h0m0 1h0m0 120h0m0-12.5h0m0.5 31h0m0 52h0m0-72.5h0m0-140.5h0m0 95.5h0m0.5 53.5h0m0-132h0m0 99.5h0m0-102.5h0m0 130.5h0m0.5-7h0m0.5 41.5h0m0-23.5h0m0-35.5h0m0 11.5h0m0-130.5h0m0.5 28.5h0m0 5h0m0 65.5h0m0-89h0m0-6h0m0 33.5h0m0 69.5h0m0 67.5h0m0-70h0m0.5-98h0m0 178.5h0m0-57.5h0m0 78.5h0m0-192.5h0m0.5 25h0m0 140h0m0.5-133.5h0m0 91.5h0m0-15.5h0m0 9.5h0m0 11.5h0m0-28.5h0m0-109h0m0 118.5h0m0-11.5h0m0.5-88.5h0m0 143.5h0m0-123.5h0m0 146.5h0m0-138.5h0m0-11.5h0m0 130.5h0m0.5-4h0m0-139.5h0m0 22.5h0m0-15h0m0 123.5h0m0.5-138.5h0m0 11h0m0 187.5h0m0-163h0m0.5 98.5h0m0-99.5h0m0 150h0m0 23.5h0m0-81.5h0m0 61.5h0m0-57.5h0m0.5 12h0m0 39h0m0-151h0m0.5 88.5h0m0 11.5h0m0-8h0m0.5-11.5h0m0 34h0m0-29h0m0 47h0m0.5-57h0m0-90.5h0m0 10.5h0m0-29h0m0 162h0m0-157.5h0m0 153.5h0m0.5-17.5h0m0-129h0m0 180h0m0-36h0m0-52.5h0m0.5 34.5h0m0-116.5h0m0-24h0m0.5 155h0m0 114h0m0-265h0m0.5 3.5h0m0 21.5h0m0 72h0m0.5 6.5h0m0-95.5h0m0 121h0m0.5-3h0m0-109.5h0m0-2h0m0 79.5h0m0-66.5h0m0 94h0m0.5 64h0m0-36.5h0m0-33.5h0m0 45.5h0m0-15h0m0-49h0m0 14h0m0 28.5h0m0.5-107.5h0m0 101.5h0m0-122.5h0m0.5-23h0m0 155h0m0-36h0m0 21h0m0.5-91.5h0m0-1h0m0-11.5h0m0 132.5h0m0.5-2.5h0m0-18h0m0-35h0m0-110.5h0m0 17h0m0.5-6.5h0m0 33.5h0m0-15h0m0.5 17.5h0m0-6h0m0 82h0m0.5 39h0m0-150h0m0 162.5h0m0-8.5h0m0.5-36.5h0m0 11h0m0-143.5h0m0 124h0m0-5.5h0m0.5-83h0m0 71h0m0-77.5h0m0.5-18.5h0m0 127.5h0m0-34.5h0m0-64.5h0m0.5 96.5h0m0-105h0m0-9.5h0m0 108.5h0m0-150.5h0m0 48h0m0 84.5h0m0.5-103.5h0m0-26h0m0 172h0m0-56.5h0m0.5 85.5h0m0-78.5h0m0 25.5h0m0-113h0m0-15h0m0 4.5h0m0-10.5h0m0.5 147h0m0-118.5h0m0 96.5h0m0.5 40.5h0m0-52h0m0 43h0m0-39.5h0m0-100.5h0m0.5-23h0m0 106.5h0m0-89.5h0m0 13h0m0 95h0m0 50.5h0m0.5-66h0m0-88h0m0 159.5h0m0-44h0m0 20.5h0m0.5-29.5h0m0.5 57h0m0-141h0m0 101.5h0m0 5h0m0-138.5h0m0.5 13.5h0m0 172.5h0m0-159.5h0m0 115h0m0-106.5h0m0.5 87h0m0-18h0m0.5 42.5h0m0-163.5h0m0.5 23.5h0m0 222.5h0m0-112.5h0m0 39h0m0.5 11.5h0m0-37.5h0m0-108h0m0 141h0m0-173h0m0.5 175.5h0m0-150.5h0m0 118.5h0m0-103.5h0m0 79.5h0m0 81.5h0m0.5-3.5h0m0-37h0m0-117h0m0 5h0m0-18.5h0m0 134h0m0-137h0m0.5 108.5h0m0-98h0m0 146h0m0-165.5h0m0 150.5h0m0.5-45h0m0 7.5h0m0-14.5h0m0 32.5h0m0 50h0m0-21h0m0-157.5h0m0.5 33.5h0m0 138.5h0m0-4.5h0m0-50.5h0m0.5-11.5h0m0 27h0m0-90.5h0m0.5 128.5h0m0-31.5h0m0-16h0m0-79.5h0m0 103.5h0m0-133h0m0.5 17h0m0 8h0m0 73.5h0m0 39h0m0.5 56.5h0m0-72.5h0m0.5-92.5h0m0-3.5h0m0-15.5h0m0.5 5.5h0m0 98.5h0m0 16h0m0-124.5h0m0 162h0m0-16.5h0m0-45.5h0m0 56h0m0-161h0m0.5 20.5h0m0.5-31.5h0m0 169h0m0-33h0m0-118h0m0 85.5h0m0-7.5h0m0.5-90.5h0m0 17.5h0m0 66h0m0 2.5h0m0-99h0m0 9h0m0 12h0m0 68.5h0m0 68.5h0m0-67.5h0m0.5-110.5h0m0 126.5h0m0 31h0m0-44h0m0.5 69.5h0m0-44h0m0-2h0m0.5-30.5h0m0-3h0m0.5 69.5h0m0-25h0m0-134h0m0 20.5h0m0.5-10h0m0 96h0m0 40.5h0m0-59.5h0m0-91.5h0m0.5 125.5h0m0-116h0m0 151.5h0m0.5-65.5h0m0-95h0m0 94h0m0 23.5h0m0 16h0m0-33.5h0m0.5-84h0m0 91h0m0 48.5h0m0.5-122.5h0m0-24h0m0 21.5h0m0.5 81.5h0m0-7.5h0m0 24.5h0m0-23h0m0 43h0m0 62h0m0-174.5h0m0 85h0m0.5-96h0m0 18.5h0m0 72.5h0m0-95.5h0m0 120h0m0-101h0m0 5.5h0m0.5 99.5h0m0 33h0m0-127h0m0 124.5h0m0.5-126h0m0 117h0m0-118.5h0m0 89h0m0 52.5h0m0 52.5h0m0-46.5h0m0.5-28.5h0m0-33.5h0m0-92h0m0 133.5h0m0 11h0m0-32.5h0m0.5 58h0m0-207h0m0 194h0m0-26.5h0m0-120h0m0-2.5h0m0-12.5h0m0.5 141.5h0m0 20h0m0-142.5h0m0 104h0m0 17.5h0m0-132h0m0 80h0m0 32.5h0m0.5-145.5h0m0 7h0m0 193.5h0m0-179.5h0m0.5-5h0m0-4.5h0m0 123h0m0 44h0m0-160h0m0-24.5h0m0 106.5h0m0.5-92.5h0m0 96h0m0-118.5h0m0 133h0m0-116.5h0m0 94.5h0m0-109h0m0 170.5h0m0.5-18h0m0 2h0m0-18h0m0-142h0m0 149.5h0m0-3h0m0-45.5h0m0 106.5h0m0-101h0m0.5-91.5h0m0-21.5h0m0 114.5h0m0 21h0m0 82h0m0-190h0m0 92h0m0.5-124h0m0 135.5h0m0.5-129.5h0m0 102h0m0 71h0m0-37h0m0.5 8h0m0 61h0m0-81h0m0.5 71h0m0-185.5h0m0-5h0m0.5 119h0m0-102.5h0m0 94.5h0m0-10h0m0-81.5h0m0 145h0m0-59.5h0m0-0.5h0m0 3.5h0m0-99.5h0m0 136.5h0m0.5-10h0m0-104h0m0 143.5h0m0-160.5h0m0 19.5h0m0 122.5h0m0 3.5h0m0.5-171.5h0m0 125.5h0m0 65.5h0m0-138h0m1-14h0m0 89h0m0 67.5h0m0 9h0m0-59.5h0m0-110h0m0 31h0m0-4.5h0m0-11h0m0 111.5h0m0 2.5h0m0.5-26h0m0-4h0m0 73h0m0-150h0m0-12.5h0m0.5 26.5h0m0 105h0m0-102h0m0 1h0m0.5 78h0m0 26.5h0m0-38.5h0m0 16h0m0 11h0m0 54h0m0.5-63.5h0m0-79.5h0m0 73.5h0m0-5.5h0m0.5 3h0m0-97h0m0.5 29h0m0 190.5h0m0-89h0m0 17h0m0-130h0m0 147h0m0-35h0m0 28h0m0.5-190.5h0m0 21.5h0m0.5 131.5h0m0 78h0m0-101h0m0-74.5h0m0 139h0m0-148h0m0-22.5h0m0 89.5h0m0.5-75h0m0 139h0m0-29.5h0m0-105h0m0 158.5h0m0-59.5h0m0.5-100.5h0m0-12.5h0m0 73h0m0-85.5h0m0-11h0m0 208.5h0m0-203.5h0m0 99.5h0m0.5-94.5h0m0 107.5h0m0-20h0m0 77h0m0-79.5h0m0.5 57h0m0-164h0m0 123.5h0m0-99h0m0-19h0m0-13h0m0.5 109.5h0m0 46.5h0m0-49h0m0.5-92h0m0 24.5h0m0 111h0m0-122h0m0 93h0m0.5-85h0m0 96h0m0 7.5h0m0.5-11.5h0m0-15h0m0 33.5h0m0-148h0m0 122h0m0 50h0m0-123h0m0-72h0m0.5 213h0m0-170h0m0 145.5h0m0 24h0m0-180.5h0m0 151.5h0m0-42.5h0m0.5 6.5h0m0-79.5h0m0 9h0m0-32h0m0.5 153.5h0m0-8h0m0-23h0m0 52.5h0m0.5-158h0m0 141.5h0m0-159.5h0m0 132.5h0m0 36h0m0-163h0m0.5 103.5h0m0-96h0m0 150.5h0m0-48.5h0m0.5 34.5h0m0-18.5h0m0-94.5h0m0-12.5h0m0-5h0m0 116.5h0m0.5 40.5h0m0-143h0m0-23.5h0m0 171h0m0.5-61.5h0m0-79.5h0m0 103.5h0m0.5-5h0m0 19.5h0m0-114h0m0-15.5h0m0 18.5h0m0.5 101h0m0 41h0m0-26h0m0.5 35h0m0-153h0m0.5-1.5h0m0-3h0m0 86.5h0m0-22.5h0m0-72.5h0m0.5-11h0m0 87h0m0-105.5h0m0 118.5h0m0.5 11.5h0m0-20h0m0 59h0m0-136h0m0 105.5h0m0-125.5h0m0 137h0m0-139h0m0.5 132h0m0-141h0m0.5 99h0m0 24h0m0-131h0m0.5 120.5h0m0-91h0m0-31h0m0 28.5h0m0-23.5h0m0 168h0m0.5 2h0m0-32.5h0m0 21.5h0m0-8h0m0-122h0m0 93.5h0m0 51h0m0.5-10h0m0-49.5h0m0.5-104.5h0m0 7.5h0m0 161h0m0-1h0m0-23h0m0-152.5h0m0 131h0m0.5-16.5h0m0-21h0m0 25.5h0m0 3h0m0-29h0m0.5-77.5h0m0 125.5h0m0-43h0m0.5-117.5h0m0 23h0m0 105.5h0m0 20h0m0-140h0m0.5 203.5h0m0-88.5h0m0 60.5h0m0 20h0m0-39h0m0-6.5h0m0.5-131h0m0 143h0m0-131.5h0m0-9h0m0.5 16h0m0-2.5h0m0 76h0m0 53h0m0-132h0m0 23.5h0m0-1.5h0m0.5 91h0m0-12.5h0m0 8h0m0-83.5h0m0 111.5h0m0-125.5h0m0 3.5h0m0 88.5h0m0.5-84h0m0-26h0m0 15.5h0m0 23.5h0m0.5 20h0m0-15h0m0 101h0m0 11h0m0-110.5h0m0-16h0m0 0.5h0m0.5 146h0m0-128.5h0m0 2h0m0 99h0m0-19h0m0 11h0m0-63h0m0 4.5h0m0 56.5h0m0 27h0m0-97.5h0m0.5 91h0m0-25.5h0m0.5-82.5h0m0 16.5h0m0 30.5h0m0 56h0m0.5 7h0m0-58h0m0-9.5h0m0 8h0m0.5 48.5h0m0-77h0m0 14h0m0 88h0m0.5-77h0m0 11h0m0 60h0m0-77.5h0m0.5-8.5h0m0-6h0m0 12h0m0 125.5h0m0-91.5h0m0 62h0m0 9h0m0.5-3h0m0-76h0m0-15.5h0m0 28h0m0-9h0m0 12h0m0 49.5h0m0.5 10h0m0-9h0m0 26h0m0-8.5h0m0.5 2.5h0m0-96.5h0m0 107h0m0-6.5h0m0-60.5h0m0.5-7.5h0m0 80h0m0-66.5h0m0 50h0m0.5 20h0m0-62h0m0 65.5h0m0 9h0m0-87.5h0m0.5 19.5h0m0-9h0m0 16h0m0 55.5h0m0-58h0m0 60.5h0m0.5-87.5h0m0 102.5h0m0-70h0m0 61.5h0m0.5-13h0m0.5 17.5h0m0 18.5h0m0-4.5h0m0-29h0m0 27h0m0.5-6.5h0m0-17h0m0-55h0m0.5-1.5h0m0-19.5h0m0 29h0m0-16h0m0-3.5h0m0-5h0m0.5 20.5h0m0 13.5h0m0 56.5h0m0 21.5h0m0-82.5h0m0 54.5h0m0.5-3.5h0m0 18h0m0-21h0m0.5-40.5h0m0 69.5h0m0-82h0m0-22.5h0m0.5 120.5h0m0-95h0m0 6h0m0.5 54h0m0-34h0m0.5-4h0m0-9h0m0 4h0m0-15h0m0.5 71h0m0-6.5h0m0 11h0m0-55.5h0m0 9.5h0m0-1.5h0m0.5 5h0m0-1h0m0 55.5h0m0-65h0m0 79h0m0-94h0m0.5 18.5h0m0 54.5h0m0 3.5h0m0-55h0m0.5 14h0m0-7h0m0.5 3.5h0m0 86.5h0m0-28h0m0-2h0m0-50h0m0.5 47.5h0m0-43.5h0m0.5 4h0m0 2h0m0-13h0m0 89h0m0-28.5h0m0 21h0m0-10.5h0m0-8h0m0-42.5h0m0 63.5h0m0-16.5h0m1-42.5h0m0-9h0m0 14.5h0m0 60h0m0-15h0m0.5-51.5h0m0 14h0m0 4.5h0m0.5-2.5h0m0-5h0m0 42h0m0-55h0m0 81.5h0m0.5 6h0m0-81h0m0.5 17.5h0m0.5 50.5h0m0-3h0m0-41h0m0.5 35.5h0m0 9.5h0m0-42h0m0-6.5h0m0 43.5h0m0 2.5h0m0-29h0m0.5 34h0m0-43.5h0m0 13h0m0.5-8h0m0.5 11h0m0 32.5h0m0.5 6h0m0.5-31.5h0m0 30.5h0m0 6h0m0.5-32.5h0m0.5 27.5h0m0-24h0m1 15.5h0m0-20h0m0.5-7h0m0.5-6h0m0 28.5h0m0.5-1.5h0m0.5 11h0m0.5-41h0m0.5 3.5h0m0.5 9h0m0-3h0m0 1.5h0m0 24h0m0-29h0m0.5 12h0m0 23h0m0-20.5h0m0.5 16.5h0m0-11h0m0 19.5h0m0-23h0m1 26.5h0m1-30.5h0m0 4.5h0m0.5 1.5h0m0 26h0m0.5-20h0m0 13.5h0m1-31h0m0 39.5h0m0.5-23.5h0m1.5 3h0m0-12h0m0.5 24.5h0m0.5 6h0m0-3h0m0 6h0m0.5-29h0m0-7.5h0m1 10.5h0m0 3.5h0m1-9h0m0 21.5h0m0.5-5.5h0m0-25h0m0 22h0m0-31h0m0.5 36.5h0m0.5-26h0m0.5 26h0m0.5-23h0m0 34.5h0m0-27h0m0.5 23h0m0-18h0m0 16.5h0m0.5-27h0m0.5 2.5h0m0 12h0m0.5 20h0m0-16.5h0m0 19.5h0m1-3.5h0m1-1.5h0m0.5-23h0m0 4h0m0.5 13.5h0m0-5.5h0m0.5 8.5h0m0.5-21h0m0-2.5h0m0-11h0m0 21h0m0.5-18h0m0 3h0m0.5 26h0m0-35.5h0m0 34h0m1-29h0m0-1h0m0.5-8.5h0m0 26.5h0m0.5-12h0m0-11h0m0.5-4h0m0 31.5h0m1 3.5h0m0-16.5h0m1 5h0m0 0.5h0m0.5 17.5h0m0.5-30.5h0m0 32h0m0-26.5h0m0 31h0m0.5-8h0m0-10h0m0.5 16h0m0 1.5h0m0.5-22h0m0 14.5h0m1-29.5h0m0.5 11h0m0-5.5h0m0 19.5h0m1 2.5h0m0.5-2.5h0m0.5-10.5h0m0.5-12.5h0m0 31.5h0m1-26.5h0m0 29h0m1-16.5h0m0-7.5h0m0 26h0m0-5.5h0m0.5 13.5h0m0.5-38.5h0m0 21.5h0m0.5-27.5h0m1 16h0m0 12h0m0.5-24h0m0 35.5h0m0.5-3.5h0m0-15.5h0m1 13h0m0-20.5h0m0.5 9h0m0.5 19h0m0-21h0m0.5-10.5h0m0.5-17.5h0m0 37h0m0-13h0m0.5-3.5h0m0-11h0m0 4h0m0.5 19h0m0.5 13.5h0m0.5-5.5h0m2-14h0m0.5 16h0m0-5.5h0m0-15.5h0m0.5-4.5h0m1-5h0m0 7h0m0 14.5h0m0.5-10.5h0m0-12h0m1 9.5h0m0 15.5h0m0 1h0m0-8h0m0 2h0m1 11.5h0m0 3.5h0m0.5-32h0m0-5h0m1 16h0m1 2.5h0m0-12h0m0-3.5h0m0.5-5h0m0.5 26.5h0m0-16.5h0m0 17.5h0m0.5-12h0m0-3h0m0 20.5h0m1-15.5h0m0 6h0m0.5 13.5h0m0.5 1h0m0.5 2.5h0m1-12h0m0.5 12h0m0-3.5h0m0.5-20h0m0.5 5h0m0.5 3h0m0.5-3.5h0m1 11.5h0m0-9.5h0m0.5 12.5h0m1-19h0m0.5 9.5h0m0 1.5h0m0 12.5h0m1-1h0m0.5-4h0m1-16h0m0 15h0m0.5-12.5h0m0.5 8.5h0m1 0h0m0.5-15h0m0.5 10h0m1 14.5h0m0-4h0m0.5-7.5h0m0.5-10h0m0.5 4h0m0.5 11.5h0m0.5-10.5h0m0.5 16.5h0m0.5-4.5h0m0-7.5h0m1 12.5h0m1-4h0m1-5.5h0m0.5-3h0m1 15h0m0.5-14h0m0.5 19h0m1-11h0m0.5 6.5h0m0.5-10h0m1.5-1h0m0 7h0m1 2.5h0m0.5-8.5h0m1-0.5h0m0.5 6h0m1.5 3h0m1.5-7h0m0.5 2.5h0m1.5 5.5h0m3-5.5h0m0 7h0m1-2.5h0m1 1h0m1-7h0m1.5 5h0m0 1h0m2.5-1h0m0-5.5h0m0.5 7.5h0m2-0.5h0m1.5-4h0m0.5-2h0m1.5 6h0m1.5 1h0m1.5-0.5h0m0.5-6h0m1.5 5h0m1-4.5h0m0.5 6h0m0.5-5h0m3-0.5h0m0.5 4.5h0m0.5-4.5h0m1.5 0.5h0m0.5 5.5h0m1.5-1.5h0m1-4h0m1 0h0m1.5 5h0m3-0.5h0m0-5.5h0m1 4.5h0m2-5h0m2 4h0m0.5-5.5h0m2 5.5h0m1.5-5h0m1 5h0m1.5-3.5h0m1.5 4.5h0m1.5 1h0m0-5h0m2 4.5h0m0.5-4h0m1-0.5h0m3 4h0m0.5-4h0m2.5-1h0m0.5 5h0m1.5-4h0m2.5 5.5h0m1-1.5h0m0.5-4.5h0m1.5 4.5h0m1-4h0m2 5h0m0.5-5h0m0.5 5h0m1.5-5h0m1.5 5h0m0.5-5h0m0 4.5h0m2 0.5h0m2.5-4.5h0m0.5 4.5h0m0.5-4.5h0m2.5 1h0m0.5 3.5h0m1-3.5h0m1.5-0.5h0m2.5 5h0m0-6.5h0m1.5 1h0m1 4.5h0m1.5-6h0m2.5 6h0m0.5-5h0m0.5 1.5h0m0.5 4h0m3-0.5h0m1-6h0m1.5 5.5h0m1-3.5h0m1.5 4h0m2-5h0m1 0h0m1.5 6h0m2-3.5h0m0 3.5h0m1-5.5h0m2.5 4h0m0-5h0m2 0h0m0.5 5.5h0m2-5h0m0 5h0m1 0h0m1-5h0m2 0h0m0 5.5h0m1.5-6h0m1.5 2.5h0m1.5 4h0m1 0h0m0.5-1.5h0m1-5h0m1.5 5.5h0m2.5-4.5h0m1 4.5h0m1.5-4h0m0 4h0m2-4h0m0 4h0m1.5 0h0m0-5h0m2 0h0m1 5h0m1-0.5h0m0.5-4.5h0m1.5 0.5h0m1.5 3.5h0m1-4h0m2 4.5h0m1-6h0m1.5-2h0m0.5 6.5h0m0.5-10.5h0m0.5 6.5h0m0.5-9h0m0-3.5h0m1-2h0m0.5-1.5h0m0.5-3.5h0m0.5 6.5h0m0.5-3.5h0m0 13.5h0m1-8h0m0 14.5h0m0.5-10h0m0 0.5h0m0.5 6.5h0m0.5 3.5h0m0.5-6.5h0m1.5 8h0m1 0.5h0m1.5-5h0m1.5 5.5h0m1.5-5h0m0.5 4.5h0m2.5 0h0m1 0h0m0.5-6h0m1.5 3h0m1.5 4h0m1.5-5.5h0m2 4.5h0m1.5-4h0m1 5h0m2-6.5h0m1.5 5.5h0m0.5-1.5h0m1-5h0m0 6h0m3-4.5h0m1 4h0m2.5-4.5h0m0.5 4.5h0m2 1h0m0.5-5.5h0m2.5 0.5h0m0.5 5.5h0m1 0.5h0m1.5-5h0m1 4h0m2-5h0m0 4.5h0m1.5 0h0m0-4h0m2-1h0m0.5 0h0m2 4.5h0m1 0.5h0m1-4h0m1.5 4.5h0m0.5-4.5h0m1 4h0m2-3.5h0m0.5 4.5h0m1.5 0h0m1-4h0m2-2h0m0.5 5.5h0m0.5 0h0m2-5h0m2-0.5h0m0.5 5h0m2 0h0m0-4.5h0m1.5 0h0m2 5h0m2 1h0m1.5-5.5h0m1 4.5h0m0.5-4h0m2 3.5h0m0.5-3.5h0m2.5 4h0m1-4.5h0m0.5 4h0m2-4h0m2.5 5h0m0.5-5.5h0m1.5 5.5h0m1.5-4h0m1.5 3.5h0m1-5h0m2 4h0m2-3.5h0m2.5 0h0m0.5 5h0m1 0.5h0m2.5-1h0m0.5-5h0m2 4h0m0.5-3.5h0m0.5 0h0m2-1h0m0.5 5.5h0m2.5-4h0m1 5h0m1-4.5h0m1.5-0.5h0m1 4h0m2.5-0.5h0m0-4.5h0m1-0.5h0m0 5h0m2.5-4.5h0m1 5.5h0m1-5h0m2.5-0.5h0m0 5.5h0m4-4.5h0m0-2h0m1 5.5h0m1.5-3.5h0m2 5h0m1-5h0m2-1h0m1.5 5h0m2-4.5h0m0.5 4.5h0m2.5-6h0m0.5 6h0m2 0h0m1-4h0m2 4.5h0m1-5.5h0m2 0h0m0.5 3.5h0m1.5 0h0m1-3h0m0.5 3.5h0m0.5-3.5h0m1.5 3h0m1-3.5h0m2 5h0m0.5-5h0m2 5h0m2-4.5h0m1 4.5h0m0.5-3h0m2 3.5h0m0.5-5.5h0m1 0.5h0m0.5 4.5h0m2-4h0m0.5 4h0m2 0.5h0m2-4.5h0m2 4.5h0m0.5-2.5h0m1-4h0m1.5 0.5h0m1 5.5h0m3-1h0m0-5h0m1.5-0.5h0m1 6h0m0.5-1h0m2.5-3.5h0m0.5 4h0m1-4h0m2 4.5h0m1-4.5h0m2 4h0m1-4h0m1 5.5h0m1-5.5h0m2-1h0m0.5 4.5h0m1-4h0m1 4.5h0m1.5-4h0m1.5 4h0m2-4h0m0.5 4.5h0m1-4.5h0m1.5 4.5h0m1.5-2h0m0-3.5h0m2.5 0.5h0m0.5 6h0m1.5 0h0m2-2.5h0m0-3h0m2 6h0m1.5-5h0m1 4.5h0m3.5-5.5h0m0.5 5.5h0m2-5.5h0m1.5 1.5h0m1.5-1h0m0 5h0m1 0h0m2-5h0m2 1h0m0 4.5h0m2.5-6.5h0m1 0.5h0m1.5 4.5h0m2.5-5.5h0m0.5 5.5h0m2.5-6h0m0.5 4h0m2.5 1.5h0m1-5h0m1 5h0m2.5-3.5h0m0.5 4.5h0m1.5 1h0m1-6h0m1 5h0m2.5-4.5h0m1 4.5h0m2-1h0m0.5-5h0m1 0h0m2 6h0m1.5-5h0m1.5 5h0m1-4.5h0m1.5 4h0m0-4.5h0m1.5 0.5h0m1.5 5h0m2.5-5h0m0.5 4.5h0m2.5-0.5h0m0.5-4.5h0m0.5-1.5h0m2.5 1h0m0.5 0.5h0m0.5 4.5h0m0.5-5.5h0m3.5 1h0m1 0h0m0.5 4.5h0m0 0.5h0m2-4h0m1.5 2.5h0m0.5 4h0m2-2.5h0m0-5h0m2.5 0.5h0m0.5 4.5h0m2-0.5h0m0-4.5h0m3-1h0m0 0h0m2 2h0m0 3.5h0m1.5-0.5h0m1.5-4h0m1 0h0m0 4h0m0.5 0h0m3 0h0m1-4.5h0m0.5 4h0m2.5 1h0m2-4h0m1 4.5h0m0-4.5h0m2 5h0m0.5-4h0m1.5 3.5h0m2-5.5h0m0.5 4.5h0m2.5-4h0m1 5h0m1.5 0h0m1.5-3.5h0m1 3.5h0m0.5-4h0m3.5 4h0m0-5h0m1.5 5h0m0.5-4.5h0m1.5-0.5h0m0 4.5h0m2-3.5h0m0.5 4h0m2.5 1h0m1-5.5h0m1 4.5h0m1.5-6h0m1 6h0m1.5-7h0m0.5 5h0m1 2h0m0.5-6h0m0.5-3h0m1.5 8.5h0m2-8.5h0m0-4h0m0.5 12h0m0.5-2h0m2.5-9.5h0m0 6h0m0.5 5.5h0m2-1.5h0m0 1.5h0m0.5-9h0m1.5-1.5h0m0-4h0m1.5 10.5h0m0.5-11h0m0.5 6h0m0 7.5h0m1.5-11.5h0m1 13.5h0m0.5-1.5h0m0-6h0m0.5 9h0m1.5-19h0m0.5 8h0m0-9h0m1-5h0m0 19h0m0.5-8.5h0m1 11h0m0.5-15h0m0.5 13.5h0m1.5 4h0m0 2h0m0.5-11h0m0 9h0m0-13h0m1 6.5h0m0 9.5h0m1-21h0m0.5 19.5h0m0-20.5h0m0.5-3h0m0.5 12.5h0m0.5-5h0m1 11.5h0m1-18h0m0.5 11h0m1 9.5h0m0-13h0m0.5-3h0m1 12.5h0m1-17.5h0m0.5 0.5h0m0.5 16h0m0-8.5h0m0 1.5h0m0.5-4h0m0 13h0m0-16h0" stroke="#1f77b4" stroke-width="5.8" stroke-linecap="round" fill="none"/><path d="M112 1004.6 114 993.1 114 978.7 116 963.7 116 956.0 118 963.2 118 979.9 120 993.7 120 997.6 122 991.9 122 983.6 124 981.5 124 988.4 126 998.9 126 1006.1 128 1008.8 128 1007.6 130 1002.1 130 993.6 132 987.2 132 990.7 134 1003.9 134 1016.7 136 1021.4 136 1013.6 138 993.7 138 970.8 140 952.3 140 941.8 142 941.6 142 947.4 144 953.0 144 960.7 146 967.9 146 969.0 148 969.2 148 970.4 150 964.8 150 954.4 152 952.2 152 960.9 154 972.5 154 974.7 156 962.6 156 947.2 158 940.6 158 942.0 160 943.0 160 939.2 162 933.2 162 928.7 164 923.2 164 915.0 166 906.1 166 895.7 168 882.7 168 868.4 170 852.7 170 839.2 172 834.3 172 834.6 174 835.5 174 836.9 176 834.8 176 829.1 178 819.8 178 803.5 180 786.1 180 777.1 182 777.3 182 785.4 184 797.5 184 803.0 186 798.8 186 792.6 188 791.2 188 795.7 190 807.1 190 821.5 192 825.7 192 816.9 194 803.5 194 792.3 196 788.7 196 791.3 198 788.6 198 773.3 200 755.8 200 751.8 202 759.6 202 766.3 204 767.0 204 766.8 206 769.9 206 773.0 208 767.8 208 756.5 210 751.6 210 757.1 212 763.1 212 760.3 214 757.4 214 764.3 216 767.3 216 758.2 218 753.1 218 757.8 220 763.6 220 768.8 222 777.5 222 793.8 224 810.7 224 811.6 226 792.0 226 769.2 228 767.5 228 786.7 230 801.8 230 798.4 232 782.6 232 765.3 234 752.6 234 745.0 236 747.8 236 763.4 238 780.6 238 784.2 240 768.8 240 750.0 242 745.8 242 750.3 244 756.3 244 768.8 246 782.4 246 786.0 248 782.6 248 787.7 250 803.9 250 811.4 252 798.8 252 777.6 254 760.6 254 752.6 256 759.3 256 782.0 258 807.2 258 814.9 260 805.1 260 794.3 262 789.8 262 782.4 264 759.6 264 729.0 266 716.8 266 728.9 268 743.0 268 742.6 270 729.2 270 713.2 272 705.7 272 710.0 274 723.4 274 740.8 276 752.9 276 749.5 278 736.1 278 728.7 280 731.2 280 732.7 282 727.4 282 726.8 284 738.0 284 754.8 286 774.4 286 793.7 288 800.8 288 790.1 290 771.5 290 755.3 292 744.4 292 742.0 294 748.6 294 757.7 296 762.7 296 763.2 298 766.6 298 765.5 300 748.2 300 730.5 302 731.6 302 742.9 304 751.4 304 759.7 306 769.3 306 773.6 308 769.6 308 761.3 310 754.1 310 751.9 312 755.4 312 762.7 314 768.6 314 770.0 316 769.8 316 773.6 318 781.6 318 789.8 320 790.6 320 775.8 322 749.7 322 728.5 324 718.4 324 718.2 326 728.8 326 744.3 328 752.4 328 753.3 330 753.3 330 746.1 332 729.6 332 720.5 334 730.7 334 749.4 336 761.1 336 762.3 338 762.1 338 760.4 340 749.9 340 739.0 342 733.6 342 724.3 344 708.2 344 699.1 346 706.8 346 722.4 348 734.9 348 743.5 350 747.2 350 743.5 352 737.7 352 732.4 354 722.4 354 711.1 356 711.7 356 724.2 358 732.3 358 733.1 360 739.7 360 747.2 362 741.8 362 726.3 364 710.5 364 710.2 366 729.6 366 754.5 368 776.4 368 793.9 370 796.6 370 779.4 372 758.2 372 747.2 374 745.0 374 743.5 376 736.7 376 729.8 378 728.9 378 730.6 380 729.8 380 726.9 382 727.1 382 730.8 384 733.9 384 732.9 386 730.4 386 731.5 388 733.8 388 730.4 390 724.7 390 732.2 392 754.6 392 770.9 394 770.6 394 761.0 396 745.0 396 727.6 398 719.4 398 719.9 400 723.3 400 726.1 402 729.4 402 733.6 404 734.6 404 732.8 406 735.2 406 740.1 408 731.7 408 712.4 410 710.3 410 729.5 412 747.8 412 758.7 414 765.1 414 761.0 416 745.1 416 727.4 418 722.0 418 730.0 420 737.3 420 740.6 422 748.6 422 758.6 424 759.9 424 750.6 426 738.3 426 734.8 428 746.5 428 760.3 430 759.8 430 746.3 432 733.5 432 731.0 434 736.5 434 739.6 436 734.5 436 722.7 438 706.9 438 698.0 440 708.2 440 733.1 442 753.6 442 759.3 444 757.3 444 754.3 446 753.0 446 755.4 448 756.9 448 753.6 450 745.3 450 738.6 452 741.3 452 752.5 454 763.5 454 764.1 456 755.6 456 751.6 458 758.9 458 769.9 460 773.1 460 763.2 462 751.6 462 748.6 464 745.1 464 736.7 466 733.2 466 734.7 468 732.9 468 724.6 470 714.4 470 708.7 472 708.7 472 716.4 474 732.8 474 745.8 476 749.1 476 747.7 478 742.0 478 734.1 480 729.8 480 728.5 482 726.9 482 729.2 484 737.7 484 740.1 486 730.3 486 723.5 488 729.2 488 736.1 490 727.8 490 706.9 492 697.4 492 714.1 494 743.3 494 762.9 496 772.8 496 777.9 498 767.7 498 745.4 500 735.7 500 741.8 502 744.7 502 737.8 504 730.9 504 732.3 506 740.2 506 743.8 508 736.1 508 724.4 510 727.0 510 745.8 512 758.5 512 752.9 514 742.3 514 738.2 516 737.7 516 739.3 518 742.3 518 739.2 520 729.9 520 730.1 522 746.6 522 762.1 524 761.4 524 753.9 526 749.4 526 743.3 528 736.6 528 738.0 530 745.9 530 749.7 532 750.4 532 751.0 534 748.6 534 749.8 536 753.6 536 746.5 538 731.3 538 719.7 540 714.4 540 714.1 542 718.9 542 728.0 544 736.6 544 737.8 546 730.2 546 723.6 548 728.0 548 745.0 550 764.3 550 768.3 552 756.2 552 748.3 554 755.3 554 765.0 556 761.5 556 745.4 558 726.9 558 715.0 560 715.5 560 728.1 562 745.4 562 752.0 564 741.7 564 723.3 566 705.8 566 694.6 568 695.0 568 708.1 570 724.1 570 734.0 572 734.4 572 726.7 574 718.0 574 714.1 576 717.4 576 721.5 578 723.3 578 730.8 580 736.6 580 726.5 582 709.7 582 701.7 584 705.6 584 717.3 586 728.9 586 732.4 588 729.7 588 733.2 590 747.2 590 755.7 592 750.2 592 745.3 594 748.1 594 753.2 596 759.9 596 763.1 598 753.6 598 734.1 600 721.0 600 726.4 602 742.7 602 750.2 604 741.4 604 731.5 606 727.1 606 720.7 608 717.6 608 725.7 610 738.0 610 748.1 612 758.9 612 771.0 614 778.2 614 775.0 616 759.4 616 732.1 618 705.9 618 700.3 620 716.2 620 731.2 622 724.7 622 704.3 624 699.0 624 718.5 626 740.2 626 743.3 628 733.6 628 733.8 630 750.3 630 758.5 632 740.7 632 711.9 634 690.6 634 679.4 636 678.4 636 693.1 638 714.9 638 724.0 640 716.0 640 704.6 642 705.5 642 715.4 644 718.8 644 711.4 646 697.8 646 685.0 648 678.6 648 681.9 650 695.8 650 707.4 652 709.8 652 717.9 654 734.5 654 744.4 656 741.2 656 732.3 658 728.5 658 730.3 660 730.6 660 728.8 662 728.9 662 732.6 664 736.0 664 732.0 666 727.4 666 730.6 668 732.8 668 729.2 670 726.3 670 728.7 672 734.7 672 737.7 674 736.5 674 735.1 676 729.4 676 715.1 678 698.6 678 689.7 680 691.6 680 701.8 682 712.2 682 713.2 684 709.3 684 706.6 686 697.9 686 688.6 688 694.2 688 708.4 690 713.3 690 706.5 692 709.6 692 734.7 694 753.7 694 742.6 696 721.7 696 712.2 698 715.1 698 722.7 700 721.3 700 710.6 702 702.6 702 703.2 704 711.4 704 725.0 706 737.9 706 737.1 708 723.3 708 710.6 710 707.5 710 713.0 712 719.4 712 725.4 714 736.2 714 749.5 716 755.5 716 745.0 718 727.2 718 719.5 720 719.8 720 718.2 722 719.0 722 728.5 724 740.9 724 752.3 726 761.5 726 759.4 728 746.2 728 737.0 730 736.1 730 737.6 732 740.8 732 747.5 734 752.1 734 749.7 736 740.6 736 728.7 738 722.8 738 725.1 740 731.2 740 736.9 742 739.9 742 737.5 744 733.3 744 740.2 746 760.1 746 777.6 748 780.0 748 767.0 750 748.5 750 733.6 752 721.2 752 713.8 754 717.2 754 728.1 756 743.1 756 760.0 758 768.4 758 756.8 760 731.0 760 711.0 762 708.1 762 718.5 764 731.3 764 744.0 766 762.0 766 782.4 768 791.9 768 780.2 770 751.9 770 723.8 772 709.8 772 712.9 774 722.3 774 728.4 776 735.6 776 747.9 778 757.2 778 754.8 780 745.0 780 740.6 782 742.9 782 738.1 784 725.8 784 721.9 786 733.0 786 754.0 788 769.9 788 781.2 790 795.0 790 808.8 792 824.2 792 844.9 794 866.2 794 878.2 796 882.1 796 887.0 798 896.5 798 907.1 800 915.6 800 923.2 802 933.2 802 943.8 804 952.3 804 962.2 806 971.9 806 977.7 808 982.5 808 989.7 810 998.4 810 999.3 812 996.4 812 994.2 814 992.9 814 994.3 816 999.6 816 1006.3 818 1008.6 818 1008.3 820 1007.3 820 1008.7 822 1009.5 822 1007.9 824 1009.1 824 1008.6 826 1003.5 826 1000.5 828 1003.9 828 1010.8 830 1014.4 830 1013.8 832 1011.5 832 1009.8 834 1005.7 834 1000.1 836 997.2 836 997.4 838 999.8 838 1004.2 840 1007.6 840 1009.1 842 1012.8 842 1008.3 844 1005.7 844 1006.1 846 1007.4 846 1008.8 848 1011.2 848 1011.5 850 1008.3 850 1008.9 852 1012.3 852 1013.4 854 1012.5 854 1008.8 856 1006.1 856 1007.5 858 1011.1 858 1010.8 860 1007.4 860 1006.9 862 1010.4 862 1016.6 864 1007.7 864 1000.5 866 1001.4 866 1009.1 868 1015.7 868 1018.3 870 1019.3 870 1018.9 872 1017.2 872 1015.4 874 1014.9 874 1016.4 876 1018.4 876 1018.3 878 1018.1 878 1016.9 880 1013.6 880 1013.7 882 1016.8 882 1019.6 884 1018.9 884 1018.4 886 1020.3 886 1021.7 888 1021.6 888 1021.3 890 1022.1 890 1024.4 892 1026.7 892 1027.2 894 1026.2 894 1025.2 896 1024.6 896 1024.1 898 1024.1 898 1025.0 900 1025.9 900 1026.5 902 1026.9 902 1027.5 904 1027.9 904 1027.8 906 1027.8 906 1027.9 908 1027.6 908 1027.1 910 1026.7 910 1026.9 912 1027.2 912 1027.1 914 1026.9 914 1027.0 916 1026.9 916 1026.9 918 1027.1 918 1027.4 920 1027.6 920 1027.7 922 1027.6 922 1027.3 924 1027.1 924 1027.5 926 1028.2 926 1028.3 928 1028.0 928 1027.6 930 1027.5 930 1027.6 932 1027.8 932 1028.1 934 1028.3 934 1028.4 936 1028.4 936 1028.2 938 1028.0 938 1027.8 940 1027.7 940 1027.5 942 1027.2 942 1026.8 944 1026.5 944 1026.4 946 1026.3 946 1026.1 948 1026.1 948 1026.2 950 1026.3 950 1026.5 952 1026.8 952 1027.2 954 1027.7 954 1028.1 956 1028.1 956 1027.9 958 1027.8 958 1027.5 960 1027.4 960 1027.4 962 1027.2 962 1026.9 964 1026.7 964 1026.8 966 1027.2 966 1027.6 968 1028.0 968 1028.5 970 1028.6 970 1028.3 972 1027.9 972 1027.9 974 1028.2 974 1028.4 976 1028.0 976 1027.6 978 1027.6 978 1027.7 980 1028.0 980 1028.2 982 1028.4 982 1028.2 984 1027.8 984 1027.7 986 1028.0 986 1028.1 988 1028.1 988 1028.0 990 1027.8 990 1027.7 992 1027.6 992 1027.5 994 1027.7 994 1028.0 996 1027.7 996 1026.9 998 1026.6 998 1027.0 1000 1027.8 1000 1028.4 1002 1028.4 1002 1028.2 1004 1028.0 1004 1027.7 1006 1027.6 1006 1027.9 1008 1028.0 1008 1028.1 1010 1028.1 1010 1027.8 1012 1027.5 1012 1027.9 1014 1028.7 1014 1029.2 1016 1028.9 1016 1028.1 1018 1027.6 1018 1027.6 1020 1027.8 1020 1027.9 1022 1027.8 1022 1027.8 1024 1028.0 1024 1028.1 1026 1028.1 1026 1028.0 1028 1027.9 1028 1028.0 1030 1028.6 1030 1029.3 1032 1029.4 1032 1028.8 1034 1028.2 1034 1027.9 1036 1028.0 1036 1028.2 1038 1028.0 1038 1027.9 1040 1028.0 1040 1028.4 1042 1028.6 1042 1028.2 1044 1027.6 1044 1027.5 1046 1027.7 1046 1027.8 1048 1027.7 1048 1027.6 1050 1027.6 1050 1027.5 1052 1027.7 1052 1027.8 1054 1027.7 1054 1027.4 1056 1026.2 1056 1024.2 1058 1022.0 1058 1019.0 1060 1015.3 1060 1012.1 1062 1012.5 1062 1016.4 1064 1020.1 1064 1022.9 1066 1024.9 1066 1026.9 1068 1028.0 1068 1028.1 1070 1028.2 1070 1028.5 1072 1028.7 1072 1028.7 1074 1028.6 1074 1028.4 1076 1028.0 1076 1027.9 1078 1028.1 1078 1028.3 1080 1028.3 1080 1028.2 1082 1028.1 1082 1028.0 1084 1028.0 1084 1028.1 1086 1028.2 1086 1028.0 1088 1027.8 1088 1027.6 1090 1027.6 1090 1027.8 1092 1027.6 1092 1027.2 1094 1027.1 1094 1027.3 1096 1027.4 1096 1027.2 1098 1027.1 1098 1027.4 1100 1027.7 1100 1027.7 1102 1027.7 1102 1027.9 1104 1028.4 1104 1028.7 1106 1028.7 1106 1028.3 1108 1027.9 1108 1027.6 1110 1027.5 1110 1027.4 1112 1027.2 1112 1027.0 1114 1027.3 1114 1027.8 1116 1028.1 1116 1028.2 1118 1028.2 1118 1028.1 1120 1028.0 1120 1027.9 1122 1028.1 1122 1028.4 1124 1028.4 1124 1028.1 1126 1027.9 1126 1028.2 1128 1028.4 1128 1028.1 1130 1027.6 1130 1027.6 1132 1028.1 1132 1028.3 1134 1027.8 1134 1027.5 1136 1027.7 1136 1028.2 1138 1028.7 1138 1029.1 1140 1029.4 1140 1029.3 1142 1028.6 1142 1028.0 1144 1027.8 1144 1027.8 1146 1027.7 1146 1027.8 1148 1027.9 1148 1027.8 1150 1027.5 1150 1027.2 1152 1027.3 1152 1027.5 1154 1028.0 1154 1028.5 1156 1028.6 1156 1028.5 1158 1028.4 1158 1028.2 1160 1028.0 1160 1027.8 1162 1027.8 1162 1027.8 1164 1027.8 1164 1028.1 1166 1028.7 1166 1029.3 1168 1029.5 1168 1029.2 1170 1028.4 1170 1027.7 1172 1027.3 1172 1027.1 1174 1027.1 1174 1027.2 1176 1027.5 1176 1027.8 1178 1028.0 1178 1028.1 1180 1028.1 1180 1028.1 1182 1028.2 1182 1028.3 1184 1028.3 1184 1028.2 1186 1028.0 1186 1027.9 1188 1028.0 1188 1028.0 1190 1027.9 1190 1028.0 1192 1028.1 1192 1028.0 1194 1027.9 1194 1027.6 1196 1027.4 1196 1027.3 1198 1027.2 1198 1027.3 1200 1027.9 1200 1028.5 1202 1028.6 1202 1028.3 1204 1028.0 1204 1027.9 1206 1028.0 1206 1028.2 1208 1028.3 1208 1028.1 1210 1027.9 1210 1027.6 1212 1027.4 1212 1027.5 1214 1027.9 1214 1028.1 1216 1028.1 1216 1027.9 1218 1027.6 1218 1027.3 1220 1027.1 1220 1027.2 1222 1027.3 1222 1027.3 1224 1027.3 1224 1027.3 1226 1027.3 1226 1027.3 1228 1027.5 1228 1027.8 1230 1028.2 1230 1028.3 1232 1028.3 1232 1028.3 1234 1028.2 1234 1028.1 1236 1028.1 1236 1028.0 1238 1027.7 1238 1027.6 1240 1027.9 1240 1028.4 1242 1028.8 1242 1029.0 1244 1029.0 1244 1028.7 1246 1028.3 1246 1027.7 1248 1027.1 1248 1026.7 1250 1026.7 1250 1027.3 1252 1027.8 1252 1027.9 1254 1027.5 1254 1027.0 1256 1026.7 1256 1026.9 1258 1027.1 1258 1027.3 1260 1027.4 1260 1027.5 1262 1027.7 1262 1027.7 1264 1027.4 1264 1027.1 1266 1027.0 1266 1027.1 1268 1027.4 1268 1027.7 1270 1027.8 1270 1027.6 1272 1027.2 1272 1027.0 1274 1027.0 1274 1027.1 1276 1027.1 1276 1027.3 1278 1027.5 1278 1027.5 1280 1027.5 1280 1027.4 1282 1026.9 1282 1026.5 1284 1026.4 1284 1026.8 1286 1027.6 1286 1028.3 1288 1028.3 1288 1027.9 1290 1027.7 1290 1027.9 1292 1028.4 1292 1028.7 1294 1028.8 1294 1028.8 1296 1028.8 1296 1028.5 1298 1028.1 1298 1027.8 1300 1027.6 1300 1027.6 1302 1027.8 1302 1028.1 1304 1028.0 1304 1027.7 1306 1027.6 1306 1027.9 1308 1028.3 1308 1028.3 1310 1028.1 1310 1028.0 1312 1028.0 1312 1028.0 1314 1027.8 1314 1027.7 1316 1027.6 1316 1027.2 1318 1026.7 1318 1026.4 1320 1026.4 1320 1026.6 1322 1026.9 1322 1027.0 1324 1027.1 1324 1027.5 1326 1028.0 1326 1028.4 1328 1028.7 1328 1028.6 1330 1028.3 1330 1028.1 1332 1028.1 1332 1028.2 1334 1028.0 1334 1027.6 1336 1027.0 1336 1026.7 1338 1027.1 1338 1027.6 1340 1027.9 1340 1028.0 1342 1027.9 1342 1027.6 1344 1027.3 1344 1027.5 1346 1027.9 1346 1028.5 1348 1028.8 1348 1028.7 1350 1028.2 1350 1027.8 1352 1027.8 1352 1027.8 1354 1027.6 1354 1027.3 1356 1027.0 1356 1027.0 1358 1027.2 1358 1027.2 1360 1027.1 1360 1027.3 1362 1027.7 1362 1027.9 1364 1028.3 1364 1029.0 1366 1029.6 1366 1029.7 1368 1029.3 1368 1028.6 1370 1027.8 1370 1027.6 1372 1027.8 1372 1027.8 1374 1027.4 1374 1027.0 1376 1026.8 1376 1026.8 1378 1027.0 1378 1027.3 1380 1027.7 1380 1027.8 1382 1027.7 1382 1027.5 1384 1027.4 1384 1027.3 1386 1027.5 1386 1027.9 1388 1028.0 1388 1027.8 1390 1027.8 1390 1027.9 1392 1028.0 1392 1027.8 1394 1027.8 1394 1028.1 1396 1028.5 1396 1028.5 1398 1028.2 1398 1027.8 1400 1027.4 1400 1027.0 1402 1027.0 1402 1027.4 1404 1028.1 1404 1028.4 1406 1028.3 1406 1028.1 1408 1028.1 1408 1028.1 1410 1028.2 1410 1028.1 1412 1027.7 1412 1027.3 1414 1027.3 1414 1027.6 1416 1027.9 1416 1028.2 1418 1028.6 1418 1029.0 1420 1028.8 1420 1028.2 1422 1027.7 1422 1027.5 1424 1027.0 1424 1026.1 1426 1025.3 1426 1025.3 1428 1025.5 1428 1025.3 1430 1024.9 1430 1024.4 1432 1023.8 1432 1023.4 1434 1023.4 1434 1024.1 1436 1025.3 1436 1025.8 1438 1024.9 1438 1022.9 1440 1020.0 1440 1017.8 1442 1018.5 1442 1021.6 1444 1024.8 1444 1026.4 1446 1026.3 1446 1024.5 1448 1021.9 1448 1020.4 1450 1020.4 1450 1020.8 1452 1022.2 1452 1025.5 1454 1029.5 1454 1031.4 1456 1029.3 1456 1025.1 1458 1022.6 1458 1023.1 1460 1024.3 1460 1023.9 1462 1022.2 1462 1020.2 1464 1019.4 1464 1020.5" stroke="#ff7f0e" stroke-width="2.08" fill="none" stroke-linejoin="round"/></g><rect x="1048.2" y="584.9" width="405.1" height="80" rx="3" ry="3" fill="#fff" fill-opacity="0.8" stroke="#ccc" stroke-opacity="0.8" stroke-width="1.11"/><circle cx="1073.6" cy="599.7" r="2.9" fill="#1f77b4"/><path d="M1053.2 638.2H1092" stroke="#ff7f0e" stroke-width="2.08"/><text x="1106.5" y="605.3" font-size="17.0" text-anchor="start" textLength="98.5" lengthAdjust="spacingAndGlyphs">Raw Data</text><text x="1106.5" y="632.2" font-size="17.0" text-anchor="start" textLength="269" lengthAdjust="spacingAndGlyphs">Butterworth Filtered Data</text><text x="1106.5" y="653.2" font-size="17.0" text-anchor="start" textLength="338" lengthAdjust="spacingAndGlyphs">(N=6, Tc=3.3333 min, Type: low)</text><rect x="115.5" y="575.5" width="1346.8" height="478.9000000000001" fill="none" stroke="#000" stroke-width="1.11"/><path d="M115.5 1054.4v4.86M284.5 1054.4v4.86M452.5 1054.4v4.86M620.5 1054.4v4.86M789.5 1054.4v4.86M957.5 1054.4v4.86M1125.5 1054.4v4.86M1294.5 1054.4v4.86M115.5 622.5h-4.86M115.5 726.5h-4.86M115.5 830.5h-4.86M115.5 934.5h-4.86M115.5 1038.5h-4.86" stroke="#000" stroke-width="1.11" fill="none"/><text x="105.8" y="630.4" font-size="22.6" text-anchor="end" textLength="54.85" lengthAdjust="spacingAndGlyphs">0.08</text><text x="105.8" y="734.4" font-size="22.6" text-anchor="end" textLength="54.85" lengthAdjust="spacingAndGlyphs">0.06</text><text x="105.8" y="838.4" font-size="22.6" text-anchor="end" textLength="54.85" lengthAdjust="spacingAndGlyphs">0.04</text><text x="105.8" y="942.4" font-size="22.6" text-anchor="end" textLength="54.85" lengthAdjust="spacingAndGlyphs">0.02</text><text x="105.8" y="1046.4" font-size="22.6" text-anchor="end" textLength="54.85" lengthAdjust="spacingAndGlyphs">0.00</text><text x="118" y="566.4" font-size="27.2" text-anchor="start" textLength="38.5" lengthAdjust="spacingAndGlyphs">(b)</text><text transform="translate(40.1 816) rotate(-90)" x="0" y="0" font-size="22.6" text-anchor="middle" textLength="206" lengthAdjust="spacingAndGlyphs">Peak Voltage [V]</text><text transform="translate(112.0 1077.9) rotate(-30)" x="0" y="0" font-size="22.6" text-anchor="end" textLength="108" lengthAdjust="spacingAndGlyphs">03-26 00</text><text transform="translate(281.0 1077.9) rotate(-30)" x="0" y="0" font-size="22.6" text-anchor="end" textLength="108" lengthAdjust="spacingAndGlyphs">03-26 03</text><text transform="translate(449.0 1077.9) rotate(-30)" x="0" y="0" font-size="22.6" text-anchor="end" textLength="108" lengthAdjust="spacingAndGlyphs">03-26 06</text><text transform="translate(617.0 1077.9) rotate(-30)" x="0" y="0" font-size="22.6" text-anchor="end" textLength="108" lengthAdjust="spacingAndGlyphs">03-26 09</text><text transform="translate(786.0 1077.9) rotate(-30)" x="0" y="0" font-size="22.6" text-anchor="end" textLength="108" lengthAdjust="spacingAndGlyphs">03-26 12</text><text transform="translate(954.0 1077.9) rotate(-30)" x="0" y="0" font-size="22.6" text-anchor="end" textLength="108" lengthAdjust="spacingAndGlyphs">03-26 15</text><text transform="translate(1122.0 1077.9) rotate(-30)" x="0" y="0" font-size="22.6" text-anchor="end" textLength="108" lengthAdjust="spacingAndGlyphs">03-26 18</text><text transform="translate(1291.0 1077.9) rotate(-30)" x="0" y="0" font-size="22.6" text-anchor="end" textLength="108" lengthAdjust="spacingAndGlyphs">03-26 21</text><text x="789" y="1157.7" font-size="22.6" text-anchor="middle" textLength="47" lengthAdjust="spacingAndGlyphs">UTC</text></svg></body></html>
